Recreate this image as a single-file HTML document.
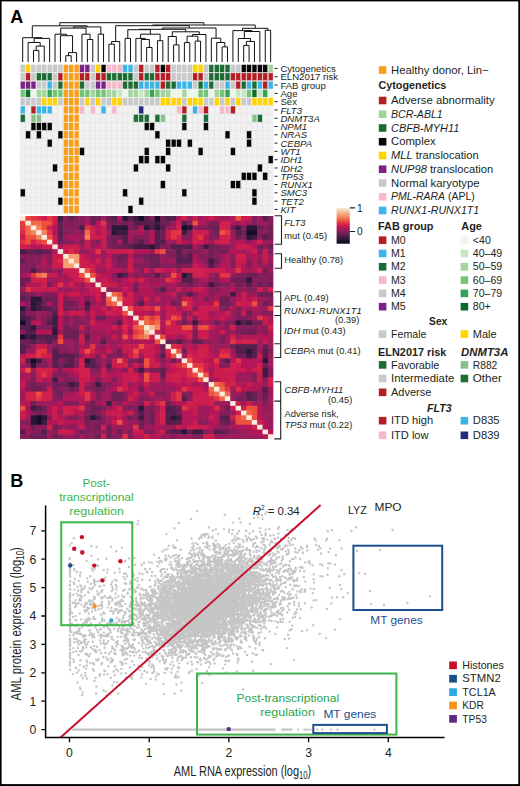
<!DOCTYPE html>
<html><head><meta charset="utf-8"><style>
html,body{margin:0;padding:0;background:#fff;width:520px;height:786px;overflow:hidden}
svg{display:block}
text{font-family:"Liberation Sans",sans-serif}
</style></head><body>
<svg width="520" height="786" viewBox="0 0 520 786" fill="#231f20">
<path d="M33.48 62.00V50.40H38.86V62.00M36.17 50.40V46.10H44.25V62.00M28.09 62.00V42.50H40.21V46.10M34.15 42.50V38.40H49.64V62.00M22.70 62.00V37.70H41.90V38.40M65.81 62.00V55.70H71.20V62.00M68.51 55.70V52.60H76.59V62.00M60.42 62.00V35.70H72.55V52.60M55.03 62.00V34.20H66.49V35.70M87.38 62.00V39.50H92.77V62.00M81.98 62.00V34.20H90.07V39.50M60.76 34.20V28.10H86.03V34.20M98.16 62.00V34.20H103.55V62.00M73.39 28.10V26.90H100.85V34.20M32.30 37.70V25.80H87.12V26.90M108.93 62.00V44.20H114.32V62.00M111.63 44.20V41.50H119.71V62.00M125.10 62.00V38.40H130.50V62.00M146.66 62.00V47.50H152.05V62.00M141.27 62.00V39.50H149.36V47.50M135.88 62.00V38.40H145.32V39.50M157.44 62.00V40.70H162.83V62.00M140.60 38.40V34.20H160.14V40.70M127.80 38.40V29.70H150.37V34.20M173.61 62.00V44.90H179.00V62.00M168.22 62.00V36.50H176.31V44.90M184.39 62.00V42.60H189.78V62.00M195.17 62.00V41.10H200.56V62.00M187.09 42.60V36.20H197.87V41.10M192.48 36.20V34.50H205.95V62.00M172.27 36.50V31.80H199.22V34.50M139.09 29.70V29.30H185.74V31.80M222.12 62.00V46.90H227.51V62.00M216.73 62.00V42.50H224.82V46.90M211.34 62.00V38.20H220.78V42.50M162.41 29.30V28.00H216.06V38.20M115.67 41.50V25.70H189.24V28.00M243.68 62.00V45.40H249.07V62.00M246.38 45.40V41.40H254.46V62.00M238.29 62.00V38.50H250.42V41.40M244.36 38.50V31.50H259.86V62.00M232.91 62.00V30.60H252.11V31.50M265.25 62.00V30.30H270.63V62.00M242.51 30.60V28.30H267.94V30.30M152.46 25.70V25.00H255.22V28.30M59.71 25.80V22.70H203.84V25.00" fill="none" stroke="#111" stroke-width="1"/>
<rect x="20.00" y="64.35" width="253.33" height="149.22" fill="#e3e3e3"/>
<rect x="25.74" y="106.15" width="4.69" height="7.59" fill="#f1f1f1"/><rect x="52.69" y="106.15" width="4.69" height="7.59" fill="#f1f1f1"/><rect x="58.08" y="106.15" width="4.69" height="7.59" fill="#f1f1f1"/><rect x="85.03" y="106.15" width="4.69" height="7.59" fill="#f1f1f1"/><rect x="95.81" y="106.15" width="4.69" height="7.59" fill="#f1f1f1"/><rect x="106.59" y="106.15" width="4.69" height="7.59" fill="#f1f1f1"/><rect x="117.37" y="106.15" width="4.69" height="7.59" fill="#f1f1f1"/><rect x="122.76" y="106.15" width="4.69" height="7.59" fill="#f1f1f1"/><rect x="128.15" y="106.15" width="4.69" height="7.59" fill="#f1f1f1"/><rect x="133.54" y="106.15" width="4.69" height="7.59" fill="#f1f1f1"/><rect x="144.32" y="106.15" width="4.69" height="7.59" fill="#f1f1f1"/><rect x="149.71" y="106.15" width="4.69" height="7.59" fill="#f1f1f1"/><rect x="155.10" y="106.15" width="4.69" height="7.59" fill="#f1f1f1"/><rect x="160.49" y="106.15" width="4.69" height="7.59" fill="#f1f1f1"/><rect x="165.88" y="106.15" width="4.69" height="7.59" fill="#f1f1f1"/><rect x="171.27" y="106.15" width="4.69" height="7.59" fill="#f1f1f1"/><rect x="187.44" y="106.15" width="4.69" height="7.59" fill="#f1f1f1"/><rect x="209.00" y="106.15" width="4.69" height="7.59" fill="#f1f1f1"/><rect x="214.39" y="106.15" width="4.69" height="7.59" fill="#f1f1f1"/><rect x="235.95" y="106.15" width="4.69" height="7.59" fill="#f1f1f1"/><rect x="241.34" y="106.15" width="4.69" height="7.59" fill="#f1f1f1"/><rect x="246.73" y="106.15" width="4.69" height="7.59" fill="#f1f1f1"/><rect x="252.12" y="106.15" width="4.69" height="7.59" fill="#f1f1f1"/><rect x="257.51" y="106.15" width="4.69" height="7.59" fill="#f1f1f1"/><rect x="262.90" y="106.15" width="4.69" height="7.59" fill="#f1f1f1"/><rect x="268.29" y="106.15" width="4.69" height="7.59" fill="#f1f1f1"/><rect x="25.74" y="114.44" width="4.69" height="7.59" fill="#f1f1f1"/><rect x="41.91" y="114.44" width="4.69" height="7.59" fill="#f1f1f1"/><rect x="47.30" y="114.44" width="4.69" height="7.59" fill="#f1f1f1"/><rect x="52.69" y="114.44" width="4.69" height="7.59" fill="#f1f1f1"/><rect x="58.08" y="114.44" width="4.69" height="7.59" fill="#f1f1f1"/><rect x="79.64" y="114.44" width="4.69" height="7.59" fill="#f1f1f1"/><rect x="85.03" y="114.44" width="4.69" height="7.59" fill="#f1f1f1"/><rect x="90.42" y="114.44" width="4.69" height="7.59" fill="#f1f1f1"/><rect x="95.81" y="114.44" width="4.69" height="7.59" fill="#f1f1f1"/><rect x="101.20" y="114.44" width="4.69" height="7.59" fill="#f1f1f1"/><rect x="106.59" y="114.44" width="4.69" height="7.59" fill="#f1f1f1"/><rect x="111.98" y="114.44" width="4.69" height="7.59" fill="#f1f1f1"/><rect x="117.37" y="114.44" width="4.69" height="7.59" fill="#f1f1f1"/><rect x="122.76" y="114.44" width="4.69" height="7.59" fill="#f1f1f1"/><rect x="128.15" y="114.44" width="4.69" height="7.59" fill="#f1f1f1"/><rect x="149.71" y="114.44" width="4.69" height="7.59" fill="#f1f1f1"/><rect x="165.88" y="114.44" width="4.69" height="7.59" fill="#f1f1f1"/><rect x="171.27" y="114.44" width="4.69" height="7.59" fill="#f1f1f1"/><rect x="176.66" y="114.44" width="4.69" height="7.59" fill="#f1f1f1"/><rect x="187.44" y="114.44" width="4.69" height="7.59" fill="#f1f1f1"/><rect x="192.83" y="114.44" width="4.69" height="7.59" fill="#f1f1f1"/><rect x="198.22" y="114.44" width="4.69" height="7.59" fill="#f1f1f1"/><rect x="209.00" y="114.44" width="4.69" height="7.59" fill="#f1f1f1"/><rect x="214.39" y="114.44" width="4.69" height="7.59" fill="#f1f1f1"/><rect x="219.78" y="114.44" width="4.69" height="7.59" fill="#f1f1f1"/><rect x="225.17" y="114.44" width="4.69" height="7.59" fill="#f1f1f1"/><rect x="230.56" y="114.44" width="4.69" height="7.59" fill="#f1f1f1"/><rect x="235.95" y="114.44" width="4.69" height="7.59" fill="#f1f1f1"/><rect x="241.34" y="114.44" width="4.69" height="7.59" fill="#f1f1f1"/><rect x="246.73" y="114.44" width="4.69" height="7.59" fill="#f1f1f1"/><rect x="262.90" y="114.44" width="4.69" height="7.59" fill="#f1f1f1"/><rect x="268.29" y="114.44" width="4.69" height="7.59" fill="#f1f1f1"/><rect x="20.35" y="122.73" width="4.69" height="7.59" fill="#f1f1f1"/><rect x="25.74" y="122.73" width="4.69" height="7.59" fill="#f1f1f1"/><rect x="52.69" y="122.73" width="4.69" height="7.59" fill="#f1f1f1"/><rect x="58.08" y="122.73" width="4.69" height="7.59" fill="#f1f1f1"/><rect x="79.64" y="122.73" width="4.69" height="7.59" fill="#f1f1f1"/><rect x="85.03" y="122.73" width="4.69" height="7.59" fill="#f1f1f1"/><rect x="90.42" y="122.73" width="4.69" height="7.59" fill="#f1f1f1"/><rect x="95.81" y="122.73" width="4.69" height="7.59" fill="#f1f1f1"/><rect x="101.20" y="122.73" width="4.69" height="7.59" fill="#f1f1f1"/><rect x="106.59" y="122.73" width="4.69" height="7.59" fill="#f1f1f1"/><rect x="111.98" y="122.73" width="4.69" height="7.59" fill="#f1f1f1"/><rect x="117.37" y="122.73" width="4.69" height="7.59" fill="#f1f1f1"/><rect x="122.76" y="122.73" width="4.69" height="7.59" fill="#f1f1f1"/><rect x="128.15" y="122.73" width="4.69" height="7.59" fill="#f1f1f1"/><rect x="133.54" y="122.73" width="4.69" height="7.59" fill="#f1f1f1"/><rect x="138.93" y="122.73" width="4.69" height="7.59" fill="#f1f1f1"/><rect x="155.10" y="122.73" width="4.69" height="7.59" fill="#f1f1f1"/><rect x="160.49" y="122.73" width="4.69" height="7.59" fill="#f1f1f1"/><rect x="165.88" y="122.73" width="4.69" height="7.59" fill="#f1f1f1"/><rect x="171.27" y="122.73" width="4.69" height="7.59" fill="#f1f1f1"/><rect x="176.66" y="122.73" width="4.69" height="7.59" fill="#f1f1f1"/><rect x="187.44" y="122.73" width="4.69" height="7.59" fill="#f1f1f1"/><rect x="192.83" y="122.73" width="4.69" height="7.59" fill="#f1f1f1"/><rect x="198.22" y="122.73" width="4.69" height="7.59" fill="#f1f1f1"/><rect x="209.00" y="122.73" width="4.69" height="7.59" fill="#f1f1f1"/><rect x="214.39" y="122.73" width="4.69" height="7.59" fill="#f1f1f1"/><rect x="219.78" y="122.73" width="4.69" height="7.59" fill="#f1f1f1"/><rect x="225.17" y="122.73" width="4.69" height="7.59" fill="#f1f1f1"/><rect x="230.56" y="122.73" width="4.69" height="7.59" fill="#f1f1f1"/><rect x="235.95" y="122.73" width="4.69" height="7.59" fill="#f1f1f1"/><rect x="241.34" y="122.73" width="4.69" height="7.59" fill="#f1f1f1"/><rect x="246.73" y="122.73" width="4.69" height="7.59" fill="#f1f1f1"/><rect x="252.12" y="122.73" width="4.69" height="7.59" fill="#f1f1f1"/><rect x="257.51" y="122.73" width="4.69" height="7.59" fill="#f1f1f1"/><rect x="262.90" y="122.73" width="4.69" height="7.59" fill="#f1f1f1"/><rect x="268.29" y="122.73" width="4.69" height="7.59" fill="#f1f1f1"/><rect x="20.35" y="131.02" width="4.69" height="7.59" fill="#f1f1f1"/><rect x="31.13" y="131.02" width="4.69" height="7.59" fill="#f1f1f1"/><rect x="41.91" y="131.02" width="4.69" height="7.59" fill="#f1f1f1"/><rect x="47.30" y="131.02" width="4.69" height="7.59" fill="#f1f1f1"/><rect x="52.69" y="131.02" width="4.69" height="7.59" fill="#f1f1f1"/><rect x="79.64" y="131.02" width="4.69" height="7.59" fill="#f1f1f1"/><rect x="85.03" y="131.02" width="4.69" height="7.59" fill="#f1f1f1"/><rect x="90.42" y="131.02" width="4.69" height="7.59" fill="#f1f1f1"/><rect x="95.81" y="131.02" width="4.69" height="7.59" fill="#f1f1f1"/><rect x="101.20" y="131.02" width="4.69" height="7.59" fill="#f1f1f1"/><rect x="106.59" y="131.02" width="4.69" height="7.59" fill="#f1f1f1"/><rect x="111.98" y="131.02" width="4.69" height="7.59" fill="#f1f1f1"/><rect x="117.37" y="131.02" width="4.69" height="7.59" fill="#f1f1f1"/><rect x="122.76" y="131.02" width="4.69" height="7.59" fill="#f1f1f1"/><rect x="128.15" y="131.02" width="4.69" height="7.59" fill="#f1f1f1"/><rect x="133.54" y="131.02" width="4.69" height="7.59" fill="#f1f1f1"/><rect x="138.93" y="131.02" width="4.69" height="7.59" fill="#f1f1f1"/><rect x="144.32" y="131.02" width="4.69" height="7.59" fill="#f1f1f1"/><rect x="149.71" y="131.02" width="4.69" height="7.59" fill="#f1f1f1"/><rect x="160.49" y="131.02" width="4.69" height="7.59" fill="#f1f1f1"/><rect x="165.88" y="131.02" width="4.69" height="7.59" fill="#f1f1f1"/><rect x="171.27" y="131.02" width="4.69" height="7.59" fill="#f1f1f1"/><rect x="176.66" y="131.02" width="4.69" height="7.59" fill="#f1f1f1"/><rect x="182.05" y="131.02" width="4.69" height="7.59" fill="#f1f1f1"/><rect x="187.44" y="131.02" width="4.69" height="7.59" fill="#f1f1f1"/><rect x="192.83" y="131.02" width="4.69" height="7.59" fill="#f1f1f1"/><rect x="198.22" y="131.02" width="4.69" height="7.59" fill="#f1f1f1"/><rect x="203.61" y="131.02" width="4.69" height="7.59" fill="#f1f1f1"/><rect x="209.00" y="131.02" width="4.69" height="7.59" fill="#f1f1f1"/><rect x="214.39" y="131.02" width="4.69" height="7.59" fill="#f1f1f1"/><rect x="219.78" y="131.02" width="4.69" height="7.59" fill="#f1f1f1"/><rect x="230.56" y="131.02" width="4.69" height="7.59" fill="#f1f1f1"/><rect x="235.95" y="131.02" width="4.69" height="7.59" fill="#f1f1f1"/><rect x="241.34" y="131.02" width="4.69" height="7.59" fill="#f1f1f1"/><rect x="252.12" y="131.02" width="4.69" height="7.59" fill="#f1f1f1"/><rect x="257.51" y="131.02" width="4.69" height="7.59" fill="#f1f1f1"/><rect x="262.90" y="131.02" width="4.69" height="7.59" fill="#f1f1f1"/><rect x="268.29" y="131.02" width="4.69" height="7.59" fill="#f1f1f1"/><rect x="20.35" y="139.31" width="4.69" height="7.59" fill="#f1f1f1"/><rect x="25.74" y="139.31" width="4.69" height="7.59" fill="#f1f1f1"/><rect x="31.13" y="139.31" width="4.69" height="7.59" fill="#f1f1f1"/><rect x="36.52" y="139.31" width="4.69" height="7.59" fill="#f1f1f1"/><rect x="41.91" y="139.31" width="4.69" height="7.59" fill="#f1f1f1"/><rect x="52.69" y="139.31" width="4.69" height="7.59" fill="#f1f1f1"/><rect x="58.08" y="139.31" width="4.69" height="7.59" fill="#f1f1f1"/><rect x="79.64" y="139.31" width="4.69" height="7.59" fill="#f1f1f1"/><rect x="85.03" y="139.31" width="4.69" height="7.59" fill="#f1f1f1"/><rect x="90.42" y="139.31" width="4.69" height="7.59" fill="#f1f1f1"/><rect x="95.81" y="139.31" width="4.69" height="7.59" fill="#f1f1f1"/><rect x="101.20" y="139.31" width="4.69" height="7.59" fill="#f1f1f1"/><rect x="106.59" y="139.31" width="4.69" height="7.59" fill="#f1f1f1"/><rect x="111.98" y="139.31" width="4.69" height="7.59" fill="#f1f1f1"/><rect x="117.37" y="139.31" width="4.69" height="7.59" fill="#f1f1f1"/><rect x="122.76" y="139.31" width="4.69" height="7.59" fill="#f1f1f1"/><rect x="128.15" y="139.31" width="4.69" height="7.59" fill="#f1f1f1"/><rect x="133.54" y="139.31" width="4.69" height="7.59" fill="#f1f1f1"/><rect x="138.93" y="139.31" width="4.69" height="7.59" fill="#f1f1f1"/><rect x="144.32" y="139.31" width="4.69" height="7.59" fill="#f1f1f1"/><rect x="149.71" y="139.31" width="4.69" height="7.59" fill="#f1f1f1"/><rect x="155.10" y="139.31" width="4.69" height="7.59" fill="#f1f1f1"/><rect x="160.49" y="139.31" width="4.69" height="7.59" fill="#f1f1f1"/><rect x="182.05" y="139.31" width="4.69" height="7.59" fill="#f1f1f1"/><rect x="192.83" y="139.31" width="4.69" height="7.59" fill="#f1f1f1"/><rect x="198.22" y="139.31" width="4.69" height="7.59" fill="#f1f1f1"/><rect x="203.61" y="139.31" width="4.69" height="7.59" fill="#f1f1f1"/><rect x="209.00" y="139.31" width="4.69" height="7.59" fill="#f1f1f1"/><rect x="214.39" y="139.31" width="4.69" height="7.59" fill="#f1f1f1"/><rect x="219.78" y="139.31" width="4.69" height="7.59" fill="#f1f1f1"/><rect x="225.17" y="139.31" width="4.69" height="7.59" fill="#f1f1f1"/><rect x="230.56" y="139.31" width="4.69" height="7.59" fill="#f1f1f1"/><rect x="235.95" y="139.31" width="4.69" height="7.59" fill="#f1f1f1"/><rect x="241.34" y="139.31" width="4.69" height="7.59" fill="#f1f1f1"/><rect x="252.12" y="139.31" width="4.69" height="7.59" fill="#f1f1f1"/><rect x="257.51" y="139.31" width="4.69" height="7.59" fill="#f1f1f1"/><rect x="262.90" y="139.31" width="4.69" height="7.59" fill="#f1f1f1"/><rect x="268.29" y="139.31" width="4.69" height="7.59" fill="#f1f1f1"/><rect x="20.35" y="147.60" width="4.69" height="7.59" fill="#f1f1f1"/><rect x="25.74" y="147.60" width="4.69" height="7.59" fill="#f1f1f1"/><rect x="31.13" y="147.60" width="4.69" height="7.59" fill="#f1f1f1"/><rect x="36.52" y="147.60" width="4.69" height="7.59" fill="#f1f1f1"/><rect x="41.91" y="147.60" width="4.69" height="7.59" fill="#f1f1f1"/><rect x="47.30" y="147.60" width="4.69" height="7.59" fill="#f1f1f1"/><rect x="52.69" y="147.60" width="4.69" height="7.59" fill="#f1f1f1"/><rect x="58.08" y="147.60" width="4.69" height="7.59" fill="#f1f1f1"/><rect x="85.03" y="147.60" width="4.69" height="7.59" fill="#f1f1f1"/><rect x="90.42" y="147.60" width="4.69" height="7.59" fill="#f1f1f1"/><rect x="95.81" y="147.60" width="4.69" height="7.59" fill="#f1f1f1"/><rect x="101.20" y="147.60" width="4.69" height="7.59" fill="#f1f1f1"/><rect x="106.59" y="147.60" width="4.69" height="7.59" fill="#f1f1f1"/><rect x="111.98" y="147.60" width="4.69" height="7.59" fill="#f1f1f1"/><rect x="117.37" y="147.60" width="4.69" height="7.59" fill="#f1f1f1"/><rect x="122.76" y="147.60" width="4.69" height="7.59" fill="#f1f1f1"/><rect x="128.15" y="147.60" width="4.69" height="7.59" fill="#f1f1f1"/><rect x="133.54" y="147.60" width="4.69" height="7.59" fill="#f1f1f1"/><rect x="138.93" y="147.60" width="4.69" height="7.59" fill="#f1f1f1"/><rect x="149.71" y="147.60" width="4.69" height="7.59" fill="#f1f1f1"/><rect x="155.10" y="147.60" width="4.69" height="7.59" fill="#f1f1f1"/><rect x="160.49" y="147.60" width="4.69" height="7.59" fill="#f1f1f1"/><rect x="171.27" y="147.60" width="4.69" height="7.59" fill="#f1f1f1"/><rect x="176.66" y="147.60" width="4.69" height="7.59" fill="#f1f1f1"/><rect x="182.05" y="147.60" width="4.69" height="7.59" fill="#f1f1f1"/><rect x="187.44" y="147.60" width="4.69" height="7.59" fill="#f1f1f1"/><rect x="192.83" y="147.60" width="4.69" height="7.59" fill="#f1f1f1"/><rect x="203.61" y="147.60" width="4.69" height="7.59" fill="#f1f1f1"/><rect x="209.00" y="147.60" width="4.69" height="7.59" fill="#f1f1f1"/><rect x="214.39" y="147.60" width="4.69" height="7.59" fill="#f1f1f1"/><rect x="219.78" y="147.60" width="4.69" height="7.59" fill="#f1f1f1"/><rect x="225.17" y="147.60" width="4.69" height="7.59" fill="#f1f1f1"/><rect x="235.95" y="147.60" width="4.69" height="7.59" fill="#f1f1f1"/><rect x="241.34" y="147.60" width="4.69" height="7.59" fill="#f1f1f1"/><rect x="246.73" y="147.60" width="4.69" height="7.59" fill="#f1f1f1"/><rect x="252.12" y="147.60" width="4.69" height="7.59" fill="#f1f1f1"/><rect x="257.51" y="147.60" width="4.69" height="7.59" fill="#f1f1f1"/><rect x="262.90" y="147.60" width="4.69" height="7.59" fill="#f1f1f1"/><rect x="268.29" y="147.60" width="4.69" height="7.59" fill="#f1f1f1"/><rect x="20.35" y="155.89" width="4.69" height="7.59" fill="#f1f1f1"/><rect x="25.74" y="155.89" width="4.69" height="7.59" fill="#f1f1f1"/><rect x="31.13" y="155.89" width="4.69" height="7.59" fill="#f1f1f1"/><rect x="36.52" y="155.89" width="4.69" height="7.59" fill="#f1f1f1"/><rect x="41.91" y="155.89" width="4.69" height="7.59" fill="#f1f1f1"/><rect x="47.30" y="155.89" width="4.69" height="7.59" fill="#f1f1f1"/><rect x="52.69" y="155.89" width="4.69" height="7.59" fill="#f1f1f1"/><rect x="58.08" y="155.89" width="4.69" height="7.59" fill="#f1f1f1"/><rect x="79.64" y="155.89" width="4.69" height="7.59" fill="#f1f1f1"/><rect x="85.03" y="155.89" width="4.69" height="7.59" fill="#f1f1f1"/><rect x="90.42" y="155.89" width="4.69" height="7.59" fill="#f1f1f1"/><rect x="95.81" y="155.89" width="4.69" height="7.59" fill="#f1f1f1"/><rect x="101.20" y="155.89" width="4.69" height="7.59" fill="#f1f1f1"/><rect x="106.59" y="155.89" width="4.69" height="7.59" fill="#f1f1f1"/><rect x="111.98" y="155.89" width="4.69" height="7.59" fill="#f1f1f1"/><rect x="117.37" y="155.89" width="4.69" height="7.59" fill="#f1f1f1"/><rect x="122.76" y="155.89" width="4.69" height="7.59" fill="#f1f1f1"/><rect x="128.15" y="155.89" width="4.69" height="7.59" fill="#f1f1f1"/><rect x="133.54" y="155.89" width="4.69" height="7.59" fill="#f1f1f1"/><rect x="149.71" y="155.89" width="4.69" height="7.59" fill="#f1f1f1"/><rect x="165.88" y="155.89" width="4.69" height="7.59" fill="#f1f1f1"/><rect x="171.27" y="155.89" width="4.69" height="7.59" fill="#f1f1f1"/><rect x="176.66" y="155.89" width="4.69" height="7.59" fill="#f1f1f1"/><rect x="182.05" y="155.89" width="4.69" height="7.59" fill="#f1f1f1"/><rect x="187.44" y="155.89" width="4.69" height="7.59" fill="#f1f1f1"/><rect x="192.83" y="155.89" width="4.69" height="7.59" fill="#f1f1f1"/><rect x="198.22" y="155.89" width="4.69" height="7.59" fill="#f1f1f1"/><rect x="203.61" y="155.89" width="4.69" height="7.59" fill="#f1f1f1"/><rect x="209.00" y="155.89" width="4.69" height="7.59" fill="#f1f1f1"/><rect x="214.39" y="155.89" width="4.69" height="7.59" fill="#f1f1f1"/><rect x="219.78" y="155.89" width="4.69" height="7.59" fill="#f1f1f1"/><rect x="225.17" y="155.89" width="4.69" height="7.59" fill="#f1f1f1"/><rect x="230.56" y="155.89" width="4.69" height="7.59" fill="#f1f1f1"/><rect x="235.95" y="155.89" width="4.69" height="7.59" fill="#f1f1f1"/><rect x="241.34" y="155.89" width="4.69" height="7.59" fill="#f1f1f1"/><rect x="246.73" y="155.89" width="4.69" height="7.59" fill="#f1f1f1"/><rect x="252.12" y="155.89" width="4.69" height="7.59" fill="#f1f1f1"/><rect x="257.51" y="155.89" width="4.69" height="7.59" fill="#f1f1f1"/><rect x="262.90" y="155.89" width="4.69" height="7.59" fill="#f1f1f1"/><rect x="20.35" y="164.18" width="4.69" height="7.59" fill="#f1f1f1"/><rect x="25.74" y="164.18" width="4.69" height="7.59" fill="#f1f1f1"/><rect x="31.13" y="164.18" width="4.69" height="7.59" fill="#f1f1f1"/><rect x="36.52" y="164.18" width="4.69" height="7.59" fill="#f1f1f1"/><rect x="41.91" y="164.18" width="4.69" height="7.59" fill="#f1f1f1"/><rect x="47.30" y="164.18" width="4.69" height="7.59" fill="#f1f1f1"/><rect x="58.08" y="164.18" width="4.69" height="7.59" fill="#f1f1f1"/><rect x="79.64" y="164.18" width="4.69" height="7.59" fill="#f1f1f1"/><rect x="85.03" y="164.18" width="4.69" height="7.59" fill="#f1f1f1"/><rect x="90.42" y="164.18" width="4.69" height="7.59" fill="#f1f1f1"/><rect x="95.81" y="164.18" width="4.69" height="7.59" fill="#f1f1f1"/><rect x="101.20" y="164.18" width="4.69" height="7.59" fill="#f1f1f1"/><rect x="106.59" y="164.18" width="4.69" height="7.59" fill="#f1f1f1"/><rect x="111.98" y="164.18" width="4.69" height="7.59" fill="#f1f1f1"/><rect x="117.37" y="164.18" width="4.69" height="7.59" fill="#f1f1f1"/><rect x="122.76" y="164.18" width="4.69" height="7.59" fill="#f1f1f1"/><rect x="128.15" y="164.18" width="4.69" height="7.59" fill="#f1f1f1"/><rect x="138.93" y="164.18" width="4.69" height="7.59" fill="#f1f1f1"/><rect x="144.32" y="164.18" width="4.69" height="7.59" fill="#f1f1f1"/><rect x="149.71" y="164.18" width="4.69" height="7.59" fill="#f1f1f1"/><rect x="155.10" y="164.18" width="4.69" height="7.59" fill="#f1f1f1"/><rect x="160.49" y="164.18" width="4.69" height="7.59" fill="#f1f1f1"/><rect x="171.27" y="164.18" width="4.69" height="7.59" fill="#f1f1f1"/><rect x="176.66" y="164.18" width="4.69" height="7.59" fill="#f1f1f1"/><rect x="182.05" y="164.18" width="4.69" height="7.59" fill="#f1f1f1"/><rect x="187.44" y="164.18" width="4.69" height="7.59" fill="#f1f1f1"/><rect x="192.83" y="164.18" width="4.69" height="7.59" fill="#f1f1f1"/><rect x="198.22" y="164.18" width="4.69" height="7.59" fill="#f1f1f1"/><rect x="203.61" y="164.18" width="4.69" height="7.59" fill="#f1f1f1"/><rect x="209.00" y="164.18" width="4.69" height="7.59" fill="#f1f1f1"/><rect x="214.39" y="164.18" width="4.69" height="7.59" fill="#f1f1f1"/><rect x="219.78" y="164.18" width="4.69" height="7.59" fill="#f1f1f1"/><rect x="225.17" y="164.18" width="4.69" height="7.59" fill="#f1f1f1"/><rect x="230.56" y="164.18" width="4.69" height="7.59" fill="#f1f1f1"/><rect x="235.95" y="164.18" width="4.69" height="7.59" fill="#f1f1f1"/><rect x="241.34" y="164.18" width="4.69" height="7.59" fill="#f1f1f1"/><rect x="246.73" y="164.18" width="4.69" height="7.59" fill="#f1f1f1"/><rect x="252.12" y="164.18" width="4.69" height="7.59" fill="#f1f1f1"/><rect x="262.90" y="164.18" width="4.69" height="7.59" fill="#f1f1f1"/><rect x="268.29" y="164.18" width="4.69" height="7.59" fill="#f1f1f1"/><rect x="20.35" y="172.47" width="4.69" height="7.59" fill="#f1f1f1"/><rect x="25.74" y="172.47" width="4.69" height="7.59" fill="#f1f1f1"/><rect x="31.13" y="172.47" width="4.69" height="7.59" fill="#f1f1f1"/><rect x="36.52" y="172.47" width="4.69" height="7.59" fill="#f1f1f1"/><rect x="41.91" y="172.47" width="4.69" height="7.59" fill="#f1f1f1"/><rect x="47.30" y="172.47" width="4.69" height="7.59" fill="#f1f1f1"/><rect x="52.69" y="172.47" width="4.69" height="7.59" fill="#f1f1f1"/><rect x="58.08" y="172.47" width="4.69" height="7.59" fill="#f1f1f1"/><rect x="79.64" y="172.47" width="4.69" height="7.59" fill="#f1f1f1"/><rect x="85.03" y="172.47" width="4.69" height="7.59" fill="#f1f1f1"/><rect x="90.42" y="172.47" width="4.69" height="7.59" fill="#f1f1f1"/><rect x="95.81" y="172.47" width="4.69" height="7.59" fill="#f1f1f1"/><rect x="101.20" y="172.47" width="4.69" height="7.59" fill="#f1f1f1"/><rect x="106.59" y="172.47" width="4.69" height="7.59" fill="#f1f1f1"/><rect x="111.98" y="172.47" width="4.69" height="7.59" fill="#f1f1f1"/><rect x="117.37" y="172.47" width="4.69" height="7.59" fill="#f1f1f1"/><rect x="122.76" y="172.47" width="4.69" height="7.59" fill="#f1f1f1"/><rect x="128.15" y="172.47" width="4.69" height="7.59" fill="#f1f1f1"/><rect x="133.54" y="172.47" width="4.69" height="7.59" fill="#f1f1f1"/><rect x="138.93" y="172.47" width="4.69" height="7.59" fill="#f1f1f1"/><rect x="144.32" y="172.47" width="4.69" height="7.59" fill="#f1f1f1"/><rect x="149.71" y="172.47" width="4.69" height="7.59" fill="#f1f1f1"/><rect x="155.10" y="172.47" width="4.69" height="7.59" fill="#f1f1f1"/><rect x="160.49" y="172.47" width="4.69" height="7.59" fill="#f1f1f1"/><rect x="165.88" y="172.47" width="4.69" height="7.59" fill="#f1f1f1"/><rect x="171.27" y="172.47" width="4.69" height="7.59" fill="#f1f1f1"/><rect x="176.66" y="172.47" width="4.69" height="7.59" fill="#f1f1f1"/><rect x="182.05" y="172.47" width="4.69" height="7.59" fill="#f1f1f1"/><rect x="187.44" y="172.47" width="4.69" height="7.59" fill="#f1f1f1"/><rect x="192.83" y="172.47" width="4.69" height="7.59" fill="#f1f1f1"/><rect x="198.22" y="172.47" width="4.69" height="7.59" fill="#f1f1f1"/><rect x="203.61" y="172.47" width="4.69" height="7.59" fill="#f1f1f1"/><rect x="209.00" y="172.47" width="4.69" height="7.59" fill="#f1f1f1"/><rect x="214.39" y="172.47" width="4.69" height="7.59" fill="#f1f1f1"/><rect x="219.78" y="172.47" width="4.69" height="7.59" fill="#f1f1f1"/><rect x="225.17" y="172.47" width="4.69" height="7.59" fill="#f1f1f1"/><rect x="230.56" y="172.47" width="4.69" height="7.59" fill="#f1f1f1"/><rect x="235.95" y="172.47" width="4.69" height="7.59" fill="#f1f1f1"/><rect x="257.51" y="172.47" width="4.69" height="7.59" fill="#f1f1f1"/><rect x="268.29" y="172.47" width="4.69" height="7.59" fill="#f1f1f1"/><rect x="20.35" y="180.76" width="4.69" height="7.59" fill="#f1f1f1"/><rect x="25.74" y="180.76" width="4.69" height="7.59" fill="#f1f1f1"/><rect x="31.13" y="180.76" width="4.69" height="7.59" fill="#f1f1f1"/><rect x="36.52" y="180.76" width="4.69" height="7.59" fill="#f1f1f1"/><rect x="41.91" y="180.76" width="4.69" height="7.59" fill="#f1f1f1"/><rect x="47.30" y="180.76" width="4.69" height="7.59" fill="#f1f1f1"/><rect x="52.69" y="180.76" width="4.69" height="7.59" fill="#f1f1f1"/><rect x="79.64" y="180.76" width="4.69" height="7.59" fill="#f1f1f1"/><rect x="85.03" y="180.76" width="4.69" height="7.59" fill="#f1f1f1"/><rect x="90.42" y="180.76" width="4.69" height="7.59" fill="#f1f1f1"/><rect x="95.81" y="180.76" width="4.69" height="7.59" fill="#f1f1f1"/><rect x="101.20" y="180.76" width="4.69" height="7.59" fill="#f1f1f1"/><rect x="106.59" y="180.76" width="4.69" height="7.59" fill="#f1f1f1"/><rect x="111.98" y="180.76" width="4.69" height="7.59" fill="#f1f1f1"/><rect x="117.37" y="180.76" width="4.69" height="7.59" fill="#f1f1f1"/><rect x="122.76" y="180.76" width="4.69" height="7.59" fill="#f1f1f1"/><rect x="128.15" y="180.76" width="4.69" height="7.59" fill="#f1f1f1"/><rect x="133.54" y="180.76" width="4.69" height="7.59" fill="#f1f1f1"/><rect x="138.93" y="180.76" width="4.69" height="7.59" fill="#f1f1f1"/><rect x="144.32" y="180.76" width="4.69" height="7.59" fill="#f1f1f1"/><rect x="149.71" y="180.76" width="4.69" height="7.59" fill="#f1f1f1"/><rect x="155.10" y="180.76" width="4.69" height="7.59" fill="#f1f1f1"/><rect x="165.88" y="180.76" width="4.69" height="7.59" fill="#f1f1f1"/><rect x="171.27" y="180.76" width="4.69" height="7.59" fill="#f1f1f1"/><rect x="176.66" y="180.76" width="4.69" height="7.59" fill="#f1f1f1"/><rect x="182.05" y="180.76" width="4.69" height="7.59" fill="#f1f1f1"/><rect x="187.44" y="180.76" width="4.69" height="7.59" fill="#f1f1f1"/><rect x="192.83" y="180.76" width="4.69" height="7.59" fill="#f1f1f1"/><rect x="198.22" y="180.76" width="4.69" height="7.59" fill="#f1f1f1"/><rect x="203.61" y="180.76" width="4.69" height="7.59" fill="#f1f1f1"/><rect x="209.00" y="180.76" width="4.69" height="7.59" fill="#f1f1f1"/><rect x="214.39" y="180.76" width="4.69" height="7.59" fill="#f1f1f1"/><rect x="219.78" y="180.76" width="4.69" height="7.59" fill="#f1f1f1"/><rect x="225.17" y="180.76" width="4.69" height="7.59" fill="#f1f1f1"/><rect x="241.34" y="180.76" width="4.69" height="7.59" fill="#f1f1f1"/><rect x="246.73" y="180.76" width="4.69" height="7.59" fill="#f1f1f1"/><rect x="252.12" y="180.76" width="4.69" height="7.59" fill="#f1f1f1"/><rect x="257.51" y="180.76" width="4.69" height="7.59" fill="#f1f1f1"/><rect x="262.90" y="180.76" width="4.69" height="7.59" fill="#f1f1f1"/><rect x="268.29" y="180.76" width="4.69" height="7.59" fill="#f1f1f1"/><rect x="25.74" y="189.05" width="4.69" height="7.59" fill="#f1f1f1"/><rect x="31.13" y="189.05" width="4.69" height="7.59" fill="#f1f1f1"/><rect x="36.52" y="189.05" width="4.69" height="7.59" fill="#f1f1f1"/><rect x="41.91" y="189.05" width="4.69" height="7.59" fill="#f1f1f1"/><rect x="47.30" y="189.05" width="4.69" height="7.59" fill="#f1f1f1"/><rect x="52.69" y="189.05" width="4.69" height="7.59" fill="#f1f1f1"/><rect x="58.08" y="189.05" width="4.69" height="7.59" fill="#f1f1f1"/><rect x="79.64" y="189.05" width="4.69" height="7.59" fill="#f1f1f1"/><rect x="85.03" y="189.05" width="4.69" height="7.59" fill="#f1f1f1"/><rect x="90.42" y="189.05" width="4.69" height="7.59" fill="#f1f1f1"/><rect x="95.81" y="189.05" width="4.69" height="7.59" fill="#f1f1f1"/><rect x="101.20" y="189.05" width="4.69" height="7.59" fill="#f1f1f1"/><rect x="106.59" y="189.05" width="4.69" height="7.59" fill="#f1f1f1"/><rect x="111.98" y="189.05" width="4.69" height="7.59" fill="#f1f1f1"/><rect x="117.37" y="189.05" width="4.69" height="7.59" fill="#f1f1f1"/><rect x="128.15" y="189.05" width="4.69" height="7.59" fill="#f1f1f1"/><rect x="133.54" y="189.05" width="4.69" height="7.59" fill="#f1f1f1"/><rect x="138.93" y="189.05" width="4.69" height="7.59" fill="#f1f1f1"/><rect x="144.32" y="189.05" width="4.69" height="7.59" fill="#f1f1f1"/><rect x="149.71" y="189.05" width="4.69" height="7.59" fill="#f1f1f1"/><rect x="155.10" y="189.05" width="4.69" height="7.59" fill="#f1f1f1"/><rect x="160.49" y="189.05" width="4.69" height="7.59" fill="#f1f1f1"/><rect x="165.88" y="189.05" width="4.69" height="7.59" fill="#f1f1f1"/><rect x="171.27" y="189.05" width="4.69" height="7.59" fill="#f1f1f1"/><rect x="176.66" y="189.05" width="4.69" height="7.59" fill="#f1f1f1"/><rect x="187.44" y="189.05" width="4.69" height="7.59" fill="#f1f1f1"/><rect x="192.83" y="189.05" width="4.69" height="7.59" fill="#f1f1f1"/><rect x="198.22" y="189.05" width="4.69" height="7.59" fill="#f1f1f1"/><rect x="203.61" y="189.05" width="4.69" height="7.59" fill="#f1f1f1"/><rect x="209.00" y="189.05" width="4.69" height="7.59" fill="#f1f1f1"/><rect x="214.39" y="189.05" width="4.69" height="7.59" fill="#f1f1f1"/><rect x="219.78" y="189.05" width="4.69" height="7.59" fill="#f1f1f1"/><rect x="225.17" y="189.05" width="4.69" height="7.59" fill="#f1f1f1"/><rect x="230.56" y="189.05" width="4.69" height="7.59" fill="#f1f1f1"/><rect x="235.95" y="189.05" width="4.69" height="7.59" fill="#f1f1f1"/><rect x="241.34" y="189.05" width="4.69" height="7.59" fill="#f1f1f1"/><rect x="246.73" y="189.05" width="4.69" height="7.59" fill="#f1f1f1"/><rect x="257.51" y="189.05" width="4.69" height="7.59" fill="#f1f1f1"/><rect x="262.90" y="189.05" width="4.69" height="7.59" fill="#f1f1f1"/><rect x="268.29" y="189.05" width="4.69" height="7.59" fill="#f1f1f1"/><rect x="20.35" y="197.34" width="4.69" height="7.59" fill="#f1f1f1"/><rect x="25.74" y="197.34" width="4.69" height="7.59" fill="#f1f1f1"/><rect x="31.13" y="197.34" width="4.69" height="7.59" fill="#f1f1f1"/><rect x="36.52" y="197.34" width="4.69" height="7.59" fill="#f1f1f1"/><rect x="41.91" y="197.34" width="4.69" height="7.59" fill="#f1f1f1"/><rect x="47.30" y="197.34" width="4.69" height="7.59" fill="#f1f1f1"/><rect x="52.69" y="197.34" width="4.69" height="7.59" fill="#f1f1f1"/><rect x="79.64" y="197.34" width="4.69" height="7.59" fill="#f1f1f1"/><rect x="85.03" y="197.34" width="4.69" height="7.59" fill="#f1f1f1"/><rect x="90.42" y="197.34" width="4.69" height="7.59" fill="#f1f1f1"/><rect x="95.81" y="197.34" width="4.69" height="7.59" fill="#f1f1f1"/><rect x="101.20" y="197.34" width="4.69" height="7.59" fill="#f1f1f1"/><rect x="106.59" y="197.34" width="4.69" height="7.59" fill="#f1f1f1"/><rect x="111.98" y="197.34" width="4.69" height="7.59" fill="#f1f1f1"/><rect x="117.37" y="197.34" width="4.69" height="7.59" fill="#f1f1f1"/><rect x="122.76" y="197.34" width="4.69" height="7.59" fill="#f1f1f1"/><rect x="128.15" y="197.34" width="4.69" height="7.59" fill="#f1f1f1"/><rect x="133.54" y="197.34" width="4.69" height="7.59" fill="#f1f1f1"/><rect x="144.32" y="197.34" width="4.69" height="7.59" fill="#f1f1f1"/><rect x="149.71" y="197.34" width="4.69" height="7.59" fill="#f1f1f1"/><rect x="155.10" y="197.34" width="4.69" height="7.59" fill="#f1f1f1"/><rect x="160.49" y="197.34" width="4.69" height="7.59" fill="#f1f1f1"/><rect x="165.88" y="197.34" width="4.69" height="7.59" fill="#f1f1f1"/><rect x="171.27" y="197.34" width="4.69" height="7.59" fill="#f1f1f1"/><rect x="176.66" y="197.34" width="4.69" height="7.59" fill="#f1f1f1"/><rect x="182.05" y="197.34" width="4.69" height="7.59" fill="#f1f1f1"/><rect x="187.44" y="197.34" width="4.69" height="7.59" fill="#f1f1f1"/><rect x="192.83" y="197.34" width="4.69" height="7.59" fill="#f1f1f1"/><rect x="198.22" y="197.34" width="4.69" height="7.59" fill="#f1f1f1"/><rect x="203.61" y="197.34" width="4.69" height="7.59" fill="#f1f1f1"/><rect x="209.00" y="197.34" width="4.69" height="7.59" fill="#f1f1f1"/><rect x="214.39" y="197.34" width="4.69" height="7.59" fill="#f1f1f1"/><rect x="219.78" y="197.34" width="4.69" height="7.59" fill="#f1f1f1"/><rect x="225.17" y="197.34" width="4.69" height="7.59" fill="#f1f1f1"/><rect x="230.56" y="197.34" width="4.69" height="7.59" fill="#f1f1f1"/><rect x="235.95" y="197.34" width="4.69" height="7.59" fill="#f1f1f1"/><rect x="241.34" y="197.34" width="4.69" height="7.59" fill="#f1f1f1"/><rect x="246.73" y="197.34" width="4.69" height="7.59" fill="#f1f1f1"/><rect x="257.51" y="197.34" width="4.69" height="7.59" fill="#f1f1f1"/><rect x="262.90" y="197.34" width="4.69" height="7.59" fill="#f1f1f1"/><rect x="268.29" y="197.34" width="4.69" height="7.59" fill="#f1f1f1"/><rect x="20.35" y="205.63" width="4.69" height="7.59" fill="#f1f1f1"/><rect x="25.74" y="205.63" width="4.69" height="7.59" fill="#f1f1f1"/><rect x="31.13" y="205.63" width="4.69" height="7.59" fill="#f1f1f1"/><rect x="36.52" y="205.63" width="4.69" height="7.59" fill="#f1f1f1"/><rect x="41.91" y="205.63" width="4.69" height="7.59" fill="#f1f1f1"/><rect x="47.30" y="205.63" width="4.69" height="7.59" fill="#f1f1f1"/><rect x="52.69" y="205.63" width="4.69" height="7.59" fill="#f1f1f1"/><rect x="58.08" y="205.63" width="4.69" height="7.59" fill="#f1f1f1"/><rect x="79.64" y="205.63" width="4.69" height="7.59" fill="#f1f1f1"/><rect x="85.03" y="205.63" width="4.69" height="7.59" fill="#f1f1f1"/><rect x="90.42" y="205.63" width="4.69" height="7.59" fill="#f1f1f1"/><rect x="95.81" y="205.63" width="4.69" height="7.59" fill="#f1f1f1"/><rect x="101.20" y="205.63" width="4.69" height="7.59" fill="#f1f1f1"/><rect x="106.59" y="205.63" width="4.69" height="7.59" fill="#f1f1f1"/><rect x="111.98" y="205.63" width="4.69" height="7.59" fill="#f1f1f1"/><rect x="117.37" y="205.63" width="4.69" height="7.59" fill="#f1f1f1"/><rect x="122.76" y="205.63" width="4.69" height="7.59" fill="#f1f1f1"/><rect x="133.54" y="205.63" width="4.69" height="7.59" fill="#f1f1f1"/><rect x="138.93" y="205.63" width="4.69" height="7.59" fill="#f1f1f1"/><rect x="144.32" y="205.63" width="4.69" height="7.59" fill="#f1f1f1"/><rect x="149.71" y="205.63" width="4.69" height="7.59" fill="#f1f1f1"/><rect x="155.10" y="205.63" width="4.69" height="7.59" fill="#f1f1f1"/><rect x="160.49" y="205.63" width="4.69" height="7.59" fill="#f1f1f1"/><rect x="165.88" y="205.63" width="4.69" height="7.59" fill="#f1f1f1"/><rect x="171.27" y="205.63" width="4.69" height="7.59" fill="#f1f1f1"/><rect x="176.66" y="205.63" width="4.69" height="7.59" fill="#f1f1f1"/><rect x="182.05" y="205.63" width="4.69" height="7.59" fill="#f1f1f1"/><rect x="187.44" y="205.63" width="4.69" height="7.59" fill="#f1f1f1"/><rect x="192.83" y="205.63" width="4.69" height="7.59" fill="#f1f1f1"/><rect x="198.22" y="205.63" width="4.69" height="7.59" fill="#f1f1f1"/><rect x="203.61" y="205.63" width="4.69" height="7.59" fill="#f1f1f1"/><rect x="209.00" y="205.63" width="4.69" height="7.59" fill="#f1f1f1"/><rect x="214.39" y="205.63" width="4.69" height="7.59" fill="#f1f1f1"/><rect x="219.78" y="205.63" width="4.69" height="7.59" fill="#f1f1f1"/><rect x="225.17" y="205.63" width="4.69" height="7.59" fill="#f1f1f1"/><rect x="230.56" y="205.63" width="4.69" height="7.59" fill="#f1f1f1"/><rect x="235.95" y="205.63" width="4.69" height="7.59" fill="#f1f1f1"/><rect x="241.34" y="205.63" width="4.69" height="7.59" fill="#f1f1f1"/><rect x="246.73" y="205.63" width="4.69" height="7.59" fill="#f1f1f1"/><rect x="252.12" y="205.63" width="4.69" height="7.59" fill="#f1f1f1"/><rect x="257.51" y="205.63" width="4.69" height="7.59" fill="#f1f1f1"/><rect x="262.90" y="205.63" width="4.69" height="7.59" fill="#f1f1f1"/><rect x="268.29" y="205.63" width="4.69" height="7.59" fill="#f1f1f1"/><rect x="20.25" y="64.60" width="4.89" height="7.79" fill="#c8c9cb" stroke="#f8f8f8" stroke-width="0.45"/><rect x="25.64" y="64.60" width="4.89" height="7.79" fill="#ffd400" stroke="#f8f8f8" stroke-width="0.45"/><rect x="31.03" y="64.60" width="4.89" height="7.79" fill="#c8c9cb" stroke="#f8f8f8" stroke-width="0.45"/><rect x="36.42" y="64.60" width="4.89" height="7.79" fill="#c8c9cb" stroke="#f8f8f8" stroke-width="0.45"/><rect x="41.81" y="64.60" width="4.89" height="7.79" fill="#c8c9cb" stroke="#f8f8f8" stroke-width="0.45"/><rect x="47.20" y="64.60" width="4.89" height="7.79" fill="#c8c9cb" stroke="#f8f8f8" stroke-width="0.45"/><rect x="52.59" y="64.60" width="4.89" height="7.79" fill="#c8c9cb" stroke="#f8f8f8" stroke-width="0.45"/><rect x="57.98" y="64.60" width="4.89" height="7.79" fill="#c8c9cb" stroke="#f8f8f8" stroke-width="0.45"/><rect x="63.37" y="64.60" width="4.89" height="7.79" fill="#f8a01b" stroke="#f8f8f8" stroke-width="0.45"/><rect x="68.76" y="64.60" width="4.89" height="7.79" fill="#f8a01b" stroke="#f8f8f8" stroke-width="0.45"/><rect x="74.15" y="64.60" width="4.89" height="7.79" fill="#f8a01b" stroke="#f8f8f8" stroke-width="0.45"/><rect x="79.54" y="64.60" width="4.89" height="7.79" fill="#7b2188" stroke="#f8f8f8" stroke-width="0.45"/><rect x="84.93" y="64.60" width="4.89" height="7.79" fill="#7b2188" stroke="#f8f8f8" stroke-width="0.45"/><rect x="90.32" y="64.60" width="4.89" height="7.79" fill="#c8c9cb" stroke="#f8f8f8" stroke-width="0.45"/><rect x="95.71" y="64.60" width="4.89" height="7.79" fill="#ffd400" stroke="#f8f8f8" stroke-width="0.45"/><rect x="101.10" y="64.60" width="4.89" height="7.79" fill="#050505" stroke="#f8f8f8" stroke-width="0.45"/><rect x="106.49" y="64.60" width="4.89" height="7.79" fill="#f6b8ca" stroke="#f8f8f8" stroke-width="0.45"/><rect x="111.88" y="64.60" width="4.89" height="7.79" fill="#f6b8ca" stroke="#f8f8f8" stroke-width="0.45"/><rect x="117.27" y="64.60" width="4.89" height="7.79" fill="#f6b8ca" stroke="#f8f8f8" stroke-width="0.45"/><rect x="122.66" y="64.60" width="4.89" height="7.79" fill="#3bb4e8" stroke="#f8f8f8" stroke-width="0.45"/><rect x="128.05" y="64.60" width="4.89" height="7.79" fill="#3bb4e8" stroke="#f8f8f8" stroke-width="0.45"/><rect x="133.44" y="64.60" width="4.89" height="7.79" fill="#c8c9cb" stroke="#f8f8f8" stroke-width="0.45"/><rect x="138.83" y="64.60" width="4.89" height="7.79" fill="#b31f24" stroke="#f8f8f8" stroke-width="0.45"/><rect x="144.22" y="64.60" width="4.89" height="7.79" fill="#c8c9cb" stroke="#f8f8f8" stroke-width="0.45"/><rect x="149.61" y="64.60" width="4.89" height="7.79" fill="#c8c9cb" stroke="#f8f8f8" stroke-width="0.45"/><rect x="155.00" y="64.60" width="4.89" height="7.79" fill="#b31f24" stroke="#f8f8f8" stroke-width="0.45"/><rect x="160.39" y="64.60" width="4.89" height="7.79" fill="#050505" stroke="#f8f8f8" stroke-width="0.45"/><rect x="165.78" y="64.60" width="4.89" height="7.79" fill="#b31f24" stroke="#f8f8f8" stroke-width="0.45"/><rect x="171.17" y="64.60" width="4.89" height="7.79" fill="#c8c9cb" stroke="#f8f8f8" stroke-width="0.45"/><rect x="176.56" y="64.60" width="4.89" height="7.79" fill="#c8c9cb" stroke="#f8f8f8" stroke-width="0.45"/><rect x="181.95" y="64.60" width="4.89" height="7.79" fill="#c8c9cb" stroke="#f8f8f8" stroke-width="0.45"/><rect x="187.34" y="64.60" width="4.89" height="7.79" fill="#c8c9cb" stroke="#f8f8f8" stroke-width="0.45"/><rect x="192.73" y="64.60" width="4.89" height="7.79" fill="#ffd400" stroke="#f8f8f8" stroke-width="0.45"/><rect x="198.12" y="64.60" width="4.89" height="7.79" fill="#ffd400" stroke="#f8f8f8" stroke-width="0.45"/><rect x="203.51" y="64.60" width="4.89" height="7.79" fill="#c8c9cb" stroke="#f8f8f8" stroke-width="0.45"/><rect x="208.90" y="64.60" width="4.89" height="7.79" fill="#1d6b35" stroke="#f8f8f8" stroke-width="0.45"/><rect x="214.29" y="64.60" width="4.89" height="7.79" fill="#1d6b35" stroke="#f8f8f8" stroke-width="0.45"/><rect x="219.68" y="64.60" width="4.89" height="7.79" fill="#1d6b35" stroke="#f8f8f8" stroke-width="0.45"/><rect x="225.07" y="64.60" width="4.89" height="7.79" fill="#1d6b35" stroke="#f8f8f8" stroke-width="0.45"/><rect x="230.46" y="64.60" width="4.89" height="7.79" fill="#c8c9cb" stroke="#f8f8f8" stroke-width="0.45"/><rect x="235.85" y="64.60" width="4.89" height="7.79" fill="#c8c9cb" stroke="#f8f8f8" stroke-width="0.45"/><rect x="241.24" y="64.60" width="4.89" height="7.79" fill="#050505" stroke="#f8f8f8" stroke-width="0.45"/><rect x="246.63" y="64.60" width="4.89" height="7.79" fill="#050505" stroke="#f8f8f8" stroke-width="0.45"/><rect x="252.02" y="64.60" width="4.89" height="7.79" fill="#050505" stroke="#f8f8f8" stroke-width="0.45"/><rect x="257.41" y="64.60" width="4.89" height="7.79" fill="#050505" stroke="#f8f8f8" stroke-width="0.45"/><rect x="262.80" y="64.60" width="4.89" height="7.79" fill="#050505" stroke="#f8f8f8" stroke-width="0.45"/><rect x="268.19" y="64.60" width="4.89" height="7.79" fill="#a1d49b" stroke="#f8f8f8" stroke-width="0.45"/><rect x="20.25" y="72.89" width="4.89" height="7.79" fill="#c8c9cb" stroke="#f8f8f8" stroke-width="0.45"/><rect x="25.64" y="72.89" width="4.89" height="7.79" fill="#b31f24" stroke="#f8f8f8" stroke-width="0.45"/><rect x="31.03" y="72.89" width="4.89" height="7.79" fill="#c8c9cb" stroke="#f8f8f8" stroke-width="0.45"/><rect x="36.42" y="72.89" width="4.89" height="7.79" fill="#1d6b35" stroke="#f8f8f8" stroke-width="0.45"/><rect x="41.81" y="72.89" width="4.89" height="7.79" fill="#1d6b35" stroke="#f8f8f8" stroke-width="0.45"/><rect x="47.20" y="72.89" width="4.89" height="7.79" fill="#1d6b35" stroke="#f8f8f8" stroke-width="0.45"/><rect x="52.59" y="72.89" width="4.89" height="7.79" fill="#c8c9cb" stroke="#f8f8f8" stroke-width="0.45"/><rect x="57.98" y="72.89" width="4.89" height="7.79" fill="#b31f24" stroke="#f8f8f8" stroke-width="0.45"/><rect x="63.37" y="72.89" width="4.89" height="7.79" fill="#f8a01b" stroke="#f8f8f8" stroke-width="0.45"/><rect x="68.76" y="72.89" width="4.89" height="7.79" fill="#f8a01b" stroke="#f8f8f8" stroke-width="0.45"/><rect x="74.15" y="72.89" width="4.89" height="7.79" fill="#f8a01b" stroke="#f8f8f8" stroke-width="0.45"/><rect x="79.54" y="72.89" width="4.89" height="7.79" fill="#b31f24" stroke="#f8f8f8" stroke-width="0.45"/><rect x="84.93" y="72.89" width="4.89" height="7.79" fill="#b31f24" stroke="#f8f8f8" stroke-width="0.45"/><rect x="90.32" y="72.89" width="4.89" height="7.79" fill="#c8c9cb" stroke="#f8f8f8" stroke-width="0.45"/><rect x="95.71" y="72.89" width="4.89" height="7.79" fill="#b31f24" stroke="#f8f8f8" stroke-width="0.45"/><rect x="101.10" y="72.89" width="4.89" height="7.79" fill="#b31f24" stroke="#f8f8f8" stroke-width="0.45"/><rect x="106.49" y="72.89" width="4.89" height="7.79" fill="#1d6b35" stroke="#f8f8f8" stroke-width="0.45"/><rect x="111.88" y="72.89" width="4.89" height="7.79" fill="#1d6b35" stroke="#f8f8f8" stroke-width="0.45"/><rect x="117.27" y="72.89" width="4.89" height="7.79" fill="#1d6b35" stroke="#f8f8f8" stroke-width="0.45"/><rect x="122.66" y="72.89" width="4.89" height="7.79" fill="#1d6b35" stroke="#f8f8f8" stroke-width="0.45"/><rect x="128.05" y="72.89" width="4.89" height="7.79" fill="#1d6b35" stroke="#f8f8f8" stroke-width="0.45"/><rect x="133.44" y="72.89" width="4.89" height="7.79" fill="#c8c9cb" stroke="#f8f8f8" stroke-width="0.45"/><rect x="138.83" y="72.89" width="4.89" height="7.79" fill="#b31f24" stroke="#f8f8f8" stroke-width="0.45"/><rect x="144.22" y="72.89" width="4.89" height="7.79" fill="#1d6b35" stroke="#f8f8f8" stroke-width="0.45"/><rect x="149.61" y="72.89" width="4.89" height="7.79" fill="#1d6b35" stroke="#f8f8f8" stroke-width="0.45"/><rect x="155.00" y="72.89" width="4.89" height="7.79" fill="#b31f24" stroke="#f8f8f8" stroke-width="0.45"/><rect x="160.39" y="72.89" width="4.89" height="7.79" fill="#b31f24" stroke="#f8f8f8" stroke-width="0.45"/><rect x="165.78" y="72.89" width="4.89" height="7.79" fill="#b31f24" stroke="#f8f8f8" stroke-width="0.45"/><rect x="171.17" y="72.89" width="4.89" height="7.79" fill="#c8c9cb" stroke="#f8f8f8" stroke-width="0.45"/><rect x="176.56" y="72.89" width="4.89" height="7.79" fill="#c8c9cb" stroke="#f8f8f8" stroke-width="0.45"/><rect x="181.95" y="72.89" width="4.89" height="7.79" fill="#c8c9cb" stroke="#f8f8f8" stroke-width="0.45"/><rect x="187.34" y="72.89" width="4.89" height="7.79" fill="#c8c9cb" stroke="#f8f8f8" stroke-width="0.45"/><rect x="192.73" y="72.89" width="4.89" height="7.79" fill="#b31f24" stroke="#f8f8f8" stroke-width="0.45"/><rect x="198.12" y="72.89" width="4.89" height="7.79" fill="#b31f24" stroke="#f8f8f8" stroke-width="0.45"/><rect x="203.51" y="72.89" width="4.89" height="7.79" fill="#c8c9cb" stroke="#f8f8f8" stroke-width="0.45"/><rect x="208.90" y="72.89" width="4.89" height="7.79" fill="#1d6b35" stroke="#f8f8f8" stroke-width="0.45"/><rect x="214.29" y="72.89" width="4.89" height="7.79" fill="#1d6b35" stroke="#f8f8f8" stroke-width="0.45"/><rect x="219.68" y="72.89" width="4.89" height="7.79" fill="#1d6b35" stroke="#f8f8f8" stroke-width="0.45"/><rect x="225.07" y="72.89" width="4.89" height="7.79" fill="#1d6b35" stroke="#f8f8f8" stroke-width="0.45"/><rect x="230.46" y="72.89" width="4.89" height="7.79" fill="#b31f24" stroke="#f8f8f8" stroke-width="0.45"/><rect x="235.85" y="72.89" width="4.89" height="7.79" fill="#b31f24" stroke="#f8f8f8" stroke-width="0.45"/><rect x="241.24" y="72.89" width="4.89" height="7.79" fill="#b31f24" stroke="#f8f8f8" stroke-width="0.45"/><rect x="246.63" y="72.89" width="4.89" height="7.79" fill="#b31f24" stroke="#f8f8f8" stroke-width="0.45"/><rect x="252.02" y="72.89" width="4.89" height="7.79" fill="#b31f24" stroke="#f8f8f8" stroke-width="0.45"/><rect x="257.41" y="72.89" width="4.89" height="7.79" fill="#b31f24" stroke="#f8f8f8" stroke-width="0.45"/><rect x="262.80" y="72.89" width="4.89" height="7.79" fill="#b31f24" stroke="#f8f8f8" stroke-width="0.45"/><rect x="268.19" y="72.89" width="4.89" height="7.79" fill="#b31f24" stroke="#f8f8f8" stroke-width="0.45"/><rect x="20.25" y="81.18" width="4.89" height="7.79" fill="#7b2188" stroke="#f8f8f8" stroke-width="0.45"/><rect x="25.64" y="81.18" width="4.89" height="7.79" fill="#7b2188" stroke="#f8f8f8" stroke-width="0.45"/><rect x="31.03" y="81.18" width="4.89" height="7.79" fill="#7b2188" stroke="#f8f8f8" stroke-width="0.45"/><rect x="36.42" y="81.18" width="4.89" height="7.79" fill="#c8c9cb" stroke="#f8f8f8" stroke-width="0.45"/><rect x="41.81" y="81.18" width="4.89" height="7.79" fill="#c8c9cb" stroke="#f8f8f8" stroke-width="0.45"/><rect x="47.20" y="81.18" width="4.89" height="7.79" fill="#3bb4e8" stroke="#f8f8f8" stroke-width="0.45"/><rect x="52.59" y="81.18" width="4.89" height="7.79" fill="#c8c9cb" stroke="#f8f8f8" stroke-width="0.45"/><rect x="57.98" y="81.18" width="4.89" height="7.79" fill="#1d6b35" stroke="#f8f8f8" stroke-width="0.45"/><rect x="63.37" y="81.18" width="4.89" height="7.79" fill="#f8a01b" stroke="#f8f8f8" stroke-width="0.45"/><rect x="68.76" y="81.18" width="4.89" height="7.79" fill="#f8a01b" stroke="#f8f8f8" stroke-width="0.45"/><rect x="74.15" y="81.18" width="4.89" height="7.79" fill="#f8a01b" stroke="#f8f8f8" stroke-width="0.45"/><rect x="79.54" y="81.18" width="4.89" height="7.79" fill="#1d6b35" stroke="#f8f8f8" stroke-width="0.45"/><rect x="84.93" y="81.18" width="4.89" height="7.79" fill="#c8c9cb" stroke="#f8f8f8" stroke-width="0.45"/><rect x="90.32" y="81.18" width="4.89" height="7.79" fill="#c8c9cb" stroke="#f8f8f8" stroke-width="0.45"/><rect x="95.71" y="81.18" width="4.89" height="7.79" fill="#7b2188" stroke="#f8f8f8" stroke-width="0.45"/><rect x="101.10" y="81.18" width="4.89" height="7.79" fill="#7b2188" stroke="#f8f8f8" stroke-width="0.45"/><rect x="106.49" y="81.18" width="4.89" height="7.79" fill="#f6b8ca" stroke="#f8f8f8" stroke-width="0.45"/><rect x="111.88" y="81.18" width="4.89" height="7.79" fill="#f6b8ca" stroke="#f8f8f8" stroke-width="0.45"/><rect x="117.27" y="81.18" width="4.89" height="7.79" fill="#f6b8ca" stroke="#f8f8f8" stroke-width="0.45"/><rect x="122.66" y="81.18" width="4.89" height="7.79" fill="#1d6b35" stroke="#f8f8f8" stroke-width="0.45"/><rect x="128.05" y="81.18" width="4.89" height="7.79" fill="#1d6b35" stroke="#f8f8f8" stroke-width="0.45"/><rect x="133.44" y="81.18" width="4.89" height="7.79" fill="#1d6b35" stroke="#f8f8f8" stroke-width="0.45"/><rect x="138.83" y="81.18" width="4.89" height="7.79" fill="#3bb4e8" stroke="#f8f8f8" stroke-width="0.45"/><rect x="144.22" y="81.18" width="4.89" height="7.79" fill="#3bb4e8" stroke="#f8f8f8" stroke-width="0.45"/><rect x="149.61" y="81.18" width="4.89" height="7.79" fill="#3bb4e8" stroke="#f8f8f8" stroke-width="0.45"/><rect x="155.00" y="81.18" width="4.89" height="7.79" fill="#3bb4e8" stroke="#f8f8f8" stroke-width="0.45"/><rect x="160.39" y="81.18" width="4.89" height="7.79" fill="#b31f24" stroke="#f8f8f8" stroke-width="0.45"/><rect x="165.78" y="81.18" width="4.89" height="7.79" fill="#1d6b35" stroke="#f8f8f8" stroke-width="0.45"/><rect x="171.17" y="81.18" width="4.89" height="7.79" fill="#1d6b35" stroke="#f8f8f8" stroke-width="0.45"/><rect x="176.56" y="81.18" width="4.89" height="7.79" fill="#3bb4e8" stroke="#f8f8f8" stroke-width="0.45"/><rect x="181.95" y="81.18" width="4.89" height="7.79" fill="#3bb4e8" stroke="#f8f8f8" stroke-width="0.45"/><rect x="187.34" y="81.18" width="4.89" height="7.79" fill="#3bb4e8" stroke="#f8f8f8" stroke-width="0.45"/><rect x="192.73" y="81.18" width="4.89" height="7.79" fill="#c8c9cb" stroke="#f8f8f8" stroke-width="0.45"/><rect x="198.12" y="81.18" width="4.89" height="7.79" fill="#1d6b35" stroke="#f8f8f8" stroke-width="0.45"/><rect x="203.51" y="81.18" width="4.89" height="7.79" fill="#3bb4e8" stroke="#f8f8f8" stroke-width="0.45"/><rect x="208.90" y="81.18" width="4.89" height="7.79" fill="#1d6b35" stroke="#f8f8f8" stroke-width="0.45"/><rect x="214.29" y="81.18" width="4.89" height="7.79" fill="#c8c9cb" stroke="#f8f8f8" stroke-width="0.45"/><rect x="219.68" y="81.18" width="4.89" height="7.79" fill="#c8c9cb" stroke="#f8f8f8" stroke-width="0.45"/><rect x="225.07" y="81.18" width="4.89" height="7.79" fill="#3bb4e8" stroke="#f8f8f8" stroke-width="0.45"/><rect x="230.46" y="81.18" width="4.89" height="7.79" fill="#c8c9cb" stroke="#f8f8f8" stroke-width="0.45"/><rect x="235.85" y="81.18" width="4.89" height="7.79" fill="#b31f24" stroke="#f8f8f8" stroke-width="0.45"/><rect x="241.24" y="81.18" width="4.89" height="7.79" fill="#1d6b35" stroke="#f8f8f8" stroke-width="0.45"/><rect x="246.63" y="81.18" width="4.89" height="7.79" fill="#3bb4e8" stroke="#f8f8f8" stroke-width="0.45"/><rect x="252.02" y="81.18" width="4.89" height="7.79" fill="#1d6b35" stroke="#f8f8f8" stroke-width="0.45"/><rect x="257.41" y="81.18" width="4.89" height="7.79" fill="#3bb4e8" stroke="#f8f8f8" stroke-width="0.45"/><rect x="262.80" y="81.18" width="4.89" height="7.79" fill="#b31f24" stroke="#f8f8f8" stroke-width="0.45"/><rect x="268.19" y="81.18" width="4.89" height="7.79" fill="#3bb4e8" stroke="#f8f8f8" stroke-width="0.45"/><rect x="20.25" y="89.47" width="4.89" height="7.79" fill="#74c477" stroke="#f8f8f8" stroke-width="0.45"/><rect x="25.64" y="89.47" width="4.89" height="7.79" fill="#0c6a2f" stroke="#f8f8f8" stroke-width="0.45"/><rect x="31.03" y="89.47" width="4.89" height="7.79" fill="#edf7e9" stroke="#f8f8f8" stroke-width="0.45"/><rect x="36.42" y="89.47" width="4.89" height="7.79" fill="#a2d69c" stroke="#f8f8f8" stroke-width="0.45"/><rect x="41.81" y="89.47" width="4.89" height="7.79" fill="#a2d69c" stroke="#f8f8f8" stroke-width="0.45"/><rect x="47.20" y="89.47" width="4.89" height="7.79" fill="#33a355" stroke="#f8f8f8" stroke-width="0.45"/><rect x="52.59" y="89.47" width="4.89" height="7.79" fill="#74c477" stroke="#f8f8f8" stroke-width="0.45"/><rect x="57.98" y="89.47" width="4.89" height="7.79" fill="#74c477" stroke="#f8f8f8" stroke-width="0.45"/><rect x="63.37" y="89.47" width="4.89" height="7.79" fill="#f8a01b" stroke="#f8f8f8" stroke-width="0.45"/><rect x="68.76" y="89.47" width="4.89" height="7.79" fill="#f8a01b" stroke="#f8f8f8" stroke-width="0.45"/><rect x="74.15" y="89.47" width="4.89" height="7.79" fill="#f8a01b" stroke="#f8f8f8" stroke-width="0.45"/><rect x="79.54" y="89.47" width="4.89" height="7.79" fill="#74c477" stroke="#f8f8f8" stroke-width="0.45"/><rect x="84.93" y="89.47" width="4.89" height="7.79" fill="#74c477" stroke="#f8f8f8" stroke-width="0.45"/><rect x="90.32" y="89.47" width="4.89" height="7.79" fill="#a2d69c" stroke="#f8f8f8" stroke-width="0.45"/><rect x="95.71" y="89.47" width="4.89" height="7.79" fill="#74c477" stroke="#f8f8f8" stroke-width="0.45"/><rect x="101.10" y="89.47" width="4.89" height="7.79" fill="#74c477" stroke="#f8f8f8" stroke-width="0.45"/><rect x="106.49" y="89.47" width="4.89" height="7.79" fill="#a2d69c" stroke="#f8f8f8" stroke-width="0.45"/><rect x="111.88" y="89.47" width="4.89" height="7.79" fill="#a2d69c" stroke="#f8f8f8" stroke-width="0.45"/><rect x="117.27" y="89.47" width="4.89" height="7.79" fill="#c8e7c1" stroke="#f8f8f8" stroke-width="0.45"/><rect x="122.66" y="89.47" width="4.89" height="7.79" fill="#edf7e9" stroke="#f8f8f8" stroke-width="0.45"/><rect x="128.05" y="89.47" width="4.89" height="7.79" fill="#a2d69c" stroke="#f8f8f8" stroke-width="0.45"/><rect x="133.44" y="89.47" width="4.89" height="7.79" fill="#a2d69c" stroke="#f8f8f8" stroke-width="0.45"/><rect x="138.83" y="89.47" width="4.89" height="7.79" fill="#c8e7c1" stroke="#f8f8f8" stroke-width="0.45"/><rect x="144.22" y="89.47" width="4.89" height="7.79" fill="#a2d69c" stroke="#f8f8f8" stroke-width="0.45"/><rect x="149.61" y="89.47" width="4.89" height="7.79" fill="#33a355" stroke="#f8f8f8" stroke-width="0.45"/><rect x="155.00" y="89.47" width="4.89" height="7.79" fill="#74c477" stroke="#f8f8f8" stroke-width="0.45"/><rect x="160.39" y="89.47" width="4.89" height="7.79" fill="#a2d69c" stroke="#f8f8f8" stroke-width="0.45"/><rect x="165.78" y="89.47" width="4.89" height="7.79" fill="#a2d69c" stroke="#f8f8f8" stroke-width="0.45"/><rect x="171.17" y="89.47" width="4.89" height="7.79" fill="#edf7e9" stroke="#f8f8f8" stroke-width="0.45"/><rect x="176.56" y="89.47" width="4.89" height="7.79" fill="#edf7e9" stroke="#f8f8f8" stroke-width="0.45"/><rect x="181.95" y="89.47" width="4.89" height="7.79" fill="#a2d69c" stroke="#f8f8f8" stroke-width="0.45"/><rect x="187.34" y="89.47" width="4.89" height="7.79" fill="#edf7e9" stroke="#f8f8f8" stroke-width="0.45"/><rect x="192.73" y="89.47" width="4.89" height="7.79" fill="#edf7e9" stroke="#f8f8f8" stroke-width="0.45"/><rect x="198.12" y="89.47" width="4.89" height="7.79" fill="#74c477" stroke="#f8f8f8" stroke-width="0.45"/><rect x="203.51" y="89.47" width="4.89" height="7.79" fill="#74c477" stroke="#f8f8f8" stroke-width="0.45"/><rect x="208.90" y="89.47" width="4.89" height="7.79" fill="#edf7e9" stroke="#f8f8f8" stroke-width="0.45"/><rect x="214.29" y="89.47" width="4.89" height="7.79" fill="#a2d69c" stroke="#f8f8f8" stroke-width="0.45"/><rect x="219.68" y="89.47" width="4.89" height="7.79" fill="#74c477" stroke="#f8f8f8" stroke-width="0.45"/><rect x="225.07" y="89.47" width="4.89" height="7.79" fill="#33a355" stroke="#f8f8f8" stroke-width="0.45"/><rect x="230.46" y="89.47" width="4.89" height="7.79" fill="#edf7e9" stroke="#f8f8f8" stroke-width="0.45"/><rect x="235.85" y="89.47" width="4.89" height="7.79" fill="#c8e7c1" stroke="#f8f8f8" stroke-width="0.45"/><rect x="241.24" y="89.47" width="4.89" height="7.79" fill="#c8e7c1" stroke="#f8f8f8" stroke-width="0.45"/><rect x="246.63" y="89.47" width="4.89" height="7.79" fill="#74c477" stroke="#f8f8f8" stroke-width="0.45"/><rect x="252.02" y="89.47" width="4.89" height="7.79" fill="#0c6a2f" stroke="#f8f8f8" stroke-width="0.45"/><rect x="257.41" y="89.47" width="4.89" height="7.79" fill="#c8e7c1" stroke="#f8f8f8" stroke-width="0.45"/><rect x="262.80" y="89.47" width="4.89" height="7.79" fill="#33a355" stroke="#f8f8f8" stroke-width="0.45"/><rect x="268.19" y="89.47" width="4.89" height="7.79" fill="#edf7e9" stroke="#f8f8f8" stroke-width="0.45"/><rect x="20.25" y="97.76" width="4.89" height="7.79" fill="#c8c9cb" stroke="#f8f8f8" stroke-width="0.45"/><rect x="25.64" y="97.76" width="4.89" height="7.79" fill="#c8c9cb" stroke="#f8f8f8" stroke-width="0.45"/><rect x="31.03" y="97.76" width="4.89" height="7.79" fill="#c8c9cb" stroke="#f8f8f8" stroke-width="0.45"/><rect x="36.42" y="97.76" width="4.89" height="7.79" fill="#c8c9cb" stroke="#f8f8f8" stroke-width="0.45"/><rect x="41.81" y="97.76" width="4.89" height="7.79" fill="#ffd400" stroke="#f8f8f8" stroke-width="0.45"/><rect x="47.20" y="97.76" width="4.89" height="7.79" fill="#ffd400" stroke="#f8f8f8" stroke-width="0.45"/><rect x="52.59" y="97.76" width="4.89" height="7.79" fill="#ffd400" stroke="#f8f8f8" stroke-width="0.45"/><rect x="57.98" y="97.76" width="4.89" height="7.79" fill="#c8c9cb" stroke="#f8f8f8" stroke-width="0.45"/><rect x="63.37" y="97.76" width="4.89" height="7.79" fill="#f8a01b" stroke="#f8f8f8" stroke-width="0.45"/><rect x="68.76" y="97.76" width="4.89" height="7.79" fill="#f8a01b" stroke="#f8f8f8" stroke-width="0.45"/><rect x="74.15" y="97.76" width="4.89" height="7.79" fill="#f8a01b" stroke="#f8f8f8" stroke-width="0.45"/><rect x="79.54" y="97.76" width="4.89" height="7.79" fill="#c8c9cb" stroke="#f8f8f8" stroke-width="0.45"/><rect x="84.93" y="97.76" width="4.89" height="7.79" fill="#ffd400" stroke="#f8f8f8" stroke-width="0.45"/><rect x="90.32" y="97.76" width="4.89" height="7.79" fill="#c8c9cb" stroke="#f8f8f8" stroke-width="0.45"/><rect x="95.71" y="97.76" width="4.89" height="7.79" fill="#ffd400" stroke="#f8f8f8" stroke-width="0.45"/><rect x="101.10" y="97.76" width="4.89" height="7.79" fill="#c8c9cb" stroke="#f8f8f8" stroke-width="0.45"/><rect x="106.49" y="97.76" width="4.89" height="7.79" fill="#c8c9cb" stroke="#f8f8f8" stroke-width="0.45"/><rect x="111.88" y="97.76" width="4.89" height="7.79" fill="#ffd400" stroke="#f8f8f8" stroke-width="0.45"/><rect x="117.27" y="97.76" width="4.89" height="7.79" fill="#ffd400" stroke="#f8f8f8" stroke-width="0.45"/><rect x="122.66" y="97.76" width="4.89" height="7.79" fill="#c8c9cb" stroke="#f8f8f8" stroke-width="0.45"/><rect x="128.05" y="97.76" width="4.89" height="7.79" fill="#c8c9cb" stroke="#f8f8f8" stroke-width="0.45"/><rect x="133.44" y="97.76" width="4.89" height="7.79" fill="#c8c9cb" stroke="#f8f8f8" stroke-width="0.45"/><rect x="138.83" y="97.76" width="4.89" height="7.79" fill="#c8c9cb" stroke="#f8f8f8" stroke-width="0.45"/><rect x="144.22" y="97.76" width="4.89" height="7.79" fill="#c8c9cb" stroke="#f8f8f8" stroke-width="0.45"/><rect x="149.61" y="97.76" width="4.89" height="7.79" fill="#c8c9cb" stroke="#f8f8f8" stroke-width="0.45"/><rect x="155.00" y="97.76" width="4.89" height="7.79" fill="#c8c9cb" stroke="#f8f8f8" stroke-width="0.45"/><rect x="160.39" y="97.76" width="4.89" height="7.79" fill="#ffd400" stroke="#f8f8f8" stroke-width="0.45"/><rect x="165.78" y="97.76" width="4.89" height="7.79" fill="#ffd400" stroke="#f8f8f8" stroke-width="0.45"/><rect x="171.17" y="97.76" width="4.89" height="7.79" fill="#ffd400" stroke="#f8f8f8" stroke-width="0.45"/><rect x="176.56" y="97.76" width="4.89" height="7.79" fill="#ffd400" stroke="#f8f8f8" stroke-width="0.45"/><rect x="181.95" y="97.76" width="4.89" height="7.79" fill="#c8c9cb" stroke="#f8f8f8" stroke-width="0.45"/><rect x="187.34" y="97.76" width="4.89" height="7.79" fill="#ffd400" stroke="#f8f8f8" stroke-width="0.45"/><rect x="192.73" y="97.76" width="4.89" height="7.79" fill="#ffd400" stroke="#f8f8f8" stroke-width="0.45"/><rect x="198.12" y="97.76" width="4.89" height="7.79" fill="#ffd400" stroke="#f8f8f8" stroke-width="0.45"/><rect x="203.51" y="97.76" width="4.89" height="7.79" fill="#c8c9cb" stroke="#f8f8f8" stroke-width="0.45"/><rect x="208.90" y="97.76" width="4.89" height="7.79" fill="#c8c9cb" stroke="#f8f8f8" stroke-width="0.45"/><rect x="214.29" y="97.76" width="4.89" height="7.79" fill="#ffd400" stroke="#f8f8f8" stroke-width="0.45"/><rect x="219.68" y="97.76" width="4.89" height="7.79" fill="#c8c9cb" stroke="#f8f8f8" stroke-width="0.45"/><rect x="225.07" y="97.76" width="4.89" height="7.79" fill="#ffd400" stroke="#f8f8f8" stroke-width="0.45"/><rect x="230.46" y="97.76" width="4.89" height="7.79" fill="#c8c9cb" stroke="#f8f8f8" stroke-width="0.45"/><rect x="235.85" y="97.76" width="4.89" height="7.79" fill="#ffd400" stroke="#f8f8f8" stroke-width="0.45"/><rect x="241.24" y="97.76" width="4.89" height="7.79" fill="#c8c9cb" stroke="#f8f8f8" stroke-width="0.45"/><rect x="246.63" y="97.76" width="4.89" height="7.79" fill="#c8c9cb" stroke="#f8f8f8" stroke-width="0.45"/><rect x="252.02" y="97.76" width="4.89" height="7.79" fill="#ffd400" stroke="#f8f8f8" stroke-width="0.45"/><rect x="257.41" y="97.76" width="4.89" height="7.79" fill="#ffd400" stroke="#f8f8f8" stroke-width="0.45"/><rect x="262.80" y="97.76" width="4.89" height="7.79" fill="#ffd400" stroke="#f8f8f8" stroke-width="0.45"/><rect x="268.19" y="97.76" width="4.89" height="7.79" fill="#ffd400" stroke="#f8f8f8" stroke-width="0.45"/><rect x="20.25" y="106.05" width="4.89" height="7.79" fill="#3bb4e8" stroke="#f8f8f8" stroke-width="0.45"/><rect x="31.03" y="106.05" width="4.89" height="7.79" fill="#b31f24" stroke="#f8f8f8" stroke-width="0.45"/><rect x="36.42" y="106.05" width="4.89" height="7.79" fill="#3bb4e8" stroke="#f8f8f8" stroke-width="0.45"/><rect x="41.81" y="106.05" width="4.89" height="7.79" fill="#3bb4e8" stroke="#f8f8f8" stroke-width="0.45"/><rect x="47.20" y="106.05" width="4.89" height="7.79" fill="#3bb4e8" stroke="#f8f8f8" stroke-width="0.45"/><rect x="63.37" y="106.05" width="4.89" height="7.79" fill="#f8a01b" stroke="#f8f8f8" stroke-width="0.45"/><rect x="68.76" y="106.05" width="4.89" height="7.79" fill="#f8a01b" stroke="#f8f8f8" stroke-width="0.45"/><rect x="74.15" y="106.05" width="4.89" height="7.79" fill="#f8a01b" stroke="#f8f8f8" stroke-width="0.45"/><rect x="79.54" y="106.05" width="4.89" height="7.79" fill="#f6b8ca" stroke="#f8f8f8" stroke-width="0.45"/><rect x="90.32" y="106.05" width="4.89" height="7.79" fill="#f6b8ca" stroke="#f8f8f8" stroke-width="0.45"/><rect x="101.10" y="106.05" width="4.89" height="7.79" fill="#3bb4e8" stroke="#f8f8f8" stroke-width="0.45"/><rect x="111.88" y="106.05" width="4.89" height="7.79" fill="#f6b8ca" stroke="#f8f8f8" stroke-width="0.45"/><rect x="138.83" y="106.05" width="4.89" height="7.79" fill="#242a7c" stroke="#f8f8f8" stroke-width="0.45"/><rect x="176.56" y="106.05" width="4.89" height="7.79" fill="#f6b8ca" stroke="#f8f8f8" stroke-width="0.45"/><rect x="181.95" y="106.05" width="4.89" height="7.79" fill="#b31f24" stroke="#f8f8f8" stroke-width="0.45"/><rect x="192.73" y="106.05" width="4.89" height="7.79" fill="#3bb4e8" stroke="#f8f8f8" stroke-width="0.45"/><rect x="198.12" y="106.05" width="4.89" height="7.79" fill="#f6b8ca" stroke="#f8f8f8" stroke-width="0.45"/><rect x="203.51" y="106.05" width="4.89" height="7.79" fill="#b31f24" stroke="#f8f8f8" stroke-width="0.45"/><rect x="219.68" y="106.05" width="4.89" height="7.79" fill="#f6b8ca" stroke="#f8f8f8" stroke-width="0.45"/><rect x="225.07" y="106.05" width="4.89" height="7.79" fill="#f6b8ca" stroke="#f8f8f8" stroke-width="0.45"/><rect x="230.46" y="106.05" width="4.89" height="7.79" fill="#b31f24" stroke="#f8f8f8" stroke-width="0.45"/><rect x="20.25" y="114.34" width="4.89" height="7.79" fill="#1d6b35" stroke="#f8f8f8" stroke-width="0.45"/><rect x="31.03" y="114.34" width="4.89" height="7.79" fill="#8ac08a" stroke="#f8f8f8" stroke-width="0.45"/><rect x="36.42" y="114.34" width="4.89" height="7.79" fill="#8ac08a" stroke="#f8f8f8" stroke-width="0.45"/><rect x="63.37" y="114.34" width="4.89" height="7.79" fill="#f8a01b" stroke="#f8f8f8" stroke-width="0.45"/><rect x="68.76" y="114.34" width="4.89" height="7.79" fill="#f8a01b" stroke="#f8f8f8" stroke-width="0.45"/><rect x="74.15" y="114.34" width="4.89" height="7.79" fill="#f8a01b" stroke="#f8f8f8" stroke-width="0.45"/><rect x="133.44" y="114.34" width="4.89" height="7.79" fill="#1d6b35" stroke="#f8f8f8" stroke-width="0.45"/><rect x="138.83" y="114.34" width="4.89" height="7.79" fill="#1d6b35" stroke="#f8f8f8" stroke-width="0.45"/><rect x="144.22" y="114.34" width="4.89" height="7.79" fill="#1d6b35" stroke="#f8f8f8" stroke-width="0.45"/><rect x="155.00" y="114.34" width="4.89" height="7.79" fill="#1d6b35" stroke="#f8f8f8" stroke-width="0.45"/><rect x="160.39" y="114.34" width="4.89" height="7.79" fill="#8ac08a" stroke="#f8f8f8" stroke-width="0.45"/><rect x="181.95" y="114.34" width="4.89" height="7.79" fill="#1d6b35" stroke="#f8f8f8" stroke-width="0.45"/><rect x="203.51" y="114.34" width="4.89" height="7.79" fill="#1d6b35" stroke="#f8f8f8" stroke-width="0.45"/><rect x="252.02" y="114.34" width="4.89" height="7.79" fill="#8ac08a" stroke="#f8f8f8" stroke-width="0.45"/><rect x="257.41" y="114.34" width="4.89" height="7.79" fill="#1d6b35" stroke="#f8f8f8" stroke-width="0.45"/><rect x="31.03" y="122.63" width="4.89" height="7.79" fill="#050505" stroke="#f8f8f8" stroke-width="0.45"/><rect x="36.42" y="122.63" width="4.89" height="7.79" fill="#050505" stroke="#f8f8f8" stroke-width="0.45"/><rect x="41.81" y="122.63" width="4.89" height="7.79" fill="#050505" stroke="#f8f8f8" stroke-width="0.45"/><rect x="47.20" y="122.63" width="4.89" height="7.79" fill="#050505" stroke="#f8f8f8" stroke-width="0.45"/><rect x="63.37" y="122.63" width="4.89" height="7.79" fill="#f8a01b" stroke="#f8f8f8" stroke-width="0.45"/><rect x="68.76" y="122.63" width="4.89" height="7.79" fill="#f8a01b" stroke="#f8f8f8" stroke-width="0.45"/><rect x="74.15" y="122.63" width="4.89" height="7.79" fill="#f8a01b" stroke="#f8f8f8" stroke-width="0.45"/><rect x="144.22" y="122.63" width="4.89" height="7.79" fill="#050505" stroke="#f8f8f8" stroke-width="0.45"/><rect x="149.61" y="122.63" width="4.89" height="7.79" fill="#050505" stroke="#f8f8f8" stroke-width="0.45"/><rect x="181.95" y="122.63" width="4.89" height="7.79" fill="#050505" stroke="#f8f8f8" stroke-width="0.45"/><rect x="203.51" y="122.63" width="4.89" height="7.79" fill="#050505" stroke="#f8f8f8" stroke-width="0.45"/><rect x="25.64" y="130.92" width="4.89" height="7.79" fill="#050505" stroke="#f8f8f8" stroke-width="0.45"/><rect x="36.42" y="130.92" width="4.89" height="7.79" fill="#050505" stroke="#f8f8f8" stroke-width="0.45"/><rect x="57.98" y="130.92" width="4.89" height="7.79" fill="#050505" stroke="#f8f8f8" stroke-width="0.45"/><rect x="63.37" y="130.92" width="4.89" height="7.79" fill="#f8a01b" stroke="#f8f8f8" stroke-width="0.45"/><rect x="68.76" y="130.92" width="4.89" height="7.79" fill="#f8a01b" stroke="#f8f8f8" stroke-width="0.45"/><rect x="74.15" y="130.92" width="4.89" height="7.79" fill="#f8a01b" stroke="#f8f8f8" stroke-width="0.45"/><rect x="155.00" y="130.92" width="4.89" height="7.79" fill="#050505" stroke="#f8f8f8" stroke-width="0.45"/><rect x="225.07" y="130.92" width="4.89" height="7.79" fill="#050505" stroke="#f8f8f8" stroke-width="0.45"/><rect x="246.63" y="130.92" width="4.89" height="7.79" fill="#050505" stroke="#f8f8f8" stroke-width="0.45"/><rect x="47.20" y="139.21" width="4.89" height="7.79" fill="#050505" stroke="#f8f8f8" stroke-width="0.45"/><rect x="63.37" y="139.21" width="4.89" height="7.79" fill="#f8a01b" stroke="#f8f8f8" stroke-width="0.45"/><rect x="68.76" y="139.21" width="4.89" height="7.79" fill="#f8a01b" stroke="#f8f8f8" stroke-width="0.45"/><rect x="74.15" y="139.21" width="4.89" height="7.79" fill="#f8a01b" stroke="#f8f8f8" stroke-width="0.45"/><rect x="165.78" y="139.21" width="4.89" height="7.79" fill="#050505" stroke="#f8f8f8" stroke-width="0.45"/><rect x="171.17" y="139.21" width="4.89" height="7.79" fill="#050505" stroke="#f8f8f8" stroke-width="0.45"/><rect x="176.56" y="139.21" width="4.89" height="7.79" fill="#050505" stroke="#f8f8f8" stroke-width="0.45"/><rect x="187.34" y="139.21" width="4.89" height="7.79" fill="#050505" stroke="#f8f8f8" stroke-width="0.45"/><rect x="246.63" y="139.21" width="4.89" height="7.79" fill="#050505" stroke="#f8f8f8" stroke-width="0.45"/><rect x="63.37" y="147.50" width="4.89" height="7.79" fill="#f8a01b" stroke="#f8f8f8" stroke-width="0.45"/><rect x="68.76" y="147.50" width="4.89" height="7.79" fill="#f8a01b" stroke="#f8f8f8" stroke-width="0.45"/><rect x="74.15" y="147.50" width="4.89" height="7.79" fill="#f8a01b" stroke="#f8f8f8" stroke-width="0.45"/><rect x="79.54" y="147.50" width="4.89" height="7.79" fill="#050505" stroke="#f8f8f8" stroke-width="0.45"/><rect x="144.22" y="147.50" width="4.89" height="7.79" fill="#050505" stroke="#f8f8f8" stroke-width="0.45"/><rect x="165.78" y="147.50" width="4.89" height="7.79" fill="#050505" stroke="#f8f8f8" stroke-width="0.45"/><rect x="198.12" y="147.50" width="4.89" height="7.79" fill="#050505" stroke="#f8f8f8" stroke-width="0.45"/><rect x="230.46" y="147.50" width="4.89" height="7.79" fill="#050505" stroke="#f8f8f8" stroke-width="0.45"/><rect x="63.37" y="155.79" width="4.89" height="7.79" fill="#f8a01b" stroke="#f8f8f8" stroke-width="0.45"/><rect x="68.76" y="155.79" width="4.89" height="7.79" fill="#f8a01b" stroke="#f8f8f8" stroke-width="0.45"/><rect x="74.15" y="155.79" width="4.89" height="7.79" fill="#f8a01b" stroke="#f8f8f8" stroke-width="0.45"/><rect x="138.83" y="155.79" width="4.89" height="7.79" fill="#050505" stroke="#f8f8f8" stroke-width="0.45"/><rect x="144.22" y="155.79" width="4.89" height="7.79" fill="#050505" stroke="#f8f8f8" stroke-width="0.45"/><rect x="155.00" y="155.79" width="4.89" height="7.79" fill="#050505" stroke="#f8f8f8" stroke-width="0.45"/><rect x="160.39" y="155.79" width="4.89" height="7.79" fill="#050505" stroke="#f8f8f8" stroke-width="0.45"/><rect x="268.19" y="155.79" width="4.89" height="7.79" fill="#050505" stroke="#f8f8f8" stroke-width="0.45"/><rect x="52.59" y="164.08" width="4.89" height="7.79" fill="#050505" stroke="#f8f8f8" stroke-width="0.45"/><rect x="63.37" y="164.08" width="4.89" height="7.79" fill="#f8a01b" stroke="#f8f8f8" stroke-width="0.45"/><rect x="68.76" y="164.08" width="4.89" height="7.79" fill="#f8a01b" stroke="#f8f8f8" stroke-width="0.45"/><rect x="74.15" y="164.08" width="4.89" height="7.79" fill="#f8a01b" stroke="#f8f8f8" stroke-width="0.45"/><rect x="133.44" y="164.08" width="4.89" height="7.79" fill="#050505" stroke="#f8f8f8" stroke-width="0.45"/><rect x="165.78" y="164.08" width="4.89" height="7.79" fill="#050505" stroke="#f8f8f8" stroke-width="0.45"/><rect x="257.41" y="164.08" width="4.89" height="7.79" fill="#050505" stroke="#f8f8f8" stroke-width="0.45"/><rect x="63.37" y="172.37" width="4.89" height="7.79" fill="#f8a01b" stroke="#f8f8f8" stroke-width="0.45"/><rect x="68.76" y="172.37" width="4.89" height="7.79" fill="#f8a01b" stroke="#f8f8f8" stroke-width="0.45"/><rect x="74.15" y="172.37" width="4.89" height="7.79" fill="#f8a01b" stroke="#f8f8f8" stroke-width="0.45"/><rect x="241.24" y="172.37" width="4.89" height="7.79" fill="#050505" stroke="#f8f8f8" stroke-width="0.45"/><rect x="246.63" y="172.37" width="4.89" height="7.79" fill="#050505" stroke="#f8f8f8" stroke-width="0.45"/><rect x="252.02" y="172.37" width="4.89" height="7.79" fill="#050505" stroke="#f8f8f8" stroke-width="0.45"/><rect x="262.80" y="172.37" width="4.89" height="7.79" fill="#050505" stroke="#f8f8f8" stroke-width="0.45"/><rect x="57.98" y="180.66" width="4.89" height="7.79" fill="#050505" stroke="#f8f8f8" stroke-width="0.45"/><rect x="63.37" y="180.66" width="4.89" height="7.79" fill="#f8a01b" stroke="#f8f8f8" stroke-width="0.45"/><rect x="68.76" y="180.66" width="4.89" height="7.79" fill="#f8a01b" stroke="#f8f8f8" stroke-width="0.45"/><rect x="74.15" y="180.66" width="4.89" height="7.79" fill="#f8a01b" stroke="#f8f8f8" stroke-width="0.45"/><rect x="160.39" y="180.66" width="4.89" height="7.79" fill="#050505" stroke="#f8f8f8" stroke-width="0.45"/><rect x="230.46" y="180.66" width="4.89" height="7.79" fill="#050505" stroke="#f8f8f8" stroke-width="0.45"/><rect x="235.85" y="180.66" width="4.89" height="7.79" fill="#050505" stroke="#f8f8f8" stroke-width="0.45"/><rect x="20.25" y="188.95" width="4.89" height="7.79" fill="#050505" stroke="#f8f8f8" stroke-width="0.45"/><rect x="63.37" y="188.95" width="4.89" height="7.79" fill="#f8a01b" stroke="#f8f8f8" stroke-width="0.45"/><rect x="68.76" y="188.95" width="4.89" height="7.79" fill="#f8a01b" stroke="#f8f8f8" stroke-width="0.45"/><rect x="74.15" y="188.95" width="4.89" height="7.79" fill="#f8a01b" stroke="#f8f8f8" stroke-width="0.45"/><rect x="122.66" y="188.95" width="4.89" height="7.79" fill="#050505" stroke="#f8f8f8" stroke-width="0.45"/><rect x="181.95" y="188.95" width="4.89" height="7.79" fill="#050505" stroke="#f8f8f8" stroke-width="0.45"/><rect x="252.02" y="188.95" width="4.89" height="7.79" fill="#050505" stroke="#f8f8f8" stroke-width="0.45"/><rect x="57.98" y="197.24" width="4.89" height="7.79" fill="#050505" stroke="#f8f8f8" stroke-width="0.45"/><rect x="63.37" y="197.24" width="4.89" height="7.79" fill="#f8a01b" stroke="#f8f8f8" stroke-width="0.45"/><rect x="68.76" y="197.24" width="4.89" height="7.79" fill="#f8a01b" stroke="#f8f8f8" stroke-width="0.45"/><rect x="74.15" y="197.24" width="4.89" height="7.79" fill="#f8a01b" stroke="#f8f8f8" stroke-width="0.45"/><rect x="138.83" y="197.24" width="4.89" height="7.79" fill="#050505" stroke="#f8f8f8" stroke-width="0.45"/><rect x="252.02" y="197.24" width="4.89" height="7.79" fill="#050505" stroke="#f8f8f8" stroke-width="0.45"/><rect x="63.37" y="205.53" width="4.89" height="7.79" fill="#f8a01b" stroke="#f8f8f8" stroke-width="0.45"/><rect x="68.76" y="205.53" width="4.89" height="7.79" fill="#f8a01b" stroke="#f8f8f8" stroke-width="0.45"/><rect x="74.15" y="205.53" width="4.89" height="7.79" fill="#f8a01b" stroke="#f8f8f8" stroke-width="0.45"/><rect x="128.05" y="205.53" width="4.89" height="7.79" fill="#050505" stroke="#f8f8f8" stroke-width="0.45"/>
<text x="280.40" y="72.09" font-size="9.6" fill="#231f20">Cytogenetics</text>
<text x="280.40" y="80.38" font-size="9.6" fill="#231f20">ELN2017 risk</text>
<text x="280.40" y="88.67" font-size="9.6" fill="#231f20">FAB group</text>
<text x="280.40" y="96.96" font-size="9.6" fill="#231f20">Age</text>
<text x="280.40" y="105.25" font-size="9.6" fill="#231f20">Sex</text>
<text x="280.40" y="113.54" font-size="9.6" font-style="italic" fill="#231f20">FLT3</text>
<text x="280.40" y="121.83" font-size="9.6" font-style="italic" fill="#231f20">DNMT3A</text>
<text x="280.40" y="130.12" font-size="9.6" font-style="italic" fill="#231f20">NPM1</text>
<text x="280.40" y="138.41" font-size="9.6" font-style="italic" fill="#231f20">NRAS</text>
<text x="280.40" y="146.70" font-size="9.6" font-style="italic" fill="#231f20">CEBPA</text>
<text x="280.40" y="154.99" font-size="9.6" font-style="italic" fill="#231f20">WT1</text>
<text x="280.40" y="163.28" font-size="9.6" font-style="italic" fill="#231f20">IDH1</text>
<text x="280.40" y="171.57" font-size="9.6" font-style="italic" fill="#231f20">IDH2</text>
<text x="280.40" y="179.86" font-size="9.6" font-style="italic" fill="#231f20">TP53</text>
<text x="280.40" y="188.15" font-size="9.6" font-style="italic" fill="#231f20">RUNX1</text>
<text x="280.40" y="196.44" font-size="9.6" font-style="italic" fill="#231f20">SMC3</text>
<text x="280.40" y="204.73" font-size="9.6" font-style="italic" fill="#231f20">TET2</text>
<text x="280.40" y="213.02" font-size="9.6" font-style="italic" fill="#231f20">KIT</text>
<path d="M274.6 68.49H277.6M274.6 76.78H277.6M274.6 85.07H277.6M274.6 93.36H277.6M274.6 101.65H277.6M274.6 109.94H277.6M274.6 118.23H277.6M274.6 126.52H277.6M274.6 134.81H277.6M274.6 143.10H277.6M274.6 151.39H277.6M274.6 159.69H277.6M274.6 167.97H277.6M274.6 176.26H277.6M274.6 184.55H277.6M274.6 192.84H277.6M274.6 201.13H277.6M274.6 209.42H277.6" stroke="#231f20" stroke-width="1"/>
<defs><clipPath id="hc"><rect x="20.0" y="216.0" width="253.33" height="223.02"/></clipPath></defs><g clip-path="url(#hc)"><rect x="20.00" y="216.00" width="5.99" height="5.34" fill="#faebdd"/><rect x="25.39" y="216.00" width="5.99" height="5.34" fill="#e9423e"/><rect x="30.78" y="216.00" width="5.99" height="5.34" fill="#e23442"/><rect x="36.17" y="216.00" width="5.99" height="5.34" fill="#db2946"/><rect x="41.56" y="216.00" width="5.99" height="5.34" fill="#cb1b4f"/><rect x="46.95" y="216.00" width="5.99" height="5.34" fill="#e23442"/><rect x="52.34" y="216.00" width="5.99" height="5.34" fill="#ce1d4e"/><rect x="57.73" y="216.00" width="5.99" height="5.34" fill="#3f1b43"/><rect x="63.12" y="216.00" width="5.99" height="5.34" fill="#841e5a"/><rect x="68.51" y="216.00" width="5.99" height="5.34" fill="#611f53"/><rect x="73.90" y="216.00" width="5.99" height="5.34" fill="#841e5a"/><rect x="79.29" y="216.00" width="5.99" height="5.34" fill="#841e5a"/><rect x="84.68" y="216.00" width="5.99" height="5.34" fill="#9c1b5b"/><rect x="90.07" y="216.00" width="5.99" height="5.34" fill="#6d1f56"/><rect x="95.46" y="216.00" width="5.99" height="5.34" fill="#6d1f56"/><rect x="100.85" y="216.00" width="5.99" height="5.34" fill="#9c1b5b"/><rect x="106.24" y="216.00" width="5.99" height="5.34" fill="#6d1f56"/><rect x="111.63" y="216.00" width="5.99" height="5.34" fill="#541e4e"/><rect x="117.02" y="216.00" width="5.99" height="5.34" fill="#b41658"/><rect x="122.41" y="216.00" width="5.99" height="5.34" fill="#2a1636"/><rect x="127.80" y="216.00" width="5.99" height="5.34" fill="#541e4e"/><rect x="133.19" y="216.00" width="5.99" height="5.34" fill="#3f1b43"/><rect x="138.58" y="216.00" width="5.99" height="5.34" fill="#160e27"/><rect x="143.97" y="216.00" width="5.99" height="5.34" fill="#541e4e"/><rect x="149.36" y="216.00" width="5.99" height="5.34" fill="#841e5a"/><rect x="154.75" y="216.00" width="5.99" height="5.34" fill="#160e27"/><rect x="160.14" y="216.00" width="5.99" height="5.34" fill="#6d1f56"/><rect x="165.53" y="216.00" width="5.99" height="5.34" fill="#541e4e"/><rect x="170.92" y="216.00" width="5.99" height="5.34" fill="#541e4e"/><rect x="176.31" y="216.00" width="5.99" height="5.34" fill="#b41658"/><rect x="181.70" y="216.00" width="5.99" height="5.34" fill="#d2204c"/><rect x="187.09" y="216.00" width="5.99" height="5.34" fill="#9c1b5b"/><rect x="192.48" y="216.00" width="5.99" height="5.34" fill="#cb1b4f"/><rect x="197.87" y="216.00" width="5.99" height="5.34" fill="#9c1b5b"/><rect x="203.26" y="216.00" width="5.99" height="5.34" fill="#b41658"/><rect x="208.65" y="216.00" width="5.99" height="5.34" fill="#cb1b4f"/><rect x="214.04" y="216.00" width="5.99" height="5.34" fill="#b41658"/><rect x="219.43" y="216.00" width="5.99" height="5.34" fill="#9c1b5b"/><rect x="224.82" y="216.00" width="5.99" height="5.34" fill="#9c1b5b"/><rect x="230.21" y="216.00" width="5.99" height="5.34" fill="#b41658"/><rect x="235.60" y="216.00" width="5.99" height="5.34" fill="#ed503e"/><rect x="240.99" y="216.00" width="5.99" height="5.34" fill="#cb1b4f"/><rect x="246.38" y="216.00" width="5.99" height="5.34" fill="#cb1b4f"/><rect x="251.77" y="216.00" width="5.99" height="5.34" fill="#841e5a"/><rect x="257.16" y="216.00" width="5.99" height="5.34" fill="#9c1b5b"/><rect x="262.55" y="216.00" width="5.99" height="5.34" fill="#541e4e"/><rect x="267.94" y="216.00" width="5.99" height="5.34" fill="#841e5a"/><rect x="20.00" y="220.75" width="5.99" height="5.34" fill="#e9423e"/><rect x="25.39" y="220.75" width="5.99" height="5.34" fill="#faebdd"/><rect x="30.78" y="220.75" width="5.99" height="5.34" fill="#f26b49"/><rect x="36.17" y="220.75" width="5.99" height="5.34" fill="#f26b49"/><rect x="41.56" y="220.75" width="5.99" height="5.34" fill="#ed503e"/><rect x="46.95" y="220.75" width="5.99" height="5.34" fill="#ed503e"/><rect x="52.34" y="220.75" width="5.99" height="5.34" fill="#cb1b4f"/><rect x="57.73" y="220.75" width="5.99" height="5.34" fill="#611f53"/><rect x="63.12" y="220.75" width="5.99" height="5.34" fill="#841e5a"/><rect x="68.51" y="220.75" width="5.99" height="5.34" fill="#841e5a"/><rect x="73.90" y="220.75" width="5.99" height="5.34" fill="#841e5a"/><rect x="79.29" y="220.75" width="5.99" height="5.34" fill="#841e5a"/><rect x="84.68" y="220.75" width="5.99" height="5.34" fill="#b41658"/><rect x="90.07" y="220.75" width="5.99" height="5.34" fill="#6d1f56"/><rect x="95.46" y="220.75" width="5.99" height="5.34" fill="#b41658"/><rect x="100.85" y="220.75" width="5.99" height="5.34" fill="#e23442"/><rect x="106.24" y="220.75" width="5.99" height="5.34" fill="#841e5a"/><rect x="111.63" y="220.75" width="5.99" height="5.34" fill="#6d1f56"/><rect x="117.02" y="220.75" width="5.99" height="5.34" fill="#841e5a"/><rect x="122.41" y="220.75" width="5.99" height="5.34" fill="#6d1f56"/><rect x="127.80" y="220.75" width="5.99" height="5.34" fill="#841e5a"/><rect x="133.19" y="220.75" width="5.99" height="5.34" fill="#541e4e"/><rect x="138.58" y="220.75" width="5.99" height="5.34" fill="#541e4e"/><rect x="143.97" y="220.75" width="5.99" height="5.34" fill="#541e4e"/><rect x="149.36" y="220.75" width="5.99" height="5.34" fill="#541e4e"/><rect x="154.75" y="220.75" width="5.99" height="5.34" fill="#3f1b43"/><rect x="160.14" y="220.75" width="5.99" height="5.34" fill="#6d1f56"/><rect x="165.53" y="220.75" width="5.99" height="5.34" fill="#6d1f56"/><rect x="170.92" y="220.75" width="5.99" height="5.34" fill="#9c1b5b"/><rect x="176.31" y="220.75" width="5.99" height="5.34" fill="#cb1b4f"/><rect x="181.70" y="220.75" width="5.99" height="5.34" fill="#541e4e"/><rect x="187.09" y="220.75" width="5.99" height="5.34" fill="#841e5a"/><rect x="192.48" y="220.75" width="5.99" height="5.34" fill="#ed503e"/><rect x="197.87" y="220.75" width="5.99" height="5.34" fill="#b41658"/><rect x="203.26" y="220.75" width="5.99" height="5.34" fill="#9c1b5b"/><rect x="208.65" y="220.75" width="5.99" height="5.34" fill="#841e5a"/><rect x="214.04" y="220.75" width="5.99" height="5.34" fill="#841e5a"/><rect x="219.43" y="220.75" width="5.99" height="5.34" fill="#d2204c"/><rect x="224.82" y="220.75" width="5.99" height="5.34" fill="#d2204c"/><rect x="230.21" y="220.75" width="5.99" height="5.34" fill="#b41658"/><rect x="235.60" y="220.75" width="5.99" height="5.34" fill="#9c1b5b"/><rect x="240.99" y="220.75" width="5.99" height="5.34" fill="#b41658"/><rect x="246.38" y="220.75" width="5.99" height="5.34" fill="#9c1b5b"/><rect x="251.77" y="220.75" width="5.99" height="5.34" fill="#841e5a"/><rect x="257.16" y="220.75" width="5.99" height="5.34" fill="#9c1b5b"/><rect x="262.55" y="220.75" width="5.99" height="5.34" fill="#9c1b5b"/><rect x="267.94" y="220.75" width="5.99" height="5.34" fill="#841e5a"/><rect x="20.00" y="225.49" width="5.99" height="5.34" fill="#e23442"/><rect x="25.39" y="225.49" width="5.99" height="5.34" fill="#f26b49"/><rect x="30.78" y="225.49" width="5.99" height="5.34" fill="#faebdd"/><rect x="36.17" y="225.49" width="5.99" height="5.34" fill="#f4845d"/><rect x="41.56" y="225.49" width="5.99" height="5.34" fill="#ed503e"/><rect x="46.95" y="225.49" width="5.99" height="5.34" fill="#d2204c"/><rect x="52.34" y="225.49" width="5.99" height="5.34" fill="#b41658"/><rect x="57.73" y="225.49" width="5.99" height="5.34" fill="#611f53"/><rect x="63.12" y="225.49" width="5.99" height="5.34" fill="#841e5a"/><rect x="68.51" y="225.49" width="5.99" height="5.34" fill="#841e5a"/><rect x="73.90" y="225.49" width="5.99" height="5.34" fill="#841e5a"/><rect x="79.29" y="225.49" width="5.99" height="5.34" fill="#491d49"/><rect x="84.68" y="225.49" width="5.99" height="5.34" fill="#e23442"/><rect x="90.07" y="225.49" width="5.99" height="5.34" fill="#d2204c"/><rect x="95.46" y="225.49" width="5.99" height="5.34" fill="#b41658"/><rect x="100.85" y="225.49" width="5.99" height="5.34" fill="#cb1b4f"/><rect x="106.24" y="225.49" width="5.99" height="5.34" fill="#841e5a"/><rect x="111.63" y="225.49" width="5.99" height="5.34" fill="#2a1636"/><rect x="117.02" y="225.49" width="5.99" height="5.34" fill="#2a1636"/><rect x="122.41" y="225.49" width="5.99" height="5.34" fill="#2a1636"/><rect x="127.80" y="225.49" width="5.99" height="5.34" fill="#841e5a"/><rect x="133.19" y="225.49" width="5.99" height="5.34" fill="#6d1f56"/><rect x="138.58" y="225.49" width="5.99" height="5.34" fill="#b41658"/><rect x="143.97" y="225.49" width="5.99" height="5.34" fill="#2a1636"/><rect x="149.36" y="225.49" width="5.99" height="5.34" fill="#541e4e"/><rect x="154.75" y="225.49" width="5.99" height="5.34" fill="#2a1636"/><rect x="160.14" y="225.49" width="5.99" height="5.34" fill="#541e4e"/><rect x="165.53" y="225.49" width="5.99" height="5.34" fill="#9c1b5b"/><rect x="170.92" y="225.49" width="5.99" height="5.34" fill="#9c1b5b"/><rect x="176.31" y="225.49" width="5.99" height="5.34" fill="#d2204c"/><rect x="181.70" y="225.49" width="5.99" height="5.34" fill="#160e27"/><rect x="187.09" y="225.49" width="5.99" height="5.34" fill="#2a1636"/><rect x="192.48" y="225.49" width="5.99" height="5.34" fill="#9c1b5b"/><rect x="197.87" y="225.49" width="5.99" height="5.34" fill="#841e5a"/><rect x="203.26" y="225.49" width="5.99" height="5.34" fill="#841e5a"/><rect x="208.65" y="225.49" width="5.99" height="5.34" fill="#6d1f56"/><rect x="214.04" y="225.49" width="5.99" height="5.34" fill="#6d1f56"/><rect x="219.43" y="225.49" width="5.99" height="5.34" fill="#d2204c"/><rect x="224.82" y="225.49" width="5.99" height="5.34" fill="#d2204c"/><rect x="230.21" y="225.49" width="5.99" height="5.34" fill="#6d1f56"/><rect x="235.60" y="225.49" width="5.99" height="5.34" fill="#3f1b43"/><rect x="240.99" y="225.49" width="5.99" height="5.34" fill="#841e5a"/><rect x="246.38" y="225.49" width="5.99" height="5.34" fill="#2a1636"/><rect x="251.77" y="225.49" width="5.99" height="5.34" fill="#2a1636"/><rect x="257.16" y="225.49" width="5.99" height="5.34" fill="#6d1f56"/><rect x="262.55" y="225.49" width="5.99" height="5.34" fill="#841e5a"/><rect x="267.94" y="225.49" width="5.99" height="5.34" fill="#6d1f56"/><rect x="20.00" y="230.24" width="5.99" height="5.34" fill="#db2946"/><rect x="25.39" y="230.24" width="5.99" height="5.34" fill="#f26b49"/><rect x="30.78" y="230.24" width="5.99" height="5.34" fill="#f4845d"/><rect x="36.17" y="230.24" width="5.99" height="5.34" fill="#faebdd"/><rect x="41.56" y="230.24" width="5.99" height="5.34" fill="#f4845d"/><rect x="46.95" y="230.24" width="5.99" height="5.34" fill="#e23442"/><rect x="52.34" y="230.24" width="5.99" height="5.34" fill="#b41658"/><rect x="57.73" y="230.24" width="5.99" height="5.34" fill="#541e4e"/><rect x="63.12" y="230.24" width="5.99" height="5.34" fill="#841e5a"/><rect x="68.51" y="230.24" width="5.99" height="5.34" fill="#841e5a"/><rect x="73.90" y="230.24" width="5.99" height="5.34" fill="#9c1b5b"/><rect x="79.29" y="230.24" width="5.99" height="5.34" fill="#841e5a"/><rect x="84.68" y="230.24" width="5.99" height="5.34" fill="#f26b49"/><rect x="90.07" y="230.24" width="5.99" height="5.34" fill="#d2204c"/><rect x="95.46" y="230.24" width="5.99" height="5.34" fill="#b41658"/><rect x="100.85" y="230.24" width="5.99" height="5.34" fill="#cb1b4f"/><rect x="106.24" y="230.24" width="5.99" height="5.34" fill="#9c1b5b"/><rect x="111.63" y="230.24" width="5.99" height="5.34" fill="#2a1636"/><rect x="117.02" y="230.24" width="5.99" height="5.34" fill="#3f1b43"/><rect x="122.41" y="230.24" width="5.99" height="5.34" fill="#3f1b43"/><rect x="127.80" y="230.24" width="5.99" height="5.34" fill="#9c1b5b"/><rect x="133.19" y="230.24" width="5.99" height="5.34" fill="#9c1b5b"/><rect x="138.58" y="230.24" width="5.99" height="5.34" fill="#b41658"/><rect x="143.97" y="230.24" width="5.99" height="5.34" fill="#841e5a"/><rect x="149.36" y="230.24" width="5.99" height="5.34" fill="#b41658"/><rect x="154.75" y="230.24" width="5.99" height="5.34" fill="#541e4e"/><rect x="160.14" y="230.24" width="5.99" height="5.34" fill="#6d1f56"/><rect x="165.53" y="230.24" width="5.99" height="5.34" fill="#cb1b4f"/><rect x="170.92" y="230.24" width="5.99" height="5.34" fill="#e23442"/><rect x="176.31" y="230.24" width="5.99" height="5.34" fill="#e23442"/><rect x="181.70" y="230.24" width="5.99" height="5.34" fill="#3f1b43"/><rect x="187.09" y="230.24" width="5.99" height="5.34" fill="#841e5a"/><rect x="192.48" y="230.24" width="5.99" height="5.34" fill="#d2204c"/><rect x="197.87" y="230.24" width="5.99" height="5.34" fill="#cb1b4f"/><rect x="203.26" y="230.24" width="5.99" height="5.34" fill="#cb1b4f"/><rect x="208.65" y="230.24" width="5.99" height="5.34" fill="#841e5a"/><rect x="214.04" y="230.24" width="5.99" height="5.34" fill="#6d1f56"/><rect x="219.43" y="230.24" width="5.99" height="5.34" fill="#ed503e"/><rect x="224.82" y="230.24" width="5.99" height="5.34" fill="#e23442"/><rect x="230.21" y="230.24" width="5.99" height="5.34" fill="#9c1b5b"/><rect x="235.60" y="230.24" width="5.99" height="5.34" fill="#541e4e"/><rect x="240.99" y="230.24" width="5.99" height="5.34" fill="#6d1f56"/><rect x="246.38" y="230.24" width="5.99" height="5.34" fill="#160e27"/><rect x="251.77" y="230.24" width="5.99" height="5.34" fill="#160e27"/><rect x="257.16" y="230.24" width="5.99" height="5.34" fill="#841e5a"/><rect x="262.55" y="230.24" width="5.99" height="5.34" fill="#841e5a"/><rect x="267.94" y="230.24" width="5.99" height="5.34" fill="#6d1f56"/><rect x="20.00" y="234.98" width="5.99" height="5.34" fill="#cb1b4f"/><rect x="25.39" y="234.98" width="5.99" height="5.34" fill="#ed503e"/><rect x="30.78" y="234.98" width="5.99" height="5.34" fill="#ed503e"/><rect x="36.17" y="234.98" width="5.99" height="5.34" fill="#f4845d"/><rect x="41.56" y="234.98" width="5.99" height="5.34" fill="#faebdd"/><rect x="46.95" y="234.98" width="5.99" height="5.34" fill="#ed503e"/><rect x="52.34" y="234.98" width="5.99" height="5.34" fill="#cb1b4f"/><rect x="57.73" y="234.98" width="5.99" height="5.34" fill="#611f53"/><rect x="63.12" y="234.98" width="5.99" height="5.34" fill="#9c1b5b"/><rect x="68.51" y="234.98" width="5.99" height="5.34" fill="#b41658"/><rect x="73.90" y="234.98" width="5.99" height="5.34" fill="#a8185a"/><rect x="79.29" y="234.98" width="5.99" height="5.34" fill="#9c1b5b"/><rect x="84.68" y="234.98" width="5.99" height="5.34" fill="#f4845d"/><rect x="90.07" y="234.98" width="5.99" height="5.34" fill="#d2204c"/><rect x="95.46" y="234.98" width="5.99" height="5.34" fill="#cb1b4f"/><rect x="100.85" y="234.98" width="5.99" height="5.34" fill="#cb1b4f"/><rect x="106.24" y="234.98" width="5.99" height="5.34" fill="#841e5a"/><rect x="111.63" y="234.98" width="5.99" height="5.34" fill="#6d1f56"/><rect x="117.02" y="234.98" width="5.99" height="5.34" fill="#6d1f56"/><rect x="122.41" y="234.98" width="5.99" height="5.34" fill="#541e4e"/><rect x="127.80" y="234.98" width="5.99" height="5.34" fill="#9c1b5b"/><rect x="133.19" y="234.98" width="5.99" height="5.34" fill="#841e5a"/><rect x="138.58" y="234.98" width="5.99" height="5.34" fill="#841e5a"/><rect x="143.97" y="234.98" width="5.99" height="5.34" fill="#841e5a"/><rect x="149.36" y="234.98" width="5.99" height="5.34" fill="#b41658"/><rect x="154.75" y="234.98" width="5.99" height="5.34" fill="#541e4e"/><rect x="160.14" y="234.98" width="5.99" height="5.34" fill="#6d1f56"/><rect x="165.53" y="234.98" width="5.99" height="5.34" fill="#cb1b4f"/><rect x="170.92" y="234.98" width="5.99" height="5.34" fill="#e23442"/><rect x="176.31" y="234.98" width="5.99" height="5.34" fill="#d2204c"/><rect x="181.70" y="234.98" width="5.99" height="5.34" fill="#841e5a"/><rect x="187.09" y="234.98" width="5.99" height="5.34" fill="#841e5a"/><rect x="192.48" y="234.98" width="5.99" height="5.34" fill="#d2204c"/><rect x="197.87" y="234.98" width="5.99" height="5.34" fill="#e23442"/><rect x="203.26" y="234.98" width="5.99" height="5.34" fill="#b41658"/><rect x="208.65" y="234.98" width="5.99" height="5.34" fill="#841e5a"/><rect x="214.04" y="234.98" width="5.99" height="5.34" fill="#841e5a"/><rect x="219.43" y="234.98" width="5.99" height="5.34" fill="#d2204c"/><rect x="224.82" y="234.98" width="5.99" height="5.34" fill="#d2204c"/><rect x="230.21" y="234.98" width="5.99" height="5.34" fill="#9c1b5b"/><rect x="235.60" y="234.98" width="5.99" height="5.34" fill="#6d1f56"/><rect x="240.99" y="234.98" width="5.99" height="5.34" fill="#841e5a"/><rect x="246.38" y="234.98" width="5.99" height="5.34" fill="#2a1636"/><rect x="251.77" y="234.98" width="5.99" height="5.34" fill="#3f1b43"/><rect x="257.16" y="234.98" width="5.99" height="5.34" fill="#841e5a"/><rect x="262.55" y="234.98" width="5.99" height="5.34" fill="#541e4e"/><rect x="267.94" y="234.98" width="5.99" height="5.34" fill="#6d1f56"/><rect x="20.00" y="239.72" width="5.99" height="5.34" fill="#e23442"/><rect x="25.39" y="239.72" width="5.99" height="5.34" fill="#ed503e"/><rect x="30.78" y="239.72" width="5.99" height="5.34" fill="#d2204c"/><rect x="36.17" y="239.72" width="5.99" height="5.34" fill="#e23442"/><rect x="41.56" y="239.72" width="5.99" height="5.34" fill="#ed503e"/><rect x="46.95" y="239.72" width="5.99" height="5.34" fill="#faebdd"/><rect x="52.34" y="239.72" width="5.99" height="5.34" fill="#cb1b4f"/><rect x="57.73" y="239.72" width="5.99" height="5.34" fill="#6d1f56"/><rect x="63.12" y="239.72" width="5.99" height="5.34" fill="#841e5a"/><rect x="68.51" y="239.72" width="5.99" height="5.34" fill="#841e5a"/><rect x="73.90" y="239.72" width="5.99" height="5.34" fill="#9c1b5b"/><rect x="79.29" y="239.72" width="5.99" height="5.34" fill="#841e5a"/><rect x="84.68" y="239.72" width="5.99" height="5.34" fill="#cb1b4f"/><rect x="90.07" y="239.72" width="5.99" height="5.34" fill="#9c1b5b"/><rect x="95.46" y="239.72" width="5.99" height="5.34" fill="#841e5a"/><rect x="100.85" y="239.72" width="5.99" height="5.34" fill="#cb1b4f"/><rect x="106.24" y="239.72" width="5.99" height="5.34" fill="#841e5a"/><rect x="111.63" y="239.72" width="5.99" height="5.34" fill="#6d1f56"/><rect x="117.02" y="239.72" width="5.99" height="5.34" fill="#b41658"/><rect x="122.41" y="239.72" width="5.99" height="5.34" fill="#541e4e"/><rect x="127.80" y="239.72" width="5.99" height="5.34" fill="#841e5a"/><rect x="133.19" y="239.72" width="5.99" height="5.34" fill="#6d1f56"/><rect x="138.58" y="239.72" width="5.99" height="5.34" fill="#541e4e"/><rect x="143.97" y="239.72" width="5.99" height="5.34" fill="#841e5a"/><rect x="149.36" y="239.72" width="5.99" height="5.34" fill="#b41658"/><rect x="154.75" y="239.72" width="5.99" height="5.34" fill="#541e4e"/><rect x="160.14" y="239.72" width="5.99" height="5.34" fill="#541e4e"/><rect x="165.53" y="239.72" width="5.99" height="5.34" fill="#9c1b5b"/><rect x="170.92" y="239.72" width="5.99" height="5.34" fill="#9c1b5b"/><rect x="176.31" y="239.72" width="5.99" height="5.34" fill="#cb1b4f"/><rect x="181.70" y="239.72" width="5.99" height="5.34" fill="#b41658"/><rect x="187.09" y="239.72" width="5.99" height="5.34" fill="#9c1b5b"/><rect x="192.48" y="239.72" width="5.99" height="5.34" fill="#d2204c"/><rect x="197.87" y="239.72" width="5.99" height="5.34" fill="#cb1b4f"/><rect x="203.26" y="239.72" width="5.99" height="5.34" fill="#b41658"/><rect x="208.65" y="239.72" width="5.99" height="5.34" fill="#9c1b5b"/><rect x="214.04" y="239.72" width="5.99" height="5.34" fill="#cb1b4f"/><rect x="219.43" y="239.72" width="5.99" height="5.34" fill="#d2204c"/><rect x="224.82" y="239.72" width="5.99" height="5.34" fill="#d2204c"/><rect x="230.21" y="239.72" width="5.99" height="5.34" fill="#9c1b5b"/><rect x="235.60" y="239.72" width="5.99" height="5.34" fill="#b41658"/><rect x="240.99" y="239.72" width="5.99" height="5.34" fill="#b41658"/><rect x="246.38" y="239.72" width="5.99" height="5.34" fill="#841e5a"/><rect x="251.77" y="239.72" width="5.99" height="5.34" fill="#b41658"/><rect x="257.16" y="239.72" width="5.99" height="5.34" fill="#d2204c"/><rect x="262.55" y="239.72" width="5.99" height="5.34" fill="#9c1b5b"/><rect x="267.94" y="239.72" width="5.99" height="5.34" fill="#9c1b5b"/><rect x="20.00" y="244.47" width="5.99" height="5.34" fill="#ce1d4e"/><rect x="25.39" y="244.47" width="5.99" height="5.34" fill="#cb1b4f"/><rect x="30.78" y="244.47" width="5.99" height="5.34" fill="#b41658"/><rect x="36.17" y="244.47" width="5.99" height="5.34" fill="#b41658"/><rect x="41.56" y="244.47" width="5.99" height="5.34" fill="#cb1b4f"/><rect x="46.95" y="244.47" width="5.99" height="5.34" fill="#cb1b4f"/><rect x="52.34" y="244.47" width="5.99" height="5.34" fill="#faebdd"/><rect x="57.73" y="244.47" width="5.99" height="5.34" fill="#b41658"/><rect x="63.12" y="244.47" width="5.99" height="5.34" fill="#cb1b4f"/><rect x="68.51" y="244.47" width="5.99" height="5.34" fill="#cb1b4f"/><rect x="73.90" y="244.47" width="5.99" height="5.34" fill="#cb1b4f"/><rect x="79.29" y="244.47" width="5.99" height="5.34" fill="#9c1b5b"/><rect x="84.68" y="244.47" width="5.99" height="5.34" fill="#cb1b4f"/><rect x="90.07" y="244.47" width="5.99" height="5.34" fill="#9c1b5b"/><rect x="95.46" y="244.47" width="5.99" height="5.34" fill="#b41658"/><rect x="100.85" y="244.47" width="5.99" height="5.34" fill="#cb1b4f"/><rect x="106.24" y="244.47" width="5.99" height="5.34" fill="#841e5a"/><rect x="111.63" y="244.47" width="5.99" height="5.34" fill="#6d1f56"/><rect x="117.02" y="244.47" width="5.99" height="5.34" fill="#6d1f56"/><rect x="122.41" y="244.47" width="5.99" height="5.34" fill="#6d1f56"/><rect x="127.80" y="244.47" width="5.99" height="5.34" fill="#541e4e"/><rect x="133.19" y="244.47" width="5.99" height="5.34" fill="#3f1b43"/><rect x="138.58" y="244.47" width="5.99" height="5.34" fill="#3f1b43"/><rect x="143.97" y="244.47" width="5.99" height="5.34" fill="#3f1b43"/><rect x="149.36" y="244.47" width="5.99" height="5.34" fill="#2a1636"/><rect x="154.75" y="244.47" width="5.99" height="5.34" fill="#541e4e"/><rect x="160.14" y="244.47" width="5.99" height="5.34" fill="#841e5a"/><rect x="165.53" y="244.47" width="5.99" height="5.34" fill="#841e5a"/><rect x="170.92" y="244.47" width="5.99" height="5.34" fill="#541e4e"/><rect x="176.31" y="244.47" width="5.99" height="5.34" fill="#541e4e"/><rect x="181.70" y="244.47" width="5.99" height="5.34" fill="#541e4e"/><rect x="187.09" y="244.47" width="5.99" height="5.34" fill="#541e4e"/><rect x="192.48" y="244.47" width="5.99" height="5.34" fill="#b41658"/><rect x="197.87" y="244.47" width="5.99" height="5.34" fill="#841e5a"/><rect x="203.26" y="244.47" width="5.99" height="5.34" fill="#3f1b43"/><rect x="208.65" y="244.47" width="5.99" height="5.34" fill="#6d1f56"/><rect x="214.04" y="244.47" width="5.99" height="5.34" fill="#6d1f56"/><rect x="219.43" y="244.47" width="5.99" height="5.34" fill="#841e5a"/><rect x="224.82" y="244.47" width="5.99" height="5.34" fill="#841e5a"/><rect x="230.21" y="244.47" width="5.99" height="5.34" fill="#9c1b5b"/><rect x="235.60" y="244.47" width="5.99" height="5.34" fill="#cb1b4f"/><rect x="240.99" y="244.47" width="5.99" height="5.34" fill="#cb1b4f"/><rect x="246.38" y="244.47" width="5.99" height="5.34" fill="#cb1b4f"/><rect x="251.77" y="244.47" width="5.99" height="5.34" fill="#b41658"/><rect x="257.16" y="244.47" width="5.99" height="5.34" fill="#6d1f56"/><rect x="262.55" y="244.47" width="5.99" height="5.34" fill="#841e5a"/><rect x="267.94" y="244.47" width="5.99" height="5.34" fill="#6d1f56"/><rect x="20.00" y="249.22" width="5.99" height="5.34" fill="#3f1b43"/><rect x="25.39" y="249.22" width="5.99" height="5.34" fill="#611f53"/><rect x="30.78" y="249.22" width="5.99" height="5.34" fill="#611f53"/><rect x="36.17" y="249.22" width="5.99" height="5.34" fill="#541e4e"/><rect x="41.56" y="249.22" width="5.99" height="5.34" fill="#611f53"/><rect x="46.95" y="249.22" width="5.99" height="5.34" fill="#6d1f56"/><rect x="52.34" y="249.22" width="5.99" height="5.34" fill="#b41658"/><rect x="57.73" y="249.22" width="5.99" height="5.34" fill="#faebdd"/><rect x="63.12" y="249.22" width="5.99" height="5.34" fill="#cb1b4f"/><rect x="68.51" y="249.22" width="5.99" height="5.34" fill="#db2946"/><rect x="73.90" y="249.22" width="5.99" height="5.34" fill="#cb1b4f"/><rect x="79.29" y="249.22" width="5.99" height="5.34" fill="#901d5b"/><rect x="84.68" y="249.22" width="5.99" height="5.34" fill="#9c1b5b"/><rect x="90.07" y="249.22" width="5.99" height="5.34" fill="#b41658"/><rect x="95.46" y="249.22" width="5.99" height="5.34" fill="#e23442"/><rect x="100.85" y="249.22" width="5.99" height="5.34" fill="#9c1b5b"/><rect x="106.24" y="249.22" width="5.99" height="5.34" fill="#cb1b4f"/><rect x="111.63" y="249.22" width="5.99" height="5.34" fill="#cb1b4f"/><rect x="117.02" y="249.22" width="5.99" height="5.34" fill="#cb1b4f"/><rect x="122.41" y="249.22" width="5.99" height="5.34" fill="#cb1b4f"/><rect x="127.80" y="249.22" width="5.99" height="5.34" fill="#d2204c"/><rect x="133.19" y="249.22" width="5.99" height="5.34" fill="#b41658"/><rect x="138.58" y="249.22" width="5.99" height="5.34" fill="#b41658"/><rect x="143.97" y="249.22" width="5.99" height="5.34" fill="#b41658"/><rect x="149.36" y="249.22" width="5.99" height="5.34" fill="#9c1b5b"/><rect x="154.75" y="249.22" width="5.99" height="5.34" fill="#e23442"/><rect x="160.14" y="249.22" width="5.99" height="5.34" fill="#ed503e"/><rect x="165.53" y="249.22" width="5.99" height="5.34" fill="#841e5a"/><rect x="170.92" y="249.22" width="5.99" height="5.34" fill="#841e5a"/><rect x="176.31" y="249.22" width="5.99" height="5.34" fill="#541e4e"/><rect x="181.70" y="249.22" width="5.99" height="5.34" fill="#841e5a"/><rect x="187.09" y="249.22" width="5.99" height="5.34" fill="#6d1f56"/><rect x="192.48" y="249.22" width="5.99" height="5.34" fill="#841e5a"/><rect x="197.87" y="249.22" width="5.99" height="5.34" fill="#841e5a"/><rect x="203.26" y="249.22" width="5.99" height="5.34" fill="#9c1b5b"/><rect x="208.65" y="249.22" width="5.99" height="5.34" fill="#6d1f56"/><rect x="214.04" y="249.22" width="5.99" height="5.34" fill="#841e5a"/><rect x="219.43" y="249.22" width="5.99" height="5.34" fill="#6d1f56"/><rect x="224.82" y="249.22" width="5.99" height="5.34" fill="#841e5a"/><rect x="230.21" y="249.22" width="5.99" height="5.34" fill="#b41658"/><rect x="235.60" y="249.22" width="5.99" height="5.34" fill="#b41658"/><rect x="240.99" y="249.22" width="5.99" height="5.34" fill="#9c1b5b"/><rect x="246.38" y="249.22" width="5.99" height="5.34" fill="#b41658"/><rect x="251.77" y="249.22" width="5.99" height="5.34" fill="#cb1b4f"/><rect x="257.16" y="249.22" width="5.99" height="5.34" fill="#841e5a"/><rect x="262.55" y="249.22" width="5.99" height="5.34" fill="#cb1b4f"/><rect x="267.94" y="249.22" width="5.99" height="5.34" fill="#841e5a"/><rect x="20.00" y="253.96" width="5.99" height="5.34" fill="#841e5a"/><rect x="25.39" y="253.96" width="5.99" height="5.34" fill="#841e5a"/><rect x="30.78" y="253.96" width="5.99" height="5.34" fill="#841e5a"/><rect x="36.17" y="253.96" width="5.99" height="5.34" fill="#841e5a"/><rect x="41.56" y="253.96" width="5.99" height="5.34" fill="#9c1b5b"/><rect x="46.95" y="253.96" width="5.99" height="5.34" fill="#841e5a"/><rect x="52.34" y="253.96" width="5.99" height="5.34" fill="#cb1b4f"/><rect x="57.73" y="253.96" width="5.99" height="5.34" fill="#cb1b4f"/><rect x="63.12" y="253.96" width="5.99" height="5.34" fill="#faebdd"/><rect x="68.51" y="253.96" width="5.99" height="5.34" fill="#f69c73"/><rect x="73.90" y="253.96" width="5.99" height="5.34" fill="#f69c73"/><rect x="79.29" y="253.96" width="5.99" height="5.34" fill="#cb1b4f"/><rect x="84.68" y="253.96" width="5.99" height="5.34" fill="#b41658"/><rect x="90.07" y="253.96" width="5.99" height="5.34" fill="#9c1b5b"/><rect x="95.46" y="253.96" width="5.99" height="5.34" fill="#b41658"/><rect x="100.85" y="253.96" width="5.99" height="5.34" fill="#9c1b5b"/><rect x="106.24" y="253.96" width="5.99" height="5.34" fill="#b41658"/><rect x="111.63" y="253.96" width="5.99" height="5.34" fill="#841e5a"/><rect x="117.02" y="253.96" width="5.99" height="5.34" fill="#6d1f56"/><rect x="122.41" y="253.96" width="5.99" height="5.34" fill="#6d1f56"/><rect x="127.80" y="253.96" width="5.99" height="5.34" fill="#b41658"/><rect x="133.19" y="253.96" width="5.99" height="5.34" fill="#841e5a"/><rect x="138.58" y="253.96" width="5.99" height="5.34" fill="#841e5a"/><rect x="143.97" y="253.96" width="5.99" height="5.34" fill="#6d1f56"/><rect x="149.36" y="253.96" width="5.99" height="5.34" fill="#6d1f56"/><rect x="154.75" y="253.96" width="5.99" height="5.34" fill="#6d1f56"/><rect x="160.14" y="253.96" width="5.99" height="5.34" fill="#9c1b5b"/><rect x="165.53" y="253.96" width="5.99" height="5.34" fill="#841e5a"/><rect x="170.92" y="253.96" width="5.99" height="5.34" fill="#841e5a"/><rect x="176.31" y="253.96" width="5.99" height="5.34" fill="#541e4e"/><rect x="181.70" y="253.96" width="5.99" height="5.34" fill="#6d1f56"/><rect x="187.09" y="253.96" width="5.99" height="5.34" fill="#541e4e"/><rect x="192.48" y="253.96" width="5.99" height="5.34" fill="#b41658"/><rect x="197.87" y="253.96" width="5.99" height="5.34" fill="#841e5a"/><rect x="203.26" y="253.96" width="5.99" height="5.34" fill="#841e5a"/><rect x="208.65" y="253.96" width="5.99" height="5.34" fill="#6d1f56"/><rect x="214.04" y="253.96" width="5.99" height="5.34" fill="#841e5a"/><rect x="219.43" y="253.96" width="5.99" height="5.34" fill="#9c1b5b"/><rect x="224.82" y="253.96" width="5.99" height="5.34" fill="#b41658"/><rect x="230.21" y="253.96" width="5.99" height="5.34" fill="#841e5a"/><rect x="235.60" y="253.96" width="5.99" height="5.34" fill="#d2204c"/><rect x="240.99" y="253.96" width="5.99" height="5.34" fill="#d2204c"/><rect x="246.38" y="253.96" width="5.99" height="5.34" fill="#9c1b5b"/><rect x="251.77" y="253.96" width="5.99" height="5.34" fill="#b41658"/><rect x="257.16" y="253.96" width="5.99" height="5.34" fill="#9c1b5b"/><rect x="262.55" y="253.96" width="5.99" height="5.34" fill="#cb1b4f"/><rect x="267.94" y="253.96" width="5.99" height="5.34" fill="#9c1b5b"/><rect x="20.00" y="258.70" width="5.99" height="5.34" fill="#611f53"/><rect x="25.39" y="258.70" width="5.99" height="5.34" fill="#841e5a"/><rect x="30.78" y="258.70" width="5.99" height="5.34" fill="#841e5a"/><rect x="36.17" y="258.70" width="5.99" height="5.34" fill="#841e5a"/><rect x="41.56" y="258.70" width="5.99" height="5.34" fill="#b41658"/><rect x="46.95" y="258.70" width="5.99" height="5.34" fill="#841e5a"/><rect x="52.34" y="258.70" width="5.99" height="5.34" fill="#cb1b4f"/><rect x="57.73" y="258.70" width="5.99" height="5.34" fill="#db2946"/><rect x="63.12" y="258.70" width="5.99" height="5.34" fill="#f69c73"/><rect x="68.51" y="258.70" width="5.99" height="5.34" fill="#faebdd"/><rect x="73.90" y="258.70" width="5.99" height="5.34" fill="#f69c73"/><rect x="79.29" y="258.70" width="5.99" height="5.34" fill="#cb1b4f"/><rect x="84.68" y="258.70" width="5.99" height="5.34" fill="#cb1b4f"/><rect x="90.07" y="258.70" width="5.99" height="5.34" fill="#b41658"/><rect x="95.46" y="258.70" width="5.99" height="5.34" fill="#d2204c"/><rect x="100.85" y="258.70" width="5.99" height="5.34" fill="#9c1b5b"/><rect x="106.24" y="258.70" width="5.99" height="5.34" fill="#cb1b4f"/><rect x="111.63" y="258.70" width="5.99" height="5.34" fill="#9c1b5b"/><rect x="117.02" y="258.70" width="5.99" height="5.34" fill="#6d1f56"/><rect x="122.41" y="258.70" width="5.99" height="5.34" fill="#841e5a"/><rect x="127.80" y="258.70" width="5.99" height="5.34" fill="#cb1b4f"/><rect x="133.19" y="258.70" width="5.99" height="5.34" fill="#9c1b5b"/><rect x="138.58" y="258.70" width="5.99" height="5.34" fill="#9c1b5b"/><rect x="143.97" y="258.70" width="5.99" height="5.34" fill="#841e5a"/><rect x="149.36" y="258.70" width="5.99" height="5.34" fill="#6d1f56"/><rect x="154.75" y="258.70" width="5.99" height="5.34" fill="#6d1f56"/><rect x="160.14" y="258.70" width="5.99" height="5.34" fill="#9c1b5b"/><rect x="165.53" y="258.70" width="5.99" height="5.34" fill="#9c1b5b"/><rect x="170.92" y="258.70" width="5.99" height="5.34" fill="#9c1b5b"/><rect x="176.31" y="258.70" width="5.99" height="5.34" fill="#541e4e"/><rect x="181.70" y="258.70" width="5.99" height="5.34" fill="#541e4e"/><rect x="187.09" y="258.70" width="5.99" height="5.34" fill="#541e4e"/><rect x="192.48" y="258.70" width="5.99" height="5.34" fill="#b41658"/><rect x="197.87" y="258.70" width="5.99" height="5.34" fill="#9c1b5b"/><rect x="203.26" y="258.70" width="5.99" height="5.34" fill="#841e5a"/><rect x="208.65" y="258.70" width="5.99" height="5.34" fill="#3f1b43"/><rect x="214.04" y="258.70" width="5.99" height="5.34" fill="#6d1f56"/><rect x="219.43" y="258.70" width="5.99" height="5.34" fill="#9c1b5b"/><rect x="224.82" y="258.70" width="5.99" height="5.34" fill="#b41658"/><rect x="230.21" y="258.70" width="5.99" height="5.34" fill="#841e5a"/><rect x="235.60" y="258.70" width="5.99" height="5.34" fill="#cb1b4f"/><rect x="240.99" y="258.70" width="5.99" height="5.34" fill="#cb1b4f"/><rect x="246.38" y="258.70" width="5.99" height="5.34" fill="#841e5a"/><rect x="251.77" y="258.70" width="5.99" height="5.34" fill="#b41658"/><rect x="257.16" y="258.70" width="5.99" height="5.34" fill="#841e5a"/><rect x="262.55" y="258.70" width="5.99" height="5.34" fill="#cb1b4f"/><rect x="267.94" y="258.70" width="5.99" height="5.34" fill="#9c1b5b"/><rect x="20.00" y="263.45" width="5.99" height="5.34" fill="#841e5a"/><rect x="25.39" y="263.45" width="5.99" height="5.34" fill="#841e5a"/><rect x="30.78" y="263.45" width="5.99" height="5.34" fill="#841e5a"/><rect x="36.17" y="263.45" width="5.99" height="5.34" fill="#9c1b5b"/><rect x="41.56" y="263.45" width="5.99" height="5.34" fill="#a8185a"/><rect x="46.95" y="263.45" width="5.99" height="5.34" fill="#9c1b5b"/><rect x="52.34" y="263.45" width="5.99" height="5.34" fill="#cb1b4f"/><rect x="57.73" y="263.45" width="5.99" height="5.34" fill="#cb1b4f"/><rect x="63.12" y="263.45" width="5.99" height="5.34" fill="#f69c73"/><rect x="68.51" y="263.45" width="5.99" height="5.34" fill="#f69c73"/><rect x="73.90" y="263.45" width="5.99" height="5.34" fill="#faebdd"/><rect x="79.29" y="263.45" width="5.99" height="5.34" fill="#ce1d4e"/><rect x="84.68" y="263.45" width="5.99" height="5.34" fill="#cb1b4f"/><rect x="90.07" y="263.45" width="5.99" height="5.34" fill="#cb1b4f"/><rect x="95.46" y="263.45" width="5.99" height="5.34" fill="#b41658"/><rect x="100.85" y="263.45" width="5.99" height="5.34" fill="#b41658"/><rect x="106.24" y="263.45" width="5.99" height="5.34" fill="#cb1b4f"/><rect x="111.63" y="263.45" width="5.99" height="5.34" fill="#9c1b5b"/><rect x="117.02" y="263.45" width="5.99" height="5.34" fill="#841e5a"/><rect x="122.41" y="263.45" width="5.99" height="5.34" fill="#841e5a"/><rect x="127.80" y="263.45" width="5.99" height="5.34" fill="#cb1b4f"/><rect x="133.19" y="263.45" width="5.99" height="5.34" fill="#841e5a"/><rect x="138.58" y="263.45" width="5.99" height="5.34" fill="#841e5a"/><rect x="143.97" y="263.45" width="5.99" height="5.34" fill="#841e5a"/><rect x="149.36" y="263.45" width="5.99" height="5.34" fill="#6d1f56"/><rect x="154.75" y="263.45" width="5.99" height="5.34" fill="#6d1f56"/><rect x="160.14" y="263.45" width="5.99" height="5.34" fill="#841e5a"/><rect x="165.53" y="263.45" width="5.99" height="5.34" fill="#841e5a"/><rect x="170.92" y="263.45" width="5.99" height="5.34" fill="#841e5a"/><rect x="176.31" y="263.45" width="5.99" height="5.34" fill="#6d1f56"/><rect x="181.70" y="263.45" width="5.99" height="5.34" fill="#841e5a"/><rect x="187.09" y="263.45" width="5.99" height="5.34" fill="#841e5a"/><rect x="192.48" y="263.45" width="5.99" height="5.34" fill="#cb1b4f"/><rect x="197.87" y="263.45" width="5.99" height="5.34" fill="#b41658"/><rect x="203.26" y="263.45" width="5.99" height="5.34" fill="#9c1b5b"/><rect x="208.65" y="263.45" width="5.99" height="5.34" fill="#541e4e"/><rect x="214.04" y="263.45" width="5.99" height="5.34" fill="#841e5a"/><rect x="219.43" y="263.45" width="5.99" height="5.34" fill="#b41658"/><rect x="224.82" y="263.45" width="5.99" height="5.34" fill="#b41658"/><rect x="230.21" y="263.45" width="5.99" height="5.34" fill="#841e5a"/><rect x="235.60" y="263.45" width="5.99" height="5.34" fill="#cb1b4f"/><rect x="240.99" y="263.45" width="5.99" height="5.34" fill="#b41658"/><rect x="246.38" y="263.45" width="5.99" height="5.34" fill="#841e5a"/><rect x="251.77" y="263.45" width="5.99" height="5.34" fill="#b41658"/><rect x="257.16" y="263.45" width="5.99" height="5.34" fill="#9c1b5b"/><rect x="262.55" y="263.45" width="5.99" height="5.34" fill="#9c1b5b"/><rect x="267.94" y="263.45" width="5.99" height="5.34" fill="#841e5a"/><rect x="20.00" y="268.19" width="5.99" height="5.34" fill="#841e5a"/><rect x="25.39" y="268.19" width="5.99" height="5.34" fill="#841e5a"/><rect x="30.78" y="268.19" width="5.99" height="5.34" fill="#491d49"/><rect x="36.17" y="268.19" width="5.99" height="5.34" fill="#841e5a"/><rect x="41.56" y="268.19" width="5.99" height="5.34" fill="#9c1b5b"/><rect x="46.95" y="268.19" width="5.99" height="5.34" fill="#841e5a"/><rect x="52.34" y="268.19" width="5.99" height="5.34" fill="#9c1b5b"/><rect x="57.73" y="268.19" width="5.99" height="5.34" fill="#901d5b"/><rect x="63.12" y="268.19" width="5.99" height="5.34" fill="#cb1b4f"/><rect x="68.51" y="268.19" width="5.99" height="5.34" fill="#cb1b4f"/><rect x="73.90" y="268.19" width="5.99" height="5.34" fill="#ce1d4e"/><rect x="79.29" y="268.19" width="5.99" height="5.34" fill="#faebdd"/><rect x="84.68" y="268.19" width="5.99" height="5.34" fill="#ed503e"/><rect x="90.07" y="268.19" width="5.99" height="5.34" fill="#d2204c"/><rect x="95.46" y="268.19" width="5.99" height="5.34" fill="#9c1b5b"/><rect x="100.85" y="268.19" width="5.99" height="5.34" fill="#9c1b5b"/><rect x="106.24" y="268.19" width="5.99" height="5.34" fill="#b41658"/><rect x="111.63" y="268.19" width="5.99" height="5.34" fill="#b41658"/><rect x="117.02" y="268.19" width="5.99" height="5.34" fill="#b41658"/><rect x="122.41" y="268.19" width="5.99" height="5.34" fill="#9c1b5b"/><rect x="127.80" y="268.19" width="5.99" height="5.34" fill="#cb1b4f"/><rect x="133.19" y="268.19" width="5.99" height="5.34" fill="#9c1b5b"/><rect x="138.58" y="268.19" width="5.99" height="5.34" fill="#841e5a"/><rect x="143.97" y="268.19" width="5.99" height="5.34" fill="#cb1b4f"/><rect x="149.36" y="268.19" width="5.99" height="5.34" fill="#9c1b5b"/><rect x="154.75" y="268.19" width="5.99" height="5.34" fill="#d2204c"/><rect x="160.14" y="268.19" width="5.99" height="5.34" fill="#cb1b4f"/><rect x="165.53" y="268.19" width="5.99" height="5.34" fill="#b41658"/><rect x="170.92" y="268.19" width="5.99" height="5.34" fill="#cb1b4f"/><rect x="176.31" y="268.19" width="5.99" height="5.34" fill="#9c1b5b"/><rect x="181.70" y="268.19" width="5.99" height="5.34" fill="#d2204c"/><rect x="187.09" y="268.19" width="5.99" height="5.34" fill="#d2204c"/><rect x="192.48" y="268.19" width="5.99" height="5.34" fill="#d2204c"/><rect x="197.87" y="268.19" width="5.99" height="5.34" fill="#d2204c"/><rect x="203.26" y="268.19" width="5.99" height="5.34" fill="#cb1b4f"/><rect x="208.65" y="268.19" width="5.99" height="5.34" fill="#cb1b4f"/><rect x="214.04" y="268.19" width="5.99" height="5.34" fill="#cb1b4f"/><rect x="219.43" y="268.19" width="5.99" height="5.34" fill="#cb1b4f"/><rect x="224.82" y="268.19" width="5.99" height="5.34" fill="#b41658"/><rect x="230.21" y="268.19" width="5.99" height="5.34" fill="#b41658"/><rect x="235.60" y="268.19" width="5.99" height="5.34" fill="#e23442"/><rect x="240.99" y="268.19" width="5.99" height="5.34" fill="#b41658"/><rect x="246.38" y="268.19" width="5.99" height="5.34" fill="#9c1b5b"/><rect x="251.77" y="268.19" width="5.99" height="5.34" fill="#b41658"/><rect x="257.16" y="268.19" width="5.99" height="5.34" fill="#cb1b4f"/><rect x="262.55" y="268.19" width="5.99" height="5.34" fill="#6d1f56"/><rect x="267.94" y="268.19" width="5.99" height="5.34" fill="#9c1b5b"/><rect x="20.00" y="272.94" width="5.99" height="5.34" fill="#9c1b5b"/><rect x="25.39" y="272.94" width="5.99" height="5.34" fill="#b41658"/><rect x="30.78" y="272.94" width="5.99" height="5.34" fill="#e23442"/><rect x="36.17" y="272.94" width="5.99" height="5.34" fill="#f26b49"/><rect x="41.56" y="272.94" width="5.99" height="5.34" fill="#f4845d"/><rect x="46.95" y="272.94" width="5.99" height="5.34" fill="#cb1b4f"/><rect x="52.34" y="272.94" width="5.99" height="5.34" fill="#cb1b4f"/><rect x="57.73" y="272.94" width="5.99" height="5.34" fill="#9c1b5b"/><rect x="63.12" y="272.94" width="5.99" height="5.34" fill="#b41658"/><rect x="68.51" y="272.94" width="5.99" height="5.34" fill="#cb1b4f"/><rect x="73.90" y="272.94" width="5.99" height="5.34" fill="#cb1b4f"/><rect x="79.29" y="272.94" width="5.99" height="5.34" fill="#ed503e"/><rect x="84.68" y="272.94" width="5.99" height="5.34" fill="#faebdd"/><rect x="90.07" y="272.94" width="5.99" height="5.34" fill="#ed503e"/><rect x="95.46" y="272.94" width="5.99" height="5.34" fill="#cb1b4f"/><rect x="100.85" y="272.94" width="5.99" height="5.34" fill="#b41658"/><rect x="106.24" y="272.94" width="5.99" height="5.34" fill="#b41658"/><rect x="111.63" y="272.94" width="5.99" height="5.34" fill="#841e5a"/><rect x="117.02" y="272.94" width="5.99" height="5.34" fill="#3f1b43"/><rect x="122.41" y="272.94" width="5.99" height="5.34" fill="#541e4e"/><rect x="127.80" y="272.94" width="5.99" height="5.34" fill="#9c1b5b"/><rect x="133.19" y="272.94" width="5.99" height="5.34" fill="#841e5a"/><rect x="138.58" y="272.94" width="5.99" height="5.34" fill="#901d5b"/><rect x="143.97" y="272.94" width="5.99" height="5.34" fill="#841e5a"/><rect x="149.36" y="272.94" width="5.99" height="5.34" fill="#841e5a"/><rect x="154.75" y="272.94" width="5.99" height="5.34" fill="#541e4e"/><rect x="160.14" y="272.94" width="5.99" height="5.34" fill="#841e5a"/><rect x="165.53" y="272.94" width="5.99" height="5.34" fill="#9c1b5b"/><rect x="170.92" y="272.94" width="5.99" height="5.34" fill="#ed503e"/><rect x="176.31" y="272.94" width="5.99" height="5.34" fill="#cb1b4f"/><rect x="181.70" y="272.94" width="5.99" height="5.34" fill="#2a1636"/><rect x="187.09" y="272.94" width="5.99" height="5.34" fill="#541e4e"/><rect x="192.48" y="272.94" width="5.99" height="5.34" fill="#d2204c"/><rect x="197.87" y="272.94" width="5.99" height="5.34" fill="#d2204c"/><rect x="203.26" y="272.94" width="5.99" height="5.34" fill="#cb1b4f"/><rect x="208.65" y="272.94" width="5.99" height="5.34" fill="#9c1b5b"/><rect x="214.04" y="272.94" width="5.99" height="5.34" fill="#841e5a"/><rect x="219.43" y="272.94" width="5.99" height="5.34" fill="#e23442"/><rect x="224.82" y="272.94" width="5.99" height="5.34" fill="#e23442"/><rect x="230.21" y="272.94" width="5.99" height="5.34" fill="#9c1b5b"/><rect x="235.60" y="272.94" width="5.99" height="5.34" fill="#841e5a"/><rect x="240.99" y="272.94" width="5.99" height="5.34" fill="#841e5a"/><rect x="246.38" y="272.94" width="5.99" height="5.34" fill="#6d1f56"/><rect x="251.77" y="272.94" width="5.99" height="5.34" fill="#6d1f56"/><rect x="257.16" y="272.94" width="5.99" height="5.34" fill="#841e5a"/><rect x="262.55" y="272.94" width="5.99" height="5.34" fill="#841e5a"/><rect x="267.94" y="272.94" width="5.99" height="5.34" fill="#841e5a"/><rect x="20.00" y="277.69" width="5.99" height="5.34" fill="#6d1f56"/><rect x="25.39" y="277.69" width="5.99" height="5.34" fill="#6d1f56"/><rect x="30.78" y="277.69" width="5.99" height="5.34" fill="#d2204c"/><rect x="36.17" y="277.69" width="5.99" height="5.34" fill="#d2204c"/><rect x="41.56" y="277.69" width="5.99" height="5.34" fill="#d2204c"/><rect x="46.95" y="277.69" width="5.99" height="5.34" fill="#9c1b5b"/><rect x="52.34" y="277.69" width="5.99" height="5.34" fill="#9c1b5b"/><rect x="57.73" y="277.69" width="5.99" height="5.34" fill="#b41658"/><rect x="63.12" y="277.69" width="5.99" height="5.34" fill="#9c1b5b"/><rect x="68.51" y="277.69" width="5.99" height="5.34" fill="#b41658"/><rect x="73.90" y="277.69" width="5.99" height="5.34" fill="#cb1b4f"/><rect x="79.29" y="277.69" width="5.99" height="5.34" fill="#d2204c"/><rect x="84.68" y="277.69" width="5.99" height="5.34" fill="#ed503e"/><rect x="90.07" y="277.69" width="5.99" height="5.34" fill="#faebdd"/><rect x="95.46" y="277.69" width="5.99" height="5.34" fill="#b41658"/><rect x="100.85" y="277.69" width="5.99" height="5.34" fill="#cb1b4f"/><rect x="106.24" y="277.69" width="5.99" height="5.34" fill="#bf1654"/><rect x="111.63" y="277.69" width="5.99" height="5.34" fill="#9c1b5b"/><rect x="117.02" y="277.69" width="5.99" height="5.34" fill="#901d5b"/><rect x="122.41" y="277.69" width="5.99" height="5.34" fill="#b41658"/><rect x="127.80" y="277.69" width="5.99" height="5.34" fill="#cb1b4f"/><rect x="133.19" y="277.69" width="5.99" height="5.34" fill="#bf1654"/><rect x="138.58" y="277.69" width="5.99" height="5.34" fill="#d2204c"/><rect x="143.97" y="277.69" width="5.99" height="5.34" fill="#b41658"/><rect x="149.36" y="277.69" width="5.99" height="5.34" fill="#9c1b5b"/><rect x="154.75" y="277.69" width="5.99" height="5.34" fill="#9c1b5b"/><rect x="160.14" y="277.69" width="5.99" height="5.34" fill="#9c1b5b"/><rect x="165.53" y="277.69" width="5.99" height="5.34" fill="#e23442"/><rect x="170.92" y="277.69" width="5.99" height="5.34" fill="#d2204c"/><rect x="176.31" y="277.69" width="5.99" height="5.34" fill="#b41658"/><rect x="181.70" y="277.69" width="5.99" height="5.34" fill="#541e4e"/><rect x="187.09" y="277.69" width="5.99" height="5.34" fill="#541e4e"/><rect x="192.48" y="277.69" width="5.99" height="5.34" fill="#841e5a"/><rect x="197.87" y="277.69" width="5.99" height="5.34" fill="#9c1b5b"/><rect x="203.26" y="277.69" width="5.99" height="5.34" fill="#b41658"/><rect x="208.65" y="277.69" width="5.99" height="5.34" fill="#841e5a"/><rect x="214.04" y="277.69" width="5.99" height="5.34" fill="#841e5a"/><rect x="219.43" y="277.69" width="5.99" height="5.34" fill="#b41658"/><rect x="224.82" y="277.69" width="5.99" height="5.34" fill="#b41658"/><rect x="230.21" y="277.69" width="5.99" height="5.34" fill="#6d1f56"/><rect x="235.60" y="277.69" width="5.99" height="5.34" fill="#6d1f56"/><rect x="240.99" y="277.69" width="5.99" height="5.34" fill="#6d1f56"/><rect x="246.38" y="277.69" width="5.99" height="5.34" fill="#2a1636"/><rect x="251.77" y="277.69" width="5.99" height="5.34" fill="#841e5a"/><rect x="257.16" y="277.69" width="5.99" height="5.34" fill="#841e5a"/><rect x="262.55" y="277.69" width="5.99" height="5.34" fill="#841e5a"/><rect x="267.94" y="277.69" width="5.99" height="5.34" fill="#841e5a"/><rect x="20.00" y="282.43" width="5.99" height="5.34" fill="#6d1f56"/><rect x="25.39" y="282.43" width="5.99" height="5.34" fill="#b41658"/><rect x="30.78" y="282.43" width="5.99" height="5.34" fill="#b41658"/><rect x="36.17" y="282.43" width="5.99" height="5.34" fill="#b41658"/><rect x="41.56" y="282.43" width="5.99" height="5.34" fill="#cb1b4f"/><rect x="46.95" y="282.43" width="5.99" height="5.34" fill="#841e5a"/><rect x="52.34" y="282.43" width="5.99" height="5.34" fill="#b41658"/><rect x="57.73" y="282.43" width="5.99" height="5.34" fill="#e23442"/><rect x="63.12" y="282.43" width="5.99" height="5.34" fill="#b41658"/><rect x="68.51" y="282.43" width="5.99" height="5.34" fill="#d2204c"/><rect x="73.90" y="282.43" width="5.99" height="5.34" fill="#b41658"/><rect x="79.29" y="282.43" width="5.99" height="5.34" fill="#9c1b5b"/><rect x="84.68" y="282.43" width="5.99" height="5.34" fill="#cb1b4f"/><rect x="90.07" y="282.43" width="5.99" height="5.34" fill="#b41658"/><rect x="95.46" y="282.43" width="5.99" height="5.34" fill="#faebdd"/><rect x="100.85" y="282.43" width="5.99" height="5.34" fill="#d2204c"/><rect x="106.24" y="282.43" width="5.99" height="5.34" fill="#ce1d4e"/><rect x="111.63" y="282.43" width="5.99" height="5.34" fill="#cb1b4f"/><rect x="117.02" y="282.43" width="5.99" height="5.34" fill="#b41658"/><rect x="122.41" y="282.43" width="5.99" height="5.34" fill="#b41658"/><rect x="127.80" y="282.43" width="5.99" height="5.34" fill="#b41658"/><rect x="133.19" y="282.43" width="5.99" height="5.34" fill="#781f59"/><rect x="138.58" y="282.43" width="5.99" height="5.34" fill="#b41658"/><rect x="143.97" y="282.43" width="5.99" height="5.34" fill="#b41658"/><rect x="149.36" y="282.43" width="5.99" height="5.34" fill="#9c1b5b"/><rect x="154.75" y="282.43" width="5.99" height="5.34" fill="#b41658"/><rect x="160.14" y="282.43" width="5.99" height="5.34" fill="#9c1b5b"/><rect x="165.53" y="282.43" width="5.99" height="5.34" fill="#9c1b5b"/><rect x="170.92" y="282.43" width="5.99" height="5.34" fill="#b41658"/><rect x="176.31" y="282.43" width="5.99" height="5.34" fill="#841e5a"/><rect x="181.70" y="282.43" width="5.99" height="5.34" fill="#841e5a"/><rect x="187.09" y="282.43" width="5.99" height="5.34" fill="#6d1f56"/><rect x="192.48" y="282.43" width="5.99" height="5.34" fill="#841e5a"/><rect x="197.87" y="282.43" width="5.99" height="5.34" fill="#9c1b5b"/><rect x="203.26" y="282.43" width="5.99" height="5.34" fill="#841e5a"/><rect x="208.65" y="282.43" width="5.99" height="5.34" fill="#3f1b43"/><rect x="214.04" y="282.43" width="5.99" height="5.34" fill="#6d1f56"/><rect x="219.43" y="282.43" width="5.99" height="5.34" fill="#841e5a"/><rect x="224.82" y="282.43" width="5.99" height="5.34" fill="#841e5a"/><rect x="230.21" y="282.43" width="5.99" height="5.34" fill="#9c1b5b"/><rect x="235.60" y="282.43" width="5.99" height="5.34" fill="#6d1f56"/><rect x="240.99" y="282.43" width="5.99" height="5.34" fill="#841e5a"/><rect x="246.38" y="282.43" width="5.99" height="5.34" fill="#541e4e"/><rect x="251.77" y="282.43" width="5.99" height="5.34" fill="#841e5a"/><rect x="257.16" y="282.43" width="5.99" height="5.34" fill="#6d1f56"/><rect x="262.55" y="282.43" width="5.99" height="5.34" fill="#841e5a"/><rect x="267.94" y="282.43" width="5.99" height="5.34" fill="#6d1f56"/><rect x="20.00" y="287.18" width="5.99" height="5.34" fill="#9c1b5b"/><rect x="25.39" y="287.18" width="5.99" height="5.34" fill="#e23442"/><rect x="30.78" y="287.18" width="5.99" height="5.34" fill="#cb1b4f"/><rect x="36.17" y="287.18" width="5.99" height="5.34" fill="#cb1b4f"/><rect x="41.56" y="287.18" width="5.99" height="5.34" fill="#cb1b4f"/><rect x="46.95" y="287.18" width="5.99" height="5.34" fill="#cb1b4f"/><rect x="52.34" y="287.18" width="5.99" height="5.34" fill="#cb1b4f"/><rect x="57.73" y="287.18" width="5.99" height="5.34" fill="#9c1b5b"/><rect x="63.12" y="287.18" width="5.99" height="5.34" fill="#9c1b5b"/><rect x="68.51" y="287.18" width="5.99" height="5.34" fill="#9c1b5b"/><rect x="73.90" y="287.18" width="5.99" height="5.34" fill="#b41658"/><rect x="79.29" y="287.18" width="5.99" height="5.34" fill="#9c1b5b"/><rect x="84.68" y="287.18" width="5.99" height="5.34" fill="#b41658"/><rect x="90.07" y="287.18" width="5.99" height="5.34" fill="#cb1b4f"/><rect x="95.46" y="287.18" width="5.99" height="5.34" fill="#d2204c"/><rect x="100.85" y="287.18" width="5.99" height="5.34" fill="#faebdd"/><rect x="106.24" y="287.18" width="5.99" height="5.34" fill="#9c1b5b"/><rect x="111.63" y="287.18" width="5.99" height="5.34" fill="#9c1b5b"/><rect x="117.02" y="287.18" width="5.99" height="5.34" fill="#9c1b5b"/><rect x="122.41" y="287.18" width="5.99" height="5.34" fill="#cb1b4f"/><rect x="127.80" y="287.18" width="5.99" height="5.34" fill="#b41658"/><rect x="133.19" y="287.18" width="5.99" height="5.34" fill="#6d1f56"/><rect x="138.58" y="287.18" width="5.99" height="5.34" fill="#b41658"/><rect x="143.97" y="287.18" width="5.99" height="5.34" fill="#b41658"/><rect x="149.36" y="287.18" width="5.99" height="5.34" fill="#9c1b5b"/><rect x="154.75" y="287.18" width="5.99" height="5.34" fill="#841e5a"/><rect x="160.14" y="287.18" width="5.99" height="5.34" fill="#541e4e"/><rect x="165.53" y="287.18" width="5.99" height="5.34" fill="#9c1b5b"/><rect x="170.92" y="287.18" width="5.99" height="5.34" fill="#9c1b5b"/><rect x="176.31" y="287.18" width="5.99" height="5.34" fill="#cb1b4f"/><rect x="181.70" y="287.18" width="5.99" height="5.34" fill="#9c1b5b"/><rect x="187.09" y="287.18" width="5.99" height="5.34" fill="#b41658"/><rect x="192.48" y="287.18" width="5.99" height="5.34" fill="#cb1b4f"/><rect x="197.87" y="287.18" width="5.99" height="5.34" fill="#cb1b4f"/><rect x="203.26" y="287.18" width="5.99" height="5.34" fill="#b41658"/><rect x="208.65" y="287.18" width="5.99" height="5.34" fill="#841e5a"/><rect x="214.04" y="287.18" width="5.99" height="5.34" fill="#841e5a"/><rect x="219.43" y="287.18" width="5.99" height="5.34" fill="#9c1b5b"/><rect x="224.82" y="287.18" width="5.99" height="5.34" fill="#9c1b5b"/><rect x="230.21" y="287.18" width="5.99" height="5.34" fill="#b41658"/><rect x="235.60" y="287.18" width="5.99" height="5.34" fill="#841e5a"/><rect x="240.99" y="287.18" width="5.99" height="5.34" fill="#9c1b5b"/><rect x="246.38" y="287.18" width="5.99" height="5.34" fill="#841e5a"/><rect x="251.77" y="287.18" width="5.99" height="5.34" fill="#841e5a"/><rect x="257.16" y="287.18" width="5.99" height="5.34" fill="#d2204c"/><rect x="262.55" y="287.18" width="5.99" height="5.34" fill="#9c1b5b"/><rect x="267.94" y="287.18" width="5.99" height="5.34" fill="#d2204c"/><rect x="20.00" y="291.92" width="5.99" height="5.34" fill="#6d1f56"/><rect x="25.39" y="291.92" width="5.99" height="5.34" fill="#841e5a"/><rect x="30.78" y="291.92" width="5.99" height="5.34" fill="#841e5a"/><rect x="36.17" y="291.92" width="5.99" height="5.34" fill="#9c1b5b"/><rect x="41.56" y="291.92" width="5.99" height="5.34" fill="#841e5a"/><rect x="46.95" y="291.92" width="5.99" height="5.34" fill="#841e5a"/><rect x="52.34" y="291.92" width="5.99" height="5.34" fill="#841e5a"/><rect x="57.73" y="291.92" width="5.99" height="5.34" fill="#cb1b4f"/><rect x="63.12" y="291.92" width="5.99" height="5.34" fill="#b41658"/><rect x="68.51" y="291.92" width="5.99" height="5.34" fill="#cb1b4f"/><rect x="73.90" y="291.92" width="5.99" height="5.34" fill="#cb1b4f"/><rect x="79.29" y="291.92" width="5.99" height="5.34" fill="#b41658"/><rect x="84.68" y="291.92" width="5.99" height="5.34" fill="#b41658"/><rect x="90.07" y="291.92" width="5.99" height="5.34" fill="#bf1654"/><rect x="95.46" y="291.92" width="5.99" height="5.34" fill="#ce1d4e"/><rect x="100.85" y="291.92" width="5.99" height="5.34" fill="#9c1b5b"/><rect x="106.24" y="291.92" width="5.99" height="5.34" fill="#faebdd"/><rect x="111.63" y="291.92" width="5.99" height="5.34" fill="#f26b49"/><rect x="117.02" y="291.92" width="5.99" height="5.34" fill="#ed503e"/><rect x="122.41" y="291.92" width="5.99" height="5.34" fill="#a8185a"/><rect x="127.80" y="291.92" width="5.99" height="5.34" fill="#d2204c"/><rect x="133.19" y="291.92" width="5.99" height="5.34" fill="#a8185a"/><rect x="138.58" y="291.92" width="5.99" height="5.34" fill="#a8185a"/><rect x="143.97" y="291.92" width="5.99" height="5.34" fill="#b41658"/><rect x="149.36" y="291.92" width="5.99" height="5.34" fill="#b41658"/><rect x="154.75" y="291.92" width="5.99" height="5.34" fill="#9c1b5b"/><rect x="160.14" y="291.92" width="5.99" height="5.34" fill="#9c1b5b"/><rect x="165.53" y="291.92" width="5.99" height="5.34" fill="#b41658"/><rect x="170.92" y="291.92" width="5.99" height="5.34" fill="#cb1b4f"/><rect x="176.31" y="291.92" width="5.99" height="5.34" fill="#841e5a"/><rect x="181.70" y="291.92" width="5.99" height="5.34" fill="#841e5a"/><rect x="187.09" y="291.92" width="5.99" height="5.34" fill="#541e4e"/><rect x="192.48" y="291.92" width="5.99" height="5.34" fill="#841e5a"/><rect x="197.87" y="291.92" width="5.99" height="5.34" fill="#b41658"/><rect x="203.26" y="291.92" width="5.99" height="5.34" fill="#b41658"/><rect x="208.65" y="291.92" width="5.99" height="5.34" fill="#841e5a"/><rect x="214.04" y="291.92" width="5.99" height="5.34" fill="#9c1b5b"/><rect x="219.43" y="291.92" width="5.99" height="5.34" fill="#9c1b5b"/><rect x="224.82" y="291.92" width="5.99" height="5.34" fill="#9c1b5b"/><rect x="230.21" y="291.92" width="5.99" height="5.34" fill="#3f1b43"/><rect x="235.60" y="291.92" width="5.99" height="5.34" fill="#9c1b5b"/><rect x="240.99" y="291.92" width="5.99" height="5.34" fill="#cb1b4f"/><rect x="246.38" y="291.92" width="5.99" height="5.34" fill="#9c1b5b"/><rect x="251.77" y="291.92" width="5.99" height="5.34" fill="#9c1b5b"/><rect x="257.16" y="291.92" width="5.99" height="5.34" fill="#6d1f56"/><rect x="262.55" y="291.92" width="5.99" height="5.34" fill="#6d1f56"/><rect x="267.94" y="291.92" width="5.99" height="5.34" fill="#6d1f56"/><rect x="20.00" y="296.67" width="5.99" height="5.34" fill="#541e4e"/><rect x="25.39" y="296.67" width="5.99" height="5.34" fill="#6d1f56"/><rect x="30.78" y="296.67" width="5.99" height="5.34" fill="#2a1636"/><rect x="36.17" y="296.67" width="5.99" height="5.34" fill="#2a1636"/><rect x="41.56" y="296.67" width="5.99" height="5.34" fill="#6d1f56"/><rect x="46.95" y="296.67" width="5.99" height="5.34" fill="#6d1f56"/><rect x="52.34" y="296.67" width="5.99" height="5.34" fill="#6d1f56"/><rect x="57.73" y="296.67" width="5.99" height="5.34" fill="#cb1b4f"/><rect x="63.12" y="296.67" width="5.99" height="5.34" fill="#841e5a"/><rect x="68.51" y="296.67" width="5.99" height="5.34" fill="#9c1b5b"/><rect x="73.90" y="296.67" width="5.99" height="5.34" fill="#9c1b5b"/><rect x="79.29" y="296.67" width="5.99" height="5.34" fill="#b41658"/><rect x="84.68" y="296.67" width="5.99" height="5.34" fill="#841e5a"/><rect x="90.07" y="296.67" width="5.99" height="5.34" fill="#9c1b5b"/><rect x="95.46" y="296.67" width="5.99" height="5.34" fill="#cb1b4f"/><rect x="100.85" y="296.67" width="5.99" height="5.34" fill="#9c1b5b"/><rect x="106.24" y="296.67" width="5.99" height="5.34" fill="#f26b49"/><rect x="111.63" y="296.67" width="5.99" height="5.34" fill="#faebdd"/><rect x="117.02" y="296.67" width="5.99" height="5.34" fill="#f26b49"/><rect x="122.41" y="296.67" width="5.99" height="5.34" fill="#d2204c"/><rect x="127.80" y="296.67" width="5.99" height="5.34" fill="#cb1b4f"/><rect x="133.19" y="296.67" width="5.99" height="5.34" fill="#a8185a"/><rect x="138.58" y="296.67" width="5.99" height="5.34" fill="#901d5b"/><rect x="143.97" y="296.67" width="5.99" height="5.34" fill="#ce1d4e"/><rect x="149.36" y="296.67" width="5.99" height="5.34" fill="#9c1b5b"/><rect x="154.75" y="296.67" width="5.99" height="5.34" fill="#cb1b4f"/><rect x="160.14" y="296.67" width="5.99" height="5.34" fill="#9c1b5b"/><rect x="165.53" y="296.67" width="5.99" height="5.34" fill="#9c1b5b"/><rect x="170.92" y="296.67" width="5.99" height="5.34" fill="#9c1b5b"/><rect x="176.31" y="296.67" width="5.99" height="5.34" fill="#841e5a"/><rect x="181.70" y="296.67" width="5.99" height="5.34" fill="#cb1b4f"/><rect x="187.09" y="296.67" width="5.99" height="5.34" fill="#cb1b4f"/><rect x="192.48" y="296.67" width="5.99" height="5.34" fill="#9c1b5b"/><rect x="197.87" y="296.67" width="5.99" height="5.34" fill="#b41658"/><rect x="203.26" y="296.67" width="5.99" height="5.34" fill="#841e5a"/><rect x="208.65" y="296.67" width="5.99" height="5.34" fill="#9c1b5b"/><rect x="214.04" y="296.67" width="5.99" height="5.34" fill="#b41658"/><rect x="219.43" y="296.67" width="5.99" height="5.34" fill="#6d1f56"/><rect x="224.82" y="296.67" width="5.99" height="5.34" fill="#6d1f56"/><rect x="230.21" y="296.67" width="5.99" height="5.34" fill="#9c1b5b"/><rect x="235.60" y="296.67" width="5.99" height="5.34" fill="#b41658"/><rect x="240.99" y="296.67" width="5.99" height="5.34" fill="#cb1b4f"/><rect x="246.38" y="296.67" width="5.99" height="5.34" fill="#b41658"/><rect x="251.77" y="296.67" width="5.99" height="5.34" fill="#cb1b4f"/><rect x="257.16" y="296.67" width="5.99" height="5.34" fill="#9c1b5b"/><rect x="262.55" y="296.67" width="5.99" height="5.34" fill="#9c1b5b"/><rect x="267.94" y="296.67" width="5.99" height="5.34" fill="#841e5a"/><rect x="20.00" y="301.41" width="5.99" height="5.34" fill="#b41658"/><rect x="25.39" y="301.41" width="5.99" height="5.34" fill="#841e5a"/><rect x="30.78" y="301.41" width="5.99" height="5.34" fill="#2a1636"/><rect x="36.17" y="301.41" width="5.99" height="5.34" fill="#3f1b43"/><rect x="41.56" y="301.41" width="5.99" height="5.34" fill="#6d1f56"/><rect x="46.95" y="301.41" width="5.99" height="5.34" fill="#b41658"/><rect x="52.34" y="301.41" width="5.99" height="5.34" fill="#6d1f56"/><rect x="57.73" y="301.41" width="5.99" height="5.34" fill="#cb1b4f"/><rect x="63.12" y="301.41" width="5.99" height="5.34" fill="#6d1f56"/><rect x="68.51" y="301.41" width="5.99" height="5.34" fill="#6d1f56"/><rect x="73.90" y="301.41" width="5.99" height="5.34" fill="#841e5a"/><rect x="79.29" y="301.41" width="5.99" height="5.34" fill="#b41658"/><rect x="84.68" y="301.41" width="5.99" height="5.34" fill="#3f1b43"/><rect x="90.07" y="301.41" width="5.99" height="5.34" fill="#901d5b"/><rect x="95.46" y="301.41" width="5.99" height="5.34" fill="#b41658"/><rect x="100.85" y="301.41" width="5.99" height="5.34" fill="#9c1b5b"/><rect x="106.24" y="301.41" width="5.99" height="5.34" fill="#ed503e"/><rect x="111.63" y="301.41" width="5.99" height="5.34" fill="#f26b49"/><rect x="117.02" y="301.41" width="5.99" height="5.34" fill="#faebdd"/><rect x="122.41" y="301.41" width="5.99" height="5.34" fill="#cb1b4f"/><rect x="127.80" y="301.41" width="5.99" height="5.34" fill="#cb1b4f"/><rect x="133.19" y="301.41" width="5.99" height="5.34" fill="#901d5b"/><rect x="138.58" y="301.41" width="5.99" height="5.34" fill="#541e4e"/><rect x="143.97" y="301.41" width="5.99" height="5.34" fill="#b41658"/><rect x="149.36" y="301.41" width="5.99" height="5.34" fill="#9c1b5b"/><rect x="154.75" y="301.41" width="5.99" height="5.34" fill="#9c1b5b"/><rect x="160.14" y="301.41" width="5.99" height="5.34" fill="#9c1b5b"/><rect x="165.53" y="301.41" width="5.99" height="5.34" fill="#b41658"/><rect x="170.92" y="301.41" width="5.99" height="5.34" fill="#6d1f56"/><rect x="176.31" y="301.41" width="5.99" height="5.34" fill="#841e5a"/><rect x="181.70" y="301.41" width="5.99" height="5.34" fill="#f26b49"/><rect x="187.09" y="301.41" width="5.99" height="5.34" fill="#d2204c"/><rect x="192.48" y="301.41" width="5.99" height="5.34" fill="#b41658"/><rect x="197.87" y="301.41" width="5.99" height="5.34" fill="#b41658"/><rect x="203.26" y="301.41" width="5.99" height="5.34" fill="#b41658"/><rect x="208.65" y="301.41" width="5.99" height="5.34" fill="#b41658"/><rect x="214.04" y="301.41" width="5.99" height="5.34" fill="#e23442"/><rect x="219.43" y="301.41" width="5.99" height="5.34" fill="#6d1f56"/><rect x="224.82" y="301.41" width="5.99" height="5.34" fill="#6d1f56"/><rect x="230.21" y="301.41" width="5.99" height="5.34" fill="#841e5a"/><rect x="235.60" y="301.41" width="5.99" height="5.34" fill="#d2204c"/><rect x="240.99" y="301.41" width="5.99" height="5.34" fill="#cb1b4f"/><rect x="246.38" y="301.41" width="5.99" height="5.34" fill="#cb1b4f"/><rect x="251.77" y="301.41" width="5.99" height="5.34" fill="#ed503e"/><rect x="257.16" y="301.41" width="5.99" height="5.34" fill="#9c1b5b"/><rect x="262.55" y="301.41" width="5.99" height="5.34" fill="#6d1f56"/><rect x="267.94" y="301.41" width="5.99" height="5.34" fill="#841e5a"/><rect x="20.00" y="306.15" width="5.99" height="5.34" fill="#2a1636"/><rect x="25.39" y="306.15" width="5.99" height="5.34" fill="#6d1f56"/><rect x="30.78" y="306.15" width="5.99" height="5.34" fill="#2a1636"/><rect x="36.17" y="306.15" width="5.99" height="5.34" fill="#3f1b43"/><rect x="41.56" y="306.15" width="5.99" height="5.34" fill="#541e4e"/><rect x="46.95" y="306.15" width="5.99" height="5.34" fill="#541e4e"/><rect x="52.34" y="306.15" width="5.99" height="5.34" fill="#6d1f56"/><rect x="57.73" y="306.15" width="5.99" height="5.34" fill="#cb1b4f"/><rect x="63.12" y="306.15" width="5.99" height="5.34" fill="#6d1f56"/><rect x="68.51" y="306.15" width="5.99" height="5.34" fill="#841e5a"/><rect x="73.90" y="306.15" width="5.99" height="5.34" fill="#841e5a"/><rect x="79.29" y="306.15" width="5.99" height="5.34" fill="#9c1b5b"/><rect x="84.68" y="306.15" width="5.99" height="5.34" fill="#541e4e"/><rect x="90.07" y="306.15" width="5.99" height="5.34" fill="#b41658"/><rect x="95.46" y="306.15" width="5.99" height="5.34" fill="#b41658"/><rect x="100.85" y="306.15" width="5.99" height="5.34" fill="#cb1b4f"/><rect x="106.24" y="306.15" width="5.99" height="5.34" fill="#a8185a"/><rect x="111.63" y="306.15" width="5.99" height="5.34" fill="#d2204c"/><rect x="117.02" y="306.15" width="5.99" height="5.34" fill="#cb1b4f"/><rect x="122.41" y="306.15" width="5.99" height="5.34" fill="#faebdd"/><rect x="127.80" y="306.15" width="5.99" height="5.34" fill="#ed503e"/><rect x="133.19" y="306.15" width="5.99" height="5.34" fill="#ce1d4e"/><rect x="138.58" y="306.15" width="5.99" height="5.34" fill="#d2204c"/><rect x="143.97" y="306.15" width="5.99" height="5.34" fill="#db2946"/><rect x="149.36" y="306.15" width="5.99" height="5.34" fill="#d2204c"/><rect x="154.75" y="306.15" width="5.99" height="5.34" fill="#ed503e"/><rect x="160.14" y="306.15" width="5.99" height="5.34" fill="#b41658"/><rect x="165.53" y="306.15" width="5.99" height="5.34" fill="#cb1b4f"/><rect x="170.92" y="306.15" width="5.99" height="5.34" fill="#cb1b4f"/><rect x="176.31" y="306.15" width="5.99" height="5.34" fill="#9c1b5b"/><rect x="181.70" y="306.15" width="5.99" height="5.34" fill="#cb1b4f"/><rect x="187.09" y="306.15" width="5.99" height="5.34" fill="#d2204c"/><rect x="192.48" y="306.15" width="5.99" height="5.34" fill="#841e5a"/><rect x="197.87" y="306.15" width="5.99" height="5.34" fill="#cb1b4f"/><rect x="203.26" y="306.15" width="5.99" height="5.34" fill="#cb1b4f"/><rect x="208.65" y="306.15" width="5.99" height="5.34" fill="#cb1b4f"/><rect x="214.04" y="306.15" width="5.99" height="5.34" fill="#cb1b4f"/><rect x="219.43" y="306.15" width="5.99" height="5.34" fill="#841e5a"/><rect x="224.82" y="306.15" width="5.99" height="5.34" fill="#841e5a"/><rect x="230.21" y="306.15" width="5.99" height="5.34" fill="#b41658"/><rect x="235.60" y="306.15" width="5.99" height="5.34" fill="#841e5a"/><rect x="240.99" y="306.15" width="5.99" height="5.34" fill="#b41658"/><rect x="246.38" y="306.15" width="5.99" height="5.34" fill="#9c1b5b"/><rect x="251.77" y="306.15" width="5.99" height="5.34" fill="#b41658"/><rect x="257.16" y="306.15" width="5.99" height="5.34" fill="#9c1b5b"/><rect x="262.55" y="306.15" width="5.99" height="5.34" fill="#9c1b5b"/><rect x="267.94" y="306.15" width="5.99" height="5.34" fill="#e23442"/><rect x="20.00" y="310.90" width="5.99" height="5.34" fill="#541e4e"/><rect x="25.39" y="310.90" width="5.99" height="5.34" fill="#841e5a"/><rect x="30.78" y="310.90" width="5.99" height="5.34" fill="#841e5a"/><rect x="36.17" y="310.90" width="5.99" height="5.34" fill="#9c1b5b"/><rect x="41.56" y="310.90" width="5.99" height="5.34" fill="#9c1b5b"/><rect x="46.95" y="310.90" width="5.99" height="5.34" fill="#841e5a"/><rect x="52.34" y="310.90" width="5.99" height="5.34" fill="#541e4e"/><rect x="57.73" y="310.90" width="5.99" height="5.34" fill="#d2204c"/><rect x="63.12" y="310.90" width="5.99" height="5.34" fill="#b41658"/><rect x="68.51" y="310.90" width="5.99" height="5.34" fill="#cb1b4f"/><rect x="73.90" y="310.90" width="5.99" height="5.34" fill="#cb1b4f"/><rect x="79.29" y="310.90" width="5.99" height="5.34" fill="#cb1b4f"/><rect x="84.68" y="310.90" width="5.99" height="5.34" fill="#9c1b5b"/><rect x="90.07" y="310.90" width="5.99" height="5.34" fill="#cb1b4f"/><rect x="95.46" y="310.90" width="5.99" height="5.34" fill="#b41658"/><rect x="100.85" y="310.90" width="5.99" height="5.34" fill="#b41658"/><rect x="106.24" y="310.90" width="5.99" height="5.34" fill="#d2204c"/><rect x="111.63" y="310.90" width="5.99" height="5.34" fill="#cb1b4f"/><rect x="117.02" y="310.90" width="5.99" height="5.34" fill="#cb1b4f"/><rect x="122.41" y="310.90" width="5.99" height="5.34" fill="#ed503e"/><rect x="127.80" y="310.90" width="5.99" height="5.34" fill="#faebdd"/><rect x="133.19" y="310.90" width="5.99" height="5.34" fill="#bf1654"/><rect x="138.58" y="310.90" width="5.99" height="5.34" fill="#bf1654"/><rect x="143.97" y="310.90" width="5.99" height="5.34" fill="#bf1654"/><rect x="149.36" y="310.90" width="5.99" height="5.34" fill="#9c1b5b"/><rect x="154.75" y="310.90" width="5.99" height="5.34" fill="#cb1b4f"/><rect x="160.14" y="310.90" width="5.99" height="5.34" fill="#9c1b5b"/><rect x="165.53" y="310.90" width="5.99" height="5.34" fill="#cb1b4f"/><rect x="170.92" y="310.90" width="5.99" height="5.34" fill="#cb1b4f"/><rect x="176.31" y="310.90" width="5.99" height="5.34" fill="#cb1b4f"/><rect x="181.70" y="310.90" width="5.99" height="5.34" fill="#841e5a"/><rect x="187.09" y="310.90" width="5.99" height="5.34" fill="#9c1b5b"/><rect x="192.48" y="310.90" width="5.99" height="5.34" fill="#d2204c"/><rect x="197.87" y="310.90" width="5.99" height="5.34" fill="#cb1b4f"/><rect x="203.26" y="310.90" width="5.99" height="5.34" fill="#cb1b4f"/><rect x="208.65" y="310.90" width="5.99" height="5.34" fill="#9c1b5b"/><rect x="214.04" y="310.90" width="5.99" height="5.34" fill="#b41658"/><rect x="219.43" y="310.90" width="5.99" height="5.34" fill="#b41658"/><rect x="224.82" y="310.90" width="5.99" height="5.34" fill="#d2204c"/><rect x="230.21" y="310.90" width="5.99" height="5.34" fill="#9c1b5b"/><rect x="235.60" y="310.90" width="5.99" height="5.34" fill="#841e5a"/><rect x="240.99" y="310.90" width="5.99" height="5.34" fill="#cb1b4f"/><rect x="246.38" y="310.90" width="5.99" height="5.34" fill="#6d1f56"/><rect x="251.77" y="310.90" width="5.99" height="5.34" fill="#9c1b5b"/><rect x="257.16" y="310.90" width="5.99" height="5.34" fill="#9c1b5b"/><rect x="262.55" y="310.90" width="5.99" height="5.34" fill="#841e5a"/><rect x="267.94" y="310.90" width="5.99" height="5.34" fill="#841e5a"/><rect x="20.00" y="315.64" width="5.99" height="5.34" fill="#3f1b43"/><rect x="25.39" y="315.64" width="5.99" height="5.34" fill="#541e4e"/><rect x="30.78" y="315.64" width="5.99" height="5.34" fill="#6d1f56"/><rect x="36.17" y="315.64" width="5.99" height="5.34" fill="#9c1b5b"/><rect x="41.56" y="315.64" width="5.99" height="5.34" fill="#841e5a"/><rect x="46.95" y="315.64" width="5.99" height="5.34" fill="#6d1f56"/><rect x="52.34" y="315.64" width="5.99" height="5.34" fill="#3f1b43"/><rect x="57.73" y="315.64" width="5.99" height="5.34" fill="#b41658"/><rect x="63.12" y="315.64" width="5.99" height="5.34" fill="#841e5a"/><rect x="68.51" y="315.64" width="5.99" height="5.34" fill="#9c1b5b"/><rect x="73.90" y="315.64" width="5.99" height="5.34" fill="#841e5a"/><rect x="79.29" y="315.64" width="5.99" height="5.34" fill="#9c1b5b"/><rect x="84.68" y="315.64" width="5.99" height="5.34" fill="#841e5a"/><rect x="90.07" y="315.64" width="5.99" height="5.34" fill="#bf1654"/><rect x="95.46" y="315.64" width="5.99" height="5.34" fill="#781f59"/><rect x="100.85" y="315.64" width="5.99" height="5.34" fill="#6d1f56"/><rect x="106.24" y="315.64" width="5.99" height="5.34" fill="#a8185a"/><rect x="111.63" y="315.64" width="5.99" height="5.34" fill="#a8185a"/><rect x="117.02" y="315.64" width="5.99" height="5.34" fill="#901d5b"/><rect x="122.41" y="315.64" width="5.99" height="5.34" fill="#ce1d4e"/><rect x="127.80" y="315.64" width="5.99" height="5.34" fill="#bf1654"/><rect x="133.19" y="315.64" width="5.99" height="5.34" fill="#faebdd"/><rect x="138.58" y="315.64" width="5.99" height="5.34" fill="#db2946"/><rect x="143.97" y="315.64" width="5.99" height="5.34" fill="#f05e42"/><rect x="149.36" y="315.64" width="5.99" height="5.34" fill="#e23442"/><rect x="154.75" y="315.64" width="5.99" height="5.34" fill="#ed503e"/><rect x="160.14" y="315.64" width="5.99" height="5.34" fill="#9c1b5b"/><rect x="165.53" y="315.64" width="5.99" height="5.34" fill="#cb1b4f"/><rect x="170.92" y="315.64" width="5.99" height="5.34" fill="#ed503e"/><rect x="176.31" y="315.64" width="5.99" height="5.34" fill="#e23442"/><rect x="181.70" y="315.64" width="5.99" height="5.34" fill="#841e5a"/><rect x="187.09" y="315.64" width="5.99" height="5.34" fill="#cb1b4f"/><rect x="192.48" y="315.64" width="5.99" height="5.34" fill="#841e5a"/><rect x="197.87" y="315.64" width="5.99" height="5.34" fill="#cb1b4f"/><rect x="203.26" y="315.64" width="5.99" height="5.34" fill="#cb1b4f"/><rect x="208.65" y="315.64" width="5.99" height="5.34" fill="#b41658"/><rect x="214.04" y="315.64" width="5.99" height="5.34" fill="#b41658"/><rect x="219.43" y="315.64" width="5.99" height="5.34" fill="#cb1b4f"/><rect x="224.82" y="315.64" width="5.99" height="5.34" fill="#b41658"/><rect x="230.21" y="315.64" width="5.99" height="5.34" fill="#9c1b5b"/><rect x="235.60" y="315.64" width="5.99" height="5.34" fill="#841e5a"/><rect x="240.99" y="315.64" width="5.99" height="5.34" fill="#841e5a"/><rect x="246.38" y="315.64" width="5.99" height="5.34" fill="#841e5a"/><rect x="251.77" y="315.64" width="5.99" height="5.34" fill="#9c1b5b"/><rect x="257.16" y="315.64" width="5.99" height="5.34" fill="#e23442"/><rect x="262.55" y="315.64" width="5.99" height="5.34" fill="#cb1b4f"/><rect x="267.94" y="315.64" width="5.99" height="5.34" fill="#b41658"/><rect x="20.00" y="320.39" width="5.99" height="5.34" fill="#160e27"/><rect x="25.39" y="320.39" width="5.99" height="5.34" fill="#541e4e"/><rect x="30.78" y="320.39" width="5.99" height="5.34" fill="#b41658"/><rect x="36.17" y="320.39" width="5.99" height="5.34" fill="#b41658"/><rect x="41.56" y="320.39" width="5.99" height="5.34" fill="#841e5a"/><rect x="46.95" y="320.39" width="5.99" height="5.34" fill="#541e4e"/><rect x="52.34" y="320.39" width="5.99" height="5.34" fill="#3f1b43"/><rect x="57.73" y="320.39" width="5.99" height="5.34" fill="#b41658"/><rect x="63.12" y="320.39" width="5.99" height="5.34" fill="#841e5a"/><rect x="68.51" y="320.39" width="5.99" height="5.34" fill="#9c1b5b"/><rect x="73.90" y="320.39" width="5.99" height="5.34" fill="#841e5a"/><rect x="79.29" y="320.39" width="5.99" height="5.34" fill="#841e5a"/><rect x="84.68" y="320.39" width="5.99" height="5.34" fill="#901d5b"/><rect x="90.07" y="320.39" width="5.99" height="5.34" fill="#d2204c"/><rect x="95.46" y="320.39" width="5.99" height="5.34" fill="#b41658"/><rect x="100.85" y="320.39" width="5.99" height="5.34" fill="#b41658"/><rect x="106.24" y="320.39" width="5.99" height="5.34" fill="#a8185a"/><rect x="111.63" y="320.39" width="5.99" height="5.34" fill="#901d5b"/><rect x="117.02" y="320.39" width="5.99" height="5.34" fill="#541e4e"/><rect x="122.41" y="320.39" width="5.99" height="5.34" fill="#d2204c"/><rect x="127.80" y="320.39" width="5.99" height="5.34" fill="#bf1654"/><rect x="133.19" y="320.39" width="5.99" height="5.34" fill="#db2946"/><rect x="138.58" y="320.39" width="5.99" height="5.34" fill="#faebdd"/><rect x="143.97" y="320.39" width="5.99" height="5.34" fill="#f26b49"/><rect x="149.36" y="320.39" width="5.99" height="5.34" fill="#ed503e"/><rect x="154.75" y="320.39" width="5.99" height="5.34" fill="#f26b49"/><rect x="160.14" y="320.39" width="5.99" height="5.34" fill="#b41658"/><rect x="165.53" y="320.39" width="5.99" height="5.34" fill="#ed503e"/><rect x="170.92" y="320.39" width="5.99" height="5.34" fill="#cb1b4f"/><rect x="176.31" y="320.39" width="5.99" height="5.34" fill="#9c1b5b"/><rect x="181.70" y="320.39" width="5.99" height="5.34" fill="#6d1f56"/><rect x="187.09" y="320.39" width="5.99" height="5.34" fill="#9c1b5b"/><rect x="192.48" y="320.39" width="5.99" height="5.34" fill="#3f1b43"/><rect x="197.87" y="320.39" width="5.99" height="5.34" fill="#9c1b5b"/><rect x="203.26" y="320.39" width="5.99" height="5.34" fill="#b41658"/><rect x="208.65" y="320.39" width="5.99" height="5.34" fill="#9c1b5b"/><rect x="214.04" y="320.39" width="5.99" height="5.34" fill="#6d1f56"/><rect x="219.43" y="320.39" width="5.99" height="5.34" fill="#9c1b5b"/><rect x="224.82" y="320.39" width="5.99" height="5.34" fill="#841e5a"/><rect x="230.21" y="320.39" width="5.99" height="5.34" fill="#841e5a"/><rect x="235.60" y="320.39" width="5.99" height="5.34" fill="#2a1636"/><rect x="240.99" y="320.39" width="5.99" height="5.34" fill="#541e4e"/><rect x="246.38" y="320.39" width="5.99" height="5.34" fill="#3f1b43"/><rect x="251.77" y="320.39" width="5.99" height="5.34" fill="#6d1f56"/><rect x="257.16" y="320.39" width="5.99" height="5.34" fill="#6d1f56"/><rect x="262.55" y="320.39" width="5.99" height="5.34" fill="#cb1b4f"/><rect x="267.94" y="320.39" width="5.99" height="5.34" fill="#b41658"/><rect x="20.00" y="325.13" width="5.99" height="5.34" fill="#541e4e"/><rect x="25.39" y="325.13" width="5.99" height="5.34" fill="#541e4e"/><rect x="30.78" y="325.13" width="5.99" height="5.34" fill="#2a1636"/><rect x="36.17" y="325.13" width="5.99" height="5.34" fill="#841e5a"/><rect x="41.56" y="325.13" width="5.99" height="5.34" fill="#841e5a"/><rect x="46.95" y="325.13" width="5.99" height="5.34" fill="#841e5a"/><rect x="52.34" y="325.13" width="5.99" height="5.34" fill="#3f1b43"/><rect x="57.73" y="325.13" width="5.99" height="5.34" fill="#b41658"/><rect x="63.12" y="325.13" width="5.99" height="5.34" fill="#6d1f56"/><rect x="68.51" y="325.13" width="5.99" height="5.34" fill="#841e5a"/><rect x="73.90" y="325.13" width="5.99" height="5.34" fill="#841e5a"/><rect x="79.29" y="325.13" width="5.99" height="5.34" fill="#cb1b4f"/><rect x="84.68" y="325.13" width="5.99" height="5.34" fill="#841e5a"/><rect x="90.07" y="325.13" width="5.99" height="5.34" fill="#b41658"/><rect x="95.46" y="325.13" width="5.99" height="5.34" fill="#b41658"/><rect x="100.85" y="325.13" width="5.99" height="5.34" fill="#b41658"/><rect x="106.24" y="325.13" width="5.99" height="5.34" fill="#b41658"/><rect x="111.63" y="325.13" width="5.99" height="5.34" fill="#ce1d4e"/><rect x="117.02" y="325.13" width="5.99" height="5.34" fill="#b41658"/><rect x="122.41" y="325.13" width="5.99" height="5.34" fill="#db2946"/><rect x="127.80" y="325.13" width="5.99" height="5.34" fill="#bf1654"/><rect x="133.19" y="325.13" width="5.99" height="5.34" fill="#f05e42"/><rect x="138.58" y="325.13" width="5.99" height="5.34" fill="#f26b49"/><rect x="143.97" y="325.13" width="5.99" height="5.34" fill="#faebdd"/><rect x="149.36" y="325.13" width="5.99" height="5.34" fill="#f6b893"/><rect x="154.75" y="325.13" width="5.99" height="5.34" fill="#f4845d"/><rect x="160.14" y="325.13" width="5.99" height="5.34" fill="#b41658"/><rect x="165.53" y="325.13" width="5.99" height="5.34" fill="#d2204c"/><rect x="170.92" y="325.13" width="5.99" height="5.34" fill="#cb1b4f"/><rect x="176.31" y="325.13" width="5.99" height="5.34" fill="#cb1b4f"/><rect x="181.70" y="325.13" width="5.99" height="5.34" fill="#ed503e"/><rect x="187.09" y="325.13" width="5.99" height="5.34" fill="#ed503e"/><rect x="192.48" y="325.13" width="5.99" height="5.34" fill="#9c1b5b"/><rect x="197.87" y="325.13" width="5.99" height="5.34" fill="#ed503e"/><rect x="203.26" y="325.13" width="5.99" height="5.34" fill="#ed503e"/><rect x="208.65" y="325.13" width="5.99" height="5.34" fill="#cb1b4f"/><rect x="214.04" y="325.13" width="5.99" height="5.34" fill="#b41658"/><rect x="219.43" y="325.13" width="5.99" height="5.34" fill="#9c1b5b"/><rect x="224.82" y="325.13" width="5.99" height="5.34" fill="#841e5a"/><rect x="230.21" y="325.13" width="5.99" height="5.34" fill="#d2204c"/><rect x="235.60" y="325.13" width="5.99" height="5.34" fill="#841e5a"/><rect x="240.99" y="325.13" width="5.99" height="5.34" fill="#841e5a"/><rect x="246.38" y="325.13" width="5.99" height="5.34" fill="#841e5a"/><rect x="251.77" y="325.13" width="5.99" height="5.34" fill="#841e5a"/><rect x="257.16" y="325.13" width="5.99" height="5.34" fill="#9c1b5b"/><rect x="262.55" y="325.13" width="5.99" height="5.34" fill="#841e5a"/><rect x="267.94" y="325.13" width="5.99" height="5.34" fill="#d2204c"/><rect x="20.00" y="329.88" width="5.99" height="5.34" fill="#841e5a"/><rect x="25.39" y="329.88" width="5.99" height="5.34" fill="#541e4e"/><rect x="30.78" y="329.88" width="5.99" height="5.34" fill="#541e4e"/><rect x="36.17" y="329.88" width="5.99" height="5.34" fill="#b41658"/><rect x="41.56" y="329.88" width="5.99" height="5.34" fill="#b41658"/><rect x="46.95" y="329.88" width="5.99" height="5.34" fill="#b41658"/><rect x="52.34" y="329.88" width="5.99" height="5.34" fill="#2a1636"/><rect x="57.73" y="329.88" width="5.99" height="5.34" fill="#9c1b5b"/><rect x="63.12" y="329.88" width="5.99" height="5.34" fill="#6d1f56"/><rect x="68.51" y="329.88" width="5.99" height="5.34" fill="#6d1f56"/><rect x="73.90" y="329.88" width="5.99" height="5.34" fill="#6d1f56"/><rect x="79.29" y="329.88" width="5.99" height="5.34" fill="#9c1b5b"/><rect x="84.68" y="329.88" width="5.99" height="5.34" fill="#841e5a"/><rect x="90.07" y="329.88" width="5.99" height="5.34" fill="#9c1b5b"/><rect x="95.46" y="329.88" width="5.99" height="5.34" fill="#9c1b5b"/><rect x="100.85" y="329.88" width="5.99" height="5.34" fill="#9c1b5b"/><rect x="106.24" y="329.88" width="5.99" height="5.34" fill="#b41658"/><rect x="111.63" y="329.88" width="5.99" height="5.34" fill="#9c1b5b"/><rect x="117.02" y="329.88" width="5.99" height="5.34" fill="#9c1b5b"/><rect x="122.41" y="329.88" width="5.99" height="5.34" fill="#d2204c"/><rect x="127.80" y="329.88" width="5.99" height="5.34" fill="#9c1b5b"/><rect x="133.19" y="329.88" width="5.99" height="5.34" fill="#e23442"/><rect x="138.58" y="329.88" width="5.99" height="5.34" fill="#ed503e"/><rect x="143.97" y="329.88" width="5.99" height="5.34" fill="#f6b893"/><rect x="149.36" y="329.88" width="5.99" height="5.34" fill="#faebdd"/><rect x="154.75" y="329.88" width="5.99" height="5.34" fill="#d2204c"/><rect x="160.14" y="329.88" width="5.99" height="5.34" fill="#a8185a"/><rect x="165.53" y="329.88" width="5.99" height="5.34" fill="#cb1b4f"/><rect x="170.92" y="329.88" width="5.99" height="5.34" fill="#cb1b4f"/><rect x="176.31" y="329.88" width="5.99" height="5.34" fill="#cb1b4f"/><rect x="181.70" y="329.88" width="5.99" height="5.34" fill="#d2204c"/><rect x="187.09" y="329.88" width="5.99" height="5.34" fill="#cb1b4f"/><rect x="192.48" y="329.88" width="5.99" height="5.34" fill="#781f59"/><rect x="197.87" y="329.88" width="5.99" height="5.34" fill="#cb1b4f"/><rect x="203.26" y="329.88" width="5.99" height="5.34" fill="#cb1b4f"/><rect x="208.65" y="329.88" width="5.99" height="5.34" fill="#9c1b5b"/><rect x="214.04" y="329.88" width="5.99" height="5.34" fill="#9c1b5b"/><rect x="219.43" y="329.88" width="5.99" height="5.34" fill="#cb1b4f"/><rect x="224.82" y="329.88" width="5.99" height="5.34" fill="#9c1b5b"/><rect x="230.21" y="329.88" width="5.99" height="5.34" fill="#9c1b5b"/><rect x="235.60" y="329.88" width="5.99" height="5.34" fill="#841e5a"/><rect x="240.99" y="329.88" width="5.99" height="5.34" fill="#6d1f56"/><rect x="246.38" y="329.88" width="5.99" height="5.34" fill="#6d1f56"/><rect x="251.77" y="329.88" width="5.99" height="5.34" fill="#6d1f56"/><rect x="257.16" y="329.88" width="5.99" height="5.34" fill="#9c1b5b"/><rect x="262.55" y="329.88" width="5.99" height="5.34" fill="#841e5a"/><rect x="267.94" y="329.88" width="5.99" height="5.34" fill="#b41658"/><rect x="20.00" y="334.62" width="5.99" height="5.34" fill="#160e27"/><rect x="25.39" y="334.62" width="5.99" height="5.34" fill="#3f1b43"/><rect x="30.78" y="334.62" width="5.99" height="5.34" fill="#2a1636"/><rect x="36.17" y="334.62" width="5.99" height="5.34" fill="#541e4e"/><rect x="41.56" y="334.62" width="5.99" height="5.34" fill="#541e4e"/><rect x="46.95" y="334.62" width="5.99" height="5.34" fill="#541e4e"/><rect x="52.34" y="334.62" width="5.99" height="5.34" fill="#541e4e"/><rect x="57.73" y="334.62" width="5.99" height="5.34" fill="#e23442"/><rect x="63.12" y="334.62" width="5.99" height="5.34" fill="#6d1f56"/><rect x="68.51" y="334.62" width="5.99" height="5.34" fill="#6d1f56"/><rect x="73.90" y="334.62" width="5.99" height="5.34" fill="#6d1f56"/><rect x="79.29" y="334.62" width="5.99" height="5.34" fill="#d2204c"/><rect x="84.68" y="334.62" width="5.99" height="5.34" fill="#541e4e"/><rect x="90.07" y="334.62" width="5.99" height="5.34" fill="#9c1b5b"/><rect x="95.46" y="334.62" width="5.99" height="5.34" fill="#b41658"/><rect x="100.85" y="334.62" width="5.99" height="5.34" fill="#841e5a"/><rect x="106.24" y="334.62" width="5.99" height="5.34" fill="#9c1b5b"/><rect x="111.63" y="334.62" width="5.99" height="5.34" fill="#cb1b4f"/><rect x="117.02" y="334.62" width="5.99" height="5.34" fill="#9c1b5b"/><rect x="122.41" y="334.62" width="5.99" height="5.34" fill="#ed503e"/><rect x="127.80" y="334.62" width="5.99" height="5.34" fill="#cb1b4f"/><rect x="133.19" y="334.62" width="5.99" height="5.34" fill="#ed503e"/><rect x="138.58" y="334.62" width="5.99" height="5.34" fill="#f26b49"/><rect x="143.97" y="334.62" width="5.99" height="5.34" fill="#f4845d"/><rect x="149.36" y="334.62" width="5.99" height="5.34" fill="#d2204c"/><rect x="154.75" y="334.62" width="5.99" height="5.34" fill="#faebdd"/><rect x="160.14" y="334.62" width="5.99" height="5.34" fill="#ed503e"/><rect x="165.53" y="334.62" width="5.99" height="5.34" fill="#b41658"/><rect x="170.92" y="334.62" width="5.99" height="5.34" fill="#bf1654"/><rect x="176.31" y="334.62" width="5.99" height="5.34" fill="#9c1b5b"/><rect x="181.70" y="334.62" width="5.99" height="5.34" fill="#b41658"/><rect x="187.09" y="334.62" width="5.99" height="5.34" fill="#d2204c"/><rect x="192.48" y="334.62" width="5.99" height="5.34" fill="#781f59"/><rect x="197.87" y="334.62" width="5.99" height="5.34" fill="#cb1b4f"/><rect x="203.26" y="334.62" width="5.99" height="5.34" fill="#ce1d4e"/><rect x="208.65" y="334.62" width="5.99" height="5.34" fill="#a8185a"/><rect x="214.04" y="334.62" width="5.99" height="5.34" fill="#9c1b5b"/><rect x="219.43" y="334.62" width="5.99" height="5.34" fill="#841e5a"/><rect x="224.82" y="334.62" width="5.99" height="5.34" fill="#9c1b5b"/><rect x="230.21" y="334.62" width="5.99" height="5.34" fill="#d2204c"/><rect x="235.60" y="334.62" width="5.99" height="5.34" fill="#9c1b5b"/><rect x="240.99" y="334.62" width="5.99" height="5.34" fill="#b41658"/><rect x="246.38" y="334.62" width="5.99" height="5.34" fill="#b41658"/><rect x="251.77" y="334.62" width="5.99" height="5.34" fill="#b41658"/><rect x="257.16" y="334.62" width="5.99" height="5.34" fill="#b41658"/><rect x="262.55" y="334.62" width="5.99" height="5.34" fill="#b41658"/><rect x="267.94" y="334.62" width="5.99" height="5.34" fill="#b41658"/><rect x="20.00" y="339.37" width="5.99" height="5.34" fill="#6d1f56"/><rect x="25.39" y="339.37" width="5.99" height="5.34" fill="#6d1f56"/><rect x="30.78" y="339.37" width="5.99" height="5.34" fill="#541e4e"/><rect x="36.17" y="339.37" width="5.99" height="5.34" fill="#6d1f56"/><rect x="41.56" y="339.37" width="5.99" height="5.34" fill="#6d1f56"/><rect x="46.95" y="339.37" width="5.99" height="5.34" fill="#541e4e"/><rect x="52.34" y="339.37" width="5.99" height="5.34" fill="#841e5a"/><rect x="57.73" y="339.37" width="5.99" height="5.34" fill="#ed503e"/><rect x="63.12" y="339.37" width="5.99" height="5.34" fill="#9c1b5b"/><rect x="68.51" y="339.37" width="5.99" height="5.34" fill="#9c1b5b"/><rect x="73.90" y="339.37" width="5.99" height="5.34" fill="#841e5a"/><rect x="79.29" y="339.37" width="5.99" height="5.34" fill="#cb1b4f"/><rect x="84.68" y="339.37" width="5.99" height="5.34" fill="#841e5a"/><rect x="90.07" y="339.37" width="5.99" height="5.34" fill="#9c1b5b"/><rect x="95.46" y="339.37" width="5.99" height="5.34" fill="#9c1b5b"/><rect x="100.85" y="339.37" width="5.99" height="5.34" fill="#541e4e"/><rect x="106.24" y="339.37" width="5.99" height="5.34" fill="#9c1b5b"/><rect x="111.63" y="339.37" width="5.99" height="5.34" fill="#9c1b5b"/><rect x="117.02" y="339.37" width="5.99" height="5.34" fill="#9c1b5b"/><rect x="122.41" y="339.37" width="5.99" height="5.34" fill="#b41658"/><rect x="127.80" y="339.37" width="5.99" height="5.34" fill="#9c1b5b"/><rect x="133.19" y="339.37" width="5.99" height="5.34" fill="#9c1b5b"/><rect x="138.58" y="339.37" width="5.99" height="5.34" fill="#b41658"/><rect x="143.97" y="339.37" width="5.99" height="5.34" fill="#b41658"/><rect x="149.36" y="339.37" width="5.99" height="5.34" fill="#a8185a"/><rect x="154.75" y="339.37" width="5.99" height="5.34" fill="#ed503e"/><rect x="160.14" y="339.37" width="5.99" height="5.34" fill="#faebdd"/><rect x="165.53" y="339.37" width="5.99" height="5.34" fill="#6d1f56"/><rect x="170.92" y="339.37" width="5.99" height="5.34" fill="#781f59"/><rect x="176.31" y="339.37" width="5.99" height="5.34" fill="#541e4e"/><rect x="181.70" y="339.37" width="5.99" height="5.34" fill="#841e5a"/><rect x="187.09" y="339.37" width="5.99" height="5.34" fill="#9c1b5b"/><rect x="192.48" y="339.37" width="5.99" height="5.34" fill="#611f53"/><rect x="197.87" y="339.37" width="5.99" height="5.34" fill="#611f53"/><rect x="203.26" y="339.37" width="5.99" height="5.34" fill="#901d5b"/><rect x="208.65" y="339.37" width="5.99" height="5.34" fill="#901d5b"/><rect x="214.04" y="339.37" width="5.99" height="5.34" fill="#9c1b5b"/><rect x="219.43" y="339.37" width="5.99" height="5.34" fill="#841e5a"/><rect x="224.82" y="339.37" width="5.99" height="5.34" fill="#9c1b5b"/><rect x="230.21" y="339.37" width="5.99" height="5.34" fill="#e23442"/><rect x="235.60" y="339.37" width="5.99" height="5.34" fill="#cb1b4f"/><rect x="240.99" y="339.37" width="5.99" height="5.34" fill="#d2204c"/><rect x="246.38" y="339.37" width="5.99" height="5.34" fill="#d2204c"/><rect x="251.77" y="339.37" width="5.99" height="5.34" fill="#d2204c"/><rect x="257.16" y="339.37" width="5.99" height="5.34" fill="#9c1b5b"/><rect x="262.55" y="339.37" width="5.99" height="5.34" fill="#cb1b4f"/><rect x="267.94" y="339.37" width="5.99" height="5.34" fill="#9c1b5b"/><rect x="20.00" y="344.12" width="5.99" height="5.34" fill="#541e4e"/><rect x="25.39" y="344.12" width="5.99" height="5.34" fill="#6d1f56"/><rect x="30.78" y="344.12" width="5.99" height="5.34" fill="#9c1b5b"/><rect x="36.17" y="344.12" width="5.99" height="5.34" fill="#cb1b4f"/><rect x="41.56" y="344.12" width="5.99" height="5.34" fill="#cb1b4f"/><rect x="46.95" y="344.12" width="5.99" height="5.34" fill="#9c1b5b"/><rect x="52.34" y="344.12" width="5.99" height="5.34" fill="#841e5a"/><rect x="57.73" y="344.12" width="5.99" height="5.34" fill="#841e5a"/><rect x="63.12" y="344.12" width="5.99" height="5.34" fill="#841e5a"/><rect x="68.51" y="344.12" width="5.99" height="5.34" fill="#9c1b5b"/><rect x="73.90" y="344.12" width="5.99" height="5.34" fill="#841e5a"/><rect x="79.29" y="344.12" width="5.99" height="5.34" fill="#b41658"/><rect x="84.68" y="344.12" width="5.99" height="5.34" fill="#9c1b5b"/><rect x="90.07" y="344.12" width="5.99" height="5.34" fill="#e23442"/><rect x="95.46" y="344.12" width="5.99" height="5.34" fill="#9c1b5b"/><rect x="100.85" y="344.12" width="5.99" height="5.34" fill="#9c1b5b"/><rect x="106.24" y="344.12" width="5.99" height="5.34" fill="#b41658"/><rect x="111.63" y="344.12" width="5.99" height="5.34" fill="#9c1b5b"/><rect x="117.02" y="344.12" width="5.99" height="5.34" fill="#b41658"/><rect x="122.41" y="344.12" width="5.99" height="5.34" fill="#cb1b4f"/><rect x="127.80" y="344.12" width="5.99" height="5.34" fill="#cb1b4f"/><rect x="133.19" y="344.12" width="5.99" height="5.34" fill="#cb1b4f"/><rect x="138.58" y="344.12" width="5.99" height="5.34" fill="#ed503e"/><rect x="143.97" y="344.12" width="5.99" height="5.34" fill="#d2204c"/><rect x="149.36" y="344.12" width="5.99" height="5.34" fill="#cb1b4f"/><rect x="154.75" y="344.12" width="5.99" height="5.34" fill="#b41658"/><rect x="160.14" y="344.12" width="5.99" height="5.34" fill="#6d1f56"/><rect x="165.53" y="344.12" width="5.99" height="5.34" fill="#faebdd"/><rect x="170.92" y="344.12" width="5.99" height="5.34" fill="#db2946"/><rect x="176.31" y="344.12" width="5.99" height="5.34" fill="#d2204c"/><rect x="181.70" y="344.12" width="5.99" height="5.34" fill="#a8185a"/><rect x="187.09" y="344.12" width="5.99" height="5.34" fill="#bf1654"/><rect x="192.48" y="344.12" width="5.99" height="5.34" fill="#a8185a"/><rect x="197.87" y="344.12" width="5.99" height="5.34" fill="#cb1b4f"/><rect x="203.26" y="344.12" width="5.99" height="5.34" fill="#cb1b4f"/><rect x="208.65" y="344.12" width="5.99" height="5.34" fill="#a8185a"/><rect x="214.04" y="344.12" width="5.99" height="5.34" fill="#9c1b5b"/><rect x="219.43" y="344.12" width="5.99" height="5.34" fill="#9c1b5b"/><rect x="224.82" y="344.12" width="5.99" height="5.34" fill="#9c1b5b"/><rect x="230.21" y="344.12" width="5.99" height="5.34" fill="#6d1f56"/><rect x="235.60" y="344.12" width="5.99" height="5.34" fill="#541e4e"/><rect x="240.99" y="344.12" width="5.99" height="5.34" fill="#541e4e"/><rect x="246.38" y="344.12" width="5.99" height="5.34" fill="#541e4e"/><rect x="251.77" y="344.12" width="5.99" height="5.34" fill="#541e4e"/><rect x="257.16" y="344.12" width="5.99" height="5.34" fill="#9c1b5b"/><rect x="262.55" y="344.12" width="5.99" height="5.34" fill="#6d1f56"/><rect x="267.94" y="344.12" width="5.99" height="5.34" fill="#9c1b5b"/><rect x="20.00" y="348.86" width="5.99" height="5.34" fill="#541e4e"/><rect x="25.39" y="348.86" width="5.99" height="5.34" fill="#9c1b5b"/><rect x="30.78" y="348.86" width="5.99" height="5.34" fill="#9c1b5b"/><rect x="36.17" y="348.86" width="5.99" height="5.34" fill="#e23442"/><rect x="41.56" y="348.86" width="5.99" height="5.34" fill="#e23442"/><rect x="46.95" y="348.86" width="5.99" height="5.34" fill="#9c1b5b"/><rect x="52.34" y="348.86" width="5.99" height="5.34" fill="#541e4e"/><rect x="57.73" y="348.86" width="5.99" height="5.34" fill="#841e5a"/><rect x="63.12" y="348.86" width="5.99" height="5.34" fill="#841e5a"/><rect x="68.51" y="348.86" width="5.99" height="5.34" fill="#9c1b5b"/><rect x="73.90" y="348.86" width="5.99" height="5.34" fill="#841e5a"/><rect x="79.29" y="348.86" width="5.99" height="5.34" fill="#cb1b4f"/><rect x="84.68" y="348.86" width="5.99" height="5.34" fill="#ed503e"/><rect x="90.07" y="348.86" width="5.99" height="5.34" fill="#d2204c"/><rect x="95.46" y="348.86" width="5.99" height="5.34" fill="#b41658"/><rect x="100.85" y="348.86" width="5.99" height="5.34" fill="#9c1b5b"/><rect x="106.24" y="348.86" width="5.99" height="5.34" fill="#cb1b4f"/><rect x="111.63" y="348.86" width="5.99" height="5.34" fill="#9c1b5b"/><rect x="117.02" y="348.86" width="5.99" height="5.34" fill="#6d1f56"/><rect x="122.41" y="348.86" width="5.99" height="5.34" fill="#cb1b4f"/><rect x="127.80" y="348.86" width="5.99" height="5.34" fill="#cb1b4f"/><rect x="133.19" y="348.86" width="5.99" height="5.34" fill="#ed503e"/><rect x="138.58" y="348.86" width="5.99" height="5.34" fill="#cb1b4f"/><rect x="143.97" y="348.86" width="5.99" height="5.34" fill="#cb1b4f"/><rect x="149.36" y="348.86" width="5.99" height="5.34" fill="#cb1b4f"/><rect x="154.75" y="348.86" width="5.99" height="5.34" fill="#bf1654"/><rect x="160.14" y="348.86" width="5.99" height="5.34" fill="#781f59"/><rect x="165.53" y="348.86" width="5.99" height="5.34" fill="#db2946"/><rect x="170.92" y="348.86" width="5.99" height="5.34" fill="#faebdd"/><rect x="176.31" y="348.86" width="5.99" height="5.34" fill="#ed503e"/><rect x="181.70" y="348.86" width="5.99" height="5.34" fill="#6d1f56"/><rect x="187.09" y="348.86" width="5.99" height="5.34" fill="#cb1b4f"/><rect x="192.48" y="348.86" width="5.99" height="5.34" fill="#bf1654"/><rect x="197.87" y="348.86" width="5.99" height="5.34" fill="#d2204c"/><rect x="203.26" y="348.86" width="5.99" height="5.34" fill="#d2204c"/><rect x="208.65" y="348.86" width="5.99" height="5.34" fill="#b41658"/><rect x="214.04" y="348.86" width="5.99" height="5.34" fill="#9c1b5b"/><rect x="219.43" y="348.86" width="5.99" height="5.34" fill="#d2204c"/><rect x="224.82" y="348.86" width="5.99" height="5.34" fill="#d2204c"/><rect x="230.21" y="348.86" width="5.99" height="5.34" fill="#9c1b5b"/><rect x="235.60" y="348.86" width="5.99" height="5.34" fill="#541e4e"/><rect x="240.99" y="348.86" width="5.99" height="5.34" fill="#541e4e"/><rect x="246.38" y="348.86" width="5.99" height="5.34" fill="#2a1636"/><rect x="251.77" y="348.86" width="5.99" height="5.34" fill="#541e4e"/><rect x="257.16" y="348.86" width="5.99" height="5.34" fill="#9c1b5b"/><rect x="262.55" y="348.86" width="5.99" height="5.34" fill="#541e4e"/><rect x="267.94" y="348.86" width="5.99" height="5.34" fill="#841e5a"/><rect x="20.00" y="353.61" width="5.99" height="5.34" fill="#b41658"/><rect x="25.39" y="353.61" width="5.99" height="5.34" fill="#cb1b4f"/><rect x="30.78" y="353.61" width="5.99" height="5.34" fill="#d2204c"/><rect x="36.17" y="353.61" width="5.99" height="5.34" fill="#e23442"/><rect x="41.56" y="353.61" width="5.99" height="5.34" fill="#d2204c"/><rect x="46.95" y="353.61" width="5.99" height="5.34" fill="#cb1b4f"/><rect x="52.34" y="353.61" width="5.99" height="5.34" fill="#541e4e"/><rect x="57.73" y="353.61" width="5.99" height="5.34" fill="#541e4e"/><rect x="63.12" y="353.61" width="5.99" height="5.34" fill="#541e4e"/><rect x="68.51" y="353.61" width="5.99" height="5.34" fill="#541e4e"/><rect x="73.90" y="353.61" width="5.99" height="5.34" fill="#6d1f56"/><rect x="79.29" y="353.61" width="5.99" height="5.34" fill="#9c1b5b"/><rect x="84.68" y="353.61" width="5.99" height="5.34" fill="#cb1b4f"/><rect x="90.07" y="353.61" width="5.99" height="5.34" fill="#b41658"/><rect x="95.46" y="353.61" width="5.99" height="5.34" fill="#841e5a"/><rect x="100.85" y="353.61" width="5.99" height="5.34" fill="#cb1b4f"/><rect x="106.24" y="353.61" width="5.99" height="5.34" fill="#841e5a"/><rect x="111.63" y="353.61" width="5.99" height="5.34" fill="#841e5a"/><rect x="117.02" y="353.61" width="5.99" height="5.34" fill="#841e5a"/><rect x="122.41" y="353.61" width="5.99" height="5.34" fill="#9c1b5b"/><rect x="127.80" y="353.61" width="5.99" height="5.34" fill="#cb1b4f"/><rect x="133.19" y="353.61" width="5.99" height="5.34" fill="#e23442"/><rect x="138.58" y="353.61" width="5.99" height="5.34" fill="#9c1b5b"/><rect x="143.97" y="353.61" width="5.99" height="5.34" fill="#cb1b4f"/><rect x="149.36" y="353.61" width="5.99" height="5.34" fill="#cb1b4f"/><rect x="154.75" y="353.61" width="5.99" height="5.34" fill="#9c1b5b"/><rect x="160.14" y="353.61" width="5.99" height="5.34" fill="#541e4e"/><rect x="165.53" y="353.61" width="5.99" height="5.34" fill="#d2204c"/><rect x="170.92" y="353.61" width="5.99" height="5.34" fill="#ed503e"/><rect x="176.31" y="353.61" width="5.99" height="5.34" fill="#faebdd"/><rect x="181.70" y="353.61" width="5.99" height="5.34" fill="#a8185a"/><rect x="187.09" y="353.61" width="5.99" height="5.34" fill="#db2946"/><rect x="192.48" y="353.61" width="5.99" height="5.34" fill="#cb1b4f"/><rect x="197.87" y="353.61" width="5.99" height="5.34" fill="#d2204c"/><rect x="203.26" y="353.61" width="5.99" height="5.34" fill="#ce1d4e"/><rect x="208.65" y="353.61" width="5.99" height="5.34" fill="#bf1654"/><rect x="214.04" y="353.61" width="5.99" height="5.34" fill="#b41658"/><rect x="219.43" y="353.61" width="5.99" height="5.34" fill="#e23442"/><rect x="224.82" y="353.61" width="5.99" height="5.34" fill="#e23442"/><rect x="230.21" y="353.61" width="5.99" height="5.34" fill="#b41658"/><rect x="235.60" y="353.61" width="5.99" height="5.34" fill="#6d1f56"/><rect x="240.99" y="353.61" width="5.99" height="5.34" fill="#6d1f56"/><rect x="246.38" y="353.61" width="5.99" height="5.34" fill="#3f1b43"/><rect x="251.77" y="353.61" width="5.99" height="5.34" fill="#541e4e"/><rect x="257.16" y="353.61" width="5.99" height="5.34" fill="#cb1b4f"/><rect x="262.55" y="353.61" width="5.99" height="5.34" fill="#541e4e"/><rect x="267.94" y="353.61" width="5.99" height="5.34" fill="#9c1b5b"/><rect x="20.00" y="358.35" width="5.99" height="5.34" fill="#d2204c"/><rect x="25.39" y="358.35" width="5.99" height="5.34" fill="#541e4e"/><rect x="30.78" y="358.35" width="5.99" height="5.34" fill="#160e27"/><rect x="36.17" y="358.35" width="5.99" height="5.34" fill="#3f1b43"/><rect x="41.56" y="358.35" width="5.99" height="5.34" fill="#841e5a"/><rect x="46.95" y="358.35" width="5.99" height="5.34" fill="#b41658"/><rect x="52.34" y="358.35" width="5.99" height="5.34" fill="#541e4e"/><rect x="57.73" y="358.35" width="5.99" height="5.34" fill="#841e5a"/><rect x="63.12" y="358.35" width="5.99" height="5.34" fill="#6d1f56"/><rect x="68.51" y="358.35" width="5.99" height="5.34" fill="#541e4e"/><rect x="73.90" y="358.35" width="5.99" height="5.34" fill="#841e5a"/><rect x="79.29" y="358.35" width="5.99" height="5.34" fill="#d2204c"/><rect x="84.68" y="358.35" width="5.99" height="5.34" fill="#2a1636"/><rect x="90.07" y="358.35" width="5.99" height="5.34" fill="#541e4e"/><rect x="95.46" y="358.35" width="5.99" height="5.34" fill="#841e5a"/><rect x="100.85" y="358.35" width="5.99" height="5.34" fill="#9c1b5b"/><rect x="106.24" y="358.35" width="5.99" height="5.34" fill="#841e5a"/><rect x="111.63" y="358.35" width="5.99" height="5.34" fill="#cb1b4f"/><rect x="117.02" y="358.35" width="5.99" height="5.34" fill="#f26b49"/><rect x="122.41" y="358.35" width="5.99" height="5.34" fill="#cb1b4f"/><rect x="127.80" y="358.35" width="5.99" height="5.34" fill="#841e5a"/><rect x="133.19" y="358.35" width="5.99" height="5.34" fill="#841e5a"/><rect x="138.58" y="358.35" width="5.99" height="5.34" fill="#6d1f56"/><rect x="143.97" y="358.35" width="5.99" height="5.34" fill="#ed503e"/><rect x="149.36" y="358.35" width="5.99" height="5.34" fill="#d2204c"/><rect x="154.75" y="358.35" width="5.99" height="5.34" fill="#b41658"/><rect x="160.14" y="358.35" width="5.99" height="5.34" fill="#841e5a"/><rect x="165.53" y="358.35" width="5.99" height="5.34" fill="#a8185a"/><rect x="170.92" y="358.35" width="5.99" height="5.34" fill="#6d1f56"/><rect x="176.31" y="358.35" width="5.99" height="5.34" fill="#a8185a"/><rect x="181.70" y="358.35" width="5.99" height="5.34" fill="#faebdd"/><rect x="187.09" y="358.35" width="5.99" height="5.34" fill="#ed503e"/><rect x="192.48" y="358.35" width="5.99" height="5.34" fill="#ce1d4e"/><rect x="197.87" y="358.35" width="5.99" height="5.34" fill="#cb1b4f"/><rect x="203.26" y="358.35" width="5.99" height="5.34" fill="#bf1654"/><rect x="208.65" y="358.35" width="5.99" height="5.34" fill="#b41658"/><rect x="214.04" y="358.35" width="5.99" height="5.34" fill="#e23442"/><rect x="219.43" y="358.35" width="5.99" height="5.34" fill="#841e5a"/><rect x="224.82" y="358.35" width="5.99" height="5.34" fill="#541e4e"/><rect x="230.21" y="358.35" width="5.99" height="5.34" fill="#b41658"/><rect x="235.60" y="358.35" width="5.99" height="5.34" fill="#e23442"/><rect x="240.99" y="358.35" width="5.99" height="5.34" fill="#b41658"/><rect x="246.38" y="358.35" width="5.99" height="5.34" fill="#b41658"/><rect x="251.77" y="358.35" width="5.99" height="5.34" fill="#b41658"/><rect x="257.16" y="358.35" width="5.99" height="5.34" fill="#b41658"/><rect x="262.55" y="358.35" width="5.99" height="5.34" fill="#2a1636"/><rect x="267.94" y="358.35" width="5.99" height="5.34" fill="#9c1b5b"/><rect x="20.00" y="363.10" width="5.99" height="5.34" fill="#9c1b5b"/><rect x="25.39" y="363.10" width="5.99" height="5.34" fill="#841e5a"/><rect x="30.78" y="363.10" width="5.99" height="5.34" fill="#2a1636"/><rect x="36.17" y="363.10" width="5.99" height="5.34" fill="#841e5a"/><rect x="41.56" y="363.10" width="5.99" height="5.34" fill="#841e5a"/><rect x="46.95" y="363.10" width="5.99" height="5.34" fill="#9c1b5b"/><rect x="52.34" y="363.10" width="5.99" height="5.34" fill="#541e4e"/><rect x="57.73" y="363.10" width="5.99" height="5.34" fill="#6d1f56"/><rect x="63.12" y="363.10" width="5.99" height="5.34" fill="#541e4e"/><rect x="68.51" y="363.10" width="5.99" height="5.34" fill="#541e4e"/><rect x="73.90" y="363.10" width="5.99" height="5.34" fill="#841e5a"/><rect x="79.29" y="363.10" width="5.99" height="5.34" fill="#d2204c"/><rect x="84.68" y="363.10" width="5.99" height="5.34" fill="#541e4e"/><rect x="90.07" y="363.10" width="5.99" height="5.34" fill="#541e4e"/><rect x="95.46" y="363.10" width="5.99" height="5.34" fill="#6d1f56"/><rect x="100.85" y="363.10" width="5.99" height="5.34" fill="#b41658"/><rect x="106.24" y="363.10" width="5.99" height="5.34" fill="#541e4e"/><rect x="111.63" y="363.10" width="5.99" height="5.34" fill="#cb1b4f"/><rect x="117.02" y="363.10" width="5.99" height="5.34" fill="#d2204c"/><rect x="122.41" y="363.10" width="5.99" height="5.34" fill="#d2204c"/><rect x="127.80" y="363.10" width="5.99" height="5.34" fill="#9c1b5b"/><rect x="133.19" y="363.10" width="5.99" height="5.34" fill="#cb1b4f"/><rect x="138.58" y="363.10" width="5.99" height="5.34" fill="#9c1b5b"/><rect x="143.97" y="363.10" width="5.99" height="5.34" fill="#ed503e"/><rect x="149.36" y="363.10" width="5.99" height="5.34" fill="#cb1b4f"/><rect x="154.75" y="363.10" width="5.99" height="5.34" fill="#d2204c"/><rect x="160.14" y="363.10" width="5.99" height="5.34" fill="#9c1b5b"/><rect x="165.53" y="363.10" width="5.99" height="5.34" fill="#bf1654"/><rect x="170.92" y="363.10" width="5.99" height="5.34" fill="#cb1b4f"/><rect x="176.31" y="363.10" width="5.99" height="5.34" fill="#db2946"/><rect x="181.70" y="363.10" width="5.99" height="5.34" fill="#ed503e"/><rect x="187.09" y="363.10" width="5.99" height="5.34" fill="#faebdd"/><rect x="192.48" y="363.10" width="5.99" height="5.34" fill="#e23442"/><rect x="197.87" y="363.10" width="5.99" height="5.34" fill="#e23442"/><rect x="203.26" y="363.10" width="5.99" height="5.34" fill="#ce1d4e"/><rect x="208.65" y="363.10" width="5.99" height="5.34" fill="#bf1654"/><rect x="214.04" y="363.10" width="5.99" height="5.34" fill="#cb1b4f"/><rect x="219.43" y="363.10" width="5.99" height="5.34" fill="#841e5a"/><rect x="224.82" y="363.10" width="5.99" height="5.34" fill="#841e5a"/><rect x="230.21" y="363.10" width="5.99" height="5.34" fill="#d2204c"/><rect x="235.60" y="363.10" width="5.99" height="5.34" fill="#cb1b4f"/><rect x="240.99" y="363.10" width="5.99" height="5.34" fill="#b41658"/><rect x="246.38" y="363.10" width="5.99" height="5.34" fill="#b41658"/><rect x="251.77" y="363.10" width="5.99" height="5.34" fill="#b41658"/><rect x="257.16" y="363.10" width="5.99" height="5.34" fill="#d2204c"/><rect x="262.55" y="363.10" width="5.99" height="5.34" fill="#6d1f56"/><rect x="267.94" y="363.10" width="5.99" height="5.34" fill="#9c1b5b"/><rect x="20.00" y="367.84" width="5.99" height="5.34" fill="#cb1b4f"/><rect x="25.39" y="367.84" width="5.99" height="5.34" fill="#ed503e"/><rect x="30.78" y="367.84" width="5.99" height="5.34" fill="#9c1b5b"/><rect x="36.17" y="367.84" width="5.99" height="5.34" fill="#d2204c"/><rect x="41.56" y="367.84" width="5.99" height="5.34" fill="#d2204c"/><rect x="46.95" y="367.84" width="5.99" height="5.34" fill="#d2204c"/><rect x="52.34" y="367.84" width="5.99" height="5.34" fill="#b41658"/><rect x="57.73" y="367.84" width="5.99" height="5.34" fill="#841e5a"/><rect x="63.12" y="367.84" width="5.99" height="5.34" fill="#b41658"/><rect x="68.51" y="367.84" width="5.99" height="5.34" fill="#b41658"/><rect x="73.90" y="367.84" width="5.99" height="5.34" fill="#cb1b4f"/><rect x="79.29" y="367.84" width="5.99" height="5.34" fill="#d2204c"/><rect x="84.68" y="367.84" width="5.99" height="5.34" fill="#d2204c"/><rect x="90.07" y="367.84" width="5.99" height="5.34" fill="#841e5a"/><rect x="95.46" y="367.84" width="5.99" height="5.34" fill="#841e5a"/><rect x="100.85" y="367.84" width="5.99" height="5.34" fill="#cb1b4f"/><rect x="106.24" y="367.84" width="5.99" height="5.34" fill="#841e5a"/><rect x="111.63" y="367.84" width="5.99" height="5.34" fill="#9c1b5b"/><rect x="117.02" y="367.84" width="5.99" height="5.34" fill="#b41658"/><rect x="122.41" y="367.84" width="5.99" height="5.34" fill="#841e5a"/><rect x="127.80" y="367.84" width="5.99" height="5.34" fill="#d2204c"/><rect x="133.19" y="367.84" width="5.99" height="5.34" fill="#841e5a"/><rect x="138.58" y="367.84" width="5.99" height="5.34" fill="#3f1b43"/><rect x="143.97" y="367.84" width="5.99" height="5.34" fill="#9c1b5b"/><rect x="149.36" y="367.84" width="5.99" height="5.34" fill="#781f59"/><rect x="154.75" y="367.84" width="5.99" height="5.34" fill="#781f59"/><rect x="160.14" y="367.84" width="5.99" height="5.34" fill="#611f53"/><rect x="165.53" y="367.84" width="5.99" height="5.34" fill="#a8185a"/><rect x="170.92" y="367.84" width="5.99" height="5.34" fill="#bf1654"/><rect x="176.31" y="367.84" width="5.99" height="5.34" fill="#cb1b4f"/><rect x="181.70" y="367.84" width="5.99" height="5.34" fill="#ce1d4e"/><rect x="187.09" y="367.84" width="5.99" height="5.34" fill="#e23442"/><rect x="192.48" y="367.84" width="5.99" height="5.34" fill="#faebdd"/><rect x="197.87" y="367.84" width="5.99" height="5.34" fill="#ed503e"/><rect x="203.26" y="367.84" width="5.99" height="5.34" fill="#ce1d4e"/><rect x="208.65" y="367.84" width="5.99" height="5.34" fill="#9c1b5b"/><rect x="214.04" y="367.84" width="5.99" height="5.34" fill="#cb1b4f"/><rect x="219.43" y="367.84" width="5.99" height="5.34" fill="#cb1b4f"/><rect x="224.82" y="367.84" width="5.99" height="5.34" fill="#d2204c"/><rect x="230.21" y="367.84" width="5.99" height="5.34" fill="#cb1b4f"/><rect x="235.60" y="367.84" width="5.99" height="5.34" fill="#cb1b4f"/><rect x="240.99" y="367.84" width="5.99" height="5.34" fill="#cb1b4f"/><rect x="246.38" y="367.84" width="5.99" height="5.34" fill="#b41658"/><rect x="251.77" y="367.84" width="5.99" height="5.34" fill="#cb1b4f"/><rect x="257.16" y="367.84" width="5.99" height="5.34" fill="#d2204c"/><rect x="262.55" y="367.84" width="5.99" height="5.34" fill="#3f1b43"/><rect x="267.94" y="367.84" width="5.99" height="5.34" fill="#841e5a"/><rect x="20.00" y="372.59" width="5.99" height="5.34" fill="#9c1b5b"/><rect x="25.39" y="372.59" width="5.99" height="5.34" fill="#b41658"/><rect x="30.78" y="372.59" width="5.99" height="5.34" fill="#841e5a"/><rect x="36.17" y="372.59" width="5.99" height="5.34" fill="#cb1b4f"/><rect x="41.56" y="372.59" width="5.99" height="5.34" fill="#e23442"/><rect x="46.95" y="372.59" width="5.99" height="5.34" fill="#cb1b4f"/><rect x="52.34" y="372.59" width="5.99" height="5.34" fill="#841e5a"/><rect x="57.73" y="372.59" width="5.99" height="5.34" fill="#841e5a"/><rect x="63.12" y="372.59" width="5.99" height="5.34" fill="#841e5a"/><rect x="68.51" y="372.59" width="5.99" height="5.34" fill="#9c1b5b"/><rect x="73.90" y="372.59" width="5.99" height="5.34" fill="#b41658"/><rect x="79.29" y="372.59" width="5.99" height="5.34" fill="#d2204c"/><rect x="84.68" y="372.59" width="5.99" height="5.34" fill="#d2204c"/><rect x="90.07" y="372.59" width="5.99" height="5.34" fill="#9c1b5b"/><rect x="95.46" y="372.59" width="5.99" height="5.34" fill="#9c1b5b"/><rect x="100.85" y="372.59" width="5.99" height="5.34" fill="#cb1b4f"/><rect x="106.24" y="372.59" width="5.99" height="5.34" fill="#b41658"/><rect x="111.63" y="372.59" width="5.99" height="5.34" fill="#b41658"/><rect x="117.02" y="372.59" width="5.99" height="5.34" fill="#b41658"/><rect x="122.41" y="372.59" width="5.99" height="5.34" fill="#cb1b4f"/><rect x="127.80" y="372.59" width="5.99" height="5.34" fill="#cb1b4f"/><rect x="133.19" y="372.59" width="5.99" height="5.34" fill="#cb1b4f"/><rect x="138.58" y="372.59" width="5.99" height="5.34" fill="#9c1b5b"/><rect x="143.97" y="372.59" width="5.99" height="5.34" fill="#ed503e"/><rect x="149.36" y="372.59" width="5.99" height="5.34" fill="#cb1b4f"/><rect x="154.75" y="372.59" width="5.99" height="5.34" fill="#cb1b4f"/><rect x="160.14" y="372.59" width="5.99" height="5.34" fill="#611f53"/><rect x="165.53" y="372.59" width="5.99" height="5.34" fill="#cb1b4f"/><rect x="170.92" y="372.59" width="5.99" height="5.34" fill="#d2204c"/><rect x="176.31" y="372.59" width="5.99" height="5.34" fill="#d2204c"/><rect x="181.70" y="372.59" width="5.99" height="5.34" fill="#cb1b4f"/><rect x="187.09" y="372.59" width="5.99" height="5.34" fill="#e23442"/><rect x="192.48" y="372.59" width="5.99" height="5.34" fill="#ed503e"/><rect x="197.87" y="372.59" width="5.99" height="5.34" fill="#faebdd"/><rect x="203.26" y="372.59" width="5.99" height="5.34" fill="#ed503e"/><rect x="208.65" y="372.59" width="5.99" height="5.34" fill="#b41658"/><rect x="214.04" y="372.59" width="5.99" height="5.34" fill="#cb1b4f"/><rect x="219.43" y="372.59" width="5.99" height="5.34" fill="#cb1b4f"/><rect x="224.82" y="372.59" width="5.99" height="5.34" fill="#cb1b4f"/><rect x="230.21" y="372.59" width="5.99" height="5.34" fill="#cb1b4f"/><rect x="235.60" y="372.59" width="5.99" height="5.34" fill="#9c1b5b"/><rect x="240.99" y="372.59" width="5.99" height="5.34" fill="#9c1b5b"/><rect x="246.38" y="372.59" width="5.99" height="5.34" fill="#9c1b5b"/><rect x="251.77" y="372.59" width="5.99" height="5.34" fill="#841e5a"/><rect x="257.16" y="372.59" width="5.99" height="5.34" fill="#cb1b4f"/><rect x="262.55" y="372.59" width="5.99" height="5.34" fill="#3f1b43"/><rect x="267.94" y="372.59" width="5.99" height="5.34" fill="#841e5a"/><rect x="20.00" y="377.33" width="5.99" height="5.34" fill="#b41658"/><rect x="25.39" y="377.33" width="5.99" height="5.34" fill="#9c1b5b"/><rect x="30.78" y="377.33" width="5.99" height="5.34" fill="#841e5a"/><rect x="36.17" y="377.33" width="5.99" height="5.34" fill="#cb1b4f"/><rect x="41.56" y="377.33" width="5.99" height="5.34" fill="#b41658"/><rect x="46.95" y="377.33" width="5.99" height="5.34" fill="#b41658"/><rect x="52.34" y="377.33" width="5.99" height="5.34" fill="#3f1b43"/><rect x="57.73" y="377.33" width="5.99" height="5.34" fill="#9c1b5b"/><rect x="63.12" y="377.33" width="5.99" height="5.34" fill="#841e5a"/><rect x="68.51" y="377.33" width="5.99" height="5.34" fill="#841e5a"/><rect x="73.90" y="377.33" width="5.99" height="5.34" fill="#9c1b5b"/><rect x="79.29" y="377.33" width="5.99" height="5.34" fill="#cb1b4f"/><rect x="84.68" y="377.33" width="5.99" height="5.34" fill="#cb1b4f"/><rect x="90.07" y="377.33" width="5.99" height="5.34" fill="#b41658"/><rect x="95.46" y="377.33" width="5.99" height="5.34" fill="#841e5a"/><rect x="100.85" y="377.33" width="5.99" height="5.34" fill="#b41658"/><rect x="106.24" y="377.33" width="5.99" height="5.34" fill="#b41658"/><rect x="111.63" y="377.33" width="5.99" height="5.34" fill="#841e5a"/><rect x="117.02" y="377.33" width="5.99" height="5.34" fill="#b41658"/><rect x="122.41" y="377.33" width="5.99" height="5.34" fill="#cb1b4f"/><rect x="127.80" y="377.33" width="5.99" height="5.34" fill="#cb1b4f"/><rect x="133.19" y="377.33" width="5.99" height="5.34" fill="#cb1b4f"/><rect x="138.58" y="377.33" width="5.99" height="5.34" fill="#b41658"/><rect x="143.97" y="377.33" width="5.99" height="5.34" fill="#ed503e"/><rect x="149.36" y="377.33" width="5.99" height="5.34" fill="#cb1b4f"/><rect x="154.75" y="377.33" width="5.99" height="5.34" fill="#ce1d4e"/><rect x="160.14" y="377.33" width="5.99" height="5.34" fill="#901d5b"/><rect x="165.53" y="377.33" width="5.99" height="5.34" fill="#cb1b4f"/><rect x="170.92" y="377.33" width="5.99" height="5.34" fill="#d2204c"/><rect x="176.31" y="377.33" width="5.99" height="5.34" fill="#ce1d4e"/><rect x="181.70" y="377.33" width="5.99" height="5.34" fill="#bf1654"/><rect x="187.09" y="377.33" width="5.99" height="5.34" fill="#ce1d4e"/><rect x="192.48" y="377.33" width="5.99" height="5.34" fill="#ce1d4e"/><rect x="197.87" y="377.33" width="5.99" height="5.34" fill="#ed503e"/><rect x="203.26" y="377.33" width="5.99" height="5.34" fill="#faebdd"/><rect x="208.65" y="377.33" width="5.99" height="5.34" fill="#9c1b5b"/><rect x="214.04" y="377.33" width="5.99" height="5.34" fill="#b41658"/><rect x="219.43" y="377.33" width="5.99" height="5.34" fill="#cb1b4f"/><rect x="224.82" y="377.33" width="5.99" height="5.34" fill="#cb1b4f"/><rect x="230.21" y="377.33" width="5.99" height="5.34" fill="#cb1b4f"/><rect x="235.60" y="377.33" width="5.99" height="5.34" fill="#9c1b5b"/><rect x="240.99" y="377.33" width="5.99" height="5.34" fill="#9c1b5b"/><rect x="246.38" y="377.33" width="5.99" height="5.34" fill="#9c1b5b"/><rect x="251.77" y="377.33" width="5.99" height="5.34" fill="#841e5a"/><rect x="257.16" y="377.33" width="5.99" height="5.34" fill="#cb1b4f"/><rect x="262.55" y="377.33" width="5.99" height="5.34" fill="#841e5a"/><rect x="267.94" y="377.33" width="5.99" height="5.34" fill="#d2204c"/><rect x="20.00" y="382.08" width="5.99" height="5.34" fill="#cb1b4f"/><rect x="25.39" y="382.08" width="5.99" height="5.34" fill="#841e5a"/><rect x="30.78" y="382.08" width="5.99" height="5.34" fill="#6d1f56"/><rect x="36.17" y="382.08" width="5.99" height="5.34" fill="#841e5a"/><rect x="41.56" y="382.08" width="5.99" height="5.34" fill="#841e5a"/><rect x="46.95" y="382.08" width="5.99" height="5.34" fill="#9c1b5b"/><rect x="52.34" y="382.08" width="5.99" height="5.34" fill="#6d1f56"/><rect x="57.73" y="382.08" width="5.99" height="5.34" fill="#6d1f56"/><rect x="63.12" y="382.08" width="5.99" height="5.34" fill="#6d1f56"/><rect x="68.51" y="382.08" width="5.99" height="5.34" fill="#3f1b43"/><rect x="73.90" y="382.08" width="5.99" height="5.34" fill="#541e4e"/><rect x="79.29" y="382.08" width="5.99" height="5.34" fill="#cb1b4f"/><rect x="84.68" y="382.08" width="5.99" height="5.34" fill="#9c1b5b"/><rect x="90.07" y="382.08" width="5.99" height="5.34" fill="#841e5a"/><rect x="95.46" y="382.08" width="5.99" height="5.34" fill="#3f1b43"/><rect x="100.85" y="382.08" width="5.99" height="5.34" fill="#841e5a"/><rect x="106.24" y="382.08" width="5.99" height="5.34" fill="#841e5a"/><rect x="111.63" y="382.08" width="5.99" height="5.34" fill="#9c1b5b"/><rect x="117.02" y="382.08" width="5.99" height="5.34" fill="#b41658"/><rect x="122.41" y="382.08" width="5.99" height="5.34" fill="#cb1b4f"/><rect x="127.80" y="382.08" width="5.99" height="5.34" fill="#9c1b5b"/><rect x="133.19" y="382.08" width="5.99" height="5.34" fill="#b41658"/><rect x="138.58" y="382.08" width="5.99" height="5.34" fill="#9c1b5b"/><rect x="143.97" y="382.08" width="5.99" height="5.34" fill="#cb1b4f"/><rect x="149.36" y="382.08" width="5.99" height="5.34" fill="#9c1b5b"/><rect x="154.75" y="382.08" width="5.99" height="5.34" fill="#a8185a"/><rect x="160.14" y="382.08" width="5.99" height="5.34" fill="#901d5b"/><rect x="165.53" y="382.08" width="5.99" height="5.34" fill="#a8185a"/><rect x="170.92" y="382.08" width="5.99" height="5.34" fill="#b41658"/><rect x="176.31" y="382.08" width="5.99" height="5.34" fill="#bf1654"/><rect x="181.70" y="382.08" width="5.99" height="5.34" fill="#b41658"/><rect x="187.09" y="382.08" width="5.99" height="5.34" fill="#bf1654"/><rect x="192.48" y="382.08" width="5.99" height="5.34" fill="#9c1b5b"/><rect x="197.87" y="382.08" width="5.99" height="5.34" fill="#b41658"/><rect x="203.26" y="382.08" width="5.99" height="5.34" fill="#9c1b5b"/><rect x="208.65" y="382.08" width="5.99" height="5.34" fill="#faebdd"/><rect x="214.04" y="382.08" width="5.99" height="5.34" fill="#f26b49"/><rect x="219.43" y="382.08" width="5.99" height="5.34" fill="#ed503e"/><rect x="224.82" y="382.08" width="5.99" height="5.34" fill="#d2204c"/><rect x="230.21" y="382.08" width="5.99" height="5.34" fill="#d2204c"/><rect x="235.60" y="382.08" width="5.99" height="5.34" fill="#b41658"/><rect x="240.99" y="382.08" width="5.99" height="5.34" fill="#b41658"/><rect x="246.38" y="382.08" width="5.99" height="5.34" fill="#cb1b4f"/><rect x="251.77" y="382.08" width="5.99" height="5.34" fill="#b41658"/><rect x="257.16" y="382.08" width="5.99" height="5.34" fill="#b41658"/><rect x="262.55" y="382.08" width="5.99" height="5.34" fill="#9c1b5b"/><rect x="267.94" y="382.08" width="5.99" height="5.34" fill="#cb1b4f"/><rect x="20.00" y="386.82" width="5.99" height="5.34" fill="#b41658"/><rect x="25.39" y="386.82" width="5.99" height="5.34" fill="#841e5a"/><rect x="30.78" y="386.82" width="5.99" height="5.34" fill="#6d1f56"/><rect x="36.17" y="386.82" width="5.99" height="5.34" fill="#6d1f56"/><rect x="41.56" y="386.82" width="5.99" height="5.34" fill="#841e5a"/><rect x="46.95" y="386.82" width="5.99" height="5.34" fill="#cb1b4f"/><rect x="52.34" y="386.82" width="5.99" height="5.34" fill="#6d1f56"/><rect x="57.73" y="386.82" width="5.99" height="5.34" fill="#841e5a"/><rect x="63.12" y="386.82" width="5.99" height="5.34" fill="#841e5a"/><rect x="68.51" y="386.82" width="5.99" height="5.34" fill="#6d1f56"/><rect x="73.90" y="386.82" width="5.99" height="5.34" fill="#841e5a"/><rect x="79.29" y="386.82" width="5.99" height="5.34" fill="#cb1b4f"/><rect x="84.68" y="386.82" width="5.99" height="5.34" fill="#841e5a"/><rect x="90.07" y="386.82" width="5.99" height="5.34" fill="#841e5a"/><rect x="95.46" y="386.82" width="5.99" height="5.34" fill="#6d1f56"/><rect x="100.85" y="386.82" width="5.99" height="5.34" fill="#841e5a"/><rect x="106.24" y="386.82" width="5.99" height="5.34" fill="#9c1b5b"/><rect x="111.63" y="386.82" width="5.99" height="5.34" fill="#b41658"/><rect x="117.02" y="386.82" width="5.99" height="5.34" fill="#e23442"/><rect x="122.41" y="386.82" width="5.99" height="5.34" fill="#cb1b4f"/><rect x="127.80" y="386.82" width="5.99" height="5.34" fill="#b41658"/><rect x="133.19" y="386.82" width="5.99" height="5.34" fill="#b41658"/><rect x="138.58" y="386.82" width="5.99" height="5.34" fill="#6d1f56"/><rect x="143.97" y="386.82" width="5.99" height="5.34" fill="#b41658"/><rect x="149.36" y="386.82" width="5.99" height="5.34" fill="#9c1b5b"/><rect x="154.75" y="386.82" width="5.99" height="5.34" fill="#9c1b5b"/><rect x="160.14" y="386.82" width="5.99" height="5.34" fill="#9c1b5b"/><rect x="165.53" y="386.82" width="5.99" height="5.34" fill="#9c1b5b"/><rect x="170.92" y="386.82" width="5.99" height="5.34" fill="#9c1b5b"/><rect x="176.31" y="386.82" width="5.99" height="5.34" fill="#b41658"/><rect x="181.70" y="386.82" width="5.99" height="5.34" fill="#e23442"/><rect x="187.09" y="386.82" width="5.99" height="5.34" fill="#cb1b4f"/><rect x="192.48" y="386.82" width="5.99" height="5.34" fill="#cb1b4f"/><rect x="197.87" y="386.82" width="5.99" height="5.34" fill="#cb1b4f"/><rect x="203.26" y="386.82" width="5.99" height="5.34" fill="#b41658"/><rect x="208.65" y="386.82" width="5.99" height="5.34" fill="#f26b49"/><rect x="214.04" y="386.82" width="5.99" height="5.34" fill="#faebdd"/><rect x="219.43" y="386.82" width="5.99" height="5.34" fill="#f26b49"/><rect x="224.82" y="386.82" width="5.99" height="5.34" fill="#e23442"/><rect x="230.21" y="386.82" width="5.99" height="5.34" fill="#9c1b5b"/><rect x="235.60" y="386.82" width="5.99" height="5.34" fill="#db2946"/><rect x="240.99" y="386.82" width="5.99" height="5.34" fill="#b41658"/><rect x="246.38" y="386.82" width="5.99" height="5.34" fill="#b41658"/><rect x="251.77" y="386.82" width="5.99" height="5.34" fill="#b41658"/><rect x="257.16" y="386.82" width="5.99" height="5.34" fill="#9c1b5b"/><rect x="262.55" y="386.82" width="5.99" height="5.34" fill="#541e4e"/><rect x="267.94" y="386.82" width="5.99" height="5.34" fill="#9c1b5b"/><rect x="20.00" y="391.56" width="5.99" height="5.34" fill="#9c1b5b"/><rect x="25.39" y="391.56" width="5.99" height="5.34" fill="#d2204c"/><rect x="30.78" y="391.56" width="5.99" height="5.34" fill="#d2204c"/><rect x="36.17" y="391.56" width="5.99" height="5.34" fill="#ed503e"/><rect x="41.56" y="391.56" width="5.99" height="5.34" fill="#d2204c"/><rect x="46.95" y="391.56" width="5.99" height="5.34" fill="#d2204c"/><rect x="52.34" y="391.56" width="5.99" height="5.34" fill="#841e5a"/><rect x="57.73" y="391.56" width="5.99" height="5.34" fill="#6d1f56"/><rect x="63.12" y="391.56" width="5.99" height="5.34" fill="#9c1b5b"/><rect x="68.51" y="391.56" width="5.99" height="5.34" fill="#9c1b5b"/><rect x="73.90" y="391.56" width="5.99" height="5.34" fill="#b41658"/><rect x="79.29" y="391.56" width="5.99" height="5.34" fill="#cb1b4f"/><rect x="84.68" y="391.56" width="5.99" height="5.34" fill="#e23442"/><rect x="90.07" y="391.56" width="5.99" height="5.34" fill="#b41658"/><rect x="95.46" y="391.56" width="5.99" height="5.34" fill="#841e5a"/><rect x="100.85" y="391.56" width="5.99" height="5.34" fill="#9c1b5b"/><rect x="106.24" y="391.56" width="5.99" height="5.34" fill="#9c1b5b"/><rect x="111.63" y="391.56" width="5.99" height="5.34" fill="#6d1f56"/><rect x="117.02" y="391.56" width="5.99" height="5.34" fill="#6d1f56"/><rect x="122.41" y="391.56" width="5.99" height="5.34" fill="#841e5a"/><rect x="127.80" y="391.56" width="5.99" height="5.34" fill="#b41658"/><rect x="133.19" y="391.56" width="5.99" height="5.34" fill="#cb1b4f"/><rect x="138.58" y="391.56" width="5.99" height="5.34" fill="#9c1b5b"/><rect x="143.97" y="391.56" width="5.99" height="5.34" fill="#9c1b5b"/><rect x="149.36" y="391.56" width="5.99" height="5.34" fill="#cb1b4f"/><rect x="154.75" y="391.56" width="5.99" height="5.34" fill="#841e5a"/><rect x="160.14" y="391.56" width="5.99" height="5.34" fill="#841e5a"/><rect x="165.53" y="391.56" width="5.99" height="5.34" fill="#9c1b5b"/><rect x="170.92" y="391.56" width="5.99" height="5.34" fill="#d2204c"/><rect x="176.31" y="391.56" width="5.99" height="5.34" fill="#e23442"/><rect x="181.70" y="391.56" width="5.99" height="5.34" fill="#841e5a"/><rect x="187.09" y="391.56" width="5.99" height="5.34" fill="#841e5a"/><rect x="192.48" y="391.56" width="5.99" height="5.34" fill="#cb1b4f"/><rect x="197.87" y="391.56" width="5.99" height="5.34" fill="#cb1b4f"/><rect x="203.26" y="391.56" width="5.99" height="5.34" fill="#cb1b4f"/><rect x="208.65" y="391.56" width="5.99" height="5.34" fill="#ed503e"/><rect x="214.04" y="391.56" width="5.99" height="5.34" fill="#f26b49"/><rect x="219.43" y="391.56" width="5.99" height="5.34" fill="#faebdd"/><rect x="224.82" y="391.56" width="5.99" height="5.34" fill="#f26b49"/><rect x="230.21" y="391.56" width="5.99" height="5.34" fill="#9c1b5b"/><rect x="235.60" y="391.56" width="5.99" height="5.34" fill="#9c1b5b"/><rect x="240.99" y="391.56" width="5.99" height="5.34" fill="#841e5a"/><rect x="246.38" y="391.56" width="5.99" height="5.34" fill="#541e4e"/><rect x="251.77" y="391.56" width="5.99" height="5.34" fill="#6d1f56"/><rect x="257.16" y="391.56" width="5.99" height="5.34" fill="#901d5b"/><rect x="262.55" y="391.56" width="5.99" height="5.34" fill="#611f53"/><rect x="267.94" y="391.56" width="5.99" height="5.34" fill="#9c1b5b"/><rect x="20.00" y="396.31" width="5.99" height="5.34" fill="#9c1b5b"/><rect x="25.39" y="396.31" width="5.99" height="5.34" fill="#d2204c"/><rect x="30.78" y="396.31" width="5.99" height="5.34" fill="#d2204c"/><rect x="36.17" y="396.31" width="5.99" height="5.34" fill="#e23442"/><rect x="41.56" y="396.31" width="5.99" height="5.34" fill="#d2204c"/><rect x="46.95" y="396.31" width="5.99" height="5.34" fill="#d2204c"/><rect x="52.34" y="396.31" width="5.99" height="5.34" fill="#841e5a"/><rect x="57.73" y="396.31" width="5.99" height="5.34" fill="#841e5a"/><rect x="63.12" y="396.31" width="5.99" height="5.34" fill="#b41658"/><rect x="68.51" y="396.31" width="5.99" height="5.34" fill="#b41658"/><rect x="73.90" y="396.31" width="5.99" height="5.34" fill="#b41658"/><rect x="79.29" y="396.31" width="5.99" height="5.34" fill="#b41658"/><rect x="84.68" y="396.31" width="5.99" height="5.34" fill="#e23442"/><rect x="90.07" y="396.31" width="5.99" height="5.34" fill="#b41658"/><rect x="95.46" y="396.31" width="5.99" height="5.34" fill="#841e5a"/><rect x="100.85" y="396.31" width="5.99" height="5.34" fill="#9c1b5b"/><rect x="106.24" y="396.31" width="5.99" height="5.34" fill="#9c1b5b"/><rect x="111.63" y="396.31" width="5.99" height="5.34" fill="#6d1f56"/><rect x="117.02" y="396.31" width="5.99" height="5.34" fill="#6d1f56"/><rect x="122.41" y="396.31" width="5.99" height="5.34" fill="#841e5a"/><rect x="127.80" y="396.31" width="5.99" height="5.34" fill="#d2204c"/><rect x="133.19" y="396.31" width="5.99" height="5.34" fill="#b41658"/><rect x="138.58" y="396.31" width="5.99" height="5.34" fill="#841e5a"/><rect x="143.97" y="396.31" width="5.99" height="5.34" fill="#841e5a"/><rect x="149.36" y="396.31" width="5.99" height="5.34" fill="#9c1b5b"/><rect x="154.75" y="396.31" width="5.99" height="5.34" fill="#9c1b5b"/><rect x="160.14" y="396.31" width="5.99" height="5.34" fill="#9c1b5b"/><rect x="165.53" y="396.31" width="5.99" height="5.34" fill="#9c1b5b"/><rect x="170.92" y="396.31" width="5.99" height="5.34" fill="#d2204c"/><rect x="176.31" y="396.31" width="5.99" height="5.34" fill="#e23442"/><rect x="181.70" y="396.31" width="5.99" height="5.34" fill="#541e4e"/><rect x="187.09" y="396.31" width="5.99" height="5.34" fill="#841e5a"/><rect x="192.48" y="396.31" width="5.99" height="5.34" fill="#d2204c"/><rect x="197.87" y="396.31" width="5.99" height="5.34" fill="#cb1b4f"/><rect x="203.26" y="396.31" width="5.99" height="5.34" fill="#cb1b4f"/><rect x="208.65" y="396.31" width="5.99" height="5.34" fill="#d2204c"/><rect x="214.04" y="396.31" width="5.99" height="5.34" fill="#e23442"/><rect x="219.43" y="396.31" width="5.99" height="5.34" fill="#f26b49"/><rect x="224.82" y="396.31" width="5.99" height="5.34" fill="#faebdd"/><rect x="230.21" y="396.31" width="5.99" height="5.34" fill="#9c1b5b"/><rect x="235.60" y="396.31" width="5.99" height="5.34" fill="#6d1f56"/><rect x="240.99" y="396.31" width="5.99" height="5.34" fill="#841e5a"/><rect x="246.38" y="396.31" width="5.99" height="5.34" fill="#541e4e"/><rect x="251.77" y="396.31" width="5.99" height="5.34" fill="#611f53"/><rect x="257.16" y="396.31" width="5.99" height="5.34" fill="#901d5b"/><rect x="262.55" y="396.31" width="5.99" height="5.34" fill="#6d1f56"/><rect x="267.94" y="396.31" width="5.99" height="5.34" fill="#9c1b5b"/><rect x="20.00" y="401.06" width="5.99" height="5.34" fill="#b41658"/><rect x="25.39" y="401.06" width="5.99" height="5.34" fill="#b41658"/><rect x="30.78" y="401.06" width="5.99" height="5.34" fill="#6d1f56"/><rect x="36.17" y="401.06" width="5.99" height="5.34" fill="#9c1b5b"/><rect x="41.56" y="401.06" width="5.99" height="5.34" fill="#9c1b5b"/><rect x="46.95" y="401.06" width="5.99" height="5.34" fill="#9c1b5b"/><rect x="52.34" y="401.06" width="5.99" height="5.34" fill="#9c1b5b"/><rect x="57.73" y="401.06" width="5.99" height="5.34" fill="#b41658"/><rect x="63.12" y="401.06" width="5.99" height="5.34" fill="#841e5a"/><rect x="68.51" y="401.06" width="5.99" height="5.34" fill="#841e5a"/><rect x="73.90" y="401.06" width="5.99" height="5.34" fill="#841e5a"/><rect x="79.29" y="401.06" width="5.99" height="5.34" fill="#b41658"/><rect x="84.68" y="401.06" width="5.99" height="5.34" fill="#9c1b5b"/><rect x="90.07" y="401.06" width="5.99" height="5.34" fill="#6d1f56"/><rect x="95.46" y="401.06" width="5.99" height="5.34" fill="#9c1b5b"/><rect x="100.85" y="401.06" width="5.99" height="5.34" fill="#b41658"/><rect x="106.24" y="401.06" width="5.99" height="5.34" fill="#3f1b43"/><rect x="111.63" y="401.06" width="5.99" height="5.34" fill="#9c1b5b"/><rect x="117.02" y="401.06" width="5.99" height="5.34" fill="#841e5a"/><rect x="122.41" y="401.06" width="5.99" height="5.34" fill="#b41658"/><rect x="127.80" y="401.06" width="5.99" height="5.34" fill="#9c1b5b"/><rect x="133.19" y="401.06" width="5.99" height="5.34" fill="#9c1b5b"/><rect x="138.58" y="401.06" width="5.99" height="5.34" fill="#841e5a"/><rect x="143.97" y="401.06" width="5.99" height="5.34" fill="#d2204c"/><rect x="149.36" y="401.06" width="5.99" height="5.34" fill="#9c1b5b"/><rect x="154.75" y="401.06" width="5.99" height="5.34" fill="#d2204c"/><rect x="160.14" y="401.06" width="5.99" height="5.34" fill="#e23442"/><rect x="165.53" y="401.06" width="5.99" height="5.34" fill="#6d1f56"/><rect x="170.92" y="401.06" width="5.99" height="5.34" fill="#9c1b5b"/><rect x="176.31" y="401.06" width="5.99" height="5.34" fill="#b41658"/><rect x="181.70" y="401.06" width="5.99" height="5.34" fill="#b41658"/><rect x="187.09" y="401.06" width="5.99" height="5.34" fill="#d2204c"/><rect x="192.48" y="401.06" width="5.99" height="5.34" fill="#cb1b4f"/><rect x="197.87" y="401.06" width="5.99" height="5.34" fill="#cb1b4f"/><rect x="203.26" y="401.06" width="5.99" height="5.34" fill="#cb1b4f"/><rect x="208.65" y="401.06" width="5.99" height="5.34" fill="#d2204c"/><rect x="214.04" y="401.06" width="5.99" height="5.34" fill="#9c1b5b"/><rect x="219.43" y="401.06" width="5.99" height="5.34" fill="#9c1b5b"/><rect x="224.82" y="401.06" width="5.99" height="5.34" fill="#9c1b5b"/><rect x="230.21" y="401.06" width="5.99" height="5.34" fill="#faebdd"/><rect x="235.60" y="401.06" width="5.99" height="5.34" fill="#cb1b4f"/><rect x="240.99" y="401.06" width="5.99" height="5.34" fill="#9c1b5b"/><rect x="246.38" y="401.06" width="5.99" height="5.34" fill="#ce1d4e"/><rect x="251.77" y="401.06" width="5.99" height="5.34" fill="#9c1b5b"/><rect x="257.16" y="401.06" width="5.99" height="5.34" fill="#a8185a"/><rect x="262.55" y="401.06" width="5.99" height="5.34" fill="#841e5a"/><rect x="267.94" y="401.06" width="5.99" height="5.34" fill="#9c1b5b"/><rect x="20.00" y="405.80" width="5.99" height="5.34" fill="#ed503e"/><rect x="25.39" y="405.80" width="5.99" height="5.34" fill="#9c1b5b"/><rect x="30.78" y="405.80" width="5.99" height="5.34" fill="#3f1b43"/><rect x="36.17" y="405.80" width="5.99" height="5.34" fill="#541e4e"/><rect x="41.56" y="405.80" width="5.99" height="5.34" fill="#6d1f56"/><rect x="46.95" y="405.80" width="5.99" height="5.34" fill="#b41658"/><rect x="52.34" y="405.80" width="5.99" height="5.34" fill="#cb1b4f"/><rect x="57.73" y="405.80" width="5.99" height="5.34" fill="#b41658"/><rect x="63.12" y="405.80" width="5.99" height="5.34" fill="#d2204c"/><rect x="68.51" y="405.80" width="5.99" height="5.34" fill="#cb1b4f"/><rect x="73.90" y="405.80" width="5.99" height="5.34" fill="#cb1b4f"/><rect x="79.29" y="405.80" width="5.99" height="5.34" fill="#e23442"/><rect x="84.68" y="405.80" width="5.99" height="5.34" fill="#841e5a"/><rect x="90.07" y="405.80" width="5.99" height="5.34" fill="#6d1f56"/><rect x="95.46" y="405.80" width="5.99" height="5.34" fill="#6d1f56"/><rect x="100.85" y="405.80" width="5.99" height="5.34" fill="#841e5a"/><rect x="106.24" y="405.80" width="5.99" height="5.34" fill="#9c1b5b"/><rect x="111.63" y="405.80" width="5.99" height="5.34" fill="#b41658"/><rect x="117.02" y="405.80" width="5.99" height="5.34" fill="#d2204c"/><rect x="122.41" y="405.80" width="5.99" height="5.34" fill="#841e5a"/><rect x="127.80" y="405.80" width="5.99" height="5.34" fill="#841e5a"/><rect x="133.19" y="405.80" width="5.99" height="5.34" fill="#841e5a"/><rect x="138.58" y="405.80" width="5.99" height="5.34" fill="#2a1636"/><rect x="143.97" y="405.80" width="5.99" height="5.34" fill="#841e5a"/><rect x="149.36" y="405.80" width="5.99" height="5.34" fill="#841e5a"/><rect x="154.75" y="405.80" width="5.99" height="5.34" fill="#9c1b5b"/><rect x="160.14" y="405.80" width="5.99" height="5.34" fill="#cb1b4f"/><rect x="165.53" y="405.80" width="5.99" height="5.34" fill="#541e4e"/><rect x="170.92" y="405.80" width="5.99" height="5.34" fill="#541e4e"/><rect x="176.31" y="405.80" width="5.99" height="5.34" fill="#6d1f56"/><rect x="181.70" y="405.80" width="5.99" height="5.34" fill="#e23442"/><rect x="187.09" y="405.80" width="5.99" height="5.34" fill="#cb1b4f"/><rect x="192.48" y="405.80" width="5.99" height="5.34" fill="#cb1b4f"/><rect x="197.87" y="405.80" width="5.99" height="5.34" fill="#9c1b5b"/><rect x="203.26" y="405.80" width="5.99" height="5.34" fill="#9c1b5b"/><rect x="208.65" y="405.80" width="5.99" height="5.34" fill="#b41658"/><rect x="214.04" y="405.80" width="5.99" height="5.34" fill="#db2946"/><rect x="219.43" y="405.80" width="5.99" height="5.34" fill="#9c1b5b"/><rect x="224.82" y="405.80" width="5.99" height="5.34" fill="#6d1f56"/><rect x="230.21" y="405.80" width="5.99" height="5.34" fill="#cb1b4f"/><rect x="235.60" y="405.80" width="5.99" height="5.34" fill="#faebdd"/><rect x="240.99" y="405.80" width="5.99" height="5.34" fill="#d2204c"/><rect x="246.38" y="405.80" width="5.99" height="5.34" fill="#ed503e"/><rect x="251.77" y="405.80" width="5.99" height="5.34" fill="#ed503e"/><rect x="257.16" y="405.80" width="5.99" height="5.34" fill="#b41658"/><rect x="262.55" y="405.80" width="5.99" height="5.34" fill="#901d5b"/><rect x="267.94" y="405.80" width="5.99" height="5.34" fill="#9c1b5b"/><rect x="20.00" y="410.55" width="5.99" height="5.34" fill="#cb1b4f"/><rect x="25.39" y="410.55" width="5.99" height="5.34" fill="#b41658"/><rect x="30.78" y="410.55" width="5.99" height="5.34" fill="#841e5a"/><rect x="36.17" y="410.55" width="5.99" height="5.34" fill="#6d1f56"/><rect x="41.56" y="410.55" width="5.99" height="5.34" fill="#841e5a"/><rect x="46.95" y="410.55" width="5.99" height="5.34" fill="#b41658"/><rect x="52.34" y="410.55" width="5.99" height="5.34" fill="#cb1b4f"/><rect x="57.73" y="410.55" width="5.99" height="5.34" fill="#9c1b5b"/><rect x="63.12" y="410.55" width="5.99" height="5.34" fill="#d2204c"/><rect x="68.51" y="410.55" width="5.99" height="5.34" fill="#cb1b4f"/><rect x="73.90" y="410.55" width="5.99" height="5.34" fill="#b41658"/><rect x="79.29" y="410.55" width="5.99" height="5.34" fill="#b41658"/><rect x="84.68" y="410.55" width="5.99" height="5.34" fill="#841e5a"/><rect x="90.07" y="410.55" width="5.99" height="5.34" fill="#6d1f56"/><rect x="95.46" y="410.55" width="5.99" height="5.34" fill="#841e5a"/><rect x="100.85" y="410.55" width="5.99" height="5.34" fill="#9c1b5b"/><rect x="106.24" y="410.55" width="5.99" height="5.34" fill="#cb1b4f"/><rect x="111.63" y="410.55" width="5.99" height="5.34" fill="#cb1b4f"/><rect x="117.02" y="410.55" width="5.99" height="5.34" fill="#cb1b4f"/><rect x="122.41" y="410.55" width="5.99" height="5.34" fill="#b41658"/><rect x="127.80" y="410.55" width="5.99" height="5.34" fill="#cb1b4f"/><rect x="133.19" y="410.55" width="5.99" height="5.34" fill="#841e5a"/><rect x="138.58" y="410.55" width="5.99" height="5.34" fill="#541e4e"/><rect x="143.97" y="410.55" width="5.99" height="5.34" fill="#841e5a"/><rect x="149.36" y="410.55" width="5.99" height="5.34" fill="#6d1f56"/><rect x="154.75" y="410.55" width="5.99" height="5.34" fill="#b41658"/><rect x="160.14" y="410.55" width="5.99" height="5.34" fill="#d2204c"/><rect x="165.53" y="410.55" width="5.99" height="5.34" fill="#541e4e"/><rect x="170.92" y="410.55" width="5.99" height="5.34" fill="#541e4e"/><rect x="176.31" y="410.55" width="5.99" height="5.34" fill="#6d1f56"/><rect x="181.70" y="410.55" width="5.99" height="5.34" fill="#b41658"/><rect x="187.09" y="410.55" width="5.99" height="5.34" fill="#b41658"/><rect x="192.48" y="410.55" width="5.99" height="5.34" fill="#cb1b4f"/><rect x="197.87" y="410.55" width="5.99" height="5.34" fill="#9c1b5b"/><rect x="203.26" y="410.55" width="5.99" height="5.34" fill="#9c1b5b"/><rect x="208.65" y="410.55" width="5.99" height="5.34" fill="#b41658"/><rect x="214.04" y="410.55" width="5.99" height="5.34" fill="#b41658"/><rect x="219.43" y="410.55" width="5.99" height="5.34" fill="#841e5a"/><rect x="224.82" y="410.55" width="5.99" height="5.34" fill="#841e5a"/><rect x="230.21" y="410.55" width="5.99" height="5.34" fill="#9c1b5b"/><rect x="235.60" y="410.55" width="5.99" height="5.34" fill="#d2204c"/><rect x="240.99" y="410.55" width="5.99" height="5.34" fill="#faebdd"/><rect x="246.38" y="410.55" width="5.99" height="5.34" fill="#f26b49"/><rect x="251.77" y="410.55" width="5.99" height="5.34" fill="#ed503e"/><rect x="257.16" y="410.55" width="5.99" height="5.34" fill="#b41658"/><rect x="262.55" y="410.55" width="5.99" height="5.34" fill="#9c1b5b"/><rect x="267.94" y="410.55" width="5.99" height="5.34" fill="#9c1b5b"/><rect x="20.00" y="415.29" width="5.99" height="5.34" fill="#cb1b4f"/><rect x="25.39" y="415.29" width="5.99" height="5.34" fill="#9c1b5b"/><rect x="30.78" y="415.29" width="5.99" height="5.34" fill="#2a1636"/><rect x="36.17" y="415.29" width="5.99" height="5.34" fill="#160e27"/><rect x="41.56" y="415.29" width="5.99" height="5.34" fill="#2a1636"/><rect x="46.95" y="415.29" width="5.99" height="5.34" fill="#841e5a"/><rect x="52.34" y="415.29" width="5.99" height="5.34" fill="#cb1b4f"/><rect x="57.73" y="415.29" width="5.99" height="5.34" fill="#b41658"/><rect x="63.12" y="415.29" width="5.99" height="5.34" fill="#9c1b5b"/><rect x="68.51" y="415.29" width="5.99" height="5.34" fill="#841e5a"/><rect x="73.90" y="415.29" width="5.99" height="5.34" fill="#841e5a"/><rect x="79.29" y="415.29" width="5.99" height="5.34" fill="#9c1b5b"/><rect x="84.68" y="415.29" width="5.99" height="5.34" fill="#6d1f56"/><rect x="90.07" y="415.29" width="5.99" height="5.34" fill="#2a1636"/><rect x="95.46" y="415.29" width="5.99" height="5.34" fill="#541e4e"/><rect x="100.85" y="415.29" width="5.99" height="5.34" fill="#841e5a"/><rect x="106.24" y="415.29" width="5.99" height="5.34" fill="#9c1b5b"/><rect x="111.63" y="415.29" width="5.99" height="5.34" fill="#b41658"/><rect x="117.02" y="415.29" width="5.99" height="5.34" fill="#cb1b4f"/><rect x="122.41" y="415.29" width="5.99" height="5.34" fill="#9c1b5b"/><rect x="127.80" y="415.29" width="5.99" height="5.34" fill="#6d1f56"/><rect x="133.19" y="415.29" width="5.99" height="5.34" fill="#841e5a"/><rect x="138.58" y="415.29" width="5.99" height="5.34" fill="#3f1b43"/><rect x="143.97" y="415.29" width="5.99" height="5.34" fill="#841e5a"/><rect x="149.36" y="415.29" width="5.99" height="5.34" fill="#6d1f56"/><rect x="154.75" y="415.29" width="5.99" height="5.34" fill="#b41658"/><rect x="160.14" y="415.29" width="5.99" height="5.34" fill="#d2204c"/><rect x="165.53" y="415.29" width="5.99" height="5.34" fill="#541e4e"/><rect x="170.92" y="415.29" width="5.99" height="5.34" fill="#2a1636"/><rect x="176.31" y="415.29" width="5.99" height="5.34" fill="#3f1b43"/><rect x="181.70" y="415.29" width="5.99" height="5.34" fill="#b41658"/><rect x="187.09" y="415.29" width="5.99" height="5.34" fill="#b41658"/><rect x="192.48" y="415.29" width="5.99" height="5.34" fill="#b41658"/><rect x="197.87" y="415.29" width="5.99" height="5.34" fill="#9c1b5b"/><rect x="203.26" y="415.29" width="5.99" height="5.34" fill="#9c1b5b"/><rect x="208.65" y="415.29" width="5.99" height="5.34" fill="#cb1b4f"/><rect x="214.04" y="415.29" width="5.99" height="5.34" fill="#b41658"/><rect x="219.43" y="415.29" width="5.99" height="5.34" fill="#541e4e"/><rect x="224.82" y="415.29" width="5.99" height="5.34" fill="#541e4e"/><rect x="230.21" y="415.29" width="5.99" height="5.34" fill="#ce1d4e"/><rect x="235.60" y="415.29" width="5.99" height="5.34" fill="#ed503e"/><rect x="240.99" y="415.29" width="5.99" height="5.34" fill="#f26b49"/><rect x="246.38" y="415.29" width="5.99" height="5.34" fill="#faebdd"/><rect x="251.77" y="415.29" width="5.99" height="5.34" fill="#ed503e"/><rect x="257.16" y="415.29" width="5.99" height="5.34" fill="#b41658"/><rect x="262.55" y="415.29" width="5.99" height="5.34" fill="#9c1b5b"/><rect x="267.94" y="415.29" width="5.99" height="5.34" fill="#9c1b5b"/><rect x="20.00" y="420.03" width="5.99" height="5.34" fill="#841e5a"/><rect x="25.39" y="420.03" width="5.99" height="5.34" fill="#841e5a"/><rect x="30.78" y="420.03" width="5.99" height="5.34" fill="#2a1636"/><rect x="36.17" y="420.03" width="5.99" height="5.34" fill="#160e27"/><rect x="41.56" y="420.03" width="5.99" height="5.34" fill="#3f1b43"/><rect x="46.95" y="420.03" width="5.99" height="5.34" fill="#b41658"/><rect x="52.34" y="420.03" width="5.99" height="5.34" fill="#b41658"/><rect x="57.73" y="420.03" width="5.99" height="5.34" fill="#cb1b4f"/><rect x="63.12" y="420.03" width="5.99" height="5.34" fill="#b41658"/><rect x="68.51" y="420.03" width="5.99" height="5.34" fill="#b41658"/><rect x="73.90" y="420.03" width="5.99" height="5.34" fill="#b41658"/><rect x="79.29" y="420.03" width="5.99" height="5.34" fill="#b41658"/><rect x="84.68" y="420.03" width="5.99" height="5.34" fill="#6d1f56"/><rect x="90.07" y="420.03" width="5.99" height="5.34" fill="#841e5a"/><rect x="95.46" y="420.03" width="5.99" height="5.34" fill="#841e5a"/><rect x="100.85" y="420.03" width="5.99" height="5.34" fill="#841e5a"/><rect x="106.24" y="420.03" width="5.99" height="5.34" fill="#9c1b5b"/><rect x="111.63" y="420.03" width="5.99" height="5.34" fill="#cb1b4f"/><rect x="117.02" y="420.03" width="5.99" height="5.34" fill="#ed503e"/><rect x="122.41" y="420.03" width="5.99" height="5.34" fill="#b41658"/><rect x="127.80" y="420.03" width="5.99" height="5.34" fill="#9c1b5b"/><rect x="133.19" y="420.03" width="5.99" height="5.34" fill="#9c1b5b"/><rect x="138.58" y="420.03" width="5.99" height="5.34" fill="#6d1f56"/><rect x="143.97" y="420.03" width="5.99" height="5.34" fill="#841e5a"/><rect x="149.36" y="420.03" width="5.99" height="5.34" fill="#6d1f56"/><rect x="154.75" y="420.03" width="5.99" height="5.34" fill="#b41658"/><rect x="160.14" y="420.03" width="5.99" height="5.34" fill="#d2204c"/><rect x="165.53" y="420.03" width="5.99" height="5.34" fill="#541e4e"/><rect x="170.92" y="420.03" width="5.99" height="5.34" fill="#541e4e"/><rect x="176.31" y="420.03" width="5.99" height="5.34" fill="#541e4e"/><rect x="181.70" y="420.03" width="5.99" height="5.34" fill="#b41658"/><rect x="187.09" y="420.03" width="5.99" height="5.34" fill="#b41658"/><rect x="192.48" y="420.03" width="5.99" height="5.34" fill="#cb1b4f"/><rect x="197.87" y="420.03" width="5.99" height="5.34" fill="#841e5a"/><rect x="203.26" y="420.03" width="5.99" height="5.34" fill="#841e5a"/><rect x="208.65" y="420.03" width="5.99" height="5.34" fill="#b41658"/><rect x="214.04" y="420.03" width="5.99" height="5.34" fill="#b41658"/><rect x="219.43" y="420.03" width="5.99" height="5.34" fill="#6d1f56"/><rect x="224.82" y="420.03" width="5.99" height="5.34" fill="#611f53"/><rect x="230.21" y="420.03" width="5.99" height="5.34" fill="#9c1b5b"/><rect x="235.60" y="420.03" width="5.99" height="5.34" fill="#ed503e"/><rect x="240.99" y="420.03" width="5.99" height="5.34" fill="#ed503e"/><rect x="246.38" y="420.03" width="5.99" height="5.34" fill="#ed503e"/><rect x="251.77" y="420.03" width="5.99" height="5.34" fill="#faebdd"/><rect x="257.16" y="420.03" width="5.99" height="5.34" fill="#d2204c"/><rect x="262.55" y="420.03" width="5.99" height="5.34" fill="#b41658"/><rect x="267.94" y="420.03" width="5.99" height="5.34" fill="#9c1b5b"/><rect x="20.00" y="424.78" width="5.99" height="5.34" fill="#9c1b5b"/><rect x="25.39" y="424.78" width="5.99" height="5.34" fill="#9c1b5b"/><rect x="30.78" y="424.78" width="5.99" height="5.34" fill="#6d1f56"/><rect x="36.17" y="424.78" width="5.99" height="5.34" fill="#841e5a"/><rect x="41.56" y="424.78" width="5.99" height="5.34" fill="#841e5a"/><rect x="46.95" y="424.78" width="5.99" height="5.34" fill="#d2204c"/><rect x="52.34" y="424.78" width="5.99" height="5.34" fill="#6d1f56"/><rect x="57.73" y="424.78" width="5.99" height="5.34" fill="#841e5a"/><rect x="63.12" y="424.78" width="5.99" height="5.34" fill="#9c1b5b"/><rect x="68.51" y="424.78" width="5.99" height="5.34" fill="#841e5a"/><rect x="73.90" y="424.78" width="5.99" height="5.34" fill="#9c1b5b"/><rect x="79.29" y="424.78" width="5.99" height="5.34" fill="#cb1b4f"/><rect x="84.68" y="424.78" width="5.99" height="5.34" fill="#841e5a"/><rect x="90.07" y="424.78" width="5.99" height="5.34" fill="#841e5a"/><rect x="95.46" y="424.78" width="5.99" height="5.34" fill="#6d1f56"/><rect x="100.85" y="424.78" width="5.99" height="5.34" fill="#d2204c"/><rect x="106.24" y="424.78" width="5.99" height="5.34" fill="#6d1f56"/><rect x="111.63" y="424.78" width="5.99" height="5.34" fill="#9c1b5b"/><rect x="117.02" y="424.78" width="5.99" height="5.34" fill="#9c1b5b"/><rect x="122.41" y="424.78" width="5.99" height="5.34" fill="#9c1b5b"/><rect x="127.80" y="424.78" width="5.99" height="5.34" fill="#9c1b5b"/><rect x="133.19" y="424.78" width="5.99" height="5.34" fill="#e23442"/><rect x="138.58" y="424.78" width="5.99" height="5.34" fill="#6d1f56"/><rect x="143.97" y="424.78" width="5.99" height="5.34" fill="#9c1b5b"/><rect x="149.36" y="424.78" width="5.99" height="5.34" fill="#9c1b5b"/><rect x="154.75" y="424.78" width="5.99" height="5.34" fill="#b41658"/><rect x="160.14" y="424.78" width="5.99" height="5.34" fill="#9c1b5b"/><rect x="165.53" y="424.78" width="5.99" height="5.34" fill="#9c1b5b"/><rect x="170.92" y="424.78" width="5.99" height="5.34" fill="#9c1b5b"/><rect x="176.31" y="424.78" width="5.99" height="5.34" fill="#cb1b4f"/><rect x="181.70" y="424.78" width="5.99" height="5.34" fill="#b41658"/><rect x="187.09" y="424.78" width="5.99" height="5.34" fill="#d2204c"/><rect x="192.48" y="424.78" width="5.99" height="5.34" fill="#d2204c"/><rect x="197.87" y="424.78" width="5.99" height="5.34" fill="#cb1b4f"/><rect x="203.26" y="424.78" width="5.99" height="5.34" fill="#cb1b4f"/><rect x="208.65" y="424.78" width="5.99" height="5.34" fill="#b41658"/><rect x="214.04" y="424.78" width="5.99" height="5.34" fill="#9c1b5b"/><rect x="219.43" y="424.78" width="5.99" height="5.34" fill="#901d5b"/><rect x="224.82" y="424.78" width="5.99" height="5.34" fill="#901d5b"/><rect x="230.21" y="424.78" width="5.99" height="5.34" fill="#a8185a"/><rect x="235.60" y="424.78" width="5.99" height="5.34" fill="#b41658"/><rect x="240.99" y="424.78" width="5.99" height="5.34" fill="#b41658"/><rect x="246.38" y="424.78" width="5.99" height="5.34" fill="#b41658"/><rect x="251.77" y="424.78" width="5.99" height="5.34" fill="#d2204c"/><rect x="257.16" y="424.78" width="5.99" height="5.34" fill="#faebdd"/><rect x="262.55" y="424.78" width="5.99" height="5.34" fill="#b41658"/><rect x="267.94" y="424.78" width="5.99" height="5.34" fill="#9c1b5b"/><rect x="20.00" y="429.52" width="5.99" height="5.34" fill="#541e4e"/><rect x="25.39" y="429.52" width="5.99" height="5.34" fill="#9c1b5b"/><rect x="30.78" y="429.52" width="5.99" height="5.34" fill="#841e5a"/><rect x="36.17" y="429.52" width="5.99" height="5.34" fill="#841e5a"/><rect x="41.56" y="429.52" width="5.99" height="5.34" fill="#541e4e"/><rect x="46.95" y="429.52" width="5.99" height="5.34" fill="#9c1b5b"/><rect x="52.34" y="429.52" width="5.99" height="5.34" fill="#841e5a"/><rect x="57.73" y="429.52" width="5.99" height="5.34" fill="#cb1b4f"/><rect x="63.12" y="429.52" width="5.99" height="5.34" fill="#cb1b4f"/><rect x="68.51" y="429.52" width="5.99" height="5.34" fill="#cb1b4f"/><rect x="73.90" y="429.52" width="5.99" height="5.34" fill="#9c1b5b"/><rect x="79.29" y="429.52" width="5.99" height="5.34" fill="#6d1f56"/><rect x="84.68" y="429.52" width="5.99" height="5.34" fill="#841e5a"/><rect x="90.07" y="429.52" width="5.99" height="5.34" fill="#841e5a"/><rect x="95.46" y="429.52" width="5.99" height="5.34" fill="#841e5a"/><rect x="100.85" y="429.52" width="5.99" height="5.34" fill="#9c1b5b"/><rect x="106.24" y="429.52" width="5.99" height="5.34" fill="#6d1f56"/><rect x="111.63" y="429.52" width="5.99" height="5.34" fill="#9c1b5b"/><rect x="117.02" y="429.52" width="5.99" height="5.34" fill="#6d1f56"/><rect x="122.41" y="429.52" width="5.99" height="5.34" fill="#9c1b5b"/><rect x="127.80" y="429.52" width="5.99" height="5.34" fill="#841e5a"/><rect x="133.19" y="429.52" width="5.99" height="5.34" fill="#cb1b4f"/><rect x="138.58" y="429.52" width="5.99" height="5.34" fill="#cb1b4f"/><rect x="143.97" y="429.52" width="5.99" height="5.34" fill="#841e5a"/><rect x="149.36" y="429.52" width="5.99" height="5.34" fill="#841e5a"/><rect x="154.75" y="429.52" width="5.99" height="5.34" fill="#b41658"/><rect x="160.14" y="429.52" width="5.99" height="5.34" fill="#cb1b4f"/><rect x="165.53" y="429.52" width="5.99" height="5.34" fill="#6d1f56"/><rect x="170.92" y="429.52" width="5.99" height="5.34" fill="#541e4e"/><rect x="176.31" y="429.52" width="5.99" height="5.34" fill="#541e4e"/><rect x="181.70" y="429.52" width="5.99" height="5.34" fill="#2a1636"/><rect x="187.09" y="429.52" width="5.99" height="5.34" fill="#6d1f56"/><rect x="192.48" y="429.52" width="5.99" height="5.34" fill="#3f1b43"/><rect x="197.87" y="429.52" width="5.99" height="5.34" fill="#3f1b43"/><rect x="203.26" y="429.52" width="5.99" height="5.34" fill="#841e5a"/><rect x="208.65" y="429.52" width="5.99" height="5.34" fill="#9c1b5b"/><rect x="214.04" y="429.52" width="5.99" height="5.34" fill="#541e4e"/><rect x="219.43" y="429.52" width="5.99" height="5.34" fill="#611f53"/><rect x="224.82" y="429.52" width="5.99" height="5.34" fill="#6d1f56"/><rect x="230.21" y="429.52" width="5.99" height="5.34" fill="#841e5a"/><rect x="235.60" y="429.52" width="5.99" height="5.34" fill="#901d5b"/><rect x="240.99" y="429.52" width="5.99" height="5.34" fill="#9c1b5b"/><rect x="246.38" y="429.52" width="5.99" height="5.34" fill="#9c1b5b"/><rect x="251.77" y="429.52" width="5.99" height="5.34" fill="#b41658"/><rect x="257.16" y="429.52" width="5.99" height="5.34" fill="#b41658"/><rect x="262.55" y="429.52" width="5.99" height="5.34" fill="#faebdd"/><rect x="267.94" y="429.52" width="5.99" height="5.34" fill="#bf1654"/><rect x="20.00" y="434.27" width="5.99" height="5.34" fill="#841e5a"/><rect x="25.39" y="434.27" width="5.99" height="5.34" fill="#841e5a"/><rect x="30.78" y="434.27" width="5.99" height="5.34" fill="#6d1f56"/><rect x="36.17" y="434.27" width="5.99" height="5.34" fill="#6d1f56"/><rect x="41.56" y="434.27" width="5.99" height="5.34" fill="#6d1f56"/><rect x="46.95" y="434.27" width="5.99" height="5.34" fill="#9c1b5b"/><rect x="52.34" y="434.27" width="5.99" height="5.34" fill="#6d1f56"/><rect x="57.73" y="434.27" width="5.99" height="5.34" fill="#841e5a"/><rect x="63.12" y="434.27" width="5.99" height="5.34" fill="#9c1b5b"/><rect x="68.51" y="434.27" width="5.99" height="5.34" fill="#9c1b5b"/><rect x="73.90" y="434.27" width="5.99" height="5.34" fill="#841e5a"/><rect x="79.29" y="434.27" width="5.99" height="5.34" fill="#9c1b5b"/><rect x="84.68" y="434.27" width="5.99" height="5.34" fill="#841e5a"/><rect x="90.07" y="434.27" width="5.99" height="5.34" fill="#841e5a"/><rect x="95.46" y="434.27" width="5.99" height="5.34" fill="#6d1f56"/><rect x="100.85" y="434.27" width="5.99" height="5.34" fill="#d2204c"/><rect x="106.24" y="434.27" width="5.99" height="5.34" fill="#6d1f56"/><rect x="111.63" y="434.27" width="5.99" height="5.34" fill="#841e5a"/><rect x="117.02" y="434.27" width="5.99" height="5.34" fill="#841e5a"/><rect x="122.41" y="434.27" width="5.99" height="5.34" fill="#e23442"/><rect x="127.80" y="434.27" width="5.99" height="5.34" fill="#841e5a"/><rect x="133.19" y="434.27" width="5.99" height="5.34" fill="#b41658"/><rect x="138.58" y="434.27" width="5.99" height="5.34" fill="#b41658"/><rect x="143.97" y="434.27" width="5.99" height="5.34" fill="#d2204c"/><rect x="149.36" y="434.27" width="5.99" height="5.34" fill="#b41658"/><rect x="154.75" y="434.27" width="5.99" height="5.34" fill="#b41658"/><rect x="160.14" y="434.27" width="5.99" height="5.34" fill="#9c1b5b"/><rect x="165.53" y="434.27" width="5.99" height="5.34" fill="#9c1b5b"/><rect x="170.92" y="434.27" width="5.99" height="5.34" fill="#841e5a"/><rect x="176.31" y="434.27" width="5.99" height="5.34" fill="#9c1b5b"/><rect x="181.70" y="434.27" width="5.99" height="5.34" fill="#9c1b5b"/><rect x="187.09" y="434.27" width="5.99" height="5.34" fill="#9c1b5b"/><rect x="192.48" y="434.27" width="5.99" height="5.34" fill="#841e5a"/><rect x="197.87" y="434.27" width="5.99" height="5.34" fill="#841e5a"/><rect x="203.26" y="434.27" width="5.99" height="5.34" fill="#d2204c"/><rect x="208.65" y="434.27" width="5.99" height="5.34" fill="#cb1b4f"/><rect x="214.04" y="434.27" width="5.99" height="5.34" fill="#9c1b5b"/><rect x="219.43" y="434.27" width="5.99" height="5.34" fill="#9c1b5b"/><rect x="224.82" y="434.27" width="5.99" height="5.34" fill="#9c1b5b"/><rect x="230.21" y="434.27" width="5.99" height="5.34" fill="#9c1b5b"/><rect x="235.60" y="434.27" width="5.99" height="5.34" fill="#9c1b5b"/><rect x="240.99" y="434.27" width="5.99" height="5.34" fill="#9c1b5b"/><rect x="246.38" y="434.27" width="5.99" height="5.34" fill="#9c1b5b"/><rect x="251.77" y="434.27" width="5.99" height="5.34" fill="#9c1b5b"/><rect x="257.16" y="434.27" width="5.99" height="5.34" fill="#9c1b5b"/><rect x="262.55" y="434.27" width="5.99" height="5.34" fill="#bf1654"/><rect x="267.94" y="434.27" width="5.99" height="5.34" fill="#faebdd"/></g>
<path d="M274.6 215.80H281.50V244.20H274.6M274.6 253.80H281.50V268.20H274.6M274.3 291.8H280.7V357.5H274.3M274.3 306.3H280.7M274.3 315.5H280.7M274.3 343.7H280.7M274.3 381.8H280.7V438.9H274.3M274.3 401.1H280.7" fill="none" stroke="#231f20" stroke-width="1.1"/>
<text x="284.30" y="226.20" font-size="9.4" font-style="italic" fill="#231f20">FLT3</text>
<text x="284.30" y="238.50" font-size="9.4" fill="#231f20">mut (0.45)</text>
<text x="284.30" y="263.00" font-size="9.4" fill="#231f20">Healthy (0.78)</text>
<text x="284.10" y="301.10" font-size="9.4" fill="#231f20">APL (0.49)</text>
<text x="284.10" y="313.70" font-size="9.4" font-style="italic" fill="#231f20">RUNX1-RUNX1T1</text>
<text x="359.40" y="323.30" font-size="9.4" text-anchor="end" fill="#231f20">(0.39)</text>
<text x="284.1" y="333.6" font-size="9.4"><tspan font-style="italic">IDH</tspan> mut (0.43)</text>
<text x="284.1" y="354.4" font-size="9.4"><tspan font-style="italic">CEBPA</tspan> mut (0.41)</text>
<text x="284.50" y="393.40" font-size="9.4" font-style="italic" fill="#231f20">CBFB-MYH11</text>
<text x="352.40" y="403.20" font-size="9.4" text-anchor="end" fill="#231f20">(0.45)</text>
<text x="284.50" y="416.70" font-size="9.4" fill="#231f20">Adverse risk,</text>
<text x="284.5" y="428.0" font-size="9.4"><tspan font-style="italic">TP53</tspan> mut (0.22)</text>
<defs><linearGradient id="cb" x1="0" y1="1" x2="0" y2="0"><stop offset="0.00" stop-color="#03051a"/><stop offset="0.05" stop-color="#130d25"/><stop offset="0.10" stop-color="#251433"/><stop offset="0.15" stop-color="#381a40"/><stop offset="0.20" stop-color="#4c1d4b"/><stop offset="0.25" stop-color="#611f53"/><stop offset="0.30" stop-color="#751f58"/><stop offset="0.35" stop-color="#8b1d5b"/><stop offset="0.40" stop-color="#a11a5b"/><stop offset="0.45" stop-color="#b71657"/><stop offset="0.50" stop-color="#cb1b4f"/><stop offset="0.55" stop-color="#db2946"/><stop offset="0.60" stop-color="#e83f3f"/><stop offset="0.65" stop-color="#ef5840"/><stop offset="0.70" stop-color="#f3714d"/><stop offset="0.75" stop-color="#f58860"/><stop offset="0.80" stop-color="#f69c73"/><stop offset="0.85" stop-color="#f6b18b"/><stop offset="0.90" stop-color="#f7c6a6"/><stop offset="0.95" stop-color="#f8d9c3"/><stop offset="1.00" stop-color="#faebdd"/></linearGradient></defs>
<rect x="336.6" y="207.8" width="13.2" height="35.9" fill="url(#cb)"/>
<path d="M349.8 207.9H355M349.8 231.5H355" stroke="#231f20" stroke-width="1.1"/>
<text x="357.00" y="211.60" font-size="10.2" fill="#231f20">1</text>
<text x="357.00" y="235.20" font-size="10.2" fill="#231f20">0</text>
<rect x="378.80" y="66.20" width="7.6" height="7.6" fill="#f8a01b"/>
<text x="391.00" y="73.60" font-size="10.6" fill="#231f20" textLength="97.70" lengthAdjust="spacingAndGlyphs">Healthy donor, Lin−</text>
<text x="378.50" y="88.80" font-size="11.3" font-weight="bold" fill="#231f20" textLength="67.70" lengthAdjust="spacingAndGlyphs">Cytogenetics</text>
<rect x="378.80" y="96.70" width="7.6" height="7.6" fill="#b31f24"/>
<text x="391.00" y="104.10" font-size="10.6" fill="#231f20" textLength="103.70" lengthAdjust="spacingAndGlyphs">Adverse abnormality</text>
<rect x="378.80" y="110.45" width="7.6" height="7.6" fill="#a1d49b"/>
<text x="391.00" y="117.85" font-size="10.6" font-style="italic" fill="#231f20" textLength="51.70" lengthAdjust="spacingAndGlyphs">BCR-ABL1</text>
<rect x="378.80" y="124.20" width="7.6" height="7.6" fill="#1d6b35"/>
<text x="391.00" y="131.60" font-size="10.6" font-style="italic" fill="#231f20" textLength="68.30" lengthAdjust="spacingAndGlyphs">CBFB-MYH11</text>
<rect x="378.80" y="137.95" width="7.6" height="7.6" fill="#050505"/>
<text x="391.00" y="145.35" font-size="10.6" fill="#231f20" textLength="44.60" lengthAdjust="spacingAndGlyphs">Complex</text>
<rect x="378.80" y="151.70" width="7.6" height="7.6" fill="#ffd400"/>
<text x="391.00" y="159.10" font-size="10.6" textLength="87.7" lengthAdjust="spacingAndGlyphs"><tspan font-style="italic">MLL</tspan> translocation</text>
<rect x="378.80" y="165.45" width="7.6" height="7.6" fill="#7b2188"/>
<text x="391.00" y="172.85" font-size="10.6" textLength="102.1" lengthAdjust="spacingAndGlyphs"><tspan font-style="italic">NUP98</tspan> translocation</text>
<rect x="378.80" y="179.20" width="7.6" height="7.6" fill="#c8c9cb"/>
<text x="391.00" y="186.60" font-size="10.6" fill="#231f20" textLength="88.60" lengthAdjust="spacingAndGlyphs">Normal karyotype</text>
<rect x="378.80" y="192.95" width="7.6" height="7.6" fill="#f6b8ca"/>
<text x="391.00" y="200.35" font-size="10.6" textLength="83.7" lengthAdjust="spacingAndGlyphs"><tspan font-style="italic">PML-RARA</tspan> (APL)</text>
<rect x="378.80" y="206.70" width="7.6" height="7.6" fill="#3bb4e8"/>
<text x="391.00" y="214.10" font-size="10.6" font-style="italic" fill="#231f20" textLength="88.30" lengthAdjust="spacingAndGlyphs">RUNX1-RUNX1T1</text>
<text x="378.10" y="230.40" font-size="11.3" font-weight="bold" fill="#231f20" textLength="55.40" lengthAdjust="spacingAndGlyphs">FAB group</text>
<text x="461.30" y="230.40" font-size="11.3" font-weight="bold" fill="#231f20" textLength="20.60" lengthAdjust="spacingAndGlyphs">Age</text>
<rect x="378.80" y="236.40" width="7.6" height="7.6" fill="#b31f24"/>
<text x="391.00" y="243.80" font-size="10.6" fill="#231f20">M0</text>
<rect x="460.60" y="236.40" width="7.6" height="7.6" fill="#edf7e9"/>
<text x="472.80" y="243.80" font-size="10.6" fill="#231f20">&lt;40</text>
<rect x="378.80" y="249.70" width="7.6" height="7.6" fill="#3bb4e8"/>
<text x="391.00" y="257.10" font-size="10.6" fill="#231f20">M1</text>
<rect x="460.60" y="249.70" width="7.6" height="7.6" fill="#c8e7c1"/>
<text x="472.80" y="257.10" font-size="10.6" fill="#231f20">40–49</text>
<rect x="378.80" y="263.00" width="7.6" height="7.6" fill="#1d6b35"/>
<text x="391.00" y="270.40" font-size="10.6" fill="#231f20">M2</text>
<rect x="460.60" y="263.00" width="7.6" height="7.6" fill="#a2d69c"/>
<text x="472.80" y="270.40" font-size="10.6" fill="#231f20">50–59</text>
<rect x="378.80" y="276.30" width="7.6" height="7.6" fill="#f6b8ca"/>
<text x="391.00" y="283.70" font-size="10.6" fill="#231f20">M3</text>
<rect x="460.60" y="276.30" width="7.6" height="7.6" fill="#74c477"/>
<text x="472.80" y="283.70" font-size="10.6" fill="#231f20">60–69</text>
<rect x="378.80" y="289.60" width="7.6" height="7.6" fill="#c8c9cb"/>
<text x="391.00" y="297.00" font-size="10.6" fill="#231f20">M4</text>
<rect x="460.60" y="289.60" width="7.6" height="7.6" fill="#33a355"/>
<text x="472.80" y="297.00" font-size="10.6" fill="#231f20">70–79</text>
<rect x="378.80" y="302.90" width="7.6" height="7.6" fill="#7b2188"/>
<text x="391.00" y="310.30" font-size="10.6" fill="#231f20">M5</text>
<rect x="460.60" y="302.90" width="7.6" height="7.6" fill="#0c6a2f"/>
<text x="472.80" y="310.30" font-size="10.6" fill="#231f20">80+</text>
<text x="429.10" y="325.00" font-size="11.3" font-weight="bold" fill="#231f20" textLength="18.20" lengthAdjust="spacingAndGlyphs">Sex</text>
<rect x="378.80" y="330.30" width="7.6" height="7.6" fill="#c8c9cb"/>
<text x="391.00" y="337.70" font-size="10.6" fill="#231f20" textLength="35.40" lengthAdjust="spacingAndGlyphs">Female</text>
<rect x="460.60" y="330.30" width="7.6" height="7.6" fill="#ffd400"/>
<text x="472.80" y="337.70" font-size="10.6" fill="#231f20" textLength="23.90" lengthAdjust="spacingAndGlyphs">Male</text>
<text x="378.10" y="355.60" font-size="11.3" font-weight="bold" fill="#231f20" textLength="68.30" lengthAdjust="spacingAndGlyphs">ELN2017 risk</text>
<text x="461.10" y="355.60" font-size="11.3" font-weight="bold" font-style="italic" fill="#231f20" textLength="47.30" lengthAdjust="spacingAndGlyphs">DNMT3A</text>
<rect x="378.80" y="361.10" width="7.6" height="7.6" fill="#1d6b35"/>
<text x="391.00" y="368.50" font-size="10.6" fill="#231f20" textLength="48.40" lengthAdjust="spacingAndGlyphs">Favorable</text>
<rect x="378.80" y="374.70" width="7.6" height="7.6" fill="#c8c9cb"/>
<text x="391.00" y="382.10" font-size="10.6" fill="#231f20" textLength="63.40" lengthAdjust="spacingAndGlyphs">Intermediate</text>
<rect x="378.80" y="388.50" width="7.6" height="7.6" fill="#b31f24"/>
<text x="391.00" y="395.90" font-size="10.6" fill="#231f20" textLength="40.40" lengthAdjust="spacingAndGlyphs">Adverse</text>
<rect x="460.60" y="361.10" width="7.6" height="7.6" fill="#8ac08a"/>
<text x="472.80" y="368.50" font-size="10.6" fill="#231f20" textLength="24.50" lengthAdjust="spacingAndGlyphs">R882</text>
<rect x="460.60" y="374.70" width="7.6" height="7.6" fill="#1d6b35"/>
<text x="472.80" y="382.10" font-size="10.6" fill="#231f20" textLength="29.10" lengthAdjust="spacingAndGlyphs">Other</text>
<text x="427.10" y="412.20" font-size="11.3" font-weight="bold" font-style="italic" fill="#231f20" textLength="24.60" lengthAdjust="spacingAndGlyphs">FLT3</text>
<rect x="378.80" y="416.90" width="7.6" height="7.6" fill="#b31f24"/>
<text x="391.00" y="424.30" font-size="10.6" fill="#231f20" textLength="42.10" lengthAdjust="spacingAndGlyphs">ITD high</text>
<rect x="378.80" y="431.50" width="7.6" height="7.6" fill="#f6b8ca"/>
<text x="391.00" y="438.90" font-size="10.6" fill="#231f20" textLength="37.50" lengthAdjust="spacingAndGlyphs">ITD low</text>
<rect x="460.60" y="416.90" width="7.6" height="7.6" fill="#3bb4e8"/>
<text x="472.80" y="424.30" font-size="10.6" fill="#231f20" textLength="26.80" lengthAdjust="spacingAndGlyphs">D835</text>
<rect x="460.60" y="431.50" width="7.6" height="7.6" fill="#242a7c"/>
<text x="472.80" y="438.90" font-size="10.6" fill="#231f20" textLength="26.80" lengthAdjust="spacingAndGlyphs">D839</text>
<text x="10.20" y="22.90" font-size="18" font-weight="bold" fill="#000">A</text>
<text x="10.20" y="486.90" font-size="18" font-weight="bold" fill="#000">B</text>
<path transform="scale(0.1)" d="M1970 5111h0m277 37h0m324 0h0m49 4h0m34-13h0m12-20h0m264 3h0m-1546 86h0m526-18h0m483-6h0m149-3h0m40-7h0m43 13h0m452-15h0m-1767 59h0m67 9h0m411-8h0m302 42h0m238-48h0m78-2h0m92 13h0m290 33h0m772 2h0m-1816 11h0m384 22h0m30-12h0m82-2h0m50 30h0m2-23h0m35 3h0m45 34h0m18-24h0m69-2h0m4-2h0m33 27h0m34-22h0m69 7h0m3-38h0m54 15h0m1 38h0m36-46h0m88 1h0m4 46h0m88-34h0m26 9h0m22-19h0m357 22h0m41-13h0m-2581 82h0m927-41h0m251 44h0m76 2h0m10-11h0m12-19h0m3 17h0m15-33h0m9 8h0m7 14h0m3-14h0m7-8h0m18 2h0m7 38h0m9-14h0m30 12h0m5-12h0m55-26h0m139 0h0m19 51h0m12-29h0m19 18h0m14 6h0m11-1h0m32 13h0m28-39h0m11 33h0m18-19h0m13 16h0m17 7h0m22-8h0m21-23h0m12 14h0m44-31h0m9 37h0m4-2h0m10 15h0m4-17h0m14-30h0m17 44h0m32-41h0m31-4h0m7 35h0m10 4h0m29-15h0m30 15h0m45-44h0m31 35h0m42-2h0m22 9h0m195-4h0m125 3h0m-2572 69h0m18-23h0m196 27h0m774-3h0m46-2h0m38-52h0m155 32h0m11 25h0m18-27h0m24 11h0m54-13h0m32-1h0m4 12h0m4-3h0m1-17h0m22 37h0m35-24h0m5 20h0m2-17h0m18 17h0m2-50h0m20 34h0m18 15h0m61-1h0m35-16h0m29-29h0m17 23h0m22-27h0m27 37h0m15 4h0m34-24h0m34-14h0m42-6h0m2 4h0m15 54h0m3-20h0m20-9h0m19 30h0m43-37h0m22-7h0m1 31h0m12 5h0m48-5h0m8-24h0m7-16h0m12 16h0m28 8h0m20 9h0m19 16h0m62 1h0m22-1h0m10-44h0m11 15h0m6 26h0m13-52h0m15 46h0m141 10h0m85-54h0m3 44h0m29 13h0m74-55h0m133-2h0m-2586 107h0m23-1h0m134-39h0m144-2h0m53 45h0m55-37h0m405 40h0m23-16h0m28-9h0m61-17h0m17-3h0m3 9h0m51 17h0m100 8h0m16-30h0m5 3h0m6 18h0m6 7h0m27-17h0m27-8h0m4 14h0m1-14h0m23 39h0m2-15h0m31-33h0m20 11h0m1-12h0m22 27h0m38 2h0m7-28h0m1 16h0m1 11h0m0 7h0m6 16h0m11-46h0m12 44h0m15-45h0m6-6h0m5 32h0m15-17h0m8-1h0m3 13h0m13-20h0m10 46h0m5-21h0m9-14h0m6 3h0m8 22h0m12-34h0m5 31h0m4-24h0m20 25h0m12 10h0m11-23h0m17-26h0m2 47h0m4-15h0m9 13h0m9-35h0m2-6h0m3-6h0m1 48h0m4-46h0m5 44h0m3-41h0m18 40h0m5-7h0m5-37h0m2 35h0m28-6h0m10-14h0m13 19h0m20 4h0m3-4h0m48-25h0m14 29h0m7-36h0m10 0h0m10 39h0m21-27h0m29 12h0m1 7h0m13-28h0m20 45h0m30-7h0m0-13h0m11-6h0m48-18h0m9 42h0m0-33h0m15-14h0m11-8h0m12 33h0m8 4h0m12-16h0m19-17h0m6 47h0m25-15h0m5 21h0m66-32h0m1 34h0m37-17h0m19-29h0m14 14h0m46-17h0m3 34h0m107-6h0m24-16h0m97 3h0m115 0h0m156 22h0m-2657 51h0m626-12h0m50 33h0m64-23h0m32 1h0m20 19h0m23-16h0m7-3h0m24-8h0m13 27h0m10-8h0m4-2h0m5-14h0m99-19h0m4-2h0m14 45h0m3-31h0m9 16h0m0 0h0m3-15h0m19-15h0m3 11h0m0 27h0m2-19h0m24 4h0m1-14h0m9 13h0m1 3h0m4-33h0m4 55h0m4-57h0m13 21h0m15 16h0m3-20h0m8 7h0m5 24h0m5-16h0m7 9h0m16 17h0m11-10h0m21 2h0m13 0h0m16-19h0m19 17h0m5 6h0m5-26h0m5-23h0m14 46h0m5-42h0m4 46h0m9-39h0m5 2h0m4-16h0m8 49h0m8-5h0m1 7h0m9-10h0m2-14h0m7 12h0m4-40h0m1 32h0m8-22h0m4 16h0m20-19h0m2 15h0m2-17h0m1 43h0m1-11h0m2 7h0m18-15h0m17-4h0m6-3h0m1 16h0m0 3h0m9-28h0m10 7h0m3 12h0m7-11h0m3-17h0m1 19h0m6-25h0m5 3h0m7 12h0m9 40h0m7-12h0m7-10h0m1 27h0m3-19h0m2-34h0m5 0h0m0 14h0m6-4h0m3 31h0m14 0h0m10-17h0m5-9h0m5-6h0m43 7h0m2-20h0m5 30h0m31 18h0m1-51h0m2 55h0m5-17h0m24-37h0m8 43h0m5-7h0m19 13h0m4-9h0m34-40h0m3 9h0m23 7h0m26 17h0m13-17h0m8 42h0m22-45h0m3 25h0m21-16h0m13 34h0m17-55h0m7 50h0m33-7h0m43-23h0m3 0h0m13-4h0m71 36h0m21-48h0m50 1h0m2 5h0m181 3h0m76-14h0m73 31h0m-2661 38h0m1-9h0m1 52h0m166-22h0m113-17h0m84-6h0m186 24h0m5-4h0m37-24h0m53-3h0m97 46h0m50-5h0m27 6h0m54-12h0m22 16h0m7-22h0m20 6h0m28-22h0m5-9h0m6 20h0m8-19h0m39 35h0m40-35h0m2 26h0m22-5h0m4 21h0m12 12h0m3-19h0m2 3h0m3-27h0m25-17h0m49 52h0m2-42h0m5 28h0m2 21h0m0 0h0m6-57h0m1 35h0m8-2h0m1-30h0m5 28h0m17 24h0m5-1h0m11-40h0m3 6h0m5 17h0m3 1h0m2-11h0m4 10h0m3-4h0m17-6h0m8 14h0m3-9h0m20-10h0m16 2h0m1 11h0m12 15h0m5-49h0m1 7h0m6 28h0m3-2h0m27 22h0m4-2h0m6-26h0m3 1h0m2-15h0m0 35h0m1-39h0m5-8h0m3 8h0m4 31h0m2-16h0m17 12h0m16-13h0m3-21h0m3 33h0m7-17h0m2 23h0m2-28h0m7 32h0m2 9h0m1-29h0m6 26h0m9-28h0m0-10h0m3 18h0m4 5h0m4-33h0m1 15h0m0 34h0m6-12h0m2-34h0m1 10h0m1 38h0m4 0h0m1-7h0m1-46h0m1 16h0m0-17h0m6 28h0m4 2h0m4 3h0m2 20h0m0-13h0m4-24h0m20 39h0m1 0h0m8-29h0m4 23h0m1 6h0m10-3h0m7-37h0m2 32h0m4-16h0m2-15h0m4 11h0m7-5h0m11-15h0m2 25h0m2-21h0m0 18h0m12 3h0m19 11h0m3-1h0m8-16h0m14-10h0m2-10h0m8-3h0m2 4h0m12 22h0m3-12h0m2 21h0m5-33h0m5 36h0m2-20h0m11-19h0m10 30h0m0 25h0m7-18h0m7-15h0m6-25h0m7 51h0m0 7h0m2-46h0m2 35h0m6-43h0m9 35h0m0 9h0m4-4h0m4-20h0m14-17h0m2 22h0m8-29h0m2 35h0m4-13h0m4 19h0m6 16h0m2-36h0m4 12h0m23 9h0m9-38h0m7 51h0m1 2h0m6-18h0m1-39h0m10 10h0m2 12h0m9-4h0m0 25h0m1-33h0m6 30h0m8-41h0m1 13h0m2 1h0m7 30h0m2-31h0m2 30h0m30 9h0m8 4h0m19-19h0m16-6h0m3-7h0m5 8h0m2 10h0m5 8h0m2 7h0m1-48h0m3 15h0m11 28h0m8-7h0m1-16h0m17 18h0m2-32h0m54 39h0m6-30h0m11-16h0m69 24h0m1 2h0m24-24h0m12-2h0m66 1h0m51 34h0m33 0h0m8-18h0m9 29h0m181-3h0m20 4h0m-2604 45h0m2-32h0m1 47h0m31-45h0m8 38h0m177-3h0m28 3h0m26-37h0m9 8h0m56 39h0m39-5h0m119-6h0m94-18h0m62-22h0m67-1h0m33 43h0m47 0h0m79-27h0m43 28h0m21-1h0m30 4h0m23-49h0m15 35h0m8-28h0m2 34h0m0-5h0m2 7h0m4-5h0m32 1h0m5-29h0m6-11h0m13 25h0m8-28h0m1 11h0m7 13h0m7-14h0m3 9h0m10 38h0m8-18h0m6-28h0m0 16h0m5 30h0m3-2h0m2-46h0m3 32h0m3-14h0m14-18h0m5 14h0m7-21h0m22 10h0m10 25h0m6-23h0m1 5h0m4 9h0m5 25h0m8-10h0m1 0h0m9 0h0m3-20h0m5 6h0m7 9h0m4 1h0m1-31h0m7 40h0m0 3h0m8-50h0m10 50h0m1-30h0m1 0h0m7-3h0m7 21h0m2 15h0m5-45h0m3 49h0m3-48h0m2 11h0m9-20h0m1 24h0m10 24h0m2-49h0m7 17h0m1 40h0m3-2h0m1-15h0m0-39h0m1 43h0m1-32h0m2 44h0m0-10h0m5-4h0m6-1h0m6-31h0m2 7h0m0-5h0m1 46h0m4-43h0m4-8h0m14 9h0m1-16h0m3 45h0m0 4h0m1-36h0m1 5h0m3 26h0m3 10h0m0-8h0m1-40h0m9 30h0m14 19h0m3-15h0m1-2h0m4-28h0m3 10h0m2 26h0m1-23h0m2 33h0m5-56h0m5 6h0m5 11h0m0 19h0m2-24h0m6 42h0m0-12h0m3 12h0m4-45h0m8 13h0m2 17h0m1-35h0m2 54h0m8-3h0m3-44h0m11 13h0m2-12h0m0 26h0m6 2h0m9-27h0m2 44h0m2-34h0m1 36h0m9-26h0m1-27h0m7 36h0m5-37h0m3 32h0m4 2h0m1-16h0m1 3h0m1 29h0m2 2h0m4-21h0m4 21h0m0-43h0m1-11h0m7 15h0m0 16h0m2 4h0m4 15h0m9-52h0m0 17h0m2 31h0m7-39h0m4-4h0m2-3h0m0 19h0m2 12h0m5 15h0m1-27h0m1 23h0m1-2h0m3-33h0m1 14h0m1 12h0m1-28h0m4 25h0m3-23h0m5 13h0m7-11h0m0 42h0m1-20h0m1-8h0m3-24h0m1 4h0m3 1h0m0 37h0m1-1h0m0 7h0m3-17h0m3 9h0m2-33h0m3 26h0m2 16h0m3-32h0m4 9h0m5 4h0m1 17h0m0-33h0m1-9h0m1 39h0m11-40h0m12 26h0m2 4h0m0-26h0m1 36h0m7-18h0m1-7h0m1 11h0m9 12h0m7-8h0m0 6h0m2-18h0m1 7h0m22-8h0m1 27h0m4-44h0m3 33h0m4-31h0m2-1h0m12 6h0m8-2h0m0 20h0m6-4h0m12 11h0m4 4h0m6-15h0m7 14h0m10-31h0m4 34h0m1-41h0m8 29h0m8-13h0m9 23h0m10-5h0m6-27h0m3-6h0m12 53h0m1-51h0m2 49h0m2 1h0m10-33h0m10 30h0m13 5h0m0-53h0m20 40h0m3 6h0m3 3h0m1-52h0m1 11h0m22 38h0m5-18h0m2 13h0m4 12h0m1-51h0m27 20h0m5 29h0m1-4h0m19-25h0m13-14h0m31-12h0m6 49h0m0-3h0m25-23h0m13-11h0m16-6h0m26 1h0m0 44h0m12-36h0m6 28h0m5 7h0m48-16h0m4 16h0m37-16h0m18-10h0m11 15h0m100-27h0m75-13h0m24 11h0m54 30h0m71-38h0m181 12h0m-2833 63h0m1 28h0m2-24h0m1-20h0m42-2h0m25 18h0m31 38h0m5-30h0m123-20h0m144 19h0m74 1h0m51-7h0m45 15h0m18 3h0m64-24h0m7 29h0m8 4h0m54-13h0m30 7h0m44-27h0m5 10h0m44 35h0m6-39h0m30 40h0m54-58h0m0 8h0m2 9h0m15 22h0m28-20h0m19 23h0m20 0h0m32 6h0m15-47h0m31-1h0m5 37h0m5-3h0m3-14h0m12-22h0m11 37h0m1 3h0m4-27h0m2 32h0m11-9h0m10-32h0m2 22h0m7-6h0m13 18h0m0-31h0m0 9h0m10 30h0m6-30h0m6 11h0m7 32h0m0-49h0m6-4h0m5 10h0m4 42h0m1-45h0m2-4h0m2 37h0m4-26h0m4 13h0m8 6h0m5-5h0m3-21h0m9 8h0m5-16h0m1 2h0m6 53h0m5-54h0m0 34h0m0 2h0m2-7h0m3-14h0m0-14h0m0 29h0m1-12h0m1 36h0m3-25h0m1-18h0m2 1h0m3 12h0m2 20h0m2 10h0m2-20h0m4 7h0m5 0h0m2-5h0m10 5h0m2-6h0m1-32h0m0 12h0m3 36h0m1-40h0m1 40h0m0-29h0m11 23h0m4-42h0m1 35h0m0-28h0m4 41h0m3 0h0m4-16h0m4 9h0m2 2h0m0 3h0m2-51h0m3 23h0m2 13h0m1-14h0m1 7h0m0-21h0m4 7h0m5 40h0m4-32h0m0 18h0m1-13h0m2 20h0m3-21h0m1 17h0m0-5h0m1-37h0m7 43h0m1 5h0m1-11h0m0-37h0m1 35h0m2-8h0m4 27h0m1-12h0m7-10h0m2-8h0m2-8h0m1 29h0m0-15h0m0-19h0m2 33h0m0-45h0m5 1h0m1 21h0m8 29h0m0-33h0m3 36h0m4-38h0m1 36h0m3-50h0m1 48h0m2-29h0m13-22h0m4 46h0m3-18h0m0 26h0m3-12h0m0-4h0m6-9h0m6-13h0m3-20h0m0 43h0m1-26h0m0 11h0m1-1h0m4 15h0m2-38h0m2 22h0m0-24h0m6 4h0m0 43h0m4-44h0m4 50h0m3-33h0m8-13h0m0-1h0m1 5h0m1-10h0m1 2h0m0 49h0m2-54h0m2 16h0m1 37h0m1-50h0m1 31h0m1 12h0m1 11h0m2-16h0m1-25h0m1 31h0m1-21h0m1-25h0m1 52h0m3-8h0m2-41h0m1 0h0m2 48h0m9-29h0m1-7h0m1 33h0m4-1h0m2-15h0m1 2h0m2-1h0m5 13h0m8-15h0m2-1h0m0 23h0m1-2h0m5-48h0m0 47h0m0-14h0m7 12h0m2-11h0m4 9h0m1-36h0m1 2h0m2 36h0m1-47h0m5 7h0m1 0h0m1 42h0m1-18h0m0 0h0m1-10h0m1 18h0m0-16h0m0 28h0m0-32h0m9-10h0m0 15h0m0 15h0m1-5h0m4 21h0m4-10h0m0-43h0m1 47h0m1-23h0m3-13h0m0 26h0m2 10h0m4 0h0m2-8h0m1-40h0m5 42h0m1-19h0m0 13h0m1-21h0m2 4h0m0-16h0m1-4h0m5 18h0m3-12h0m2 15h0m4 4h0m2-13h0m0 31h0m8 12h0m1-14h0m0 15h0m3-9h0m1-20h0m0-23h0m0 28h0m4-12h0m0-22h0m1 5h0m5 16h0m7 15h0m2-29h0m0-5h0m8 15h0m2-2h0m3-13h0m3 33h0m1 23h0m0-34h0m2 1h0m0 9h0m5 3h0m0 4h0m1-29h0m2 21h0m7-31h0m1 18h0m3 30h0m4-34h0m4-10h0m2 43h0m2-19h0m3 25h0m2-2h0m2 1h0m4-25h0m0 0h0m1-19h0m2 45h0m2-51h0m0 20h0m1 28h0m2 1h0m0-48h0m3 52h0m0-22h0m2-21h0m0-12h0m2 57h0m3-52h0m3 2h0m4 15h0m1 10h0m2 8h0m2 13h0m4-12h0m2 8h0m10-18h0m2 15h0m1-39h0m10-6h0m1 39h0m3-25h0m3 38h0m7 4h0m2-17h0m3-13h0m1 19h0m7 12h0m2-9h0m4-28h0m1 24h0m3 2h0m1-29h0m7 9h0m2 4h0m2 14h0m1-7h0m0 0h0m2 18h0m8 0h0m1-35h0m6 2h0m12 25h0m11-19h0m11 15h0m21 10h0m4-2h0m2 0h0m0-47h0m18 51h0m6-4h0m7-8h0m5-32h0m1-10h0m4 3h0m9 6h0m1 44h0m10-50h0m5 16h0m2-21h0m18 46h0m3-45h0m0 2h0m0 41h0m42-15h0m3-26h0m15 1h0m8 28h0m4-24h0m40 11h0m8-13h0m15 0h0m15-7h0m8 14h0m17 33h0m2-12h0m18-25h0m7 29h0m7-5h0m6-6h0m0-21h0m15 10h0m49-10h0m41 5h0m95 31h0m139 3h0m139-44h0m27 39h0m151-12h0m-2891 35h0m1 47h0m46-22h0m40 20h0m84-26h0m5 36h0m26-57h0m36 46h0m3-11h0m15 18h0m28-3h0m22-5h0m5-11h0m40-20h0m70 40h0m26-21h0m18 11h0m69-35h0m17 19h0m18-28h0m35 53h0m26-50h0m19 29h0m25 17h0m0-31h0m47 16h0m74 3h0m53 10h0m25-21h0m5 22h0m20-6h0m9-44h0m6 48h0m16-21h0m15-24h0m12 8h0m9 37h0m6-42h0m1 50h0m8 0h0m3-13h0m5 16h0m8-46h0m2 40h0m7-12h0m1-9h0m1-9h0m4 35h0m0-45h0m2-5h0m2-8h0m8 42h0m3-20h0m1-4h0m7-2h0m3 27h0m2-36h0m1 49h0m8-34h0m1 18h0m5 17h0m14-43h0m5 45h0m7-2h0m0-55h0m3 54h0m4-43h0m3 41h0m1-11h0m14-24h0m1-14h0m3 19h0m4-14h0m8 46h0m0-40h0m1 2h0m2 39h0m1-26h0m0-28h0m1 21h0m2 28h0m1-2h0m1-44h0m1 51h0m1-33h0m4-11h0m0-13h0m4 27h0m0-2h0m4-8h0m1 12h0m2 16h0m7 1h0m5-6h0m1-41h0m2 54h0m3-14h0m2-24h0m2 0h0m3 32h0m2-6h0m4 8h0m1-27h0m3-12h0m1 45h0m1-55h0m3 10h0m2 8h0m1-5h0m0 27h0m9-20h0m1 31h0m3-48h0m0 36h0m3 1h0m3-28h0m2 45h0m3-44h0m1 31h0m7-5h0m8-32h0m4 27h0m5 14h0m1-40h0m2 49h0m1-13h0m1-15h0m2 10h0m2-10h0m2-1h0m3-3h0m2-25h0m3 50h0m2-29h0m2 13h0m4-9h0m2 23h0m1 7h0m2-47h0m2 34h0m2-19h0m2-3h0m4-19h0m2 49h0m1-48h0m0 33h0m1-18h0m3 16h0m1-20h0m3 5h0m0 26h0m1 11h0m1-42h0m1 16h0m0 3h0m2-27h0m1 10h0m2 8h0m0-12h0m2-9h0m1 30h0m3 9h0m1-21h0m1 19h0m2 13h0m1-39h0m0-5h0m3 16h0m9 1h0m2 32h0m0-26h0m1-12h0m6-18h0m1 39h0m1 0h0m2-38h0m0 3h0m4 36h0m0-2h0m2-33h0m1 44h0m0-10h0m2-37h0m1 4h0m5 36h0m1-3h0m7 6h0m0-12h0m0-25h0m1-3h0m1 48h0m7-18h0m1 16h0m1-9h0m5-5h0m3-32h0m1 44h0m1-35h0m0 39h0m1-17h0m0 7h0m1 3h0m1-5h0m1-39h0m2 49h0m1 3h0m5 1h0m1-25h0m1-1h0m2-25h0m0 15h0m1-18h0m1 52h0m2-33h0m3 9h0m3 9h0m0 5h0m2 11h0m0-4h0m4-52h0m1 41h0m0-24h0m2 30h0m2 8h0m0-10h0m0-8h0m1-27h0m0 29h0m2-38h0m2 43h0m1-3h0m2-13h0m5 10h0m3-7h0m1-30h0m0 32h0m4 4h0m2-30h0m3-1h0m9 34h0m3-24h0m2 36h0m0 7h0m1-49h0m1 14h0m0 16h0m1 8h0m3-26h0m1-17h0m0 18h0m1 29h0m0-36h0m2 15h0m2 12h0m2-34h0m0 17h0m4 31h0m2-18h0m4-20h0m3 13h0m1-14h0m1-3h0m3 25h0m5-19h0m3 21h0m3-31h0m4 10h0m0 34h0m2-30h0m3 1h0m1 8h0m0 6h0m1-28h0m0 1h0m0 28h0m1-22h0m2 8h0m2-11h0m4 35h0m1-45h0m4 29h0m0 15h0m1 4h0m1-7h0m1 2h0m2-27h0m0 11h0m2 23h0m1-26h0m4 8h0m2 3h0m0-20h0m2-19h0m3 2h0m3 4h0m2 5h0m1-2h0m1 34h0m0-21h0m0-18h0m1 15h0m0 7h0m4 28h0m0 1h0m1-33h0m1 9h0m3 24h0m1-29h0m1-13h0m1 18h0m1-8h0m3 18h0m1-31h0m2 25h0m1-5h0m1 7h0m4-31h0m1 43h0m1-31h0m1 10h0m2-28h0m2 18h0m0-7h0m2 19h0m4-28h0m2 4h0m3 2h0m6-2h0m1 37h0m1-19h0m3 9h0m0-5h0m1 20h0m1 6h0m2-45h0m0-2h0m2 29h0m1 6h0m5-8h0m3-8h0m0 20h0m7 3h0m1 0h0m1-29h0m1 29h0m0-7h0m4 8h0m1-37h0m1 42h0m4-42h0m0 20h0m1-5h0m0 14h0m3 12h0m0-11h0m2-28h0m1 32h0m2-38h0m1 13h0m0-13h0m2 4h0m5 3h0m2-11h0m2 28h0m2-17h0m1 0h0m3-12h0m2 26h0m0-24h0m6-5h0m0 4h0m1 30h0m4-33h0m5 36h0m10-5h0m3-24h0m1 44h0m2 4h0m3-15h0m0-32h0m1-10h0m5 7h0m0 36h0m1-24h0m6 39h0m5-25h0m3 10h0m1-18h0m5 11h0m0 12h0m1 9h0m0-52h0m5 8h0m1 21h0m1-5h0m2 2h0m3-17h0m2-2h0m1 20h0m2 11h0m4-34h0m2-6h0m5 26h0m4-5h0m4-4h0m1 2h0m1-2h0m1 22h0m2-16h0m2 2h0m1 20h0m5-20h0m6-28h0m4 31h0m0 12h0m3-5h0m4-16h0m0 13h0m2-14h0m1 19h0m7 14h0m2-44h0m1 26h0m5-6h0m1-9h0m1 36h0m3-53h0m4 42h0m2-45h0m4 36h0m1 12h0m0-39h0m2 45h0m0-10h0m1 10h0m6-24h0m0-32h0m4 40h0m3-15h0m3-20h0m10 39h0m1-24h0m0 31h0m14-41h0m5 9h0m1-12h0m0 33h0m3-9h0m1 26h0m3-9h0m1-25h0m0 14h0m1-15h0m2-3h0m4-8h0m2 13h0m1 29h0m16-1h0m0-43h0m3 31h0m2-33h0m0 34h0m10-37h0m7 48h0m6-15h0m5 16h0m5-19h0m1 9h0m3-11h0m1 6h0m1-14h0m3 3h0m13 6h0m20 12h0m0-9h0m16 6h0m14-34h0m10-3h0m19-1h0m1 36h0m6 10h0m3-30h0m2 18h0m18 1h0m12-28h0m6 33h0m2 2h0m0-12h0m14-32h0m27 8h0m9 9h0m20 17h0m11-15h0m12-4h0m1 13h0m13-17h0m9 2h0m9 37h0m2-14h0m10 12h0m1-6h0m22 0h0m6-20h0m65-15h0m13 46h0m84-23h0m68-31h0m25 2h0m165-2h0m-2697 85h0m2 11h0m38-34h0m5 15h0m34 29h0m29-15h0m8 13h0m35-1h0m3 6h0m58-34h0m22 36h0m10-40h0m10 18h0m44 12h0m9 0h0m36-8h0m72-12h0m10 23h0m37-17h0m8 20h0m79-36h0m16 5h0m39 0h0m12 35h0m2-50h0m55 52h0m13 1h0m5-27h0m110 18h0m9-1h0m39-8h0m9-15h0m2-8h0m26 27h0m2-39h0m1 48h0m1-2h0m2 0h0m7-35h0m14 12h0m3 26h0m4-30h0m18 17h0m0-20h0m2 6h0m0 12h0m3-36h0m1 35h0m8 11h0m10-42h0m6 27h0m1-28h0m1 23h0m2 5h0m7-5h0m2 30h0m10-33h0m5 4h0m2 25h0m0-42h0m5 34h0m1-44h0m4 37h0m0 12h0m5 9h0m5-58h0m1 37h0m2-26h0m1 46h0m10-14h0m4 7h0m2-5h0m5-22h0m0 20h0m1 1h0m18-26h0m3 29h0m5-34h0m3 34h0m6-33h0m1 15h0m2 29h0m1-3h0m4-3h0m6-24h0m2 25h0m1-2h0m5-3h0m0-39h0m1 0h0m1 17h0m10-8h0m1 9h0m3-3h0m2 7h0m7 27h0m0-42h0m4-3h0m0 4h0m5 27h0m3-23h0m2 28h0m2-46h0m3 24h0m2 4h0m5-27h0m2 15h0m1 32h0m3 4h0m1-39h0m8-16h0m1 10h0m2 4h0m3 1h0m6-15h0m3 36h0m0-33h0m1 7h0m4 1h0m1 19h0m4-4h0m5-25h0m3 18h0m1-16h0m5 42h0m1-5h0m5-20h0m4 35h0m0-2h0m3-41h0m2 20h0m2 0h0m0-30h0m1 24h0m6-20h0m4 47h0m0-17h0m1 1h0m0 12h0m1-15h0m0-15h0m0 2h0m0-11h0m4-3h0m0 35h0m2-18h0m3 26h0m0 4h0m2-28h0m0 5h0m1 9h0m2 16h0m0-34h0m1 8h0m3-24h0m2 1h0m5 26h0m4 6h0m2-7h0m1-25h0m1-4h0m8 35h0m0-37h0m1 2h0m1 19h0m1 27h0m3 1h0m2 1h0m5-26h0m0-25h0m0 21h0m0-16h0m5 34h0m1-4h0m2-1h0m1-30h0m2 25h0m0 7h0m1 22h0m4-46h0m0-1h0m4 7h0m0 19h0m1 19h0m0 1h0m6-13h0m0 8h0m5-31h0m0-12h0m1 32h0m1-16h0m2 0h0m0 25h0m0-19h0m0-19h0m1 33h0m1-25h0m1-1h0m3 29h0m1-14h0m0-21h0m3 42h0m1-47h0m1-6h0m1-3h0m0 31h0m0-13h0m0 9h0m4 27h0m1-26h0m0 31h0m4-28h0m1 18h0m1-34h0m1 34h0m0-45h0m4 23h0m2 19h0m3 9h0m1-54h0m2 32h0m1 26h0m0-3h0m1-35h0m0-15h0m0 5h0m3 31h0m0-24h0m1-17h0m3 49h0m1-42h0m0 42h0m1-23h0m0-15h0m1-11h0m3 56h0m0-7h0m0 1h0m0-23h0m1 12h0m2-13h0m3 31h0m1-14h0m0-33h0m3 30h0m1 12h0m2-25h0m1 11h0m0-25h0m1 14h0m1-7h0m3-9h0m3-1h0m0 44h0m1-53h0m2 38h0m3-13h0m1 33h0m1-41h0m1 34h0m4-7h0m2-28h0m2-3h0m3-4h0m2 36h0m4-7h0m0-28h0m1-5h0m1 40h0m1-10h0m3-34h0m0 44h0m0-31h0m1 34h0m3-25h0m0-16h0m3 24h0m0 25h0m2-39h0m1 7h0m0-5h0m1 9h0m0-2h0m0-8h0m0 0h0m5 25h0m1 6h0m1-33h0m0 29h0m1-14h0m0 17h0m3-42h0m1 1h0m1 24h0m2-28h0m0 19h0m1-7h0m0 5h0m0 25h0m1-28h0m0 33h0m0-46h0m2 6h0m0 9h0m2 34h0m0-14h0m0-38h0m5 48h0m2-32h0m2 40h0m0-31h0m1-10h0m0-11h0m2 18h0m1 11h0m0 4h0m1-2h0m0 16h0m0-7h0m0 10h0m2-49h0m2 12h0m0 20h0m5 11h0m1-35h0m0 38h0m1-20h0m1-11h0m0-11h0m1 19h0m2 21h0m1-30h0m0 19h0m0 17h0m1-2h0m0-3h0m3 2h0m1-17h0m3-15h0m1-21h0m1 37h0m0-20h0m1 30h0m3-18h0m2 17h0m6-26h0m0-10h0m0 10h0m1 2h0m3-17h0m1 35h0m0-20h0m1 16h0m2-20h0m1 26h0m0-28h0m2 18h0m0 16h0m1-23h0m0-2h0m0-8h0m1 18h0m0 4h0m3-30h0m2 37h0m1 1h0m0-5h0m3-11h0m0-18h0m2 10h0m1-15h0m1-3h0m1 29h0m6-14h0m0 32h0m0-29h0m1 36h0m1-45h0m0 45h0m0-55h0m2 23h0m1-10h0m5 0h0m2-17h0m1 4h0m2 28h0m1-7h0m3 15h0m4-22h0m1 40h0m4-54h0m2 6h0m1-2h0m0 45h0m2 3h0m4-55h0m0 33h0m3 17h0m0-37h0m1 16h0m3 23h0m1-40h0m1 30h0m2 16h0m5-47h0m1 19h0m2 15h0m3-26h0m2-8h0m3-3h0m1-5h0m0 3h0m1 44h0m1-38h0m1 23h0m1 14h0m2 8h0m1-41h0m0 24h0m3 13h0m0 4h0m3-19h0m2-37h0m2 36h0m1-3h0m4-31h0m3 1h0m0 53h0m3-21h0m0-5h0m1 15h0m1-7h0m1 8h0m2-13h0m0 15h0m1-34h0m2 1h0m1 8h0m1 20h0m1-30h0m7-12h0m1 10h0m4 45h0m1-53h0m0 25h0m2-8h0m3 19h0m3-9h0m4 14h0m5-16h0m4 14h0m0 14h0m2-47h0m1 35h0m1-42h0m2 17h0m2-7h0m0 35h0m1-24h0m2-20h0m2 43h0m1 6h0m0-48h0m2 3h0m3 37h0m1-45h0m0 28h0m8 18h0m0-35h0m2-2h0m2 19h0m0-1h0m3 14h0m1-4h0m5-36h0m0 10h0m1 43h0m1-40h0m0-8h0m7 2h0m1 50h0m1-17h0m1-12h0m2 4h0m5-32h0m0 48h0m1-29h0m4 3h0m2 6h0m1-23h0m1 26h0m0 11h0m4 4h0m1-32h0m3 35h0m5-11h0m0-23h0m4 8h0m2 13h0m2-11h0m1-17h0m4-2h0m1 3h0m2 12h0m4 31h0m5-15h0m1-21h0m6-11h0m0 26h0m2-21h0m3 13h0m2 32h0m2-13h0m1-4h0m4 19h0m7-3h0m0 2h0m6-35h0m0-7h0m7-4h0m0-7h0m2 0h0m7 23h0m0-16h0m3 13h0m2-11h0m0 18h0m1 27h0m4-20h0m2-14h0m1 26h0m2-19h0m1 12h0m7-44h0m5 30h0m11 16h0m2-44h0m9 29h0m0-16h0m1 19h0m2-21h0m3 10h0m18 3h0m3 8h0m1 2h0m7-20h0m1-1h0m2 12h0m1 10h0m16-16h0m19 1h0m0 27h0m8-33h0m19-1h0m3-1h0m9 7h0m1 8h0m0-10h0m14 27h0m4 0h0m4-4h0m2-2h0m4-15h0m1-24h0m4 39h0m4-4h0m10 1h0m17-18h0m14 37h0m0 2h0m1-15h0m21-12h0m7-14h0m23-4h0m18-5h0m1-6h0m3 49h0m44-24h0m2-1h0m40 9h0m0 5h0m19-1h0m3-5h0m23 6h0m154-34h0m155 51h0m102-28h0m-2699 84h0m0-40h0m3 2h0m0 43h0m42-42h0m23 40h0m13-29h0m32 13h0m2-27h0m0 10h0m20-13h0m45 33h0m9 2h0m6-40h0m20 8h0m56 22h0m20 20h0m21-24h0m1 6h0m5 0h0m6-18h0m94 11h0m11-23h0m28 48h0m7-39h0m67 12h0m15-11h0m30 42h0m1-12h0m11-31h0m9-4h0m48 4h0m7 27h0m5-10h0m41 23h0m12-49h0m11-1h0m14 15h0m23-3h0m6 27h0m1-17h0m17 28h0m31-36h0m6 15h0m7-21h0m5 35h0m2-5h0m0-11h0m10-17h0m1 25h0m12 12h0m1 3h0m0-19h0m10 16h0m1 5h0m13-50h0m18 16h0m2 22h0m9-31h0m13 11h0m1 19h0m2-29h0m1 13h0m5-3h0m1-20h0m2-4h0m9 40h0m0-33h0m1 26h0m4-22h0m2 21h0m2-11h0m0-19h0m2 46h0m7-7h0m3-42h0m2 37h0m1 20h0m0-28h0m0 23h0m2 4h0m5-5h0m6-11h0m3 19h0m2-43h0m0-9h0m0 17h0m2 34h0m3-53h0m2 16h0m1 2h0m2-6h0m3 36h0m1-10h0m0-1h0m2 6h0m2-1h0m3-16h0m2 23h0m10-43h0m1 2h0m5 38h0m8-11h0m4-11h0m4 6h0m0 12h0m1-17h0m2-14h0m3 4h0m1 24h0m2-8h0m7 1h0m3-5h0m4 7h0m1 16h0m14 2h0m1-57h0m1 43h0m1 7h0m0-36h0m1 10h0m0 20h0m1 12h0m0-17h0m2 1h0m2 17h0m5-2h0m8 3h0m0-45h0m1 0h0m2 34h0m2-41h0m2 14h0m3-12h0m5-5h0m0 48h0m5-16h0m1-4h0m5 25h0m3-8h0m0 3h0m1-44h0m0 15h0m0-11h0m1 0h0m1 32h0m2-2h0m1-40h0m1 29h0m3-10h0m3 9h0m4 27h0m0-10h0m0-40h0m1 28h0m1-3h0m1 13h0m1 13h0m2-28h0m0-23h0m2 8h0m0 8h0m1 22h0m3 0h0m2-5h0m2-2h0m2-8h0m0 8h0m0 8h0m1 12h0m1-24h0m2-26h0m1 10h0m7 2h0m3 0h0m6 15h0m1-35h0m3 9h0m1 26h0m0 0h0m4 4h0m1-35h0m3 9h0m2-3h0m1 12h0m4 27h0m3-11h0m2 3h0m2 12h0m1-51h0m2 42h0m0-16h0m1-6h0m2 12h0m1 12h0m1-6h0m1-31h0m0 39h0m1-31h0m1 41h0m0-35h0m6 23h0m0-3h0m3-20h0m0 5h0m4-13h0m0 26h0m1 12h0m1-4h0m0-35h0m1 26h0m0-12h0m2-20h0m1-8h0m0 46h0m3 10h0m1-7h0m1-15h0m1-25h0m3 5h0m0 23h0m2 14h0m2-4h0m2-18h0m4 4h0m1-14h0m1-7h0m1 32h0m0 14h0m0-9h0m1 2h0m1-16h0m3 19h0m0-20h0m2 18h0m1-48h0m1 49h0m0-5h0m1 1h0m1-19h0m0 3h0m3-30h0m2 30h0m0-1h0m0 10h0m1-2h0m1-3h0m3-13h0m4-13h0m0 43h0m1-9h0m5-26h0m2 29h0m3-39h0m5-7h0m0 9h0m1 45h0m0-41h0m0-5h0m2 20h0m0-6h0m2 31h0m0-16h0m2-20h0m0-6h0m4 8h0m1-14h0m1 16h0m2 16h0m0 8h0m2-14h0m0-14h0m4 10h0m0-16h0m0 0h0m0 47h0m1-35h0m0-17h0m1 4h0m1 5h0m3 1h0m1 37h0m0-50h0m0 28h0m1 22h0m1-34h0m1 16h0m1-33h0m2 41h0m2-6h0m1-3h0m0 10h0m0-36h0m2 31h0m3-12h0m1 28h0m4-28h0m0-29h0m2 40h0m3-22h0m0 26h0m0-17h0m2 7h0m1-30h0m0 21h0m1 11h0m1 3h0m0 19h0m0-28h0m2-5h0m1-21h0m0 36h0m1-40h0m0 17h0m1 17h0m4-8h0m2 31h0m0-49h0m0 15h0m0-8h0m0 6h0m1 26h0m1-24h0m2 23h0m1-4h0m0-18h0m1-1h0m2-9h0m2 15h0m2 13h0m0 16h0m0-24h0m1-30h0m5 47h0m1-42h0m1 20h0m0 16h0m0-27h0m2-5h0m0 2h0m2 30h0m0 5h0m0-4h0m0 13h0m1-55h0m0 33h0m2-33h0m0-3h0m2 28h0m3-20h0m2 12h0m0-2h0m1-8h0m1 1h0m0 1h0m3 20h0m1-17h0m1 26h0m0-37h0m3 54h0m5-46h0m1 31h0m3-23h0m0-11h0m2 9h0m0-1h0m0 13h0m0 21h0m2-43h0m1 8h0m2 30h0m0-18h0m2 24h0m2-31h0m1 24h0m1-20h0m1-12h0m1 24h0m0-27h0m0-8h0m1 9h0m0 38h0m2-48h0m0 52h0m0-53h0m1 3h0m2 30h0m3-19h0m0-8h0m1 8h0m0 27h0m3-14h0m1-16h0m0 22h0m1 21h0m1-48h0m0 23h0m1 6h0m0 18h0m2-19h0m4-25h0m0 26h0m0 9h0m1-3h0m1-25h0m1 27h0m1-9h0m3 21h0m1-45h0m3 16h0m1-19h0m0 28h0m3 6h0m1 6h0m1-35h0m2 12h0m2 2h0m1 31h0m1-32h0m2-24h0m0 21h0m1-22h0m3 53h0m2-9h0m3-10h0m2-28h0m0 0h0m1 14h0m3 17h0m2-8h0m1 30h0m4-32h0m0-16h0m0 20h0m2 25h0m2-48h0m1 44h0m1-43h0m0 37h0m5-18h0m1 8h0m1 9h0m0-36h0m2 49h0m7-15h0m1-3h0m1-20h0m1 39h0m0-31h0m3 10h0m2 20h0m6-48h0m0 35h0m1-19h0m2 17h0m0-27h0m0 36h0m1-1h0m2-17h0m3-8h0m3 15h0m1-2h0m0 14h0m2-29h0m0-8h0m2 16h0m2-5h0m0 0h0m3-11h0m3 20h0m0-10h0m5 28h0m3-43h0m3 8h0m2 29h0m1-10h0m1-4h0m2-22h0m1 28h0m0-21h0m1 34h0m4-43h0m0-1h0m1 3h0m5 46h0m0-5h0m1-30h0m0-10h0m3-10h0m0 55h0m1-52h0m4-7h0m1 49h0m2-24h0m2-23h0m1 3h0m0 22h0m1-22h0m1 20h0m0-4h0m1 17h0m0-33h0m2 19h0m1-17h0m0 10h0m1 6h0m3-13h0m1 26h0m1-20h0m1 26h0m0-4h0m1 4h0m1-39h0m2 45h0m2-9h0m5-12h0m0-19h0m1 46h0m3-39h0m2-11h0m5 30h0m2-19h0m1-1h0m2 19h0m1 18h0m0-17h0m0 8h0m1 10h0m1 3h0m1-23h0m3 14h0m0-15h0m2-26h0m3 41h0m10 13h0m0-29h0m1-7h0m0 4h0m6 14h0m2 6h0m0 9h0m8-38h0m3 10h0m1 9h0m6-20h0m2-16h0m2 54h0m4-32h0m4 32h0m0-25h0m3 9h0m0-15h0m5-22h0m2 32h0m2-24h0m0 8h0m1 1h0m0-3h0m1-12h0m0-2h0m3 26h0m1 9h0m1 4h0m1-38h0m1 49h0m0-12h0m3 4h0m1 15h0m0-4h0m0-1h0m2-21h0m6-30h0m0 46h0m1 3h0m1-37h0m4 16h0m1-5h0m11-7h0m3 1h0m0-2h0m13 20h0m1-29h0m1 31h0m3-9h0m0 9h0m1 17h0m1-25h0m2-11h0m2 7h0m4-24h0m8 26h0m0-23h0m1 1h0m2-3h0m5 1h0m0 9h0m4 3h0m7-12h0m0-6h0m1 41h0m3-37h0m3 2h0m1 33h0m3 15h0m1 4h0m1-50h0m0 1h0m3 38h0m2 13h0m8-23h0m3-9h0m0-13h0m9 21h0m6-9h0m1-5h0m1 32h0m3-24h0m2 18h0m2-40h0m1 34h0m1-39h0m0 52h0m1-13h0m6-15h0m0 7h0m1 17h0m2-10h0m5-20h0m2-4h0m2 30h0m5 7h0m6-40h0m15 16h0m1 20h0m1-39h0m3 21h0m9 20h0m8 6h0m5-45h0m12-5h0m2 44h0m2-25h0m1 14h0m5-17h0m1-13h0m0 15h0m3 31h0m3-15h0m5 17h0m4-5h0m10-11h0m2-30h0m7 12h0m3 6h0m16 11h0m9-39h0m2 54h0m2-35h0m1 10h0m12 14h0m4-39h0m6-1h0m7 2h0m17-6h0m19 33h0m13-5h0m18 11h0m2 4h0m33 12h0m19-20h0m31-24h0m3-1h0m47 23h0m26-7h0m6 14h0m13-30h0m23 27h0m8-24h0m1 12h0m52-21h0m23 47h0m11-43h0m274-1h0m66 43h0m-2780 46h0m1 2h0m0-25h0m1 13h0m33-21h0m48 9h0m14 40h0m5-9h0m0-34h0m15 11h0m7 9h0m29-20h0m90 13h0m1 21h0m4 4h0m2-15h0m28-32h0m14 2h0m25 27h0m1 12h0m11-9h0m20-13h0m3 1h0m24 16h0m19-3h0m9-14h0m4 12h0m19 14h0m29-11h0m29-15h0m33 33h0m5-40h0m13 17h0m10-5h0m63 2h0m54 13h0m40-34h0m5 46h0m5-21h0m19-26h0m5 34h0m3-3h0m8-29h0m17-9h0m1 30h0m3 16h0m6-35h0m9 10h0m1-10h0m2 1h0m4 2h0m4 43h0m3-19h0m5-11h0m8-9h0m2 28h0m0 10h0m11-51h0m5 24h0m6-25h0m3-4h0m6 17h0m9 8h0m5 6h0m13 12h0m6 9h0m10-24h0m0 24h0m3-19h0m1 25h0m6-18h0m4-31h0m1 19h0m3 11h0m4 8h0m1-13h0m2 14h0m3-17h0m3-27h0m2 36h0m2-15h0m3-4h0m6-18h0m5 45h0m5-9h0m3 16h0m8-12h0m1-14h0m0-14h0m1 22h0m2 20h0m0-41h0m4 35h0m1-5h0m4-8h0m0-38h0m3 59h0m4-38h0m1-13h0m4 29h0m8-22h0m1 14h0m5-17h0m5 34h0m0-5h0m1 11h0m5-44h0m12 3h0m3 25h0m1-31h0m1 38h0m0 2h0m2-6h0m1-37h0m1 10h0m6-6h0m1 30h0m5-17h0m5 38h0m0-52h0m3 30h0m1-8h0m1 1h0m0 3h0m1 21h0m1-14h0m5-12h0m1 5h0m2-8h0m1-3h0m1 8h0m0 30h0m0-11h0m1-45h0m3 40h0m2-10h0m0 27h0m1-11h0m0-22h0m1 27h0m2-19h0m2 6h0m2-27h0m1 41h0m1-36h0m1-19h0m3 50h0m1-8h0m2-29h0m0 15h0m0 22h0m1-28h0m0 15h0m0 11h0m3-44h0m10 55h0m2-58h0m3 12h0m0 22h0m1 17h0m4-44h0m0 47h0m1-39h0m2 20h0m0-10h0m2 27h0m0-40h0m1 27h0m1-9h0m0 14h0m1-26h0m2 8h0m1-26h0m0 45h0m1 5h0m0-22h0m1-24h0m2 0h0m1 41h0m0-35h0m0-9h0m1 51h0m1-17h0m2-19h0m0-8h0m2 25h0m1 5h0m1-24h0m1 3h0m0 19h0m1-18h0m0-19h0m2 40h0m1 16h0m0-14h0m1-2h0m2-3h0m3-33h0m1 35h0m0 13h0m6-44h0m2 28h0m0-17h0m1 32h0m4-21h0m3 4h0m0-6h0m0 10h0m0-5h0m1-2h0m2-16h0m2 11h0m2 13h0m6-23h0m0 24h0m1-31h0m4-4h0m1 30h0m2-27h0m1 1h0m3 6h0m3-13h0m1 47h0m0-39h0m0-9h0m1 56h0m0-1h0m1-11h0m3 5h0m4-16h0m1 19h0m2-35h0m0 2h0m4-3h0m5-15h0m0 20h0m2 15h0m1 6h0m1-19h0m1 27h0m0-4h0m0-1h0m1-26h0m4 40h0m1-11h0m0 9h0m1-37h0m1-15h0m1 24h0m3 30h0m0-15h0m3-42h0m3 16h0m0 31h0m4-6h0m2 6h0m1-25h0m0-7h0m1 32h0m1-40h0m0 15h0m2 35h0m0-37h0m1 17h0m1-15h0m0 2h0m1 21h0m1 3h0m1-2h0m1 9h0m2-17h0m1 2h0m8 15h0m1-50h0m0 41h0m4-13h0m3-5h0m1 10h0m0-28h0m1 22h0m1-35h0m1 32h0m1 13h0m1-8h0m1-29h0m0 52h0m1-49h0m2 1h0m0 8h0m1 8h0m0-13h0m1-13h0m1 31h0m3 9h0m6-41h0m1 43h0m0-25h0m2 1h0m1-3h0m0-2h0m0 38h0m0 2h0m2 5h0m1-13h0m2-30h0m0-9h0m1 12h0m1 12h0m2-23h0m0 49h0m2 1h0m2-55h0m2 0h0m3 53h0m0-15h0m1-18h0m3 26h0m1 8h0m4-16h0m2-27h0m2 24h0m1-14h0m0-12h0m2-2h0m3-3h0m1 7h0m2 5h0m0 3h0m0-13h0m1 18h0m1 12h0m1-3h0m1 16h0m1-46h0m0 14h0m2 25h0m0-14h0m0-11h0m1 35h0m0-16h0m0 15h0m2-2h0m0-22h0m1-14h0m0 6h0m2 34h0m2-17h0m1-32h0m0 34h0m2-3h0m1 12h0m0-14h0m0 17h0m1-28h0m0-22h0m1 36h0m1 7h0m0-6h0m2-27h0m2-6h0m1 1h0m1-5h0m2 53h0m0-32h0m1-21h0m0 12h0m1-2h0m1 41h0m0-45h0m1 45h0m2-23h0m3-6h0m1-2h0m1 19h0m2 8h0m2-44h0m0-1h0m2 16h0m3 38h0m1-59h0m4 30h0m0 26h0m0-30h0m0-11h0m1-7h0m2 41h0m1-25h0m0-21h0m1 40h0m0-6h0m1 18h0m1-48h0m0 21h0m2-11h0m0-11h0m1-1h0m1 38h0m0-1h0m1-26h0m1 17h0m3-19h0m2 37h0m1-30h0m1-3h0m1 16h0m2 13h0m2-12h0m1-29h0m0 22h0m1-7h0m3 20h0m1 11h0m0-16h0m0 10h0m2-6h0m1-10h0m0-15h0m0-6h0m2-4h0m1 38h0m3-43h0m1 32h0m3 14h0m0-30h0m1 21h0m6-37h0m3 58h0m3-44h0m0 25h0m1-38h0m0 25h0m0 31h0m1-43h0m1-15h0m2 22h0m2 19h0m2 10h0m0-24h0m1 9h0m0-20h0m0 11h0m1 12h0m0 8h0m0-38h0m0 7h0m2-3h0m0 23h0m0-12h0m1-15h0m0 6h0m3 22h0m1-10h0m2 10h0m1-26h0m1 40h0m3-28h0m1-4h0m3 6h0m2 2h0m2 14h0m1-4h0m3-11h0m1-17h0m1 39h0m1-30h0m0-11h0m3 16h0m1-2h0m1-12h0m0-1h0m4 2h0m1 49h0m3 0h0m1-48h0m0 26h0m1-5h0m1-5h0m0-7h0m1 18h0m3 4h0m0-22h0m0-6h0m0-4h0m2 3h0m1 32h0m1-35h0m0-2h0m0 4h0m1 14h0m0-14h0m1 39h0m2 3h0m1-42h0m0-1h0m0 1h0m1 26h0m1-28h0m2 23h0m0-30h0m1 54h0m0-18h0m0-18h0m1 37h0m1-29h0m0-4h0m1 31h0m0-3h0m1-9h0m0 0h0m1 12h0m2 2h0m1-8h0m0-10h0m1 2h0m1 17h0m3-48h0m2 6h0m3 30h0m4-18h0m1-25h0m7 48h0m0-22h0m1-18h0m2 1h0m0 27h0m1 1h0m0 14h0m2-6h0m0-27h0m1 16h0m1 17h0m4-3h0m0-23h0m3-25h0m0 46h0m2 2h0m3-6h0m1-24h0m0-7h0m0 6h0m5 38h0m1-40h0m0 41h0m1-55h0m1 28h0m0 16h0m2-49h0m1 27h0m0-16h0m1-10h0m0 42h0m1-36h0m0 22h0m1 11h0m1-38h0m1 6h0m1 32h0m0 17h0m0-52h0m4 7h0m2 41h0m1-35h0m1 6h0m1-8h0m0 39h0m2-6h0m0-28h0m0 31h0m0-43h0m1 51h0m5-56h0m2 36h0m2-34h0m3-1h0m1 47h0m1 3h0m1-48h0m1 33h0m1-6h0m5 8h0m2 10h0m1-20h0m0-5h0m1 24h0m0-11h0m0-28h0m0 45h0m0-1h0m2-35h0m0-14h0m0 17h0m1 27h0m5-13h0m0 12h0m1-40h0m1 19h0m1-3h0m0-6h0m1-12h0m1 32h0m2-35h0m2 53h0m0-44h0m8 13h0m2 16h0m1-5h0m0-18h0m1 1h0m1 29h0m1-20h0m1 17h0m2-41h0m2 54h0m1-19h0m9 3h0m2-23h0m1 10h0m0 11h0m1-20h0m1-22h0m1 53h0m1-18h0m1-6h0m1-21h0m0 3h0m2 11h0m3 37h0m1-23h0m0-8h0m3-19h0m1 13h0m2-18h0m1 5h0m3-2h0m0 15h0m10 24h0m0 5h0m10-11h0m2 18h0m2-27h0m2-17h0m4 21h0m2-13h0m0 32h0m1-9h0m2-28h0m0 27h0m2-23h0m3 10h0m1-14h0m1 43h0m1-20h0m1-32h0m0 9h0m0 22h0m2 0h0m1-15h0m1 25h0m3-7h0m1-11h0m0 2h0m2 23h0m0-28h0m1 21h0m1-30h0m1 37h0m0-30h0m1 33h0m3-2h0m0-47h0m3 38h0m1-18h0m3-24h0m1 11h0m1 19h0m1-28h0m3 20h0m1-2h0m3-13h0m1 46h0m1-34h0m8-13h0m2 2h0m1 36h0m2-6h0m2 13h0m1-15h0m3-23h0m2-14h0m1 34h0m3-29h0m2 47h0m3 0h0m9-24h0m0-20h0m1 17h0m4 19h0m2-8h0m0-25h0m1 42h0m0-1h0m0-43h0m1-2h0m12-3h0m0 20h0m8 8h0m0 6h0m4-25h0m11 9h0m2 10h0m1-10h0m2 32h0m1-59h0m4 5h0m2 52h0m1-16h0m16-6h0m5-11h0m3 35h0m6-29h0m5-28h0m3 48h0m3-22h0m3-22h0m12 3h0m2 39h0m7-7h0m4-7h0m5 21h0m2-49h0m1 34h0m0 8h0m2 1h0m0-25h0m18 29h0m3-37h0m2 9h0m5-23h0m0 23h0m6-5h0m1-7h0m11 8h0m0 30h0m3-18h0m12 4h0m21-30h0m11 43h0m14-5h0m20-10h0m3 8h0m2 13h0m11-48h0m33 48h0m2-23h0m6 0h0m7 21h0m13-16h0m1 17h0m28-2h0m7-12h0m4-25h0m10 32h0m4-45h0m12 37h0m16-3h0m28-27h0m7 28h0m355-2h0m47-4h0m63 1h0m-2736 43h0m1-12h0m0 40h0m1-33h0m1 42h0m1-1h0m24-24h0m19-1h0m12-24h0m6 33h0m2 20h0m20-23h0m9-28h0m16-2h0m7 43h0m35 5h0m2 5h0m5-28h0m14 7h0m17-26h0m4-6h0m7 35h0m0 6h0m4-29h0m6 32h0m15-39h0m3 24h0m13 1h0m60 15h0m16-1h0m2-27h0m68-5h0m1 29h0m5-22h0m29-14h0m29 35h0m8-14h0m9 18h0m3-15h0m2 9h0m12-12h0m2-14h0m11 10h0m8 19h0m6-33h0m18 0h0m21 28h0m46 19h0m8-25h0m9 15h0m3-39h0m8-6h0m2 19h0m2-8h0m23 35h0m8-43h0m7 19h0m3 35h0m0-25h0m2-16h0m10 39h0m6-12h0m6 8h0m12 2h0m1-28h0m7-2h0m1 27h0m8-27h0m0 8h0m13 13h0m3 0h0m5 7h0m6-11h0m0-13h0m31 14h0m2 1h0m2-38h0m5 43h0m11-16h0m3-27h0m0 45h0m5-41h0m7 9h0m2 31h0m1-24h0m5-27h0m13 35h0m14 14h0m2-6h0m11-22h0m0-1h0m2 10h0m3 16h0m3-28h0m4-4h0m10 4h0m3 31h0m1 1h0m4 7h0m3-7h0m1-10h0m2-28h0m1 0h0m5 45h0m2-35h0m1 13h0m1-22h0m3 44h0m4-37h0m0 9h0m7 24h0m0-22h0m1-19h0m5 1h0m2 27h0m2-10h0m5-19h0m1-1h0m3-4h0m2 48h0m2-2h0m1-21h0m4 1h0m5 20h0m1-5h0m1-32h0m2 44h0m2-46h0m5 1h0m2-4h0m7 23h0m2-17h0m2-12h0m2 47h0m1 8h0m0-11h0m2 3h0m1 7h0m1-53h0m3 10h0m0-6h0m4 33h0m3 0h0m0-11h0m6-21h0m1 42h0m0-48h0m3 9h0m1 10h0m0-10h0m2-5h0m1-6h0m0 7h0m4 16h0m5 5h0m1-1h0m1 9h0m5 15h0m4-10h0m0-16h0m3 4h0m0 20h0m3 3h0m1-32h0m6 20h0m1-26h0m5 21h0m0 15h0m2-6h0m5-21h0m1-17h0m1 26h0m3 14h0m1-1h0m0-1h0m2 4h0m2-10h0m1-28h0m1 0h0m0-1h0m2 39h0m2-3h0m3-10h0m0 2h0m1-28h0m1-9h0m3 31h0m1-23h0m1 24h0m0-8h0m5 29h0m1-3h0m1 1h0m2 2h0m1-36h0m3-9h0m2 38h0m2-8h0m1 8h0m1-19h0m4 6h0m2 17h0m1-12h0m3-21h0m1 17h0m0-29h0m1 5h0m0 35h0m9-47h0m0 31h0m1 9h0m0 1h0m6-27h0m2 26h0m5-33h0m4 45h0m1-52h0m0 26h0m1-11h0m3 10h0m2 34h0m0-56h0m3 13h0m3 8h0m3-8h0m0 9h0m2-22h0m1 22h0m1-21h0m1 12h0m2 30h0m1 4h0m1-17h0m2-24h0m2 47h0m2-32h0m1-20h0m1 28h0m2-21h0m0 17h0m4 18h0m3-2h0m0-19h0m0-10h0m0-12h0m1 39h0m1-19h0m3 3h0m0-8h0m1 20h0m1 2h0m2-22h0m1 40h0m3-1h0m3-54h0m0 36h0m1 14h0m2-6h0m0-3h0m2-23h0m3-3h0m1 12h0m0 1h0m4 24h0m1-26h0m1 6h0m4 22h0m0-38h0m0 36h0m1-19h0m0-28h0m2 7h0m3 12h0m2 22h0m0 0h0m0-17h0m1 20h0m3 6h0m2-26h0m1-3h0m2 14h0m1-13h0m1 18h0m0-8h0m0 7h0m1 3h0m1-17h0m2-5h0m2 31h0m0-57h0m1 31h0m2-31h0m0 36h0m2-17h0m0 30h0m0-14h0m1-31h0m0 27h0m0-32h0m1 11h0m1 16h0m1-15h0m2 35h0m0-34h0m1 6h0m0 9h0m1 5h0m0 2h0m5 22h0m2-36h0m1 18h0m1-25h0m1-14h0m0 51h0m3-15h0m0-28h0m0 3h0m1 19h0m0 10h0m4-9h0m1 10h0m1-23h0m1-9h0m0 44h0m1-52h0m1 17h0m0-19h0m1 24h0m0-6h0m0 31h0m0 11h0m5-35h0m4 32h0m3-29h0m1-5h0m0 10h0m1-4h0m0-4h0m1 14h0m0 20h0m1-1h0m2-2h0m1-2h0m3-29h0m3-24h0m1 27h0m2-1h0m1 12h0m1-9h0m1-24h0m3 4h0m1 24h0m1 23h0m0-10h0m0 1h0m1-4h0m1 2h0m1 13h0m1-10h0m0-41h0m0-1h0m3 9h0m0 30h0m1-1h0m2-4h0m0-18h0m1-5h0m0-6h0m1 43h0m1-52h0m1 10h0m5 13h0m0-6h0m2-6h0m0 14h0m1 14h0m5-6h0m1 11h0m0 2h0m1-9h0m1-30h0m0 45h0m0-39h0m1 1h0m1 9h0m2 14h0m3-10h0m1-26h0m0 16h0m1 3h0m1 29h0m2-20h0m1 9h0m0-18h0m1-11h0m1 8h0m1-6h0m1 28h0m1 9h0m0 5h0m1-16h0m1-4h0m0 14h0m1 8h0m1-3h0m0-29h0m0 7h0m1 6h0m1 12h0m1-18h0m0-28h0m6-1h0m3 14h0m0 15h0m3 11h0m1-14h0m0 12h0m2-27h0m0 43h0m1-44h0m0-12h0m1 39h0m1 6h0m1-44h0m0 20h0m1-21h0m1 9h0m2 28h0m1 6h0m1-4h0m1 11h0m0-38h0m0 5h0m0 15h0m2-9h0m2 10h0m2-21h0m0 28h0m0-38h0m0 55h0m1-27h0m0 14h0m1-2h0m0 12h0m1-26h0m1 2h0m1-9h0m2 10h0m2-13h0m1 31h0m2-35h0m2 23h0m0-34h0m1-4h0m2 1h0m1 16h0m1 5h0m1 14h0m0-17h0m1-12h0m0 36h0m0 12h0m1-24h0m2 23h0m0-24h0m1-19h0m1 6h0m1 6h0m0 18h0m3 1h0m0-24h0m2-1h0m0 15h0m4-13h0m0 30h0m0-20h0m0-4h0m4-25h0m1 18h0m2 39h0m1-10h0m2-12h0m2-24h0m1 15h0m0-12h0m0 45h0m0-37h0m1-16h0m4 36h0m1 13h0m5-30h0m0 11h0m2 8h0m1-22h0m1-9h0m0-9h0m1 19h0m2-19h0m2 45h0m2 4h0m2-45h0m4 32h0m1 8h0m1-11h0m1-13h0m0-9h0m0 2h0m4-16h0m2 33h0m2 6h0m3-40h0m1 33h0m0 22h0m2-15h0m2-1h0m2 9h0m4-44h0m1 1h0m0 2h0m4 18h0m2 28h0m3-52h0m1 12h0m3-12h0m0 57h0m1-3h0m0-26h0m0-18h0m2 19h0m0 3h0m1 25h0m0-2h0m1-42h0m1-14h0m0 49h0m1-47h0m1 21h0m1-5h0m3 28h0m1-27h0m0 31h0m1-26h0m1-23h0m2 3h0m0 47h0m3-8h0m1 10h0m1-7h0m3-21h0m0-8h0m0 38h0m1-45h0m3 37h0m0-6h0m2-11h0m1 17h0m0-2h0m0-21h0m1-6h0m0 14h0m0 7h0m1 1h0m2 7h0m1-45h0m1 11h0m1 9h0m0-11h0m1-10h0m2 21h0m0 20h0m5 4h0m1-32h0m0 19h0m5 3h0m1-11h0m1 27h0m1-49h0m0 54h0m2-40h0m0 2h0m2 19h0m3 14h0m1-4h0m3-3h0m1-5h0m1-26h0m1-1h0m0-12h0m1 35h0m1-35h0m1 19h0m3-9h0m2 43h0m1-15h0m0 7h0m5-39h0m7 40h0m1-1h0m1-14h0m3 25h0m0 2h0m1-15h0m0-15h0m3-28h0m1 23h0m4 13h0m0-16h0m0-18h0m2 1h0m1 47h0m1-9h0m4 4h0m0-47h0m1 41h0m1 2h0m1-14h0m0 20h0m0-48h0m2 40h0m1-21h0m2 2h0m0 24h0m2 4h0m1 7h0m1-53h0m1 19h0m2 25h0m3 3h0m1-4h0m1-2h0m3 6h0m0-42h0m1 35h0m1-3h0m1-29h0m0 9h0m1 33h0m1-13h0m1 6h0m0-34h0m1 34h0m1-28h0m1 13h0m1 3h0m1 6h0m2-8h0m2 24h0m2-8h0m2-39h0m3 32h0m0 18h0m0-50h0m0 20h0m7 19h0m6-28h0m2 32h0m0-27h0m0-4h0m2-3h0m5 20h0m3 14h0m0-36h0m1 8h0m0-9h0m1 41h0m4-24h0m2-24h0m0 37h0m3-11h0m3-26h0m1 14h0m2 6h0m3 1h0m0-12h0m3-10h0m0 40h0m0-21h0m2 26h0m1-15h0m2 1h0m5-32h0m2 0h0m2 12h0m0 33h0m1 8h0m2-30h0m0-15h0m0-13h0m2 14h0m1 23h0m3-31h0m2 15h0m2 30h0m3-47h0m1 4h0m1-9h0m2 2h0m1 6h0m0-4h0m1 38h0m6 11h0m10-51h0m2 27h0m6 28h0m0-1h0m0-40h0m4 37h0m7-28h0m3-13h0m1 22h0m1-11h0m4 31h0m7 2h0m0-23h0m5 3h0m4-36h0m1 18h0m3 31h0m2-26h0m1 11h0m0-15h0m6 7h0m2-16h0m2-8h0m2 5h0m5 16h0m9 3h0m0 0h0m1-6h0m3 0h0m2 24h0m1 3h0m1 11h0m6-21h0m3-35h0m0 18h0m0 1h0m16-7h0m9 33h0m9-28h0m3 31h0m2-17h0m3-10h0m8-7h0m7 2h0m8 13h0m5-10h0m2 35h0m2-39h0m9 14h0m3-30h0m6 42h0m1-31h0m11 32h0m3 4h0m1-40h0m11 28h0m12-30h0m17 0h0m2 51h0m1-33h0m5 31h0m3-16h0m5 18h0m4-20h0m4-8h0m5 6h0m6-3h0m2-10h0m5-2h0m35 27h0m4-16h0m7 6h0m3-28h0m78 26h0m11 0h0m40-17h0m2 28h0m46-15h0m2 27h0m58-26h0m88-29h0m26-1h0m152 31h0m-2616 80h0m1-25h0m0-9h0m2 27h0m0-35h0m1 18h0m1 20h0m0-17h0m48-22h0m89 2h0m7 31h0m10 11h0m10-9h0m5-29h0m3 22h0m14-16h0m29-2h0m4 34h0m21-36h0m5 5h0m6 19h0m28-42h0m4 32h0m28-7h0m8-21h0m54 11h0m27 30h0m11-28h0m4 31h0m18 7h0m14-24h0m15 10h0m3-10h0m28-28h0m2 41h0m1 10h0m17-15h0m3 3h0m3-41h0m49 24h0m5 7h0m17 20h0m12 1h0m0-41h0m7-12h0m10 24h0m25 2h0m6-3h0m7 11h0m24-9h0m1 27h0m8-12h0m7 17h0m1 1h0m3-43h0m4 15h0m7 10h0m19 6h0m1 10h0m7-20h0m5-34h0m4 27h0m12-29h0m4 0h0m6 19h0m6 19h0m9 12h0m6-13h0m1 7h0m2-43h0m4 8h0m5 7h0m2 28h0m1-44h0m7 30h0m4 1h0m5 21h0m0-8h0m3-24h0m4 23h0m11-21h0m1 11h0m4-26h0m14 6h0m1-9h0m5-4h0m3 33h0m1-10h0m10 33h0m0-45h0m10 18h0m5-13h0m1 0h0m0 14h0m0-8h0m1-14h0m11 23h0m0 4h0m2-17h0m3-11h0m0 43h0m1-19h0m2 8h0m2 9h0m0-13h0m3 11h0m6-39h0m2 5h0m1 39h0m0-14h0m3-34h0m0 33h0m1-32h0m1 48h0m1-53h0m2 18h0m0-2h0m0 38h0m6-16h0m0 0h0m2 19h0m1-42h0m4 31h0m3-25h0m2 14h0m6 7h0m0-23h0m2 4h0m0 18h0m2-3h0m2-31h0m4 33h0m2-9h0m5 26h0m3-11h0m1-23h0m3-19h0m2 1h0m6 22h0m4 14h0m1-6h0m0-12h0m3-4h0m1 35h0m0 0h0m1-8h0m0-43h0m4 54h0m1-30h0m3-8h0m0 22h0m1-34h0m3-3h0m0 28h0m1 6h0m2-1h0m1 15h0m1-11h0m1-15h0m2 25h0m0 2h0m0-12h0m1 9h0m1-10h0m3-26h0m2 24h0m1 10h0m2-15h0m1-8h0m3 23h0m4-32h0m4-7h0m0-5h0m1 24h0m1-11h0m0 40h0m0-42h0m2 13h0m1 24h0m2-22h0m1 20h0m0-13h0m1 7h0m0-5h0m0-2h0m1-6h0m5-25h0m1 53h0m1-47h0m7 5h0m5 10h0m0 26h0m2 7h0m1-47h0m0-4h0m2 13h0m1-18h0m0 55h0m1-32h0m1-7h0m2-14h0m4 53h0m0-44h0m1 39h0m1-37h0m2 41h0m0-32h0m1 19h0m1-30h0m1 17h0m1 12h0m1-1h0m1 5h0m1-36h0m3 34h0m1-19h0m1-2h0m2-25h0m3 34h0m1 3h0m1-1h0m1 22h0m0-1h0m1-7h0m2-7h0m3-25h0m3-13h0m3 0h0m0 34h0m1-13h0m0 31h0m7-32h0m1 9h0m1 14h0m0-20h0m1-21h0m0 24h0m3 3h0m0-21h0m4-12h0m2 5h0m1 48h0m0-4h0m1-13h0m5 14h0m0-46h0m1-1h0m1 55h0m1-33h0m3-11h0m1 16h0m4 17h0m1-11h0m4 8h0m1-10h0m1 8h0m2 14h0m0-11h0m2 11h0m1-3h0m1 0h0m1-24h0m0 21h0m2 1h0m1 2h0m1-43h0m3-8h0m0 9h0m1 20h0m0 24h0m3-30h0m1 13h0m0-35h0m2 29h0m1 16h0m1-23h0m2 32h0m1-14h0m1-39h0m0 34h0m1 13h0m1-13h0m2-10h0m1 2h0m6 13h0m3-25h0m0 0h0m1 36h0m0 1h0m4-22h0m1 3h0m1-29h0m1 34h0m1 7h0m1-37h0m0 16h0m3 4h0m1-5h0m2 30h0m1-53h0m2 25h0m0-26h0m0 19h0m1 23h0m0 2h0m1-24h0m1-18h0m3 50h0m1-19h0m1 13h0m1-38h0m1 36h0m3-9h0m0-31h0m1 35h0m1 14h0m0-9h0m1-21h0m0 0h0m0 10h0m2 14h0m0-4h0m1 12h0m0-50h0m0 27h0m1 21h0m1-4h0m1-41h0m1 29h0m1-32h0m2-4h0m1 30h0m1-32h0m0 3h0m1 22h0m1-9h0m1 37h0m0-53h0m1 27h0m0-28h0m1 47h0m0 12h0m0-37h0m5-22h0m0 24h0m1 6h0m0-6h0m1 0h0m0 32h0m1-7h0m1-16h0m1-33h0m1 15h0m1 16h0m1-12h0m1 7h0m0-5h0m1-15h0m2 7h0m3 10h0m4 26h0m0-34h0m0 44h0m1-59h0m0 49h0m0-10h0m1-11h0m0-7h0m1 21h0m1-16h0m2-8h0m1 26h0m1-32h0m1 38h0m1-2h0m0 4h0m3-10h0m1-30h0m3 12h0m3 24h0m1-25h0m0 35h0m1-33h0m4-13h0m0 32h0m1-45h0m0 31h0m1-10h0m0-16h0m3 27h0m0-19h0m1 16h0m1 23h0m0-21h0m1-13h0m0 23h0m1 14h0m1-10h0m1-33h0m0 28h0m4-9h0m1-2h0m0-23h0m0 5h0m1 4h0m2 31h0m2 13h0m1-14h0m0 5h0m0-13h0m1 13h0m4-16h0m0 17h0m2-11h0m0-25h0m1-13h0m1 52h0m2-2h0m0 5h0m2-53h0m0 16h0m3-13h0m0-3h0m0 23h0m2 15h0m1-22h0m0 34h0m2-50h0m2 54h0m0-27h0m1 26h0m0-10h0m0-29h0m1 33h0m2-45h0m2 25h0m1-3h0m1 13h0m0-4h0m1 21h0m1-5h0m0-52h0m0 19h0m1 10h0m0-22h0m3 43h0m0-13h0m2-10h0m2 7h0m1-15h0m1 13h0m0-7h0m1-1h0m0 2h0m1 19h0m2-34h0m1 1h0m1 7h0m0-7h0m4 1h0m0-4h0m1 46h0m0-31h0m4 2h0m1-3h0m1 13h0m0-4h0m1 17h0m0-9h0m1-41h0m1 0h0m1 16h0m1 36h0m0-8h0m0-22h0m5 10h0m0 25h0m0-8h0m2-24h0m0-12h0m0 3h0m3 39h0m0-47h0m1-2h0m0 32h0m2-34h0m0 11h0m6 30h0m0-5h0m0 15h0m1-13h0m1-22h0m3 0h0m1 34h0m1-6h0m3-32h0m0 18h0m1 23h0m0-28h0m2 24h0m0-43h0m3 37h0m1-14h0m0 25h0m1-42h0m2 21h0m2 15h0m0-34h0m4 17h0m1 25h0m2-47h0m0 33h0m1-21h0m5 16h0m1-23h0m0 28h0m1-7h0m1 15h0m0 5h0m1-31h0m1-9h0m1 6h0m0 16h0m0-1h0m1-17h0m3-7h0m2 42h0m0-19h0m2 7h0m1-25h0m0 8h0m4-20h0m1 13h0m2 35h0m2-44h0m1 27h0m2-1h0m0-26h0m3-11h0m1 9h0m1 40h0m2-37h0m0 8h0m0 36h0m1-36h0m3-14h0m4 45h0m1-53h0m2 24h0m0-17h0m2 32h0m3-13h0m3 19h0m0-18h0m1 10h0m0 21h0m2-26h0m0-15h0m0-11h0m8 3h0m1 36h0m1-20h0m2-3h0m5-1h0m2 31h0m0-1h0m2 2h0m2-12h0m1 13h0m1-47h0m1 19h0m3 32h0m2-31h0m4 9h0m1-12h0m1-12h0m6 37h0m1-32h0m1 8h0m1 7h0m2 1h0m1-22h0m1 28h0m2 2h0m1-34h0m6 36h0m1 11h0m3-34h0m3 39h0m0-31h0m2-22h0m1 53h0m4-19h0m0-19h0m2 8h0m4-6h0m0 29h0m1-40h0m3 19h0m1 7h0m3-22h0m1-10h0m0 41h0m2 3h0m5 2h0m0-13h0m1 19h0m0-47h0m0 27h0m3 11h0m1-42h0m5 19h0m1 12h0m1 1h0m1 10h0m1-34h0m1 11h0m3-19h0m5 23h0m0 30h0m2-39h0m4 23h0m1-25h0m1 30h0m1-28h0m0 4h0m2-5h0m0 29h0m1 0h0m1-21h0m0 19h0m2-16h0m2-5h0m2 25h0m2-32h0m0 16h0m1 10h0m0-44h0m2 43h0m7 5h0m1-27h0m0-21h0m6 31h0m0-12h0m0-17h0m1 21h0m1 17h0m1-13h0m1 10h0m7-33h0m1 46h0m5-19h0m1 13h0m4-4h0m4-28h0m3 24h0m0-35h0m1 5h0m0 9h0m2 25h0m2-34h0m1 21h0m3-13h0m5 0h0m1-4h0m4 10h0m1-13h0m2 32h0m2-22h0m1 26h0m4-23h0m6-6h0m1 11h0m5 19h0m5-26h0m3 21h0m4-34h0m1 51h0m0-13h0m3-23h0m1 39h0m4-27h0m1-6h0m3 9h0m1-14h0m2 34h0m1-20h0m3-19h0m1 40h0m2-26h0m5 27h0m0-3h0m15-6h0m5 3h0m9-25h0m0 19h0m3 12h0m0-20h0m8-9h0m0-12h0m6 42h0m3-13h0m2-41h0m10 23h0m1 13h0m1-19h0m12 27h0m6-6h0m1-21h0m14 25h0m2-13h0m16-20h0m11 6h0m3 36h0m4-51h0m2-2h0m1 5h0m5 19h0m8-22h0m12 40h0m3 4h0m1 9h0m8-8h0m6-24h0m1 24h0m18-47h0m0 26h0m24-19h0m6 28h0m8-23h0m7-3h0m15-1h0m8-1h0m13-8h0m11 55h0m18-12h0m26-21h0m8 27h0m11-35h0m7 18h0m39-32h0m2 2h0m14 33h0m79-2h0m36-2h0m111-18h0m151 14h0m-2572 53h0m1 12h0m1-21h0m0 10h0m0 10h0m1 4h0m0-28h0m1 30h0m0-1h0m1-32h0m19 3h0m10 41h0m26-9h0m40-26h0m91-1h0m50 36h0m72-22h0m24-24h0m1 8h0m10 6h0m88-4h0m35 43h0m12-46h0m7-11h0m49 36h0m9-35h0m9 19h0m2-19h0m36 43h0m2 1h0m8-13h0m2 0h0m7 27h0m1-4h0m6 2h0m1-16h0m6-14h0m17-5h0m2 8h0m20 0h0m4 14h0m27-30h0m2 41h0m5-21h0m1-6h0m2-9h0m0 4h0m2-11h0m2-6h0m0 35h0m10-16h0m3-11h0m5-4h0m4 20h0m13 19h0m10-4h0m13-18h0m16 16h0m2 17h0m3-27h0m3 5h0m12-25h0m19-7h0m5 37h0m5-4h0m3 20h0m3-38h0m3 8h0m3-8h0m1-13h0m6 5h0m0 1h0m2 12h0m0 11h0m3 13h0m5-21h0m3 21h0m8-27h0m1 8h0m1-29h0m2 17h0m5 19h0m9 17h0m6-13h0m3-15h0m2-24h0m1 24h0m4-19h0m2 47h0m1-49h0m2 8h0m2-7h0m0 19h0m1 5h0m2-11h0m2-4h0m6 2h0m0-12h0m4 17h0m2 34h0m3-8h0m2-37h0m2 33h0m3 7h0m2 0h0m0 0h0m9-45h0m3 17h0m0-18h0m3 31h0m1 11h0m1-18h0m3 5h0m4 14h0m0-35h0m2-6h0m3 17h0m0-23h0m8 1h0m3 50h0m1-51h0m1 49h0m7-25h0m3-2h0m1 22h0m6 0h0m1-10h0m1 9h0m2-21h0m1 25h0m1 10h0m4-50h0m0 2h0m0 43h0m1-17h0m1-18h0m0-8h0m0 24h0m0-25h0m9 11h0m1-17h0m3 29h0m2-16h0m0-10h0m3-1h0m2 45h0m5-21h0m1-12h0m2 38h0m1-8h0m7-41h0m0 44h0m2-28h0m1 2h0m1-4h0m0 26h0m3-13h0m0 9h0m2 1h0m3 9h0m3-29h0m1 35h0m2-14h0m1-29h0m0 3h0m2-18h0m3 17h0m3-13h0m4 34h0m1 14h0m2-48h0m2 6h0m0 24h0m2-6h0m1-12h0m3 15h0m0 7h0m0-19h0m1-2h0m0 23h0m1 18h0m2-14h0m0-16h0m1 17h0m0-25h0m3-17h0m1 3h0m0-1h0m8 46h0m2-27h0m10 1h0m3-5h0m1 35h0m1-33h0m1 11h0m7-18h0m4-7h0m0 26h0m0-31h0m1 23h0m3-9h0m0 31h0m2-2h0m1 11h0m3-5h0m0-21h0m1-5h0m2 23h0m1 5h0m0-3h0m3-11h0m4-35h0m1 52h0m1-42h0m1 41h0m0-6h0m1-17h0m4-26h0m3 2h0m1 46h0m4-52h0m2 45h0m1 5h0m0-38h0m2 37h0m4-43h0m2 45h0m5-20h0m2-9h0m2 30h0m1-33h0m0-12h0m0-3h0m1 16h0m1 35h0m1-15h0m3-10h0m3 26h0m0-23h0m0-24h0m1 20h0m1-15h0m1 5h0m2 17h0m1-20h0m1 7h0m0 24h0m1-14h0m1-36h0m8 8h0m0 41h0m2-11h0m0-26h0m2 32h0m4-38h0m3 29h0m3 10h0m1-11h0m2 7h0m1-22h0m0 3h0m1 16h0m0 13h0m2-39h0m2 1h0m1 10h0m4 17h0m1-8h0m1-31h0m0 12h0m0-5h0m1 0h0m0 2h0m1 33h0m1-27h0m0 31h0m0-22h0m0 29h0m1-12h0m2-4h0m1-29h0m1-3h0m0 26h0m0 12h0m0 4h0m1 8h0m1-27h0m0 18h0m2 11h0m4-3h0m3-31h0m1-15h0m1 8h0m2 18h0m0-4h0m1-15h0m0 10h0m1 29h0m2-2h0m4-42h0m0-7h0m0 5h0m2-3h0m1 42h0m1-23h0m1 16h0m0-28h0m0 20h0m0-2h0m5-11h0m1-1h0m0-13h0m3 46h0m0-51h0m4 40h0m0-15h0m1-26h0m0 17h0m2 7h0m4 2h0m0-19h0m0-4h0m3 10h0m1 44h0m0-20h0m0-32h0m0 27h0m3-24h0m0 38h0m2-7h0m2-21h0m2-4h0m1 31h0m1-27h0m0 17h0m1-8h0m0-21h0m1 10h0m7 17h0m0-14h0m0-15h0m1 7h0m1 17h0m1 31h0m1-14h0m1-23h0m0 18h0m0-17h0m1 29h0m0-35h0m1-14h0m1 55h0m1-26h0m1 15h0m1-10h0m2 7h0m0-43h0m3 36h0m0 7h0m0-31h0m2-1h0m2 37h0m3-15h0m3-6h0m0-21h0m2 50h0m0-37h0m1 26h0m1-21h0m0 0h0m1-3h0m7 22h0m0-7h0m3-25h0m0 11h0m2 14h0m0-34h0m1 4h0m2 26h0m1-33h0m7 28h0m1-16h0m5 38h0m2 0h0m2-4h0m0 4h0m0 0h0m1 6h0m0-24h0m4 25h0m1-7h0m4 0h0m0-44h0m1 19h0m1-6h0m1 12h0m3 16h0m1-7h0m3-32h0m0-1h0m0 39h0m2 3h0m1-28h0m1 1h0m1-9h0m6 20h0m3-11h0m2 2h0m5 26h0m1-25h0m1-13h0m0 43h0m3 0h0m4-26h0m0-13h0m6-6h0m0-6h0m3 1h0m1 13h0m4-4h0m1-6h0m0 22h0m1-10h0m1-14h0m0-2h0m0 19h0m1-23h0m1 21h0m0 31h0m1-23h0m1 16h0m1 3h0m1-46h0m2 36h0m0-8h0m1-23h0m3 20h0m1-18h0m2-1h0m0 7h0m0 23h0m1-32h0m1 48h0m1-18h0m1-25h0m0 48h0m0-16h0m1-39h0m2 20h0m1-2h0m0 33h0m0-36h0m0 5h0m1-3h0m0-4h0m1 36h0m2-19h0m4-22h0m5 40h0m1-13h0m2 18h0m4-3h0m4-51h0m0 8h0m0-6h0m1 30h0m1-33h0m1 52h0m0 1h0m8-49h0m1 35h0m2-21h0m2-14h0m0 27h0m0 14h0m1-8h0m3-16h0m0 25h0m1-20h0m0-21h0m1 8h0m0 43h0m1-5h0m0-4h0m1-19h0m2 8h0m0-37h0m1 29h0m0 6h0m2-7h0m1-6h0m1-20h0m2 17h0m1-5h0m3 9h0m1 11h0m1-26h0m3 30h0m0-29h0m0 12h0m3-22h0m2 30h0m0 28h0m4-56h0m2 17h0m3 13h0m3-19h0m0 28h0m2 2h0m2-5h0m4-3h0m5-30h0m0 4h0m1 37h0m3-34h0m1 23h0m0-29h0m1 0h0m0 30h0m1-27h0m2 23h0m4-4h0m1 6h0m3-16h0m1-17h0m1-1h0m3 1h0m3 1h0m5 49h0m4-40h0m1 39h0m0-23h0m3-18h0m1 37h0m4-5h0m2-12h0m1-30h0m1 10h0m0-8h0m3 31h0m2-24h0m2 37h0m1 8h0m0-32h0m2-20h0m1 20h0m5-18h0m0-3h0m0 41h0m7-19h0m11-5h0m4 3h0m2 6h0m3 2h0m2 3h0m5-4h0m0 22h0m1-15h0m1 15h0m1-39h0m13 18h0m0-4h0m2 16h0m1-6h0m1 5h0m3-15h0m7 11h0m1-10h0m0-1h0m2-13h0m1-12h0m6 25h0m10-7h0m1 17h0m4-22h0m7 14h0m4 26h0m2-22h0m10-4h0m7-16h0m1 27h0m4 2h0m1-19h0m0-11h0m11 16h0m0-20h0m1 36h0m2-41h0m2 49h0m2-25h0m1-2h0m9 18h0m0 12h0m12-13h0m13-37h0m12 31h0m6-6h0m4 2h0m3-20h0m0-1h0m27-2h0m2 31h0m3-20h0m9 14h0m6 21h0m11-4h0m1 5h0m2-30h0m1-12h0m2 32h0m5-5h0m12 0h0m11-10h0m3 27h0m16-38h0m4 25h0m28 5h0m13-9h0m12 2h0m0-40h0m3 27h0m15 1h0m7-12h0m12 9h0m18 13h0m1-34h0m11 8h0m21-1h0m1 9h0m18 5h0m0 8h0m51-30h0m53 54h0m20-35h0m5 28h0m4-48h0m9 5h0m-2266 71h0m0 7h0m0 28h0m1-7h0m0-28h0m1 28h0m0-28h0m0-1h0m0 26h0m1-18h0m0-18h0m17 50h0m37-38h0m6 2h0m52-7h0m24 40h0m13-13h0m4-20h0m11-6h0m1 25h0m1 6h0m13-22h0m4-19h0m1-6h0m11 14h0m7 0h0m4 38h0m27-46h0m4-3h0m14 8h0m44 40h0m21-18h0m3-30h0m1 13h0m22 6h0m0 6h0m31 25h0m15 5h0m11-11h0m9-36h0m7-2h0m25 49h0m27-11h0m19-28h0m6 14h0m3-18h0m20 30h0m9-18h0m7-27h0m10 37h0m1 10h0m16-15h0m22-3h0m2-3h0m8 20h0m2-32h0m14 44h0m8-7h0m4 2h0m13-7h0m0-39h0m5 52h0m21-41h0m18-12h0m5 30h0m16 2h0m20-28h0m17-10h0m0 52h0m4-29h0m3 28h0m7-4h0m2-38h0m4 49h0m11-28h0m5-26h0m6 46h0m16-16h0m6-30h0m2 27h0m2-3h0m2 15h0m3-17h0m7-17h0m2 3h0m13 3h0m3-5h0m2 30h0m4-6h0m1-22h0m4 25h0m2-21h0m6 19h0m9 15h0m3-27h0m1-1h0m9 37h0m2-56h0m9 39h0m2-37h0m2 39h0m25 3h0m1-44h0m1 10h0m2 26h0m3-9h0m4 3h0m2 1h0m1 5h0m0-20h0m1 7h0m3 5h0m17-16h0m1 7h0m3-7h0m9 40h0m7-38h0m2 40h0m6-3h0m3-53h0m7 8h0m3 9h0m1 32h0m3-28h0m6-2h0m2-7h0m6 13h0m9-24h0m1 38h0m0-8h0m2 25h0m0-4h0m5-7h0m1-29h0m2 16h0m2-18h0m1 21h0m2 19h0m0-48h0m4 25h0m2 11h0m2-14h0m9 19h0m2 3h0m4-16h0m1 15h0m4-5h0m2-10h0m3 19h0m2-36h0m1 37h0m1-31h0m1 9h0m2-21h0m1 14h0m2 33h0m2-14h0m1 8h0m0-12h0m3 8h0m1 3h0m3-20h0m4 13h0m1-34h0m2 15h0m0-11h0m1-3h0m5 17h0m0-10h0m0 1h0m5 21h0m2 12h0m0-9h0m0-9h0m0-13h0m3 17h0m3 5h0m5 11h0m0-10h0m0-8h0m1-31h0m1 10h0m2-9h0m3 49h0m1-22h0m0-1h0m8-17h0m4-13h0m3 9h0m0 15h0m1 7h0m2-26h0m1 4h0m6 22h0m2 6h0m0-34h0m1 17h0m2 32h0m1-44h0m1-1h0m2 22h0m1-13h0m0 24h0m4-38h0m1 22h0m1 26h0m4-42h0m0 13h0m3 13h0m4 0h0m1-29h0m0 6h0m2 29h0m2-9h0m0 4h0m2-19h0m0-10h0m2 51h0m1-29h0m3-21h0m1-6h0m0-4h0m2 13h0m0 15h0m2-2h0m0 20h0m2 4h0m1-47h0m1 47h0m3-11h0m2-34h0m1 18h0m1-5h0m1-8h0m0 8h0m2-14h0m0 9h0m4 15h0m1 15h0m1-9h0m0-14h0m0 30h0m2-25h0m1-4h0m1-17h0m2 39h0m0-36h0m1 41h0m3-24h0m1-18h0m4 53h0m3-33h0m1-16h0m1 0h0m1 38h0m0-36h0m0-8h0m0 52h0m4-14h0m1-28h0m0-6h0m1 2h0m0-5h0m1 19h0m1 9h0m1-16h0m1-13h0m6-3h0m1 51h0m3-32h0m0-2h0m2 20h0m0-28h0m1 23h0m3-19h0m0 28h0m1-15h0m1 16h0m0-22h0m4 29h0m1 1h0m1-18h0m3-21h0m1 37h0m2-11h0m1-20h0m1 0h0m3 37h0m5-13h0m0-28h0m5 20h0m0 7h0m0-37h0m0 38h0m1-16h0m0 3h0m4 22h0m2-18h0m1 18h0m2-47h0m0 47h0m1-46h0m1-5h0m0 14h0m0 38h0m1-29h0m0 25h0m1-27h0m4 28h0m3-8h0m1-16h0m0 21h0m0 10h0m2-35h0m4-15h0m2 27h0m4 20h0m0-32h0m3-19h0m2 38h0m1-29h0m1 37h0m0-5h0m1-1h0m4-32h0m2 16h0m3-22h0m0 16h0m1 6h0m0 12h0m0 12h0m1-33h0m1 24h0m1-37h0m1 19h0m2 1h0m0 2h0m2-3h0m2 0h0m1 23h0m1 13h0m0-5h0m0-44h0m2 22h0m4-15h0m1 18h0m1-27h0m3 29h0m4 22h0m5-57h0m1 18h0m1-14h0m4 44h0m3-22h0m7-24h0m0 46h0m1 7h0m2-45h0m1 27h0m0 7h0m1-17h0m4-25h0m0 32h0m2-15h0m0-20h0m1-1h0m0 44h0m2-37h0m1 11h0m1-16h0m0 5h0m3 49h0m1-41h0m1-5h0m1-7h0m4 11h0m0 33h0m0-6h0m1-13h0m0-9h0m2 24h0m0 8h0m3-1h0m3-37h0m1 47h0m0-20h0m2-27h0m0 33h0m2-31h0m3 13h0m0-22h0m0 13h0m0-4h0m1 29h0m3-31h0m1 7h0m1-3h0m1 29h0m0-22h0m0 21h0m5-25h0m3 8h0m0 12h0m2-5h0m1-5h0m2-21h0m2-4h0m0 26h0m2 1h0m1 13h0m1 12h0m2-42h0m0-1h0m3-12h0m2 44h0m2-44h0m0 33h0m2 5h0m0-5h0m0 24h0m3-14h0m4-7h0m3-33h0m0 41h0m1-39h0m3 4h0m1 46h0m2-37h0m3-9h0m4 30h0m0-17h0m2 27h0m1-24h0m1-7h0m1-11h0m0 48h0m2-38h0m10 2h0m4 37h0m6-35h0m3 32h0m2-20h0m1-6h0m3-14h0m1-7h0m0 2h0m1 39h0m1-29h0m3 23h0m5-14h0m0-2h0m2 6h0m1 13h0m2-14h0m0 20h0m2-23h0m1 21h0m1-28h0m0 35h0m2-29h0m3-5h0m3 35h0m1-38h0m1-12h0m1 6h0m4 36h0m11-6h0m1 0h0m3-3h0m13-16h0m6 18h0m5 15h0m1-57h0m7 23h0m0 15h0m3 13h0m3-37h0m3 18h0m7 1h0m4 24h0m0-30h0m2-12h0m6-14h0m1 21h0m3 30h0m0-41h0m1-6h0m2 28h0m3-16h0m0 36h0m1-17h0m4-1h0m2 17h0m3-48h0m0 29h0m5-11h0m1 13h0m1 2h0m4 10h0m4 3h0m1-22h0m3-25h0m2 43h0m0-6h0m1-24h0m6 40h0m5-21h0m4-27h0m1 24h0m1-27h0m3 50h0m8-7h0m2-43h0m2 24h0m1 28h0m0-38h0m9 8h0m1-23h0m8 40h0m1-12h0m4 22h0m3-21h0m1-32h0m3 25h0m9-9h0m3-18h0m1 27h0m4-7h0m4 3h0m10-3h0m4 3h0m21 19h0m0 15h0m1-22h0m3-10h0m3-23h0m19 35h0m14-13h0m3-16h0m10 28h0m0 7h0m2-25h0m8 25h0m17-11h0m2-11h0m2-14h0m1 18h0m2 17h0m2-21h0m21 18h0m15-9h0m2-25h0m6 22h0m7 28h0m7-48h0m7 24h0m37-9h0m24 8h0m36 1h0m26 11h0m1 4h0m26-7h0m0-28h0m0 24h0m20 4h0m8-32h0m64 30h0m105-36h0m396 10h0m-2699 65h0m0 40h0m0 1h0m1-52h0m0 5h0m0 17h0m0-25h0m2 54h0m0-56h0m0 12h0m0 25h0m0-5h0m0 27h0m37-47h0m23 6h0m17-13h0m11 43h0m7-3h0m24-14h0m5-29h0m15 4h0m42 13h0m19-9h0m54 23h0m13 27h0m31-4h0m12-5h0m28-20h0m28-10h0m6-11h0m8 30h0m13 14h0m20-54h0m28 46h0m8-42h0m11 2h0m20 47h0m11-19h0m20 24h0m14-17h0m6-17h0m24 34h0m8-3h0m4-9h0m10 8h0m22-19h0m1-35h0m15 47h0m28-27h0m23 18h0m14-32h0m4 1h0m4 26h0m24 21h0m7 0h0m16-34h0m4 0h0m4-16h0m7 49h0m6-35h0m18 19h0m8-23h0m1 2h0m2 21h0m9 6h0m2-32h0m2 23h0m10-3h0m0 2h0m1 9h0m6-3h0m10 7h0m5 5h0m1-22h0m4 8h0m1-10h0m4-23h0m3 1h0m3 25h0m10 16h0m7-21h0m0 6h0m5-21h0m6 13h0m3 30h0m5-33h0m3 35h0m6-44h0m5 45h0m2 0h0m2-32h0m1 16h0m6 11h0m9-10h0m1-39h0m0 34h0m4-31h0m2 4h0m4 37h0m4-10h0m5-13h0m15 18h0m2-5h0m1 5h0m0-15h0m2 23h0m14-49h0m0 27h0m9-26h0m1 4h0m1 49h0m1-45h0m3 17h0m1 20h0m0 5h0m3-13h0m3-37h0m0 6h0m3 36h0m5-30h0m2 20h0m6-18h0m3 2h0m0 8h0m0 4h0m2 25h0m7-53h0m1 18h0m1 6h0m1-12h0m4-7h0m3-1h0m5 47h0m0-6h0m1-14h0m4 28h0m3-53h0m1 26h0m2-6h0m0-12h0m1 20h0m6 0h0m1-12h0m1-21h0m0 37h0m1-1h0m0-14h0m1 32h0m0-4h0m0-32h0m1 39h0m1-15h0m1-41h0m0 10h0m5 25h0m0-32h0m1 13h0m0 38h0m0-44h0m2-6h0m2 7h0m1 33h0m2-42h0m1 8h0m1 26h0m1 5h0m1 14h0m2-47h0m1 29h0m2 1h0m4-7h0m1-11h0m1 27h0m1-13h0m0-30h0m0 33h0m3 4h0m0-5h0m9-23h0m3 28h0m1-11h0m0 21h0m0 4h0m10-41h0m2 34h0m5-6h0m1-36h0m2-2h0m4 32h0m1-11h0m0 3h0m5-19h0m1 17h0m2 14h0m1 17h0m1-45h0m1 43h0m3-54h0m2 44h0m0-34h0m1 7h0m0 6h0m4 27h0m0-38h0m0-14h0m1 58h0m2-5h0m2-31h0m1 2h0m1 13h0m5 0h0m12 4h0m4-31h0m3 10h0m0 31h0m1-15h0m0-26h0m1-6h0m5 47h0m4-6h0m1-28h0m2 8h0m1-10h0m1-2h0m0 25h0m2 4h0m0-37h0m2 32h0m5 4h0m1-24h0m3-14h0m0 28h0m1 25h0m2-54h0m1 43h0m4-16h0m1-29h0m0 55h0m3-32h0m1 20h0m3 13h0m0-7h0m2-13h0m3-5h0m1 1h0m5-20h0m0 29h0m1 13h0m2-48h0m1 15h0m4-3h0m2 37h0m0-9h0m4-36h0m1 17h0m4 26h0m2-31h0m1 10h0m3 19h0m0 1h0m1 4h0m0-14h0m3-13h0m1 7h0m1-22h0m3 12h0m1 4h0m0-21h0m1 32h0m1 2h0m1-13h0m4-14h0m2 20h0m2 15h0m2-45h0m1 7h0m2 33h0m2-5h0m2 8h0m2-21h0m0 0h0m1 26h0m3-7h0m2-36h0m1 8h0m1-2h0m4-19h0m1 5h0m2 14h0m1 19h0m4 13h0m2-29h0m0 2h0m1 25h0m2-4h0m1-9h0m1 18h0m1-40h0m0-1h0m5 21h0m4 4h0m1-6h0m3-29h0m1 41h0m0-8h0m1-2h0m1 23h0m0-48h0m1-1h0m0 17h0m1 13h0m2 16h0m1 3h0m0-55h0m0 21h0m2 17h0m1-9h0m3 21h0m1-44h0m1 35h0m4-32h0m2 46h0m1 3h0m0-55h0m6 50h0m0 0h0m7-26h0m1-21h0m6 27h0m5-20h0m0 16h0m3 16h0m1-12h0m0 24h0m1-55h0m2 49h0m0-45h0m2 31h0m1-25h0m6-10h0m2 37h0m1 15h0m4-45h0m1 31h0m4-27h0m3 13h0m3 27h0m0-30h0m1 27h0m1 0h0m1-35h0m0 39h0m1-4h0m1-16h0m2-34h0m3 22h0m3-18h0m0 22h0m1-12h0m0 39h0m6-43h0m1-9h0m8 29h0m1 1h0m0 9h0m1-11h0m1-7h0m1-13h0m2 10h0m4-3h0m10-13h0m4 30h0m1 10h0m1-11h0m0 23h0m0-40h0m2 3h0m8-10h0m2 0h0m1 43h0m3-48h0m0 38h0m1-18h0m4-7h0m1 35h0m6-49h0m4 45h0m2-24h0m1 21h0m5-1h0m4-17h0m0 6h0m2 8h0m4 12h0m1-24h0m1 16h0m2-45h0m0 32h0m0-8h0m0 5h0m1 6h0m1 13h0m4-47h0m3 57h0m2-5h0m0-2h0m3 6h0m6-56h0m1 27h0m2 12h0m0-16h0m2-15h0m3 19h0m3 9h0m2-35h0m0 43h0m1 5h0m3-13h0m1 16h0m4-44h0m2 0h0m1 3h0m11 32h0m3 14h0m3-5h0m6-53h0m11 23h0m5 31h0m0-48h0m4-2h0m2 52h0m2-24h0m2 8h0m1-13h0m0-23h0m12 50h0m3-47h0m2-5h0m2 39h0m1-42h0m2 34h0m3 1h0m9-3h0m1 9h0m4-25h0m0 34h0m0-27h0m7 3h0m2 2h0m8 16h0m2-14h0m2 9h0m3-13h0m4-24h0m5 8h0m15 37h0m3-6h0m3-19h0m7 10h0m1 24h0m25-3h0m4-11h0m12-34h0m1-4h0m7 8h0m3 22h0m6-15h0m5 24h0m8 16h0m13-50h0m3 45h0m2-12h0m7-29h0m1 29h0m4-12h0m13-9h0m13 9h0m22 9h0m17-29h0m13 9h0m1-5h0m3 35h0m20-17h0m19-7h0m14 20h0m110-11h0m145 18h0m8-36h0m208-4h0m218 46h0m-2651 56h0m0-50h0m4 13h0m0-9h0m14 13h0m17 31h0m10-21h0m11-3h0m8-8h0m14 0h0m1 17h0m6-28h0m10 5h0m6 27h0m13 2h0m18 16h0m5-1h0m9-5h0m13 5h0m35-56h0m1 49h0m5-46h0m7 27h0m8 3h0m6 17h0m19-8h0m43-21h0m14 31h0m12-7h0m12 8h0m20-31h0m1 35h0m20-9h0m20-10h0m3 19h0m1-22h0m18-35h0m4 22h0m72-13h0m27 7h0m8 10h0m8 7h0m0-6h0m16-28h0m11 47h0m16-5h0m4-26h0m6 26h0m10-38h0m11 15h0m23 27h0m5-6h0m12-21h0m2 34h0m3-53h0m2 23h0m0 28h0m20-26h0m14 26h0m2-1h0m5-20h0m1 0h0m2 5h0m4 7h0m7-15h0m1 28h0m8-31h0m1 14h0m16-4h0m4-16h0m3-9h0m12 19h0m4 5h0m1 4h0m5 1h0m8-4h0m8 7h0m13-24h0m7 5h0m3 1h0m1-22h0m8 30h0m1-26h0m0 11h0m1 6h0m8-14h0m4-7h0m7 8h0m7-6h0m9 38h0m5-35h0m6-6h0m14 1h0m2 15h0m5-6h0m1 31h0m2-28h0m3 21h0m10 8h0m2 9h0m1-6h0m15-29h0m1 30h0m1-44h0m2 34h0m9 11h0m0-20h0m4-15h0m4 20h0m1 10h0m1-36h0m3-4h0m4 54h0m0-51h0m9 22h0m1-1h0m2-22h0m0 2h0m2 6h0m2 24h0m5 23h0m6-17h0m5-40h0m2 42h0m0-11h0m1-7h0m4-17h0m4 8h0m1 11h0m1-8h0m2-13h0m8 26h0m1-27h0m1-7h0m6 10h0m2 37h0m7 8h0m2 0h0m5-20h0m4 16h0m1-3h0m4-45h0m2 37h0m4-11h0m1-12h0m2 42h0m8-27h0m5 10h0m3-41h0m3 21h0m2-1h0m1-19h0m1 6h0m1 12h0m5 39h0m1-17h0m5-17h0m1 2h0m1-9h0m6 40h0m0-26h0m2 7h0m12 16h0m6-44h0m1 9h0m1 25h0m2 0h0m5-22h0m3-18h0m3 18h0m5 23h0m1 1h0m2-18h0m0-20h0m1 20h0m1 28h0m0-43h0m2 39h0m1-3h0m1-36h0m0 31h0m2-43h0m4 4h0m2 38h0m5 12h0m2-33h0m5 26h0m10-35h0m2 42h0m0-29h0m2-25h0m3 9h0m5 43h0m5 3h0m2-1h0m2-9h0m0-43h0m3 17h0m2 21h0m1-6h0m0 15h0m1-42h0m3 29h0m1-18h0m0 22h0m2-38h0m1 13h0m0 5h0m1 37h0m0-54h0m9 46h0m0-23h0m4-26h0m0 55h0m1-56h0m1 50h0m1-27h0m2 21h0m3-13h0m7 11h0m4-9h0m4 13h0m1-34h0m8 47h0m2-23h0m1-34h0m2 31h0m1 13h0m1-42h0m1 11h0m3 29h0m0-31h0m1-1h0m1 11h0m0-22h0m1 40h0m0-12h0m3 4h0m0-31h0m3 41h0m3-30h0m2-6h0m2 34h0m5 9h0m0-25h0m0-7h0m2 39h0m3-26h0m1 18h0m1-47h0m4 0h0m1 39h0m2 1h0m5-30h0m1 46h0m2-28h0m5-15h0m2 3h0m1 7h0m0 2h0m1-15h0m7-6h0m11 28h0m1 20h0m0-4h0m3-45h0m3 34h0m1-10h0m1 23h0m3-6h0m1-35h0m3 12h0m0 16h0m1-22h0m1-8h0m1 50h0m6-28h0m2-27h0m1 31h0m1 14h0m0-36h0m1 2h0m2-6h0m4 10h0m3 39h0m10-51h0m2 39h0m5-9h0m3-14h0m1 7h0m1-4h0m3-18h0m1 30h0m6 16h0m6-6h0m0-35h0m2 36h0m7-3h0m2-2h0m4-19h0m3 5h0m4-21h0m0-8h0m1 24h0m3-10h0m2-4h0m5-4h0m1 46h0m4-11h0m4-10h0m2 15h0m6-3h0m2-28h0m3-16h0m0 57h0m5-53h0m0 9h0m6 12h0m1 2h0m3-1h0m4-3h0m5 10h0m0 1h0m0-13h0m7 13h0m1-23h0m1 29h0m4-27h0m6 44h0m0-25h0m4 9h0m2 7h0m4-1h0m1-33h0m16 20h0m0 13h0m1-29h0m0 14h0m0 23h0m1-18h0m1 14h0m1-29h0m6 6h0m4 17h0m1-5h0m3-24h0m14-1h0m0 19h0m4-31h0m2 20h0m2-16h0m3 3h0m4 0h0m20 33h0m2-20h0m2 15h0m9 8h0m4-40h0m5 1h0m0 38h0m1-14h0m1-13h0m6-11h0m2 40h0m1-38h0m2 15h0m4 0h0m4 16h0m7-33h0m4 29h0m1-37h0m0 2h0m1 11h0m5 31h0m22-25h0m5-9h0m11 6h0m20 28h0m12-22h0m2-2h0m23 14h0m5-18h0m8 5h0m8 16h0m24-20h0m4 37h0m22-31h0m1-13h0m13 21h0m4-11h0m7 39h0m50-26h0m24-11h0m87-7h0m57 25h0m127 9h0m15-47h0m125 8h0m49-8h0m128 35h0m-2500 80h0m0-27h0m2 23h0m1-15h0m1-7h0m38-4h0m24 2h0m10 14h0m24 9h0m39-39h0m3 28h0m8 19h0m11-28h0m24 27h0m39-48h0m6 47h0m14-45h0m57 32h0m13-28h0m26 27h0m25-42h0m18 50h0m36-27h0m2-15h0m17 30h0m40 16h0m0-3h0m2-43h0m33-4h0m26 45h0m6-38h0m9 29h0m2-31h0m5 31h0m2-34h0m9 16h0m1 2h0m6 26h0m7-12h0m52-3h0m10 1h0m3-3h0m64-12h0m6 25h0m10-42h0m1 35h0m20-16h0m1-19h0m12 9h0m0-7h0m3 30h0m0-7h0m3 14h0m3 13h0m5-19h0m8-33h0m6-1h0m4 0h0m3 39h0m22-19h0m21-15h0m4 47h0m14-35h0m6 2h0m8-3h0m4 3h0m3 19h0m3-7h0m2-23h0m1 31h0m6-6h0m0-19h0m2 3h0m3 37h0m2-25h0m1-11h0m0 20h0m2-12h0m10 21h0m2-33h0m15 40h0m14-58h0m2 52h0m1-35h0m3-15h0m3 28h0m4 8h0m7-22h0m4 9h0m2-25h0m3-1h0m2 38h0m5-5h0m2-32h0m9 45h0m1-45h0m1 57h0m3-18h0m1-36h0m4 23h0m7-20h0m4 38h0m5-2h0m11 9h0m12-41h0m2 38h0m1-18h0m0 15h0m1-25h0m1-4h0m4 40h0m1-13h0m6-43h0m0 58h0m1-1h0m0-20h0m1-9h0m1-8h0m4 20h0m5-22h0m0 12h0m7-21h0m6 12h0m3 7h0m3 24h0m0-32h0m2 28h0m5-46h0m0 32h0m3-18h0m2 35h0m2-47h0m1 54h0m2-16h0m4-6h0m1-26h0m10 8h0m8 5h0m12-6h0m2 31h0m0-33h0m5-11h0m0 19h0m6 22h0m4-3h0m2-35h0m1-5h0m14 19h0m1 2h0m11 2h0m1 14h0m10-36h0m2 20h0m1-19h0m7 5h0m1 41h0m1-46h0m4 31h0m1 11h0m16-44h0m1 42h0m20 5h0m0-4h0m1-19h0m1 11h0m0-12h0m2 23h0m3-44h0m6 45h0m16-2h0m11 6h0m6-16h0m1-1h0m2 5h0m8 3h0m0-42h0m3 12h0m2 27h0m1 13h0m5-4h0m1-42h0m0 48h0m4-31h0m1 21h0m5-14h0m9 13h0m6-40h0m7 54h0m0-53h0m0 33h0m2-29h0m2 33h0m1 0h0m2-36h0m6 42h0m3-43h0m1 51h0m5-49h0m8-3h0m3 52h0m2-57h0m4 42h0m0 1h0m0-12h0m4-28h0m8 3h0m3 45h0m16-13h0m16-20h0m10-7h0m1-9h0m7 49h0m25-43h0m2 20h0m8-15h0m5 21h0m0-31h0m2 7h0m1 6h0m12 27h0m3-33h0m10-7h0m1 9h0m16 29h0m1-12h0m7-19h0m2 4h0m2 44h0m1-43h0m8 29h0m13 14h0m2-20h0m8-15h0m1 1h0m2 4h0m5-1h0m0-24h0m8 46h0m2-12h0m7 3h0m9-20h0m5 31h0m1-7h0m6 0h0m12-45h0m13 26h0m7-14h0m9 20h0m11-15h0m1-1h0m21-14h0m4 42h0m9-40h0m31 24h0m3-24h0m8 24h0m4-14h0m2 31h0m66-44h0m3 30h0m5 10h0m3-21h0m7 37h0m12-7h0m8-24h0m23-16h0m58 13h0m200 8h0m41-5h0m369-6h0m-2562 76h0m1-6h0m2 13h0m0-25h0m3-12h0m0 18h0m40-23h0m30 4h0m5 54h0m10-33h0m19-14h0m16-10h0m8 48h0m24-26h0m8 30h0m9-32h0m36 31h0m32-14h0m30 9h0m38-34h0m26-6h0m10 18h0m2 32h0m0-32h0m20-15h0m1 6h0m55 28h0m37-40h0m1 0h0m4 7h0m0 31h0m15-20h0m37 15h0m9 21h0m1-14h0m9 13h0m18-42h0m21 44h0m8-54h0m7 47h0m2-31h0m12 9h0m5 12h0m10 15h0m3-18h0m9-15h0m3 29h0m54-44h0m32 28h0m5-31h0m14 5h0m22 18h0m6 30h0m17-39h0m7 35h0m5-54h0m7 47h0m9-36h0m13 25h0m10 15h0m12-4h0m10-43h0m6 32h0m0-23h0m16 15h0m4-15h0m6-1h0m7 7h0m5 13h0m12-2h0m9-13h0m2-11h0m6-6h0m5 13h0m1 30h0m13-3h0m1-32h0m21-4h0m10 35h0m1-36h0m3 4h0m10 9h0m10-10h0m0 22h0m4-27h0m9 13h0m1 15h0m4 6h0m5-12h0m1 0h0m0 15h0m9 15h0m4-7h0m3-33h0m4-7h0m1 41h0m11 11h0m10-27h0m2-11h0m2 14h0m0-25h0m4-7h0m6 47h0m2-23h0m9 14h0m3-4h0m3-9h0m4 30h0m1 1h0m1-55h0m7 43h0m3 0h0m7-46h0m6 29h0m2-30h0m16 5h0m6 39h0m1-43h0m1 8h0m10 13h0m1 13h0m1-3h0m4-26h0m9 50h0m2-55h0m0 40h0m2-15h0m1 21h0m2-21h0m0 3h0m9 5h0m3-28h0m12 51h0m1-52h0m3 40h0m3 7h0m5-27h0m9-19h0m9 34h0m0-2h0m2 13h0m2-6h0m7-5h0m2 15h0m8-32h0m3 15h0m4-27h0m3-10h0m2-2h0m1 11h0m0-10h0m1 21h0m17 11h0m9 5h0m12-6h0m1-29h0m2 6h0m6-4h0m4 47h0m3-22h0m1-24h0m6 46h0m0-48h0m0 23h0m14-17h0m3 9h0m2 35h0m4-28h0m3-4h0m1-7h0m0 11h0m2 10h0m9-3h0m1 20h0m12-9h0m9-3h0m19-29h0m12-7h0m4 24h0m5-17h0m10-1h0m11 8h0m25-11h0m8-6h0m5 30h0m1-29h0m22 37h0m22-11h0m19-7h0m15 10h0m0 25h0m13-57h0m13 35h0m0 22h0m7-26h0m8-12h0m25 14h0m31 9h0m26 8h0m11-45h0m10-1h0m76 43h0m65-29h0m32 11h0m4-21h0m-1899 69h0m2 42h0m0-10h0m1-38h0m0 2h0m1 37h0m31-49h0m1 39h0m29-9h0m36 1h0m8 3h0m17-10h0m10-21h0m32 50h0m36 5h0m26-49h0m20 26h0m0-9h0m9-7h0m8 17h0m31-14h0m16 29h0m43-4h0m36 10h0m20-22h0m11-30h0m15 2h0m7 48h0m0-9h0m7-26h0m55-2h0m18 6h0m0 33h0m5-25h0m8-11h0m4 35h0m8-53h0m9 37h0m4 14h0m9-47h0m29 26h0m23 6h0m9 0h0m9 1h0m3-38h0m5 10h0m16 34h0m21-18h0m6-1h0m34 12h0m7-34h0m19 30h0m12 17h0m18 4h0m8-8h0m24-15h0m2 21h0m11-15h0m5-6h0m3-24h0m3 41h0m2 4h0m11-32h0m1 7h0m2-1h0m10-2h0m32-20h0m2 51h0m36-39h0m7 5h0m10 22h0m3 2h0m34 3h0m3-30h0m1 25h0m14-30h0m2 35h0m6-21h0m7 8h0m3 14h0m4-41h0m1 25h0m1-27h0m16 30h0m1 3h0m2-35h0m2 37h0m2-12h0m15-11h0m29 26h0m0-4h0m1-43h0m4 13h0m14 21h0m10-12h0m1 22h0m8-7h0m4-8h0m4 2h0m8-1h0m5-1h0m4 15h0m25 14h0m6 1h0m3-39h0m9 13h0m7-26h0m1 13h0m3 10h0m0-30h0m4 1h0m3 1h0m5 35h0m4-4h0m16-29h0m5 43h0m19-43h0m13 30h0m22 4h0m11-16h0m2 11h0m7-27h0m7 11h0m0-5h0m2-4h0m1 42h0m4-3h0m2-30h0m6 12h0m7-27h0m57 37h0m14-38h0m3 7h0m5 6h0m10-10h0m20-3h0m4 48h0m8-28h0m1-4h0m2 36h0m13-41h0m13-2h0m10 6h0m36-2h0m8 2h0m1 5h0m1-6h0m43-9h0m16 16h0m11 33h0m39 4h0m9-54h0m9 4h0m24-6h0m39 36h0m77 13h0m27-47h0m71 15h0m6 3h0m239-22h0m-2173 84h0m0-1h0m3 12h0m0-23h0m3 33h0m31 9h0m51-46h0m70-8h0m20 10h0m14 14h0m72 30h0m26-3h0m46-22h0m28 5h0m20 17h0m31-10h0m17 15h0m28-56h0m68 12h0m12-5h0m10 47h0m24-6h0m6-43h0m28 10h0m38 0h0m51 24h0m5-28h0m21 29h0m44 18h0m5-16h0m18-31h0m14 23h0m11-29h0m15 28h0m13-28h0m27 8h0m5 33h0m46-27h0m10 35h0m0-17h0m3-13h0m29 32h0m3-55h0m0 4h0m12 15h0m17-7h0m26 2h0m7 24h0m20-33h0m20 4h0m1-4h0m11 37h0m12-17h0m22-9h0m8 18h0m5 19h0m14-17h0m23-4h0m4-25h0m20-5h0m25 28h0m36-2h0m3 0h0m13-30h0m11 34h0m26 20h0m4-8h0m38-6h0m4 9h0m7-42h0m11 49h0m16-12h0m8-18h0m4-7h0m15 11h0m14-26h0m17 54h0m1-56h0m6 44h0m18-24h0m4-5h0m16-2h0m20-11h0m17 17h0m9-1h0m4-5h0m28 12h0m22-6h0m6-9h0m86-3h0m4 36h0m4 2h0m88-37h0m84-4h0m14 1h0m371 52h0m-2241 55h0m1-38h0m0 17h0m2-4h0m38-10h0m61 32h0m4-48h0m63 2h0m1 50h0m4-33h0m30 11h0m29-4h0m6 5h0m3 12h0m34-40h0m40 37h0m7-13h0m53-29h0m32 22h0m12-16h0m5 9h0m79 0h0m4 6h0m14 3h0m0 23h0m9-10h0m31-4h0m63-20h0m19 37h0m39 5h0m111-1h0m2-30h0m2-13h0m26 33h0m7 10h0m69-42h0m38-11h0m6 30h0m4 2h0m3-5h0m5-10h0m51 25h0m19-27h0m12 40h0m37-53h0m20 28h0m24-32h0m60 32h0m37-13h0m8 26h0m51-24h0m7 1h0m30-18h0m1 40h0m44-14h0m22-11h0m16 0h0m10 21h0m43-5h0m107 11h0m2-39h0m11 1h0m26 0h0m84 16h0m10-24h0m135 17h0m189 24h0m-2009 57h0m59-19h0m27 25h0m51-36h0m22 18h0m69 3h0m8 19h0m105-2h0m9 5h0m33-49h0m52 53h0m13-53h0m11 32h0m21 12h0m33-17h0m87-15h0m96 27h0m26-31h0m23 40h0m69-37h0m25 17h0m0-26h0m2 51h0m110-28h0m18 7h0m7-13h0m42 6h0m56 31h0m7-45h0m5 6h0m3 0h0m106 39h0m24-12h0m45-17h0m104 21h0m21-37h0m140 11h0m137 31h0m164-7h0m-1803 33h0m41-13h0m45 25h0m39-22h0m0 26h0m102 23h0m40-21h0m7-20h0m38 7h0m34-5h0m34 38h0m39-26h0m67-19h0m43-2h0m4 43h0m38-10h0m15 15h0m8-24h0m91 18h0m9-31h0m49-18h0m54 4h0m33 37h0m13-30h0m17 9h0m58-16h0m68-4h0m35 47h0m1-2h0m8-23h0m10 28h0m19-8h0m101-37h0m106 26h0m102-9h0m168-23h0m-1489 101h0m51-42h0m44 2h0m74 26h0m198 10h0m29 0h0m87-29h0m63-8h0m140 53h0m45-47h0m50 6h0m80 43h0m177-13h0m208 3h0m-1223 47h0m7 16h0m159-27h0m160-11h0m76-7h0m565 1h0m666 46h0m-1610 58h0m8-28h0m132 11h0m72-31h0m24 10h0m8 40h0m117-20h0m460 7h0m103-7h0m69-28h0m1166 390h0m65 0h0m21 0h0m21 0h0m28 0h0m60 0h0m50 0h0m85 0h0m65 0h0m370 0h0" stroke="#c5c5c5" stroke-width="24" stroke-linecap="round" fill="none"/>
<path d="M72 729.6H275.5M281.2 729.6H292.5" stroke="#c3c3c3" stroke-width="2.4"/>
<circle cx="351.5" cy="531" r="1.15" fill="#c2c2c2"/>
<circle cx="392.5" cy="530" r="1.15" fill="#c2c2c2"/>
<circle cx="380" cy="550" r="1.15" fill="#c2c2c2"/>
<circle cx="365" cy="574" r="1.15" fill="#c2c2c2"/>
<circle cx="370" cy="591" r="1.15" fill="#c2c2c2"/>
<circle cx="371" cy="604" r="1.15" fill="#c2c2c2"/>
<circle cx="384" cy="605" r="1.15" fill="#c2c2c2"/>
<circle cx="407.5" cy="603" r="1.15" fill="#c2c2c2"/>
<circle cx="430" cy="596.5" r="1.15" fill="#c2c2c2"/>
<path d="M60.5 737.6L320.6 505" stroke="#c8102e" stroke-width="2.0"/>
<path d="M45.6 505.5V738.3M44.9 737.6H444.5" stroke="#000" stroke-width="1.5" fill="none"/>
<text x="36.20" y="733.90" font-size="12.2" text-anchor="end" fill="#231f20">0</text>
<text x="36.20" y="705.50" font-size="12.2" text-anchor="end" fill="#231f20">1</text>
<text x="36.20" y="677.10" font-size="12.2" text-anchor="end" fill="#231f20">2</text>
<text x="36.20" y="648.70" font-size="12.2" text-anchor="end" fill="#231f20">3</text>
<text x="36.20" y="620.30" font-size="12.2" text-anchor="end" fill="#231f20">4</text>
<text x="36.20" y="591.90" font-size="12.2" text-anchor="end" fill="#231f20">5</text>
<text x="36.20" y="563.50" font-size="12.2" text-anchor="end" fill="#231f20">6</text>
<text x="36.20" y="535.10" font-size="12.2" text-anchor="end" fill="#231f20">7</text>
<text x="69.50" y="756.60" font-size="12.2" text-anchor="middle" fill="#231f20">0</text>
<text x="149.20" y="756.60" font-size="12.2" text-anchor="middle" fill="#231f20">1</text>
<text x="228.90" y="756.60" font-size="12.2" text-anchor="middle" fill="#231f20">2</text>
<text x="308.60" y="756.60" font-size="12.2" text-anchor="middle" fill="#231f20">3</text>
<text x="388.30" y="756.60" font-size="12.2" text-anchor="middle" fill="#231f20">4</text>
<path d="M41.3 729.60H45.6M41.3 701.20H45.6M41.3 672.80H45.6M41.3 644.40H45.6M41.3 616.00H45.6M41.3 587.60H45.6M41.3 559.20H45.6M41.3 530.80H45.6M69.50 737.6V742.3M149.20 737.6V742.3M228.90 737.6V742.3M308.60 737.6V742.3M388.30 737.6V742.3" stroke="#000" stroke-width="1.3"/>
<text x="173.8" y="775.6" font-size="14.6" textLength="137.4" lengthAdjust="spacingAndGlyphs">AML RNA expression (log<tspan font-size="10.2" dy="3">10</tspan><tspan dy="-3">)</tspan></text>
<text transform="translate(21.4 700.4) rotate(-90)" x="0" y="0" font-size="14.6" textLength="153.3" lengthAdjust="spacingAndGlyphs">AML protein expression (log<tspan font-size="10.2" dy="3">10</tspan><tspan dy="-3">)</tspan></text>
<rect x="61.2" y="522.3" width="71.1" height="102.9" fill="none" stroke="#3bb54a" stroke-width="2"/>
<rect x="197.0" y="673.5" width="199.4" height="61.1" fill="none" stroke="#3bb54a" stroke-width="2"/>
<rect x="353.4" y="545.7" width="88.8" height="64.3" fill="none" stroke="#1f4e8c" stroke-width="2"/>
<rect x="313.3" y="724.9" width="73.6" height="8.2" fill="none" stroke="#1f4e8c" stroke-width="2"/>
<text x="96.20" y="486.70" font-size="11.8" text-anchor="middle" fill="#3bb54a">Post-</text>
<text x="96.40" y="501.20" font-size="11.8" text-anchor="middle" fill="#3bb54a" textLength="74.50" lengthAdjust="spacingAndGlyphs">transcriptional</text>
<text x="96.60" y="514.60" font-size="11.8" text-anchor="middle" fill="#3bb54a" textLength="54.80" lengthAdjust="spacingAndGlyphs">regulation</text>
<text x="236.50" y="702.00" font-size="11.8" fill="#2ca44a" textLength="102.60" lengthAdjust="spacingAndGlyphs">Post-transcriptional</text>
<text x="315.00" y="715.80" font-size="11.8" text-anchor="end" fill="#2ca44a" textLength="54.80" lengthAdjust="spacingAndGlyphs">regulation</text>
<text x="323.40" y="718.30" font-size="11.8" fill="#1f4e8c" textLength="52.90" lengthAdjust="spacingAndGlyphs">MT genes</text>
<text x="370.30" y="623.50" font-size="11.8" fill="#1f4e8c" textLength="52.40" lengthAdjust="spacingAndGlyphs">MT genes</text>
<text x="252.7" y="514.8" font-size="11.4"><tspan font-style="italic">R</tspan><tspan font-size="6.5" dy="-4.5">2</tspan><tspan dy="4.5"> = 0.34</tspan></text>
<text x="347.90" y="514.00" font-size="11.4" fill="#231f20" textLength="19.00" lengthAdjust="spacingAndGlyphs">LYZ</text>
<text x="374.50" y="510.60" font-size="11.4" fill="#231f20" textLength="27.10" lengthAdjust="spacingAndGlyphs">MPO</text>
<circle cx="81.9" cy="537.1" r="2.2" fill="#c8102e"/>
<circle cx="74.2" cy="548.8" r="2.2" fill="#c8102e"/>
<circle cx="82.3" cy="552.5" r="2.2" fill="#c8102e"/>
<circle cx="70.2" cy="565.4" r="2.2" fill="#1b4f8a"/>
<circle cx="94.2" cy="565.6" r="2.2" fill="#c8102e"/>
<circle cx="120.4" cy="561.3" r="2.2" fill="#c8102e"/>
<circle cx="102.5" cy="580.4" r="2.2" fill="#c8102e"/>
<circle cx="94.6" cy="606.0" r="2.2" fill="#f7941d"/>
<circle cx="111.2" cy="620.6" r="2.2" fill="#29abe2"/>
<circle cx="228.7" cy="729.1" r="2.2" fill="#5b2a86"/>
<rect x="449.2" y="661.50" width="7.7" height="7.7" fill="#c8102e"/>
<text x="462.30" y="669.10" font-size="10.8" fill="#231f20" textLength="41.50" lengthAdjust="spacingAndGlyphs">Histones</text>
<rect x="449.2" y="674.88" width="7.7" height="7.7" fill="#1b4f8a"/>
<text x="462.30" y="682.48" font-size="10.8" fill="#231f20" textLength="38.50" lengthAdjust="spacingAndGlyphs">STMN2</text>
<rect x="449.2" y="688.26" width="7.7" height="7.7" fill="#29abe2"/>
<text x="462.30" y="695.86" font-size="10.8" fill="#231f20" textLength="33.50" lengthAdjust="spacingAndGlyphs">TCL1A</text>
<rect x="449.2" y="701.64" width="7.7" height="7.7" fill="#f7941d"/>
<text x="462.30" y="709.24" font-size="10.8" fill="#231f20" textLength="21.60" lengthAdjust="spacingAndGlyphs">KDR</text>
<rect x="449.2" y="715.02" width="7.7" height="7.7" fill="#5b2a86"/>
<text x="462.30" y="722.62" font-size="10.8" fill="#231f20" textLength="24.60" lengthAdjust="spacingAndGlyphs">TP53</text>
<rect x="0" y="0" width="520" height="1.4" fill="#000"/><rect x="0" y="0" width="1.6" height="786" fill="#000"/><rect x="518.3" y="0" width="1.7" height="786" fill="#000"/><rect x="0" y="784.1" width="520" height="1.9" fill="#000"/>
</svg></body></html>
